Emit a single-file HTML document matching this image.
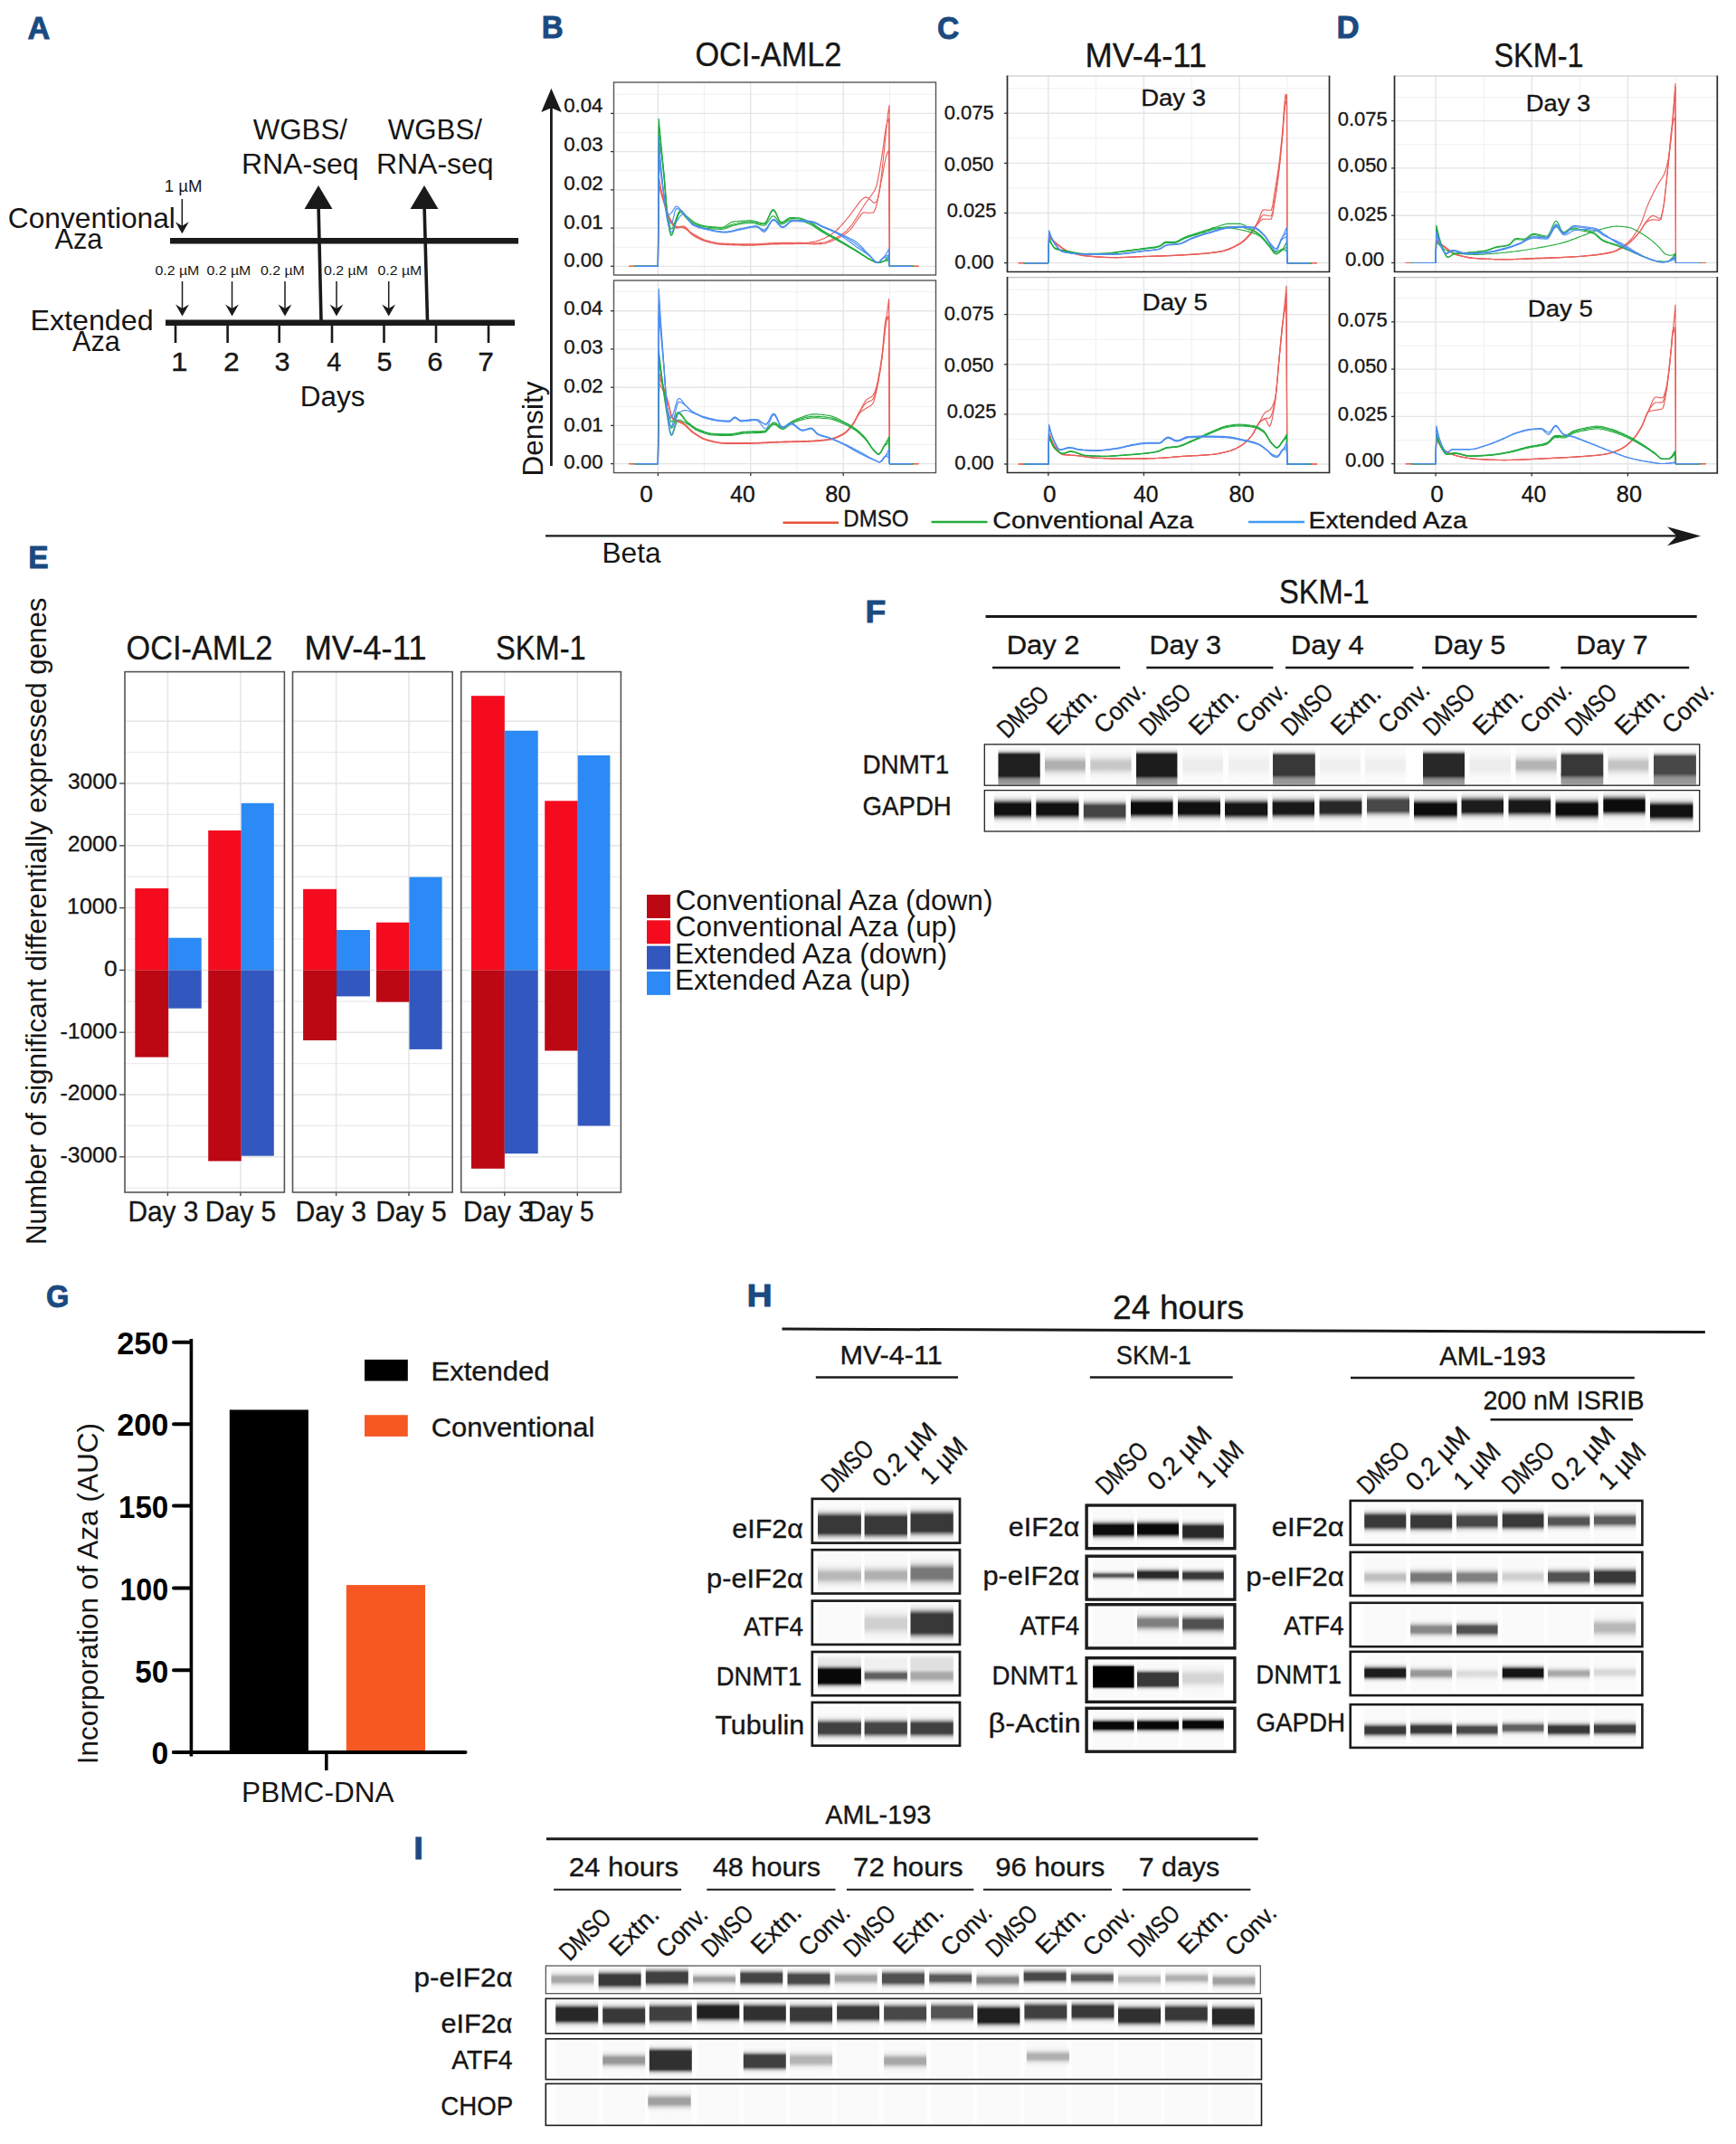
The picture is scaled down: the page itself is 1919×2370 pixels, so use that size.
<!DOCTYPE html>
<html lang="en">
<head>
<meta charset="utf-8">
<title>Figure</title>
<style>html,body{margin:0;padding:0;background:#fff}svg{display:block}.t{stroke:#161616;stroke-width:.35px}</style>
</head>
<body>
<svg width="1919" height="2370" viewBox="0 0 1919 2370" font-family='"Liberation Sans", sans-serif' fill="#161616">
<defs>
<linearGradient id="b1" x1="0" y1="0" x2="0" y2="1"><stop offset="0.000" stop-color="#989898" stop-opacity="0.00"/><stop offset="0.059" stop-color="#989898" stop-opacity="0.03"/><stop offset="0.113" stop-color="#989898" stop-opacity="0.11"/><stop offset="0.157" stop-color="#989898" stop-opacity="0.27"/><stop offset="0.194" stop-color="#989898" stop-opacity="0.50"/><stop offset="0.227" stop-color="#989898" stop-opacity="0.74"/><stop offset="0.251" stop-color="#989898" stop-opacity="0.91"/><stop offset="0.270" stop-color="#989898" stop-opacity="1.00"/><stop offset="0.730" stop-color="#989898" stop-opacity="1.00"/><stop offset="0.749" stop-color="#989898" stop-opacity="0.91"/><stop offset="0.773" stop-color="#989898" stop-opacity="0.74"/><stop offset="0.806" stop-color="#989898" stop-opacity="0.50"/><stop offset="0.843" stop-color="#989898" stop-opacity="0.27"/><stop offset="0.887" stop-color="#989898" stop-opacity="0.11"/><stop offset="0.941" stop-color="#989898" stop-opacity="0.03"/><stop offset="1.000" stop-color="#989898" stop-opacity="0.00"/></linearGradient>
<linearGradient id="b2" x1="0" y1="0" x2="0" y2="1"><stop offset="0.000" stop-color="#202020" stop-opacity="0.00"/><stop offset="0.044" stop-color="#202020" stop-opacity="0.03"/><stop offset="0.084" stop-color="#202020" stop-opacity="0.11"/><stop offset="0.116" stop-color="#202020" stop-opacity="0.27"/><stop offset="0.144" stop-color="#202020" stop-opacity="0.50"/><stop offset="0.168" stop-color="#202020" stop-opacity="0.74"/><stop offset="0.186" stop-color="#202020" stop-opacity="0.91"/><stop offset="0.200" stop-color="#202020" stop-opacity="1.00"/><stop offset="0.800" stop-color="#202020" stop-opacity="1.00"/><stop offset="0.814" stop-color="#202020" stop-opacity="0.91"/><stop offset="0.832" stop-color="#202020" stop-opacity="0.74"/><stop offset="0.856" stop-color="#202020" stop-opacity="0.50"/><stop offset="0.884" stop-color="#202020" stop-opacity="0.27"/><stop offset="0.916" stop-color="#202020" stop-opacity="0.11"/><stop offset="0.956" stop-color="#202020" stop-opacity="0.03"/><stop offset="1.000" stop-color="#202020" stop-opacity="0.00"/></linearGradient>
<linearGradient id="b3" x1="0" y1="0" x2="0" y2="1"><stop offset="0.000" stop-color="#b0b0b0" stop-opacity="0.00"/><stop offset="0.092" stop-color="#b0b0b0" stop-opacity="0.03"/><stop offset="0.176" stop-color="#b0b0b0" stop-opacity="0.11"/><stop offset="0.244" stop-color="#b0b0b0" stop-opacity="0.27"/><stop offset="0.302" stop-color="#b0b0b0" stop-opacity="0.50"/><stop offset="0.353" stop-color="#b0b0b0" stop-opacity="0.74"/><stop offset="0.391" stop-color="#b0b0b0" stop-opacity="0.91"/><stop offset="0.420" stop-color="#b0b0b0" stop-opacity="1.00"/><stop offset="0.580" stop-color="#b0b0b0" stop-opacity="1.00"/><stop offset="0.609" stop-color="#b0b0b0" stop-opacity="0.91"/><stop offset="0.647" stop-color="#b0b0b0" stop-opacity="0.74"/><stop offset="0.698" stop-color="#b0b0b0" stop-opacity="0.50"/><stop offset="0.756" stop-color="#b0b0b0" stop-opacity="0.27"/><stop offset="0.824" stop-color="#b0b0b0" stop-opacity="0.11"/><stop offset="0.908" stop-color="#b0b0b0" stop-opacity="0.03"/><stop offset="1.000" stop-color="#b0b0b0" stop-opacity="0.00"/></linearGradient>
<linearGradient id="b4" x1="0" y1="0" x2="0" y2="1"><stop offset="0.000" stop-color="#c8c8c8" stop-opacity="0.00"/><stop offset="0.092" stop-color="#c8c8c8" stop-opacity="0.03"/><stop offset="0.176" stop-color="#c8c8c8" stop-opacity="0.11"/><stop offset="0.244" stop-color="#c8c8c8" stop-opacity="0.27"/><stop offset="0.302" stop-color="#c8c8c8" stop-opacity="0.50"/><stop offset="0.353" stop-color="#c8c8c8" stop-opacity="0.74"/><stop offset="0.391" stop-color="#c8c8c8" stop-opacity="0.91"/><stop offset="0.420" stop-color="#c8c8c8" stop-opacity="1.00"/><stop offset="0.580" stop-color="#c8c8c8" stop-opacity="1.00"/><stop offset="0.609" stop-color="#c8c8c8" stop-opacity="0.91"/><stop offset="0.647" stop-color="#c8c8c8" stop-opacity="0.74"/><stop offset="0.698" stop-color="#c8c8c8" stop-opacity="0.50"/><stop offset="0.756" stop-color="#c8c8c8" stop-opacity="0.27"/><stop offset="0.824" stop-color="#c8c8c8" stop-opacity="0.11"/><stop offset="0.908" stop-color="#c8c8c8" stop-opacity="0.03"/><stop offset="1.000" stop-color="#c8c8c8" stop-opacity="0.00"/></linearGradient>
<linearGradient id="b5" x1="0" y1="0" x2="0" y2="1"><stop offset="0.000" stop-color="#1c1c1c" stop-opacity="0.00"/><stop offset="0.044" stop-color="#1c1c1c" stop-opacity="0.03"/><stop offset="0.084" stop-color="#1c1c1c" stop-opacity="0.11"/><stop offset="0.116" stop-color="#1c1c1c" stop-opacity="0.27"/><stop offset="0.144" stop-color="#1c1c1c" stop-opacity="0.50"/><stop offset="0.168" stop-color="#1c1c1c" stop-opacity="0.74"/><stop offset="0.186" stop-color="#1c1c1c" stop-opacity="0.91"/><stop offset="0.200" stop-color="#1c1c1c" stop-opacity="1.00"/><stop offset="0.800" stop-color="#1c1c1c" stop-opacity="1.00"/><stop offset="0.814" stop-color="#1c1c1c" stop-opacity="0.91"/><stop offset="0.832" stop-color="#1c1c1c" stop-opacity="0.74"/><stop offset="0.856" stop-color="#1c1c1c" stop-opacity="0.50"/><stop offset="0.884" stop-color="#1c1c1c" stop-opacity="0.27"/><stop offset="0.916" stop-color="#1c1c1c" stop-opacity="0.11"/><stop offset="0.956" stop-color="#1c1c1c" stop-opacity="0.03"/><stop offset="1.000" stop-color="#1c1c1c" stop-opacity="0.00"/></linearGradient>
<linearGradient id="b6" x1="0" y1="0" x2="0" y2="1"><stop offset="0.000" stop-color="#ececec" stop-opacity="0.00"/><stop offset="0.086" stop-color="#ececec" stop-opacity="0.03"/><stop offset="0.164" stop-color="#ececec" stop-opacity="0.11"/><stop offset="0.226" stop-color="#ececec" stop-opacity="0.27"/><stop offset="0.281" stop-color="#ececec" stop-opacity="0.50"/><stop offset="0.328" stop-color="#ececec" stop-opacity="0.74"/><stop offset="0.363" stop-color="#ececec" stop-opacity="0.91"/><stop offset="0.390" stop-color="#ececec" stop-opacity="1.00"/><stop offset="0.610" stop-color="#ececec" stop-opacity="1.00"/><stop offset="0.637" stop-color="#ececec" stop-opacity="0.91"/><stop offset="0.672" stop-color="#ececec" stop-opacity="0.74"/><stop offset="0.719" stop-color="#ececec" stop-opacity="0.50"/><stop offset="0.774" stop-color="#ececec" stop-opacity="0.27"/><stop offset="0.836" stop-color="#ececec" stop-opacity="0.11"/><stop offset="0.914" stop-color="#ececec" stop-opacity="0.03"/><stop offset="1.000" stop-color="#ececec" stop-opacity="0.00"/></linearGradient>
<linearGradient id="b7" x1="0" y1="0" x2="0" y2="1"><stop offset="0.000" stop-color="#f0f0f0" stop-opacity="0.00"/><stop offset="0.086" stop-color="#f0f0f0" stop-opacity="0.03"/><stop offset="0.164" stop-color="#f0f0f0" stop-opacity="0.11"/><stop offset="0.226" stop-color="#f0f0f0" stop-opacity="0.27"/><stop offset="0.281" stop-color="#f0f0f0" stop-opacity="0.50"/><stop offset="0.328" stop-color="#f0f0f0" stop-opacity="0.74"/><stop offset="0.363" stop-color="#f0f0f0" stop-opacity="0.91"/><stop offset="0.390" stop-color="#f0f0f0" stop-opacity="1.00"/><stop offset="0.610" stop-color="#f0f0f0" stop-opacity="1.00"/><stop offset="0.637" stop-color="#f0f0f0" stop-opacity="0.91"/><stop offset="0.672" stop-color="#f0f0f0" stop-opacity="0.74"/><stop offset="0.719" stop-color="#f0f0f0" stop-opacity="0.50"/><stop offset="0.774" stop-color="#f0f0f0" stop-opacity="0.27"/><stop offset="0.836" stop-color="#f0f0f0" stop-opacity="0.11"/><stop offset="0.914" stop-color="#f0f0f0" stop-opacity="0.03"/><stop offset="1.000" stop-color="#f0f0f0" stop-opacity="0.00"/></linearGradient>
<linearGradient id="b8" x1="0" y1="0" x2="0" y2="1"><stop offset="0.000" stop-color="#383838" stop-opacity="0.00"/><stop offset="0.046" stop-color="#383838" stop-opacity="0.03"/><stop offset="0.088" stop-color="#383838" stop-opacity="0.11"/><stop offset="0.122" stop-color="#383838" stop-opacity="0.27"/><stop offset="0.151" stop-color="#383838" stop-opacity="0.50"/><stop offset="0.176" stop-color="#383838" stop-opacity="0.74"/><stop offset="0.195" stop-color="#383838" stop-opacity="0.91"/><stop offset="0.210" stop-color="#383838" stop-opacity="1.00"/><stop offset="0.790" stop-color="#383838" stop-opacity="1.00"/><stop offset="0.805" stop-color="#383838" stop-opacity="0.91"/><stop offset="0.824" stop-color="#383838" stop-opacity="0.74"/><stop offset="0.849" stop-color="#383838" stop-opacity="0.50"/><stop offset="0.878" stop-color="#383838" stop-opacity="0.27"/><stop offset="0.912" stop-color="#383838" stop-opacity="0.11"/><stop offset="0.954" stop-color="#383838" stop-opacity="0.03"/><stop offset="1.000" stop-color="#383838" stop-opacity="0.00"/></linearGradient>
<linearGradient id="b9" x1="0" y1="0" x2="0" y2="1"><stop offset="0.000" stop-color="#282828" stop-opacity="0.00"/><stop offset="0.044" stop-color="#282828" stop-opacity="0.03"/><stop offset="0.084" stop-color="#282828" stop-opacity="0.11"/><stop offset="0.116" stop-color="#282828" stop-opacity="0.27"/><stop offset="0.144" stop-color="#282828" stop-opacity="0.50"/><stop offset="0.168" stop-color="#282828" stop-opacity="0.74"/><stop offset="0.186" stop-color="#282828" stop-opacity="0.91"/><stop offset="0.200" stop-color="#282828" stop-opacity="1.00"/><stop offset="0.800" stop-color="#282828" stop-opacity="1.00"/><stop offset="0.814" stop-color="#282828" stop-opacity="0.91"/><stop offset="0.832" stop-color="#282828" stop-opacity="0.74"/><stop offset="0.856" stop-color="#282828" stop-opacity="0.50"/><stop offset="0.884" stop-color="#282828" stop-opacity="0.27"/><stop offset="0.916" stop-color="#282828" stop-opacity="0.11"/><stop offset="0.956" stop-color="#282828" stop-opacity="0.03"/><stop offset="1.000" stop-color="#282828" stop-opacity="0.00"/></linearGradient>
<linearGradient id="b10" x1="0" y1="0" x2="0" y2="1"><stop offset="0.000" stop-color="#b4b4b4" stop-opacity="0.00"/><stop offset="0.092" stop-color="#b4b4b4" stop-opacity="0.03"/><stop offset="0.176" stop-color="#b4b4b4" stop-opacity="0.11"/><stop offset="0.244" stop-color="#b4b4b4" stop-opacity="0.27"/><stop offset="0.302" stop-color="#b4b4b4" stop-opacity="0.50"/><stop offset="0.353" stop-color="#b4b4b4" stop-opacity="0.74"/><stop offset="0.391" stop-color="#b4b4b4" stop-opacity="0.91"/><stop offset="0.420" stop-color="#b4b4b4" stop-opacity="1.00"/><stop offset="0.580" stop-color="#b4b4b4" stop-opacity="1.00"/><stop offset="0.609" stop-color="#b4b4b4" stop-opacity="0.91"/><stop offset="0.647" stop-color="#b4b4b4" stop-opacity="0.74"/><stop offset="0.698" stop-color="#b4b4b4" stop-opacity="0.50"/><stop offset="0.756" stop-color="#b4b4b4" stop-opacity="0.27"/><stop offset="0.824" stop-color="#b4b4b4" stop-opacity="0.11"/><stop offset="0.908" stop-color="#b4b4b4" stop-opacity="0.03"/><stop offset="1.000" stop-color="#b4b4b4" stop-opacity="0.00"/></linearGradient>
<linearGradient id="b11" x1="0" y1="0" x2="0" y2="1"><stop offset="0.000" stop-color="#c4c4c4" stop-opacity="0.00"/><stop offset="0.092" stop-color="#c4c4c4" stop-opacity="0.03"/><stop offset="0.176" stop-color="#c4c4c4" stop-opacity="0.11"/><stop offset="0.244" stop-color="#c4c4c4" stop-opacity="0.27"/><stop offset="0.302" stop-color="#c4c4c4" stop-opacity="0.50"/><stop offset="0.353" stop-color="#c4c4c4" stop-opacity="0.74"/><stop offset="0.391" stop-color="#c4c4c4" stop-opacity="0.91"/><stop offset="0.420" stop-color="#c4c4c4" stop-opacity="1.00"/><stop offset="0.580" stop-color="#c4c4c4" stop-opacity="1.00"/><stop offset="0.609" stop-color="#c4c4c4" stop-opacity="0.91"/><stop offset="0.647" stop-color="#c4c4c4" stop-opacity="0.74"/><stop offset="0.698" stop-color="#c4c4c4" stop-opacity="0.50"/><stop offset="0.756" stop-color="#c4c4c4" stop-opacity="0.27"/><stop offset="0.824" stop-color="#c4c4c4" stop-opacity="0.11"/><stop offset="0.908" stop-color="#c4c4c4" stop-opacity="0.03"/><stop offset="1.000" stop-color="#c4c4c4" stop-opacity="0.00"/></linearGradient>
<linearGradient id="b12" x1="0" y1="0" x2="0" y2="1"><stop offset="0.000" stop-color="#484848" stop-opacity="0.00"/><stop offset="0.051" stop-color="#484848" stop-opacity="0.03"/><stop offset="0.097" stop-color="#484848" stop-opacity="0.11"/><stop offset="0.133" stop-color="#484848" stop-opacity="0.27"/><stop offset="0.166" stop-color="#484848" stop-opacity="0.50"/><stop offset="0.193" stop-color="#484848" stop-opacity="0.74"/><stop offset="0.214" stop-color="#484848" stop-opacity="0.91"/><stop offset="0.230" stop-color="#484848" stop-opacity="1.00"/><stop offset="0.770" stop-color="#484848" stop-opacity="1.00"/><stop offset="0.786" stop-color="#484848" stop-opacity="0.91"/><stop offset="0.807" stop-color="#484848" stop-opacity="0.74"/><stop offset="0.834" stop-color="#484848" stop-opacity="0.50"/><stop offset="0.867" stop-color="#484848" stop-opacity="0.27"/><stop offset="0.903" stop-color="#484848" stop-opacity="0.11"/><stop offset="0.949" stop-color="#484848" stop-opacity="0.03"/><stop offset="1.000" stop-color="#484848" stop-opacity="0.00"/></linearGradient>
<linearGradient id="b13" x1="0" y1="0" x2="0" y2="1"><stop offset="0.000" stop-color="#101010" stop-opacity="0.00"/><stop offset="0.075" stop-color="#101010" stop-opacity="0.03"/><stop offset="0.143" stop-color="#101010" stop-opacity="0.11"/><stop offset="0.197" stop-color="#101010" stop-opacity="0.27"/><stop offset="0.245" stop-color="#101010" stop-opacity="0.50"/><stop offset="0.286" stop-color="#101010" stop-opacity="0.74"/><stop offset="0.316" stop-color="#101010" stop-opacity="0.91"/><stop offset="0.340" stop-color="#101010" stop-opacity="1.00"/><stop offset="0.660" stop-color="#101010" stop-opacity="1.00"/><stop offset="0.684" stop-color="#101010" stop-opacity="0.91"/><stop offset="0.714" stop-color="#101010" stop-opacity="0.74"/><stop offset="0.755" stop-color="#101010" stop-opacity="0.50"/><stop offset="0.803" stop-color="#101010" stop-opacity="0.27"/><stop offset="0.857" stop-color="#101010" stop-opacity="0.11"/><stop offset="0.925" stop-color="#101010" stop-opacity="0.03"/><stop offset="1.000" stop-color="#101010" stop-opacity="0.00"/></linearGradient>
<linearGradient id="b14" x1="0" y1="0" x2="0" y2="1"><stop offset="0.000" stop-color="#444444" stop-opacity="0.00"/><stop offset="0.075" stop-color="#444444" stop-opacity="0.03"/><stop offset="0.143" stop-color="#444444" stop-opacity="0.11"/><stop offset="0.197" stop-color="#444444" stop-opacity="0.27"/><stop offset="0.245" stop-color="#444444" stop-opacity="0.50"/><stop offset="0.286" stop-color="#444444" stop-opacity="0.74"/><stop offset="0.316" stop-color="#444444" stop-opacity="0.91"/><stop offset="0.340" stop-color="#444444" stop-opacity="1.00"/><stop offset="0.660" stop-color="#444444" stop-opacity="1.00"/><stop offset="0.684" stop-color="#444444" stop-opacity="0.91"/><stop offset="0.714" stop-color="#444444" stop-opacity="0.74"/><stop offset="0.755" stop-color="#444444" stop-opacity="0.50"/><stop offset="0.803" stop-color="#444444" stop-opacity="0.27"/><stop offset="0.857" stop-color="#444444" stop-opacity="0.11"/><stop offset="0.925" stop-color="#444444" stop-opacity="0.03"/><stop offset="1.000" stop-color="#444444" stop-opacity="0.00"/></linearGradient>
<linearGradient id="b15" x1="0" y1="0" x2="0" y2="1"><stop offset="0.000" stop-color="#0c0c0c" stop-opacity="0.00"/><stop offset="0.075" stop-color="#0c0c0c" stop-opacity="0.03"/><stop offset="0.143" stop-color="#0c0c0c" stop-opacity="0.11"/><stop offset="0.197" stop-color="#0c0c0c" stop-opacity="0.27"/><stop offset="0.245" stop-color="#0c0c0c" stop-opacity="0.50"/><stop offset="0.286" stop-color="#0c0c0c" stop-opacity="0.74"/><stop offset="0.316" stop-color="#0c0c0c" stop-opacity="0.91"/><stop offset="0.340" stop-color="#0c0c0c" stop-opacity="1.00"/><stop offset="0.660" stop-color="#0c0c0c" stop-opacity="1.00"/><stop offset="0.684" stop-color="#0c0c0c" stop-opacity="0.91"/><stop offset="0.714" stop-color="#0c0c0c" stop-opacity="0.74"/><stop offset="0.755" stop-color="#0c0c0c" stop-opacity="0.50"/><stop offset="0.803" stop-color="#0c0c0c" stop-opacity="0.27"/><stop offset="0.857" stop-color="#0c0c0c" stop-opacity="0.11"/><stop offset="0.925" stop-color="#0c0c0c" stop-opacity="0.03"/><stop offset="1.000" stop-color="#0c0c0c" stop-opacity="0.00"/></linearGradient>
<linearGradient id="b16" x1="0" y1="0" x2="0" y2="1"><stop offset="0.000" stop-color="#141414" stop-opacity="0.00"/><stop offset="0.075" stop-color="#141414" stop-opacity="0.03"/><stop offset="0.143" stop-color="#141414" stop-opacity="0.11"/><stop offset="0.197" stop-color="#141414" stop-opacity="0.27"/><stop offset="0.245" stop-color="#141414" stop-opacity="0.50"/><stop offset="0.286" stop-color="#141414" stop-opacity="0.74"/><stop offset="0.316" stop-color="#141414" stop-opacity="0.91"/><stop offset="0.340" stop-color="#141414" stop-opacity="1.00"/><stop offset="0.660" stop-color="#141414" stop-opacity="1.00"/><stop offset="0.684" stop-color="#141414" stop-opacity="0.91"/><stop offset="0.714" stop-color="#141414" stop-opacity="0.74"/><stop offset="0.755" stop-color="#141414" stop-opacity="0.50"/><stop offset="0.803" stop-color="#141414" stop-opacity="0.27"/><stop offset="0.857" stop-color="#141414" stop-opacity="0.11"/><stop offset="0.925" stop-color="#141414" stop-opacity="0.03"/><stop offset="1.000" stop-color="#141414" stop-opacity="0.00"/></linearGradient>
<linearGradient id="b17" x1="0" y1="0" x2="0" y2="1"><stop offset="0.000" stop-color="#181818" stop-opacity="0.00"/><stop offset="0.075" stop-color="#181818" stop-opacity="0.03"/><stop offset="0.143" stop-color="#181818" stop-opacity="0.11"/><stop offset="0.197" stop-color="#181818" stop-opacity="0.27"/><stop offset="0.245" stop-color="#181818" stop-opacity="0.50"/><stop offset="0.286" stop-color="#181818" stop-opacity="0.74"/><stop offset="0.316" stop-color="#181818" stop-opacity="0.91"/><stop offset="0.340" stop-color="#181818" stop-opacity="1.00"/><stop offset="0.660" stop-color="#181818" stop-opacity="1.00"/><stop offset="0.684" stop-color="#181818" stop-opacity="0.91"/><stop offset="0.714" stop-color="#181818" stop-opacity="0.74"/><stop offset="0.755" stop-color="#181818" stop-opacity="0.50"/><stop offset="0.803" stop-color="#181818" stop-opacity="0.27"/><stop offset="0.857" stop-color="#181818" stop-opacity="0.11"/><stop offset="0.925" stop-color="#181818" stop-opacity="0.03"/><stop offset="1.000" stop-color="#181818" stop-opacity="0.00"/></linearGradient>
<linearGradient id="b18" x1="0" y1="0" x2="0" y2="1"><stop offset="0.000" stop-color="#282828" stop-opacity="0.00"/><stop offset="0.075" stop-color="#282828" stop-opacity="0.03"/><stop offset="0.143" stop-color="#282828" stop-opacity="0.11"/><stop offset="0.197" stop-color="#282828" stop-opacity="0.27"/><stop offset="0.245" stop-color="#282828" stop-opacity="0.50"/><stop offset="0.286" stop-color="#282828" stop-opacity="0.74"/><stop offset="0.316" stop-color="#282828" stop-opacity="0.91"/><stop offset="0.340" stop-color="#282828" stop-opacity="1.00"/><stop offset="0.660" stop-color="#282828" stop-opacity="1.00"/><stop offset="0.684" stop-color="#282828" stop-opacity="0.91"/><stop offset="0.714" stop-color="#282828" stop-opacity="0.74"/><stop offset="0.755" stop-color="#282828" stop-opacity="0.50"/><stop offset="0.803" stop-color="#282828" stop-opacity="0.27"/><stop offset="0.857" stop-color="#282828" stop-opacity="0.11"/><stop offset="0.925" stop-color="#282828" stop-opacity="0.03"/><stop offset="1.000" stop-color="#282828" stop-opacity="0.00"/></linearGradient>
<linearGradient id="b19" x1="0" y1="0" x2="0" y2="1"><stop offset="0.000" stop-color="#484848" stop-opacity="0.00"/><stop offset="0.075" stop-color="#484848" stop-opacity="0.03"/><stop offset="0.143" stop-color="#484848" stop-opacity="0.11"/><stop offset="0.197" stop-color="#484848" stop-opacity="0.27"/><stop offset="0.245" stop-color="#484848" stop-opacity="0.50"/><stop offset="0.286" stop-color="#484848" stop-opacity="0.74"/><stop offset="0.316" stop-color="#484848" stop-opacity="0.91"/><stop offset="0.340" stop-color="#484848" stop-opacity="1.00"/><stop offset="0.660" stop-color="#484848" stop-opacity="1.00"/><stop offset="0.684" stop-color="#484848" stop-opacity="0.91"/><stop offset="0.714" stop-color="#484848" stop-opacity="0.74"/><stop offset="0.755" stop-color="#484848" stop-opacity="0.50"/><stop offset="0.803" stop-color="#484848" stop-opacity="0.27"/><stop offset="0.857" stop-color="#484848" stop-opacity="0.11"/><stop offset="0.925" stop-color="#484848" stop-opacity="0.03"/><stop offset="1.000" stop-color="#484848" stop-opacity="0.00"/></linearGradient>
<linearGradient id="b20" x1="0" y1="0" x2="0" y2="1"><stop offset="0.000" stop-color="#1c1c1c" stop-opacity="0.00"/><stop offset="0.075" stop-color="#1c1c1c" stop-opacity="0.03"/><stop offset="0.143" stop-color="#1c1c1c" stop-opacity="0.11"/><stop offset="0.197" stop-color="#1c1c1c" stop-opacity="0.27"/><stop offset="0.245" stop-color="#1c1c1c" stop-opacity="0.50"/><stop offset="0.286" stop-color="#1c1c1c" stop-opacity="0.74"/><stop offset="0.316" stop-color="#1c1c1c" stop-opacity="0.91"/><stop offset="0.340" stop-color="#1c1c1c" stop-opacity="1.00"/><stop offset="0.660" stop-color="#1c1c1c" stop-opacity="1.00"/><stop offset="0.684" stop-color="#1c1c1c" stop-opacity="0.91"/><stop offset="0.714" stop-color="#1c1c1c" stop-opacity="0.74"/><stop offset="0.755" stop-color="#1c1c1c" stop-opacity="0.50"/><stop offset="0.803" stop-color="#1c1c1c" stop-opacity="0.27"/><stop offset="0.857" stop-color="#1c1c1c" stop-opacity="0.11"/><stop offset="0.925" stop-color="#1c1c1c" stop-opacity="0.03"/><stop offset="1.000" stop-color="#1c1c1c" stop-opacity="0.00"/></linearGradient>
<linearGradient id="b21" x1="0" y1="0" x2="0" y2="1"><stop offset="0.000" stop-color="#383838" stop-opacity="0.00"/><stop offset="0.064" stop-color="#383838" stop-opacity="0.03"/><stop offset="0.122" stop-color="#383838" stop-opacity="0.11"/><stop offset="0.168" stop-color="#383838" stop-opacity="0.27"/><stop offset="0.209" stop-color="#383838" stop-opacity="0.50"/><stop offset="0.244" stop-color="#383838" stop-opacity="0.74"/><stop offset="0.270" stop-color="#383838" stop-opacity="0.91"/><stop offset="0.290" stop-color="#383838" stop-opacity="1.00"/><stop offset="0.710" stop-color="#383838" stop-opacity="1.00"/><stop offset="0.730" stop-color="#383838" stop-opacity="0.91"/><stop offset="0.756" stop-color="#383838" stop-opacity="0.74"/><stop offset="0.791" stop-color="#383838" stop-opacity="0.50"/><stop offset="0.832" stop-color="#383838" stop-opacity="0.27"/><stop offset="0.878" stop-color="#383838" stop-opacity="0.11"/><stop offset="0.936" stop-color="#383838" stop-opacity="0.03"/><stop offset="1.000" stop-color="#383838" stop-opacity="0.00"/></linearGradient>
<linearGradient id="b22" x1="0" y1="0" x2="0" y2="1"><stop offset="0.000" stop-color="#b8b8b8" stop-opacity="0.00"/><stop offset="0.095" stop-color="#b8b8b8" stop-opacity="0.03"/><stop offset="0.181" stop-color="#b8b8b8" stop-opacity="0.11"/><stop offset="0.249" stop-color="#b8b8b8" stop-opacity="0.27"/><stop offset="0.310" stop-color="#b8b8b8" stop-opacity="0.50"/><stop offset="0.361" stop-color="#b8b8b8" stop-opacity="0.74"/><stop offset="0.400" stop-color="#b8b8b8" stop-opacity="0.91"/><stop offset="0.430" stop-color="#b8b8b8" stop-opacity="1.00"/><stop offset="0.570" stop-color="#b8b8b8" stop-opacity="1.00"/><stop offset="0.600" stop-color="#b8b8b8" stop-opacity="0.91"/><stop offset="0.639" stop-color="#b8b8b8" stop-opacity="0.74"/><stop offset="0.690" stop-color="#b8b8b8" stop-opacity="0.50"/><stop offset="0.751" stop-color="#b8b8b8" stop-opacity="0.27"/><stop offset="0.819" stop-color="#b8b8b8" stop-opacity="0.11"/><stop offset="0.905" stop-color="#b8b8b8" stop-opacity="0.03"/><stop offset="1.000" stop-color="#b8b8b8" stop-opacity="0.00"/></linearGradient>
<linearGradient id="b23" x1="0" y1="0" x2="0" y2="1"><stop offset="0.000" stop-color="#b0b0b0" stop-opacity="0.00"/><stop offset="0.095" stop-color="#b0b0b0" stop-opacity="0.03"/><stop offset="0.181" stop-color="#b0b0b0" stop-opacity="0.11"/><stop offset="0.249" stop-color="#b0b0b0" stop-opacity="0.27"/><stop offset="0.310" stop-color="#b0b0b0" stop-opacity="0.50"/><stop offset="0.361" stop-color="#b0b0b0" stop-opacity="0.74"/><stop offset="0.400" stop-color="#b0b0b0" stop-opacity="0.91"/><stop offset="0.430" stop-color="#b0b0b0" stop-opacity="1.00"/><stop offset="0.570" stop-color="#b0b0b0" stop-opacity="1.00"/><stop offset="0.600" stop-color="#b0b0b0" stop-opacity="0.91"/><stop offset="0.639" stop-color="#b0b0b0" stop-opacity="0.74"/><stop offset="0.690" stop-color="#b0b0b0" stop-opacity="0.50"/><stop offset="0.751" stop-color="#b0b0b0" stop-opacity="0.27"/><stop offset="0.819" stop-color="#b0b0b0" stop-opacity="0.11"/><stop offset="0.905" stop-color="#b0b0b0" stop-opacity="0.03"/><stop offset="1.000" stop-color="#b0b0b0" stop-opacity="0.00"/></linearGradient>
<linearGradient id="b24" x1="0" y1="0" x2="0" y2="1"><stop offset="0.000" stop-color="#787878" stop-opacity="0.00"/><stop offset="0.084" stop-color="#787878" stop-opacity="0.03"/><stop offset="0.160" stop-color="#787878" stop-opacity="0.11"/><stop offset="0.220" stop-color="#787878" stop-opacity="0.27"/><stop offset="0.274" stop-color="#787878" stop-opacity="0.50"/><stop offset="0.319" stop-color="#787878" stop-opacity="0.74"/><stop offset="0.353" stop-color="#787878" stop-opacity="0.91"/><stop offset="0.380" stop-color="#787878" stop-opacity="1.00"/><stop offset="0.620" stop-color="#787878" stop-opacity="1.00"/><stop offset="0.647" stop-color="#787878" stop-opacity="0.91"/><stop offset="0.681" stop-color="#787878" stop-opacity="0.74"/><stop offset="0.726" stop-color="#787878" stop-opacity="0.50"/><stop offset="0.780" stop-color="#787878" stop-opacity="0.27"/><stop offset="0.840" stop-color="#787878" stop-opacity="0.11"/><stop offset="0.916" stop-color="#787878" stop-opacity="0.03"/><stop offset="1.000" stop-color="#787878" stop-opacity="0.00"/></linearGradient>
<linearGradient id="b25" x1="0" y1="0" x2="0" y2="1"><stop offset="0.000" stop-color="#d0d0d0" stop-opacity="0.00"/><stop offset="0.090" stop-color="#d0d0d0" stop-opacity="0.03"/><stop offset="0.172" stop-color="#d0d0d0" stop-opacity="0.11"/><stop offset="0.238" stop-color="#d0d0d0" stop-opacity="0.27"/><stop offset="0.295" stop-color="#d0d0d0" stop-opacity="0.50"/><stop offset="0.344" stop-color="#d0d0d0" stop-opacity="0.74"/><stop offset="0.381" stop-color="#d0d0d0" stop-opacity="0.91"/><stop offset="0.410" stop-color="#d0d0d0" stop-opacity="1.00"/><stop offset="0.590" stop-color="#d0d0d0" stop-opacity="1.00"/><stop offset="0.619" stop-color="#d0d0d0" stop-opacity="0.91"/><stop offset="0.656" stop-color="#d0d0d0" stop-opacity="0.74"/><stop offset="0.705" stop-color="#d0d0d0" stop-opacity="0.50"/><stop offset="0.762" stop-color="#d0d0d0" stop-opacity="0.27"/><stop offset="0.828" stop-color="#d0d0d0" stop-opacity="0.11"/><stop offset="0.910" stop-color="#d0d0d0" stop-opacity="0.03"/><stop offset="1.000" stop-color="#d0d0d0" stop-opacity="0.00"/></linearGradient>
<linearGradient id="b26" x1="0" y1="0" x2="0" y2="1"><stop offset="0.000" stop-color="#e8e8e8" stop-opacity="0.00"/><stop offset="0.090" stop-color="#e8e8e8" stop-opacity="0.03"/><stop offset="0.172" stop-color="#e8e8e8" stop-opacity="0.11"/><stop offset="0.238" stop-color="#e8e8e8" stop-opacity="0.27"/><stop offset="0.295" stop-color="#e8e8e8" stop-opacity="0.50"/><stop offset="0.344" stop-color="#e8e8e8" stop-opacity="0.74"/><stop offset="0.381" stop-color="#e8e8e8" stop-opacity="0.91"/><stop offset="0.410" stop-color="#e8e8e8" stop-opacity="1.00"/><stop offset="0.590" stop-color="#e8e8e8" stop-opacity="1.00"/><stop offset="0.619" stop-color="#e8e8e8" stop-opacity="0.91"/><stop offset="0.656" stop-color="#e8e8e8" stop-opacity="0.74"/><stop offset="0.705" stop-color="#e8e8e8" stop-opacity="0.50"/><stop offset="0.762" stop-color="#e8e8e8" stop-opacity="0.27"/><stop offset="0.828" stop-color="#e8e8e8" stop-opacity="0.11"/><stop offset="0.910" stop-color="#e8e8e8" stop-opacity="0.03"/><stop offset="1.000" stop-color="#e8e8e8" stop-opacity="0.00"/></linearGradient>
<linearGradient id="b27" x1="0" y1="0" x2="0" y2="1"><stop offset="0.000" stop-color="#080808" stop-opacity="0.00"/><stop offset="0.062" stop-color="#080808" stop-opacity="0.03"/><stop offset="0.118" stop-color="#080808" stop-opacity="0.11"/><stop offset="0.162" stop-color="#080808" stop-opacity="0.27"/><stop offset="0.202" stop-color="#080808" stop-opacity="0.50"/><stop offset="0.235" stop-color="#080808" stop-opacity="0.74"/><stop offset="0.260" stop-color="#080808" stop-opacity="0.91"/><stop offset="0.280" stop-color="#080808" stop-opacity="1.00"/><stop offset="0.720" stop-color="#080808" stop-opacity="1.00"/><stop offset="0.740" stop-color="#080808" stop-opacity="0.91"/><stop offset="0.765" stop-color="#080808" stop-opacity="0.74"/><stop offset="0.798" stop-color="#080808" stop-opacity="0.50"/><stop offset="0.838" stop-color="#080808" stop-opacity="0.27"/><stop offset="0.882" stop-color="#080808" stop-opacity="0.11"/><stop offset="0.938" stop-color="#080808" stop-opacity="0.03"/><stop offset="1.000" stop-color="#080808" stop-opacity="0.00"/></linearGradient>
<linearGradient id="b28" x1="0" y1="0" x2="0" y2="1"><stop offset="0.000" stop-color="#f0f0f0" stop-opacity="0.00"/><stop offset="0.084" stop-color="#f0f0f0" stop-opacity="0.03"/><stop offset="0.160" stop-color="#f0f0f0" stop-opacity="0.11"/><stop offset="0.220" stop-color="#f0f0f0" stop-opacity="0.27"/><stop offset="0.274" stop-color="#f0f0f0" stop-opacity="0.50"/><stop offset="0.319" stop-color="#f0f0f0" stop-opacity="0.74"/><stop offset="0.353" stop-color="#f0f0f0" stop-opacity="0.91"/><stop offset="0.380" stop-color="#f0f0f0" stop-opacity="1.00"/><stop offset="0.620" stop-color="#f0f0f0" stop-opacity="1.00"/><stop offset="0.647" stop-color="#f0f0f0" stop-opacity="0.91"/><stop offset="0.681" stop-color="#f0f0f0" stop-opacity="0.74"/><stop offset="0.726" stop-color="#f0f0f0" stop-opacity="0.50"/><stop offset="0.780" stop-color="#f0f0f0" stop-opacity="0.27"/><stop offset="0.840" stop-color="#f0f0f0" stop-opacity="0.11"/><stop offset="0.916" stop-color="#f0f0f0" stop-opacity="0.03"/><stop offset="1.000" stop-color="#f0f0f0" stop-opacity="0.00"/></linearGradient>
<linearGradient id="b29" x1="0" y1="0" x2="0" y2="1"><stop offset="0.000" stop-color="#606060" stop-opacity="0.00"/><stop offset="0.090" stop-color="#606060" stop-opacity="0.03"/><stop offset="0.172" stop-color="#606060" stop-opacity="0.11"/><stop offset="0.238" stop-color="#606060" stop-opacity="0.27"/><stop offset="0.295" stop-color="#606060" stop-opacity="0.50"/><stop offset="0.344" stop-color="#606060" stop-opacity="0.74"/><stop offset="0.381" stop-color="#606060" stop-opacity="0.91"/><stop offset="0.410" stop-color="#606060" stop-opacity="1.00"/><stop offset="0.590" stop-color="#606060" stop-opacity="1.00"/><stop offset="0.619" stop-color="#606060" stop-opacity="0.91"/><stop offset="0.656" stop-color="#606060" stop-opacity="0.74"/><stop offset="0.705" stop-color="#606060" stop-opacity="0.50"/><stop offset="0.762" stop-color="#606060" stop-opacity="0.27"/><stop offset="0.828" stop-color="#606060" stop-opacity="0.11"/><stop offset="0.910" stop-color="#606060" stop-opacity="0.03"/><stop offset="1.000" stop-color="#606060" stop-opacity="0.00"/></linearGradient>
<linearGradient id="b30" x1="0" y1="0" x2="0" y2="1"><stop offset="0.000" stop-color="#e0e0e0" stop-opacity="0.00"/><stop offset="0.077" stop-color="#e0e0e0" stop-opacity="0.03"/><stop offset="0.147" stop-color="#e0e0e0" stop-opacity="0.11"/><stop offset="0.203" stop-color="#e0e0e0" stop-opacity="0.27"/><stop offset="0.252" stop-color="#e0e0e0" stop-opacity="0.50"/><stop offset="0.294" stop-color="#e0e0e0" stop-opacity="0.74"/><stop offset="0.326" stop-color="#e0e0e0" stop-opacity="0.91"/><stop offset="0.350" stop-color="#e0e0e0" stop-opacity="1.00"/><stop offset="0.650" stop-color="#e0e0e0" stop-opacity="1.00"/><stop offset="0.674" stop-color="#e0e0e0" stop-opacity="0.91"/><stop offset="0.706" stop-color="#e0e0e0" stop-opacity="0.74"/><stop offset="0.748" stop-color="#e0e0e0" stop-opacity="0.50"/><stop offset="0.797" stop-color="#e0e0e0" stop-opacity="0.27"/><stop offset="0.853" stop-color="#e0e0e0" stop-opacity="0.11"/><stop offset="0.923" stop-color="#e0e0e0" stop-opacity="0.03"/><stop offset="1.000" stop-color="#e0e0e0" stop-opacity="0.00"/></linearGradient>
<linearGradient id="b31" x1="0" y1="0" x2="0" y2="1"><stop offset="0.000" stop-color="#a8a8a8" stop-opacity="0.00"/><stop offset="0.090" stop-color="#a8a8a8" stop-opacity="0.03"/><stop offset="0.172" stop-color="#a8a8a8" stop-opacity="0.11"/><stop offset="0.238" stop-color="#a8a8a8" stop-opacity="0.27"/><stop offset="0.295" stop-color="#a8a8a8" stop-opacity="0.50"/><stop offset="0.344" stop-color="#a8a8a8" stop-opacity="0.74"/><stop offset="0.381" stop-color="#a8a8a8" stop-opacity="0.91"/><stop offset="0.410" stop-color="#a8a8a8" stop-opacity="1.00"/><stop offset="0.590" stop-color="#a8a8a8" stop-opacity="1.00"/><stop offset="0.619" stop-color="#a8a8a8" stop-opacity="0.91"/><stop offset="0.656" stop-color="#a8a8a8" stop-opacity="0.74"/><stop offset="0.705" stop-color="#a8a8a8" stop-opacity="0.50"/><stop offset="0.762" stop-color="#a8a8a8" stop-opacity="0.27"/><stop offset="0.828" stop-color="#a8a8a8" stop-opacity="0.11"/><stop offset="0.910" stop-color="#a8a8a8" stop-opacity="0.03"/><stop offset="1.000" stop-color="#a8a8a8" stop-opacity="0.00"/></linearGradient>
<linearGradient id="b32" x1="0" y1="0" x2="0" y2="1"><stop offset="0.000" stop-color="#404040" stop-opacity="0.00"/><stop offset="0.075" stop-color="#404040" stop-opacity="0.03"/><stop offset="0.143" stop-color="#404040" stop-opacity="0.11"/><stop offset="0.197" stop-color="#404040" stop-opacity="0.27"/><stop offset="0.245" stop-color="#404040" stop-opacity="0.50"/><stop offset="0.286" stop-color="#404040" stop-opacity="0.74"/><stop offset="0.316" stop-color="#404040" stop-opacity="0.91"/><stop offset="0.340" stop-color="#404040" stop-opacity="1.00"/><stop offset="0.660" stop-color="#404040" stop-opacity="1.00"/><stop offset="0.684" stop-color="#404040" stop-opacity="0.91"/><stop offset="0.714" stop-color="#404040" stop-opacity="0.74"/><stop offset="0.755" stop-color="#404040" stop-opacity="0.50"/><stop offset="0.803" stop-color="#404040" stop-opacity="0.27"/><stop offset="0.857" stop-color="#404040" stop-opacity="0.11"/><stop offset="0.925" stop-color="#404040" stop-opacity="0.03"/><stop offset="1.000" stop-color="#404040" stop-opacity="0.00"/></linearGradient>
<linearGradient id="b33" x1="0" y1="0" x2="0" y2="1"><stop offset="0.000" stop-color="#080808" stop-opacity="0.00"/><stop offset="0.075" stop-color="#080808" stop-opacity="0.03"/><stop offset="0.143" stop-color="#080808" stop-opacity="0.11"/><stop offset="0.197" stop-color="#080808" stop-opacity="0.27"/><stop offset="0.245" stop-color="#080808" stop-opacity="0.50"/><stop offset="0.286" stop-color="#080808" stop-opacity="0.74"/><stop offset="0.316" stop-color="#080808" stop-opacity="0.91"/><stop offset="0.340" stop-color="#080808" stop-opacity="1.00"/><stop offset="0.660" stop-color="#080808" stop-opacity="1.00"/><stop offset="0.684" stop-color="#080808" stop-opacity="0.91"/><stop offset="0.714" stop-color="#080808" stop-opacity="0.74"/><stop offset="0.755" stop-color="#080808" stop-opacity="0.50"/><stop offset="0.803" stop-color="#080808" stop-opacity="0.27"/><stop offset="0.857" stop-color="#080808" stop-opacity="0.11"/><stop offset="0.925" stop-color="#080808" stop-opacity="0.03"/><stop offset="1.000" stop-color="#080808" stop-opacity="0.00"/></linearGradient>
<linearGradient id="b34" x1="0" y1="0" x2="0" y2="1"><stop offset="0.000" stop-color="#282828" stop-opacity="0.00"/><stop offset="0.070" stop-color="#282828" stop-opacity="0.03"/><stop offset="0.134" stop-color="#282828" stop-opacity="0.11"/><stop offset="0.186" stop-color="#282828" stop-opacity="0.27"/><stop offset="0.230" stop-color="#282828" stop-opacity="0.50"/><stop offset="0.269" stop-color="#282828" stop-opacity="0.74"/><stop offset="0.298" stop-color="#282828" stop-opacity="0.91"/><stop offset="0.320" stop-color="#282828" stop-opacity="1.00"/><stop offset="0.680" stop-color="#282828" stop-opacity="1.00"/><stop offset="0.702" stop-color="#282828" stop-opacity="0.91"/><stop offset="0.731" stop-color="#282828" stop-opacity="0.74"/><stop offset="0.770" stop-color="#282828" stop-opacity="0.50"/><stop offset="0.814" stop-color="#282828" stop-opacity="0.27"/><stop offset="0.866" stop-color="#282828" stop-opacity="0.11"/><stop offset="0.930" stop-color="#282828" stop-opacity="0.03"/><stop offset="1.000" stop-color="#282828" stop-opacity="0.00"/></linearGradient>
<linearGradient id="b35" x1="0" y1="0" x2="0" y2="1"><stop offset="0.000" stop-color="#545454" stop-opacity="0.00"/><stop offset="0.099" stop-color="#545454" stop-opacity="0.03"/><stop offset="0.189" stop-color="#545454" stop-opacity="0.11"/><stop offset="0.261" stop-color="#545454" stop-opacity="0.27"/><stop offset="0.324" stop-color="#545454" stop-opacity="0.50"/><stop offset="0.378" stop-color="#545454" stop-opacity="0.74"/><stop offset="0.419" stop-color="#545454" stop-opacity="0.91"/><stop offset="0.450" stop-color="#545454" stop-opacity="1.00"/><stop offset="0.550" stop-color="#545454" stop-opacity="1.00"/><stop offset="0.581" stop-color="#545454" stop-opacity="0.91"/><stop offset="0.622" stop-color="#545454" stop-opacity="0.74"/><stop offset="0.676" stop-color="#545454" stop-opacity="0.50"/><stop offset="0.739" stop-color="#545454" stop-opacity="0.27"/><stop offset="0.811" stop-color="#545454" stop-opacity="0.11"/><stop offset="0.901" stop-color="#545454" stop-opacity="0.03"/><stop offset="1.000" stop-color="#545454" stop-opacity="0.00"/></linearGradient>
<linearGradient id="b36" x1="0" y1="0" x2="0" y2="1"><stop offset="0.000" stop-color="#282828" stop-opacity="0.00"/><stop offset="0.086" stop-color="#282828" stop-opacity="0.03"/><stop offset="0.164" stop-color="#282828" stop-opacity="0.11"/><stop offset="0.226" stop-color="#282828" stop-opacity="0.27"/><stop offset="0.281" stop-color="#282828" stop-opacity="0.50"/><stop offset="0.328" stop-color="#282828" stop-opacity="0.74"/><stop offset="0.363" stop-color="#282828" stop-opacity="0.91"/><stop offset="0.390" stop-color="#282828" stop-opacity="1.00"/><stop offset="0.610" stop-color="#282828" stop-opacity="1.00"/><stop offset="0.637" stop-color="#282828" stop-opacity="0.91"/><stop offset="0.672" stop-color="#282828" stop-opacity="0.74"/><stop offset="0.719" stop-color="#282828" stop-opacity="0.50"/><stop offset="0.774" stop-color="#282828" stop-opacity="0.27"/><stop offset="0.836" stop-color="#282828" stop-opacity="0.11"/><stop offset="0.914" stop-color="#282828" stop-opacity="0.03"/><stop offset="1.000" stop-color="#282828" stop-opacity="0.00"/></linearGradient>
<linearGradient id="b37" x1="0" y1="0" x2="0" y2="1"><stop offset="0.000" stop-color="#383838" stop-opacity="0.00"/><stop offset="0.086" stop-color="#383838" stop-opacity="0.03"/><stop offset="0.164" stop-color="#383838" stop-opacity="0.11"/><stop offset="0.226" stop-color="#383838" stop-opacity="0.27"/><stop offset="0.281" stop-color="#383838" stop-opacity="0.50"/><stop offset="0.328" stop-color="#383838" stop-opacity="0.74"/><stop offset="0.363" stop-color="#383838" stop-opacity="0.91"/><stop offset="0.390" stop-color="#383838" stop-opacity="1.00"/><stop offset="0.610" stop-color="#383838" stop-opacity="1.00"/><stop offset="0.637" stop-color="#383838" stop-opacity="0.91"/><stop offset="0.672" stop-color="#383838" stop-opacity="0.74"/><stop offset="0.719" stop-color="#383838" stop-opacity="0.50"/><stop offset="0.774" stop-color="#383838" stop-opacity="0.27"/><stop offset="0.836" stop-color="#383838" stop-opacity="0.11"/><stop offset="0.914" stop-color="#383838" stop-opacity="0.03"/><stop offset="1.000" stop-color="#383838" stop-opacity="0.00"/></linearGradient>
<linearGradient id="b38" x1="0" y1="0" x2="0" y2="1"><stop offset="0.000" stop-color="#808080" stop-opacity="0.00"/><stop offset="0.088" stop-color="#808080" stop-opacity="0.03"/><stop offset="0.168" stop-color="#808080" stop-opacity="0.11"/><stop offset="0.232" stop-color="#808080" stop-opacity="0.27"/><stop offset="0.288" stop-color="#808080" stop-opacity="0.50"/><stop offset="0.336" stop-color="#808080" stop-opacity="0.74"/><stop offset="0.372" stop-color="#808080" stop-opacity="0.91"/><stop offset="0.400" stop-color="#808080" stop-opacity="1.00"/><stop offset="0.600" stop-color="#808080" stop-opacity="1.00"/><stop offset="0.628" stop-color="#808080" stop-opacity="0.91"/><stop offset="0.664" stop-color="#808080" stop-opacity="0.74"/><stop offset="0.712" stop-color="#808080" stop-opacity="0.50"/><stop offset="0.768" stop-color="#808080" stop-opacity="0.27"/><stop offset="0.832" stop-color="#808080" stop-opacity="0.11"/><stop offset="0.912" stop-color="#808080" stop-opacity="0.03"/><stop offset="1.000" stop-color="#808080" stop-opacity="0.00"/></linearGradient>
<linearGradient id="b39" x1="0" y1="0" x2="0" y2="1"><stop offset="0.000" stop-color="#505050" stop-opacity="0.00"/><stop offset="0.084" stop-color="#505050" stop-opacity="0.03"/><stop offset="0.160" stop-color="#505050" stop-opacity="0.11"/><stop offset="0.220" stop-color="#505050" stop-opacity="0.27"/><stop offset="0.274" stop-color="#505050" stop-opacity="0.50"/><stop offset="0.319" stop-color="#505050" stop-opacity="0.74"/><stop offset="0.353" stop-color="#505050" stop-opacity="0.91"/><stop offset="0.380" stop-color="#505050" stop-opacity="1.00"/><stop offset="0.620" stop-color="#505050" stop-opacity="1.00"/><stop offset="0.647" stop-color="#505050" stop-opacity="0.91"/><stop offset="0.681" stop-color="#505050" stop-opacity="0.74"/><stop offset="0.726" stop-color="#505050" stop-opacity="0.50"/><stop offset="0.780" stop-color="#505050" stop-opacity="0.27"/><stop offset="0.840" stop-color="#505050" stop-opacity="0.11"/><stop offset="0.916" stop-color="#505050" stop-opacity="0.03"/><stop offset="1.000" stop-color="#505050" stop-opacity="0.00"/></linearGradient>
<linearGradient id="b40" x1="0" y1="0" x2="0" y2="1"><stop offset="0.000" stop-color="#000000" stop-opacity="0.00"/><stop offset="0.033" stop-color="#000000" stop-opacity="0.03"/><stop offset="0.063" stop-color="#000000" stop-opacity="0.11"/><stop offset="0.087" stop-color="#000000" stop-opacity="0.27"/><stop offset="0.108" stop-color="#000000" stop-opacity="0.50"/><stop offset="0.126" stop-color="#000000" stop-opacity="0.74"/><stop offset="0.140" stop-color="#000000" stop-opacity="0.91"/><stop offset="0.150" stop-color="#000000" stop-opacity="1.00"/><stop offset="0.850" stop-color="#000000" stop-opacity="1.00"/><stop offset="0.861" stop-color="#000000" stop-opacity="0.91"/><stop offset="0.874" stop-color="#000000" stop-opacity="0.74"/><stop offset="0.892" stop-color="#000000" stop-opacity="0.50"/><stop offset="0.913" stop-color="#000000" stop-opacity="0.27"/><stop offset="0.937" stop-color="#000000" stop-opacity="0.11"/><stop offset="0.967" stop-color="#000000" stop-opacity="0.03"/><stop offset="1.000" stop-color="#000000" stop-opacity="0.00"/></linearGradient>
<linearGradient id="b41" x1="0" y1="0" x2="0" y2="1"><stop offset="0.000" stop-color="#383838" stop-opacity="0.00"/><stop offset="0.057" stop-color="#383838" stop-opacity="0.03"/><stop offset="0.109" stop-color="#383838" stop-opacity="0.11"/><stop offset="0.151" stop-color="#383838" stop-opacity="0.27"/><stop offset="0.187" stop-color="#383838" stop-opacity="0.50"/><stop offset="0.218" stop-color="#383838" stop-opacity="0.74"/><stop offset="0.242" stop-color="#383838" stop-opacity="0.91"/><stop offset="0.260" stop-color="#383838" stop-opacity="1.00"/><stop offset="0.740" stop-color="#383838" stop-opacity="1.00"/><stop offset="0.758" stop-color="#383838" stop-opacity="0.91"/><stop offset="0.782" stop-color="#383838" stop-opacity="0.74"/><stop offset="0.813" stop-color="#383838" stop-opacity="0.50"/><stop offset="0.849" stop-color="#383838" stop-opacity="0.27"/><stop offset="0.891" stop-color="#383838" stop-opacity="0.11"/><stop offset="0.943" stop-color="#383838" stop-opacity="0.03"/><stop offset="1.000" stop-color="#383838" stop-opacity="0.00"/></linearGradient>
<linearGradient id="b42" x1="0" y1="0" x2="0" y2="1"><stop offset="0.000" stop-color="#d4d4d4" stop-opacity="0.00"/><stop offset="0.092" stop-color="#d4d4d4" stop-opacity="0.03"/><stop offset="0.176" stop-color="#d4d4d4" stop-opacity="0.11"/><stop offset="0.244" stop-color="#d4d4d4" stop-opacity="0.27"/><stop offset="0.302" stop-color="#d4d4d4" stop-opacity="0.50"/><stop offset="0.353" stop-color="#d4d4d4" stop-opacity="0.74"/><stop offset="0.391" stop-color="#d4d4d4" stop-opacity="0.91"/><stop offset="0.420" stop-color="#d4d4d4" stop-opacity="1.00"/><stop offset="0.580" stop-color="#d4d4d4" stop-opacity="1.00"/><stop offset="0.609" stop-color="#d4d4d4" stop-opacity="0.91"/><stop offset="0.647" stop-color="#d4d4d4" stop-opacity="0.74"/><stop offset="0.698" stop-color="#d4d4d4" stop-opacity="0.50"/><stop offset="0.756" stop-color="#d4d4d4" stop-opacity="0.27"/><stop offset="0.824" stop-color="#d4d4d4" stop-opacity="0.11"/><stop offset="0.908" stop-color="#d4d4d4" stop-opacity="0.03"/><stop offset="1.000" stop-color="#d4d4d4" stop-opacity="0.00"/></linearGradient>
<linearGradient id="b43" x1="0" y1="0" x2="0" y2="1"><stop offset="0.000" stop-color="#080808" stop-opacity="0.00"/><stop offset="0.079" stop-color="#080808" stop-opacity="0.03"/><stop offset="0.151" stop-color="#080808" stop-opacity="0.11"/><stop offset="0.209" stop-color="#080808" stop-opacity="0.27"/><stop offset="0.259" stop-color="#080808" stop-opacity="0.50"/><stop offset="0.302" stop-color="#080808" stop-opacity="0.74"/><stop offset="0.335" stop-color="#080808" stop-opacity="0.91"/><stop offset="0.360" stop-color="#080808" stop-opacity="1.00"/><stop offset="0.640" stop-color="#080808" stop-opacity="1.00"/><stop offset="0.665" stop-color="#080808" stop-opacity="0.91"/><stop offset="0.698" stop-color="#080808" stop-opacity="0.74"/><stop offset="0.741" stop-color="#080808" stop-opacity="0.50"/><stop offset="0.791" stop-color="#080808" stop-opacity="0.27"/><stop offset="0.849" stop-color="#080808" stop-opacity="0.11"/><stop offset="0.921" stop-color="#080808" stop-opacity="0.03"/><stop offset="1.000" stop-color="#080808" stop-opacity="0.00"/></linearGradient>
<linearGradient id="b44" x1="0" y1="0" x2="0" y2="1"><stop offset="0.000" stop-color="#383838" stop-opacity="0.00"/><stop offset="0.070" stop-color="#383838" stop-opacity="0.03"/><stop offset="0.134" stop-color="#383838" stop-opacity="0.11"/><stop offset="0.186" stop-color="#383838" stop-opacity="0.27"/><stop offset="0.230" stop-color="#383838" stop-opacity="0.50"/><stop offset="0.269" stop-color="#383838" stop-opacity="0.74"/><stop offset="0.298" stop-color="#383838" stop-opacity="0.91"/><stop offset="0.320" stop-color="#383838" stop-opacity="1.00"/><stop offset="0.680" stop-color="#383838" stop-opacity="1.00"/><stop offset="0.702" stop-color="#383838" stop-opacity="0.91"/><stop offset="0.731" stop-color="#383838" stop-opacity="0.74"/><stop offset="0.770" stop-color="#383838" stop-opacity="0.50"/><stop offset="0.814" stop-color="#383838" stop-opacity="0.27"/><stop offset="0.866" stop-color="#383838" stop-opacity="0.11"/><stop offset="0.930" stop-color="#383838" stop-opacity="0.03"/><stop offset="1.000" stop-color="#383838" stop-opacity="0.00"/></linearGradient>
<linearGradient id="b45" x1="0" y1="0" x2="0" y2="1"><stop offset="0.000" stop-color="#484848" stop-opacity="0.00"/><stop offset="0.077" stop-color="#484848" stop-opacity="0.03"/><stop offset="0.147" stop-color="#484848" stop-opacity="0.11"/><stop offset="0.203" stop-color="#484848" stop-opacity="0.27"/><stop offset="0.252" stop-color="#484848" stop-opacity="0.50"/><stop offset="0.294" stop-color="#484848" stop-opacity="0.74"/><stop offset="0.326" stop-color="#484848" stop-opacity="0.91"/><stop offset="0.350" stop-color="#484848" stop-opacity="1.00"/><stop offset="0.650" stop-color="#484848" stop-opacity="1.00"/><stop offset="0.674" stop-color="#484848" stop-opacity="0.91"/><stop offset="0.706" stop-color="#484848" stop-opacity="0.74"/><stop offset="0.748" stop-color="#484848" stop-opacity="0.50"/><stop offset="0.797" stop-color="#484848" stop-opacity="0.27"/><stop offset="0.853" stop-color="#484848" stop-opacity="0.11"/><stop offset="0.923" stop-color="#484848" stop-opacity="0.03"/><stop offset="1.000" stop-color="#484848" stop-opacity="0.00"/></linearGradient>
<linearGradient id="b46" x1="0" y1="0" x2="0" y2="1"><stop offset="0.000" stop-color="#545454" stop-opacity="0.00"/><stop offset="0.086" stop-color="#545454" stop-opacity="0.03"/><stop offset="0.164" stop-color="#545454" stop-opacity="0.11"/><stop offset="0.226" stop-color="#545454" stop-opacity="0.27"/><stop offset="0.281" stop-color="#545454" stop-opacity="0.50"/><stop offset="0.328" stop-color="#545454" stop-opacity="0.74"/><stop offset="0.363" stop-color="#545454" stop-opacity="0.91"/><stop offset="0.390" stop-color="#545454" stop-opacity="1.00"/><stop offset="0.610" stop-color="#545454" stop-opacity="1.00"/><stop offset="0.637" stop-color="#545454" stop-opacity="0.91"/><stop offset="0.672" stop-color="#545454" stop-opacity="0.74"/><stop offset="0.719" stop-color="#545454" stop-opacity="0.50"/><stop offset="0.774" stop-color="#545454" stop-opacity="0.27"/><stop offset="0.836" stop-color="#545454" stop-opacity="0.11"/><stop offset="0.914" stop-color="#545454" stop-opacity="0.03"/><stop offset="1.000" stop-color="#545454" stop-opacity="0.00"/></linearGradient>
<linearGradient id="b47" x1="0" y1="0" x2="0" y2="1"><stop offset="0.000" stop-color="#5c5c5c" stop-opacity="0.00"/><stop offset="0.086" stop-color="#5c5c5c" stop-opacity="0.03"/><stop offset="0.164" stop-color="#5c5c5c" stop-opacity="0.11"/><stop offset="0.226" stop-color="#5c5c5c" stop-opacity="0.27"/><stop offset="0.281" stop-color="#5c5c5c" stop-opacity="0.50"/><stop offset="0.328" stop-color="#5c5c5c" stop-opacity="0.74"/><stop offset="0.363" stop-color="#5c5c5c" stop-opacity="0.91"/><stop offset="0.390" stop-color="#5c5c5c" stop-opacity="1.00"/><stop offset="0.610" stop-color="#5c5c5c" stop-opacity="1.00"/><stop offset="0.637" stop-color="#5c5c5c" stop-opacity="0.91"/><stop offset="0.672" stop-color="#5c5c5c" stop-opacity="0.74"/><stop offset="0.719" stop-color="#5c5c5c" stop-opacity="0.50"/><stop offset="0.774" stop-color="#5c5c5c" stop-opacity="0.27"/><stop offset="0.836" stop-color="#5c5c5c" stop-opacity="0.11"/><stop offset="0.914" stop-color="#5c5c5c" stop-opacity="0.03"/><stop offset="1.000" stop-color="#5c5c5c" stop-opacity="0.00"/></linearGradient>
<linearGradient id="b48" x1="0" y1="0" x2="0" y2="1"><stop offset="0.000" stop-color="#c0c0c0" stop-opacity="0.00"/><stop offset="0.092" stop-color="#c0c0c0" stop-opacity="0.03"/><stop offset="0.176" stop-color="#c0c0c0" stop-opacity="0.11"/><stop offset="0.244" stop-color="#c0c0c0" stop-opacity="0.27"/><stop offset="0.302" stop-color="#c0c0c0" stop-opacity="0.50"/><stop offset="0.353" stop-color="#c0c0c0" stop-opacity="0.74"/><stop offset="0.391" stop-color="#c0c0c0" stop-opacity="0.91"/><stop offset="0.420" stop-color="#c0c0c0" stop-opacity="1.00"/><stop offset="0.580" stop-color="#c0c0c0" stop-opacity="1.00"/><stop offset="0.609" stop-color="#c0c0c0" stop-opacity="0.91"/><stop offset="0.647" stop-color="#c0c0c0" stop-opacity="0.74"/><stop offset="0.698" stop-color="#c0c0c0" stop-opacity="0.50"/><stop offset="0.756" stop-color="#c0c0c0" stop-opacity="0.27"/><stop offset="0.824" stop-color="#c0c0c0" stop-opacity="0.11"/><stop offset="0.908" stop-color="#c0c0c0" stop-opacity="0.03"/><stop offset="1.000" stop-color="#c0c0c0" stop-opacity="0.00"/></linearGradient>
<linearGradient id="b49" x1="0" y1="0" x2="0" y2="1"><stop offset="0.000" stop-color="#787878" stop-opacity="0.00"/><stop offset="0.086" stop-color="#787878" stop-opacity="0.03"/><stop offset="0.164" stop-color="#787878" stop-opacity="0.11"/><stop offset="0.226" stop-color="#787878" stop-opacity="0.27"/><stop offset="0.281" stop-color="#787878" stop-opacity="0.50"/><stop offset="0.328" stop-color="#787878" stop-opacity="0.74"/><stop offset="0.363" stop-color="#787878" stop-opacity="0.91"/><stop offset="0.390" stop-color="#787878" stop-opacity="1.00"/><stop offset="0.610" stop-color="#787878" stop-opacity="1.00"/><stop offset="0.637" stop-color="#787878" stop-opacity="0.91"/><stop offset="0.672" stop-color="#787878" stop-opacity="0.74"/><stop offset="0.719" stop-color="#787878" stop-opacity="0.50"/><stop offset="0.774" stop-color="#787878" stop-opacity="0.27"/><stop offset="0.836" stop-color="#787878" stop-opacity="0.11"/><stop offset="0.914" stop-color="#787878" stop-opacity="0.03"/><stop offset="1.000" stop-color="#787878" stop-opacity="0.00"/></linearGradient>
<linearGradient id="b50" x1="0" y1="0" x2="0" y2="1"><stop offset="0.000" stop-color="#808080" stop-opacity="0.00"/><stop offset="0.086" stop-color="#808080" stop-opacity="0.03"/><stop offset="0.164" stop-color="#808080" stop-opacity="0.11"/><stop offset="0.226" stop-color="#808080" stop-opacity="0.27"/><stop offset="0.281" stop-color="#808080" stop-opacity="0.50"/><stop offset="0.328" stop-color="#808080" stop-opacity="0.74"/><stop offset="0.363" stop-color="#808080" stop-opacity="0.91"/><stop offset="0.390" stop-color="#808080" stop-opacity="1.00"/><stop offset="0.610" stop-color="#808080" stop-opacity="1.00"/><stop offset="0.637" stop-color="#808080" stop-opacity="0.91"/><stop offset="0.672" stop-color="#808080" stop-opacity="0.74"/><stop offset="0.719" stop-color="#808080" stop-opacity="0.50"/><stop offset="0.774" stop-color="#808080" stop-opacity="0.27"/><stop offset="0.836" stop-color="#808080" stop-opacity="0.11"/><stop offset="0.914" stop-color="#808080" stop-opacity="0.03"/><stop offset="1.000" stop-color="#808080" stop-opacity="0.00"/></linearGradient>
<linearGradient id="b51" x1="0" y1="0" x2="0" y2="1"><stop offset="0.000" stop-color="#d0d0d0" stop-opacity="0.00"/><stop offset="0.092" stop-color="#d0d0d0" stop-opacity="0.03"/><stop offset="0.176" stop-color="#d0d0d0" stop-opacity="0.11"/><stop offset="0.244" stop-color="#d0d0d0" stop-opacity="0.27"/><stop offset="0.302" stop-color="#d0d0d0" stop-opacity="0.50"/><stop offset="0.353" stop-color="#d0d0d0" stop-opacity="0.74"/><stop offset="0.391" stop-color="#d0d0d0" stop-opacity="0.91"/><stop offset="0.420" stop-color="#d0d0d0" stop-opacity="1.00"/><stop offset="0.580" stop-color="#d0d0d0" stop-opacity="1.00"/><stop offset="0.609" stop-color="#d0d0d0" stop-opacity="0.91"/><stop offset="0.647" stop-color="#d0d0d0" stop-opacity="0.74"/><stop offset="0.698" stop-color="#d0d0d0" stop-opacity="0.50"/><stop offset="0.756" stop-color="#d0d0d0" stop-opacity="0.27"/><stop offset="0.824" stop-color="#d0d0d0" stop-opacity="0.11"/><stop offset="0.908" stop-color="#d0d0d0" stop-opacity="0.03"/><stop offset="1.000" stop-color="#d0d0d0" stop-opacity="0.00"/></linearGradient>
<linearGradient id="b52" x1="0" y1="0" x2="0" y2="1"><stop offset="0.000" stop-color="#505050" stop-opacity="0.00"/><stop offset="0.081" stop-color="#505050" stop-opacity="0.03"/><stop offset="0.155" stop-color="#505050" stop-opacity="0.11"/><stop offset="0.215" stop-color="#505050" stop-opacity="0.27"/><stop offset="0.266" stop-color="#505050" stop-opacity="0.50"/><stop offset="0.311" stop-color="#505050" stop-opacity="0.74"/><stop offset="0.344" stop-color="#505050" stop-opacity="0.91"/><stop offset="0.370" stop-color="#505050" stop-opacity="1.00"/><stop offset="0.630" stop-color="#505050" stop-opacity="1.00"/><stop offset="0.656" stop-color="#505050" stop-opacity="0.91"/><stop offset="0.689" stop-color="#505050" stop-opacity="0.74"/><stop offset="0.734" stop-color="#505050" stop-opacity="0.50"/><stop offset="0.785" stop-color="#505050" stop-opacity="0.27"/><stop offset="0.845" stop-color="#505050" stop-opacity="0.11"/><stop offset="0.919" stop-color="#505050" stop-opacity="0.03"/><stop offset="1.000" stop-color="#505050" stop-opacity="0.00"/></linearGradient>
<linearGradient id="b53" x1="0" y1="0" x2="0" y2="1"><stop offset="0.000" stop-color="#383838" stop-opacity="0.00"/><stop offset="0.075" stop-color="#383838" stop-opacity="0.03"/><stop offset="0.143" stop-color="#383838" stop-opacity="0.11"/><stop offset="0.197" stop-color="#383838" stop-opacity="0.27"/><stop offset="0.245" stop-color="#383838" stop-opacity="0.50"/><stop offset="0.286" stop-color="#383838" stop-opacity="0.74"/><stop offset="0.316" stop-color="#383838" stop-opacity="0.91"/><stop offset="0.340" stop-color="#383838" stop-opacity="1.00"/><stop offset="0.660" stop-color="#383838" stop-opacity="1.00"/><stop offset="0.684" stop-color="#383838" stop-opacity="0.91"/><stop offset="0.714" stop-color="#383838" stop-opacity="0.74"/><stop offset="0.755" stop-color="#383838" stop-opacity="0.50"/><stop offset="0.803" stop-color="#383838" stop-opacity="0.27"/><stop offset="0.857" stop-color="#383838" stop-opacity="0.11"/><stop offset="0.925" stop-color="#383838" stop-opacity="0.03"/><stop offset="1.000" stop-color="#383838" stop-opacity="0.00"/></linearGradient>
<linearGradient id="b54" x1="0" y1="0" x2="0" y2="1"><stop offset="0.000" stop-color="#888888" stop-opacity="0.00"/><stop offset="0.088" stop-color="#888888" stop-opacity="0.03"/><stop offset="0.168" stop-color="#888888" stop-opacity="0.11"/><stop offset="0.232" stop-color="#888888" stop-opacity="0.27"/><stop offset="0.288" stop-color="#888888" stop-opacity="0.50"/><stop offset="0.336" stop-color="#888888" stop-opacity="0.74"/><stop offset="0.372" stop-color="#888888" stop-opacity="0.91"/><stop offset="0.400" stop-color="#888888" stop-opacity="1.00"/><stop offset="0.600" stop-color="#888888" stop-opacity="1.00"/><stop offset="0.628" stop-color="#888888" stop-opacity="0.91"/><stop offset="0.664" stop-color="#888888" stop-opacity="0.74"/><stop offset="0.712" stop-color="#888888" stop-opacity="0.50"/><stop offset="0.768" stop-color="#888888" stop-opacity="0.27"/><stop offset="0.832" stop-color="#888888" stop-opacity="0.11"/><stop offset="0.912" stop-color="#888888" stop-opacity="0.03"/><stop offset="1.000" stop-color="#888888" stop-opacity="0.00"/></linearGradient>
<linearGradient id="b55" x1="0" y1="0" x2="0" y2="1"><stop offset="0.000" stop-color="#b8b8b8" stop-opacity="0.00"/><stop offset="0.090" stop-color="#b8b8b8" stop-opacity="0.03"/><stop offset="0.172" stop-color="#b8b8b8" stop-opacity="0.11"/><stop offset="0.238" stop-color="#b8b8b8" stop-opacity="0.27"/><stop offset="0.295" stop-color="#b8b8b8" stop-opacity="0.50"/><stop offset="0.344" stop-color="#b8b8b8" stop-opacity="0.74"/><stop offset="0.381" stop-color="#b8b8b8" stop-opacity="0.91"/><stop offset="0.410" stop-color="#b8b8b8" stop-opacity="1.00"/><stop offset="0.590" stop-color="#b8b8b8" stop-opacity="1.00"/><stop offset="0.619" stop-color="#b8b8b8" stop-opacity="0.91"/><stop offset="0.656" stop-color="#b8b8b8" stop-opacity="0.74"/><stop offset="0.705" stop-color="#b8b8b8" stop-opacity="0.50"/><stop offset="0.762" stop-color="#b8b8b8" stop-opacity="0.27"/><stop offset="0.828" stop-color="#b8b8b8" stop-opacity="0.11"/><stop offset="0.910" stop-color="#b8b8b8" stop-opacity="0.03"/><stop offset="1.000" stop-color="#b8b8b8" stop-opacity="0.00"/></linearGradient>
<linearGradient id="b56" x1="0" y1="0" x2="0" y2="1"><stop offset="0.000" stop-color="#1c1c1c" stop-opacity="0.00"/><stop offset="0.077" stop-color="#1c1c1c" stop-opacity="0.03"/><stop offset="0.147" stop-color="#1c1c1c" stop-opacity="0.11"/><stop offset="0.203" stop-color="#1c1c1c" stop-opacity="0.27"/><stop offset="0.252" stop-color="#1c1c1c" stop-opacity="0.50"/><stop offset="0.294" stop-color="#1c1c1c" stop-opacity="0.74"/><stop offset="0.326" stop-color="#1c1c1c" stop-opacity="0.91"/><stop offset="0.350" stop-color="#1c1c1c" stop-opacity="1.00"/><stop offset="0.650" stop-color="#1c1c1c" stop-opacity="1.00"/><stop offset="0.674" stop-color="#1c1c1c" stop-opacity="0.91"/><stop offset="0.706" stop-color="#1c1c1c" stop-opacity="0.74"/><stop offset="0.748" stop-color="#1c1c1c" stop-opacity="0.50"/><stop offset="0.797" stop-color="#1c1c1c" stop-opacity="0.27"/><stop offset="0.853" stop-color="#1c1c1c" stop-opacity="0.11"/><stop offset="0.923" stop-color="#1c1c1c" stop-opacity="0.03"/><stop offset="1.000" stop-color="#1c1c1c" stop-opacity="0.00"/></linearGradient>
<linearGradient id="b57" x1="0" y1="0" x2="0" y2="1"><stop offset="0.000" stop-color="#989898" stop-opacity="0.00"/><stop offset="0.090" stop-color="#989898" stop-opacity="0.03"/><stop offset="0.172" stop-color="#989898" stop-opacity="0.11"/><stop offset="0.238" stop-color="#989898" stop-opacity="0.27"/><stop offset="0.295" stop-color="#989898" stop-opacity="0.50"/><stop offset="0.344" stop-color="#989898" stop-opacity="0.74"/><stop offset="0.381" stop-color="#989898" stop-opacity="0.91"/><stop offset="0.410" stop-color="#989898" stop-opacity="1.00"/><stop offset="0.590" stop-color="#989898" stop-opacity="1.00"/><stop offset="0.619" stop-color="#989898" stop-opacity="0.91"/><stop offset="0.656" stop-color="#989898" stop-opacity="0.74"/><stop offset="0.705" stop-color="#989898" stop-opacity="0.50"/><stop offset="0.762" stop-color="#989898" stop-opacity="0.27"/><stop offset="0.828" stop-color="#989898" stop-opacity="0.11"/><stop offset="0.910" stop-color="#989898" stop-opacity="0.03"/><stop offset="1.000" stop-color="#989898" stop-opacity="0.00"/></linearGradient>
<linearGradient id="b58" x1="0" y1="0" x2="0" y2="1"><stop offset="0.000" stop-color="#dcdcdc" stop-opacity="0.00"/><stop offset="0.095" stop-color="#dcdcdc" stop-opacity="0.03"/><stop offset="0.181" stop-color="#dcdcdc" stop-opacity="0.11"/><stop offset="0.249" stop-color="#dcdcdc" stop-opacity="0.27"/><stop offset="0.310" stop-color="#dcdcdc" stop-opacity="0.50"/><stop offset="0.361" stop-color="#dcdcdc" stop-opacity="0.74"/><stop offset="0.400" stop-color="#dcdcdc" stop-opacity="0.91"/><stop offset="0.430" stop-color="#dcdcdc" stop-opacity="1.00"/><stop offset="0.570" stop-color="#dcdcdc" stop-opacity="1.00"/><stop offset="0.600" stop-color="#dcdcdc" stop-opacity="0.91"/><stop offset="0.639" stop-color="#dcdcdc" stop-opacity="0.74"/><stop offset="0.690" stop-color="#dcdcdc" stop-opacity="0.50"/><stop offset="0.751" stop-color="#dcdcdc" stop-opacity="0.27"/><stop offset="0.819" stop-color="#dcdcdc" stop-opacity="0.11"/><stop offset="0.905" stop-color="#dcdcdc" stop-opacity="0.03"/><stop offset="1.000" stop-color="#dcdcdc" stop-opacity="0.00"/></linearGradient>
<linearGradient id="b59" x1="0" y1="0" x2="0" y2="1"><stop offset="0.000" stop-color="#141414" stop-opacity="0.00"/><stop offset="0.077" stop-color="#141414" stop-opacity="0.03"/><stop offset="0.147" stop-color="#141414" stop-opacity="0.11"/><stop offset="0.203" stop-color="#141414" stop-opacity="0.27"/><stop offset="0.252" stop-color="#141414" stop-opacity="0.50"/><stop offset="0.294" stop-color="#141414" stop-opacity="0.74"/><stop offset="0.326" stop-color="#141414" stop-opacity="0.91"/><stop offset="0.350" stop-color="#141414" stop-opacity="1.00"/><stop offset="0.650" stop-color="#141414" stop-opacity="1.00"/><stop offset="0.674" stop-color="#141414" stop-opacity="0.91"/><stop offset="0.706" stop-color="#141414" stop-opacity="0.74"/><stop offset="0.748" stop-color="#141414" stop-opacity="0.50"/><stop offset="0.797" stop-color="#141414" stop-opacity="0.27"/><stop offset="0.853" stop-color="#141414" stop-opacity="0.11"/><stop offset="0.923" stop-color="#141414" stop-opacity="0.03"/><stop offset="1.000" stop-color="#141414" stop-opacity="0.00"/></linearGradient>
<linearGradient id="b60" x1="0" y1="0" x2="0" y2="1"><stop offset="0.000" stop-color="#a8a8a8" stop-opacity="0.00"/><stop offset="0.095" stop-color="#a8a8a8" stop-opacity="0.03"/><stop offset="0.181" stop-color="#a8a8a8" stop-opacity="0.11"/><stop offset="0.249" stop-color="#a8a8a8" stop-opacity="0.27"/><stop offset="0.310" stop-color="#a8a8a8" stop-opacity="0.50"/><stop offset="0.361" stop-color="#a8a8a8" stop-opacity="0.74"/><stop offset="0.400" stop-color="#a8a8a8" stop-opacity="0.91"/><stop offset="0.430" stop-color="#a8a8a8" stop-opacity="1.00"/><stop offset="0.570" stop-color="#a8a8a8" stop-opacity="1.00"/><stop offset="0.600" stop-color="#a8a8a8" stop-opacity="0.91"/><stop offset="0.639" stop-color="#a8a8a8" stop-opacity="0.74"/><stop offset="0.690" stop-color="#a8a8a8" stop-opacity="0.50"/><stop offset="0.751" stop-color="#a8a8a8" stop-opacity="0.27"/><stop offset="0.819" stop-color="#a8a8a8" stop-opacity="0.11"/><stop offset="0.905" stop-color="#a8a8a8" stop-opacity="0.03"/><stop offset="1.000" stop-color="#a8a8a8" stop-opacity="0.00"/></linearGradient>
<linearGradient id="b61" x1="0" y1="0" x2="0" y2="1"><stop offset="0.000" stop-color="#d8d8d8" stop-opacity="0.00"/><stop offset="0.095" stop-color="#d8d8d8" stop-opacity="0.03"/><stop offset="0.181" stop-color="#d8d8d8" stop-opacity="0.11"/><stop offset="0.249" stop-color="#d8d8d8" stop-opacity="0.27"/><stop offset="0.310" stop-color="#d8d8d8" stop-opacity="0.50"/><stop offset="0.361" stop-color="#d8d8d8" stop-opacity="0.74"/><stop offset="0.400" stop-color="#d8d8d8" stop-opacity="0.91"/><stop offset="0.430" stop-color="#d8d8d8" stop-opacity="1.00"/><stop offset="0.570" stop-color="#d8d8d8" stop-opacity="1.00"/><stop offset="0.600" stop-color="#d8d8d8" stop-opacity="0.91"/><stop offset="0.639" stop-color="#d8d8d8" stop-opacity="0.74"/><stop offset="0.690" stop-color="#d8d8d8" stop-opacity="0.50"/><stop offset="0.751" stop-color="#d8d8d8" stop-opacity="0.27"/><stop offset="0.819" stop-color="#d8d8d8" stop-opacity="0.11"/><stop offset="0.905" stop-color="#d8d8d8" stop-opacity="0.03"/><stop offset="1.000" stop-color="#d8d8d8" stop-opacity="0.00"/></linearGradient>
<linearGradient id="b62" x1="0" y1="0" x2="0" y2="1"><stop offset="0.000" stop-color="#383838" stop-opacity="0.00"/><stop offset="0.084" stop-color="#383838" stop-opacity="0.03"/><stop offset="0.160" stop-color="#383838" stop-opacity="0.11"/><stop offset="0.220" stop-color="#383838" stop-opacity="0.27"/><stop offset="0.274" stop-color="#383838" stop-opacity="0.50"/><stop offset="0.319" stop-color="#383838" stop-opacity="0.74"/><stop offset="0.353" stop-color="#383838" stop-opacity="0.91"/><stop offset="0.380" stop-color="#383838" stop-opacity="1.00"/><stop offset="0.620" stop-color="#383838" stop-opacity="1.00"/><stop offset="0.647" stop-color="#383838" stop-opacity="0.91"/><stop offset="0.681" stop-color="#383838" stop-opacity="0.74"/><stop offset="0.726" stop-color="#383838" stop-opacity="0.50"/><stop offset="0.780" stop-color="#383838" stop-opacity="0.27"/><stop offset="0.840" stop-color="#383838" stop-opacity="0.11"/><stop offset="0.916" stop-color="#383838" stop-opacity="0.03"/><stop offset="1.000" stop-color="#383838" stop-opacity="0.00"/></linearGradient>
<linearGradient id="b63" x1="0" y1="0" x2="0" y2="1"><stop offset="0.000" stop-color="#484848" stop-opacity="0.00"/><stop offset="0.086" stop-color="#484848" stop-opacity="0.03"/><stop offset="0.164" stop-color="#484848" stop-opacity="0.11"/><stop offset="0.226" stop-color="#484848" stop-opacity="0.27"/><stop offset="0.281" stop-color="#484848" stop-opacity="0.50"/><stop offset="0.328" stop-color="#484848" stop-opacity="0.74"/><stop offset="0.363" stop-color="#484848" stop-opacity="0.91"/><stop offset="0.390" stop-color="#484848" stop-opacity="1.00"/><stop offset="0.610" stop-color="#484848" stop-opacity="1.00"/><stop offset="0.637" stop-color="#484848" stop-opacity="0.91"/><stop offset="0.672" stop-color="#484848" stop-opacity="0.74"/><stop offset="0.719" stop-color="#484848" stop-opacity="0.50"/><stop offset="0.774" stop-color="#484848" stop-opacity="0.27"/><stop offset="0.836" stop-color="#484848" stop-opacity="0.11"/><stop offset="0.914" stop-color="#484848" stop-opacity="0.03"/><stop offset="1.000" stop-color="#484848" stop-opacity="0.00"/></linearGradient>
<linearGradient id="b64" x1="0" y1="0" x2="0" y2="1"><stop offset="0.000" stop-color="#404040" stop-opacity="0.00"/><stop offset="0.084" stop-color="#404040" stop-opacity="0.03"/><stop offset="0.160" stop-color="#404040" stop-opacity="0.11"/><stop offset="0.220" stop-color="#404040" stop-opacity="0.27"/><stop offset="0.274" stop-color="#404040" stop-opacity="0.50"/><stop offset="0.319" stop-color="#404040" stop-opacity="0.74"/><stop offset="0.353" stop-color="#404040" stop-opacity="0.91"/><stop offset="0.380" stop-color="#404040" stop-opacity="1.00"/><stop offset="0.620" stop-color="#404040" stop-opacity="1.00"/><stop offset="0.647" stop-color="#404040" stop-opacity="0.91"/><stop offset="0.681" stop-color="#404040" stop-opacity="0.74"/><stop offset="0.726" stop-color="#404040" stop-opacity="0.50"/><stop offset="0.780" stop-color="#404040" stop-opacity="0.27"/><stop offset="0.840" stop-color="#404040" stop-opacity="0.11"/><stop offset="0.916" stop-color="#404040" stop-opacity="0.03"/><stop offset="1.000" stop-color="#404040" stop-opacity="0.00"/></linearGradient>
<linearGradient id="b65" x1="0" y1="0" x2="0" y2="1"><stop offset="0.000" stop-color="#a8a8a8" stop-opacity="0.00"/><stop offset="0.092" stop-color="#a8a8a8" stop-opacity="0.03"/><stop offset="0.176" stop-color="#a8a8a8" stop-opacity="0.11"/><stop offset="0.244" stop-color="#a8a8a8" stop-opacity="0.27"/><stop offset="0.302" stop-color="#a8a8a8" stop-opacity="0.50"/><stop offset="0.353" stop-color="#a8a8a8" stop-opacity="0.74"/><stop offset="0.391" stop-color="#a8a8a8" stop-opacity="0.91"/><stop offset="0.420" stop-color="#a8a8a8" stop-opacity="1.00"/><stop offset="0.580" stop-color="#a8a8a8" stop-opacity="1.00"/><stop offset="0.609" stop-color="#a8a8a8" stop-opacity="0.91"/><stop offset="0.647" stop-color="#a8a8a8" stop-opacity="0.74"/><stop offset="0.698" stop-color="#a8a8a8" stop-opacity="0.50"/><stop offset="0.756" stop-color="#a8a8a8" stop-opacity="0.27"/><stop offset="0.824" stop-color="#a8a8a8" stop-opacity="0.11"/><stop offset="0.908" stop-color="#a8a8a8" stop-opacity="0.03"/><stop offset="1.000" stop-color="#a8a8a8" stop-opacity="0.00"/></linearGradient>
<linearGradient id="b66" x1="0" y1="0" x2="0" y2="1"><stop offset="0.000" stop-color="#989898" stop-opacity="0.00"/><stop offset="0.097" stop-color="#989898" stop-opacity="0.03"/><stop offset="0.185" stop-color="#989898" stop-opacity="0.11"/><stop offset="0.255" stop-color="#989898" stop-opacity="0.27"/><stop offset="0.317" stop-color="#989898" stop-opacity="0.50"/><stop offset="0.370" stop-color="#989898" stop-opacity="0.74"/><stop offset="0.409" stop-color="#989898" stop-opacity="0.91"/><stop offset="0.440" stop-color="#989898" stop-opacity="1.00"/><stop offset="0.560" stop-color="#989898" stop-opacity="1.00"/><stop offset="0.591" stop-color="#989898" stop-opacity="0.91"/><stop offset="0.630" stop-color="#989898" stop-opacity="0.74"/><stop offset="0.683" stop-color="#989898" stop-opacity="0.50"/><stop offset="0.745" stop-color="#989898" stop-opacity="0.27"/><stop offset="0.815" stop-color="#989898" stop-opacity="0.11"/><stop offset="0.903" stop-color="#989898" stop-opacity="0.03"/><stop offset="1.000" stop-color="#989898" stop-opacity="0.00"/></linearGradient>
<linearGradient id="b67" x1="0" y1="0" x2="0" y2="1"><stop offset="0.000" stop-color="#444444" stop-opacity="0.00"/><stop offset="0.077" stop-color="#444444" stop-opacity="0.03"/><stop offset="0.147" stop-color="#444444" stop-opacity="0.11"/><stop offset="0.203" stop-color="#444444" stop-opacity="0.27"/><stop offset="0.252" stop-color="#444444" stop-opacity="0.50"/><stop offset="0.294" stop-color="#444444" stop-opacity="0.74"/><stop offset="0.326" stop-color="#444444" stop-opacity="0.91"/><stop offset="0.350" stop-color="#444444" stop-opacity="1.00"/><stop offset="0.650" stop-color="#444444" stop-opacity="1.00"/><stop offset="0.674" stop-color="#444444" stop-opacity="0.91"/><stop offset="0.706" stop-color="#444444" stop-opacity="0.74"/><stop offset="0.748" stop-color="#444444" stop-opacity="0.50"/><stop offset="0.797" stop-color="#444444" stop-opacity="0.27"/><stop offset="0.853" stop-color="#444444" stop-opacity="0.11"/><stop offset="0.923" stop-color="#444444" stop-opacity="0.03"/><stop offset="1.000" stop-color="#444444" stop-opacity="0.00"/></linearGradient>
<linearGradient id="b68" x1="0" y1="0" x2="0" y2="1"><stop offset="0.000" stop-color="#a0a0a0" stop-opacity="0.00"/><stop offset="0.092" stop-color="#a0a0a0" stop-opacity="0.03"/><stop offset="0.176" stop-color="#a0a0a0" stop-opacity="0.11"/><stop offset="0.244" stop-color="#a0a0a0" stop-opacity="0.27"/><stop offset="0.302" stop-color="#a0a0a0" stop-opacity="0.50"/><stop offset="0.353" stop-color="#a0a0a0" stop-opacity="0.74"/><stop offset="0.391" stop-color="#a0a0a0" stop-opacity="0.91"/><stop offset="0.420" stop-color="#a0a0a0" stop-opacity="1.00"/><stop offset="0.580" stop-color="#a0a0a0" stop-opacity="1.00"/><stop offset="0.609" stop-color="#a0a0a0" stop-opacity="0.91"/><stop offset="0.647" stop-color="#a0a0a0" stop-opacity="0.74"/><stop offset="0.698" stop-color="#a0a0a0" stop-opacity="0.50"/><stop offset="0.756" stop-color="#a0a0a0" stop-opacity="0.27"/><stop offset="0.824" stop-color="#a0a0a0" stop-opacity="0.11"/><stop offset="0.908" stop-color="#a0a0a0" stop-opacity="0.03"/><stop offset="1.000" stop-color="#a0a0a0" stop-opacity="0.00"/></linearGradient>
<linearGradient id="b69" x1="0" y1="0" x2="0" y2="1"><stop offset="0.000" stop-color="#505050" stop-opacity="0.00"/><stop offset="0.079" stop-color="#505050" stop-opacity="0.03"/><stop offset="0.151" stop-color="#505050" stop-opacity="0.11"/><stop offset="0.209" stop-color="#505050" stop-opacity="0.27"/><stop offset="0.259" stop-color="#505050" stop-opacity="0.50"/><stop offset="0.302" stop-color="#505050" stop-opacity="0.74"/><stop offset="0.335" stop-color="#505050" stop-opacity="0.91"/><stop offset="0.360" stop-color="#505050" stop-opacity="1.00"/><stop offset="0.640" stop-color="#505050" stop-opacity="1.00"/><stop offset="0.665" stop-color="#505050" stop-opacity="0.91"/><stop offset="0.698" stop-color="#505050" stop-opacity="0.74"/><stop offset="0.741" stop-color="#505050" stop-opacity="0.50"/><stop offset="0.791" stop-color="#505050" stop-opacity="0.27"/><stop offset="0.849" stop-color="#505050" stop-opacity="0.11"/><stop offset="0.921" stop-color="#505050" stop-opacity="0.03"/><stop offset="1.000" stop-color="#505050" stop-opacity="0.00"/></linearGradient>
<linearGradient id="b70" x1="0" y1="0" x2="0" y2="1"><stop offset="0.000" stop-color="#585858" stop-opacity="0.00"/><stop offset="0.088" stop-color="#585858" stop-opacity="0.03"/><stop offset="0.168" stop-color="#585858" stop-opacity="0.11"/><stop offset="0.232" stop-color="#585858" stop-opacity="0.27"/><stop offset="0.288" stop-color="#585858" stop-opacity="0.50"/><stop offset="0.336" stop-color="#585858" stop-opacity="0.74"/><stop offset="0.372" stop-color="#585858" stop-opacity="0.91"/><stop offset="0.400" stop-color="#585858" stop-opacity="1.00"/><stop offset="0.600" stop-color="#585858" stop-opacity="1.00"/><stop offset="0.628" stop-color="#585858" stop-opacity="0.91"/><stop offset="0.664" stop-color="#585858" stop-opacity="0.74"/><stop offset="0.712" stop-color="#585858" stop-opacity="0.50"/><stop offset="0.768" stop-color="#585858" stop-opacity="0.27"/><stop offset="0.832" stop-color="#585858" stop-opacity="0.11"/><stop offset="0.912" stop-color="#585858" stop-opacity="0.03"/><stop offset="1.000" stop-color="#585858" stop-opacity="0.00"/></linearGradient>
<linearGradient id="b71" x1="0" y1="0" x2="0" y2="1"><stop offset="0.000" stop-color="#808080" stop-opacity="0.00"/><stop offset="0.092" stop-color="#808080" stop-opacity="0.03"/><stop offset="0.176" stop-color="#808080" stop-opacity="0.11"/><stop offset="0.244" stop-color="#808080" stop-opacity="0.27"/><stop offset="0.302" stop-color="#808080" stop-opacity="0.50"/><stop offset="0.353" stop-color="#808080" stop-opacity="0.74"/><stop offset="0.391" stop-color="#808080" stop-opacity="0.91"/><stop offset="0.420" stop-color="#808080" stop-opacity="1.00"/><stop offset="0.580" stop-color="#808080" stop-opacity="1.00"/><stop offset="0.609" stop-color="#808080" stop-opacity="0.91"/><stop offset="0.647" stop-color="#808080" stop-opacity="0.74"/><stop offset="0.698" stop-color="#808080" stop-opacity="0.50"/><stop offset="0.756" stop-color="#808080" stop-opacity="0.27"/><stop offset="0.824" stop-color="#808080" stop-opacity="0.11"/><stop offset="0.908" stop-color="#808080" stop-opacity="0.03"/><stop offset="1.000" stop-color="#808080" stop-opacity="0.00"/></linearGradient>
<linearGradient id="b72" x1="0" y1="0" x2="0" y2="1"><stop offset="0.000" stop-color="#484848" stop-opacity="0.00"/><stop offset="0.084" stop-color="#484848" stop-opacity="0.03"/><stop offset="0.160" stop-color="#484848" stop-opacity="0.11"/><stop offset="0.220" stop-color="#484848" stop-opacity="0.27"/><stop offset="0.274" stop-color="#484848" stop-opacity="0.50"/><stop offset="0.319" stop-color="#484848" stop-opacity="0.74"/><stop offset="0.353" stop-color="#484848" stop-opacity="0.91"/><stop offset="0.380" stop-color="#484848" stop-opacity="1.00"/><stop offset="0.620" stop-color="#484848" stop-opacity="1.00"/><stop offset="0.647" stop-color="#484848" stop-opacity="0.91"/><stop offset="0.681" stop-color="#484848" stop-opacity="0.74"/><stop offset="0.726" stop-color="#484848" stop-opacity="0.50"/><stop offset="0.780" stop-color="#484848" stop-opacity="0.27"/><stop offset="0.840" stop-color="#484848" stop-opacity="0.11"/><stop offset="0.916" stop-color="#484848" stop-opacity="0.03"/><stop offset="1.000" stop-color="#484848" stop-opacity="0.00"/></linearGradient>
<linearGradient id="b73" x1="0" y1="0" x2="0" y2="1"><stop offset="0.000" stop-color="#585858" stop-opacity="0.00"/><stop offset="0.090" stop-color="#585858" stop-opacity="0.03"/><stop offset="0.172" stop-color="#585858" stop-opacity="0.11"/><stop offset="0.238" stop-color="#585858" stop-opacity="0.27"/><stop offset="0.295" stop-color="#585858" stop-opacity="0.50"/><stop offset="0.344" stop-color="#585858" stop-opacity="0.74"/><stop offset="0.381" stop-color="#585858" stop-opacity="0.91"/><stop offset="0.410" stop-color="#585858" stop-opacity="1.00"/><stop offset="0.590" stop-color="#585858" stop-opacity="1.00"/><stop offset="0.619" stop-color="#585858" stop-opacity="0.91"/><stop offset="0.656" stop-color="#585858" stop-opacity="0.74"/><stop offset="0.705" stop-color="#585858" stop-opacity="0.50"/><stop offset="0.762" stop-color="#585858" stop-opacity="0.27"/><stop offset="0.828" stop-color="#585858" stop-opacity="0.11"/><stop offset="0.910" stop-color="#585858" stop-opacity="0.03"/><stop offset="1.000" stop-color="#585858" stop-opacity="0.00"/></linearGradient>
<linearGradient id="b74" x1="0" y1="0" x2="0" y2="1"><stop offset="0.000" stop-color="#b8b8b8" stop-opacity="0.00"/><stop offset="0.097" stop-color="#b8b8b8" stop-opacity="0.03"/><stop offset="0.185" stop-color="#b8b8b8" stop-opacity="0.11"/><stop offset="0.255" stop-color="#b8b8b8" stop-opacity="0.27"/><stop offset="0.317" stop-color="#b8b8b8" stop-opacity="0.50"/><stop offset="0.370" stop-color="#b8b8b8" stop-opacity="0.74"/><stop offset="0.409" stop-color="#b8b8b8" stop-opacity="0.91"/><stop offset="0.440" stop-color="#b8b8b8" stop-opacity="1.00"/><stop offset="0.560" stop-color="#b8b8b8" stop-opacity="1.00"/><stop offset="0.591" stop-color="#b8b8b8" stop-opacity="0.91"/><stop offset="0.630" stop-color="#b8b8b8" stop-opacity="0.74"/><stop offset="0.683" stop-color="#b8b8b8" stop-opacity="0.50"/><stop offset="0.745" stop-color="#b8b8b8" stop-opacity="0.27"/><stop offset="0.815" stop-color="#b8b8b8" stop-opacity="0.11"/><stop offset="0.903" stop-color="#b8b8b8" stop-opacity="0.03"/><stop offset="1.000" stop-color="#b8b8b8" stop-opacity="0.00"/></linearGradient>
<linearGradient id="b75" x1="0" y1="0" x2="0" y2="1"><stop offset="0.000" stop-color="#b0b0b0" stop-opacity="0.00"/><stop offset="0.097" stop-color="#b0b0b0" stop-opacity="0.03"/><stop offset="0.185" stop-color="#b0b0b0" stop-opacity="0.11"/><stop offset="0.255" stop-color="#b0b0b0" stop-opacity="0.27"/><stop offset="0.317" stop-color="#b0b0b0" stop-opacity="0.50"/><stop offset="0.370" stop-color="#b0b0b0" stop-opacity="0.74"/><stop offset="0.409" stop-color="#b0b0b0" stop-opacity="0.91"/><stop offset="0.440" stop-color="#b0b0b0" stop-opacity="1.00"/><stop offset="0.560" stop-color="#b0b0b0" stop-opacity="1.00"/><stop offset="0.591" stop-color="#b0b0b0" stop-opacity="0.91"/><stop offset="0.630" stop-color="#b0b0b0" stop-opacity="0.74"/><stop offset="0.683" stop-color="#b0b0b0" stop-opacity="0.50"/><stop offset="0.745" stop-color="#b0b0b0" stop-opacity="0.27"/><stop offset="0.815" stop-color="#b0b0b0" stop-opacity="0.11"/><stop offset="0.903" stop-color="#b0b0b0" stop-opacity="0.03"/><stop offset="1.000" stop-color="#b0b0b0" stop-opacity="0.00"/></linearGradient>
<linearGradient id="b76" x1="0" y1="0" x2="0" y2="1"><stop offset="0.000" stop-color="#282828" stop-opacity="0.00"/><stop offset="0.068" stop-color="#282828" stop-opacity="0.03"/><stop offset="0.130" stop-color="#282828" stop-opacity="0.11"/><stop offset="0.180" stop-color="#282828" stop-opacity="0.27"/><stop offset="0.223" stop-color="#282828" stop-opacity="0.50"/><stop offset="0.260" stop-color="#282828" stop-opacity="0.74"/><stop offset="0.288" stop-color="#282828" stop-opacity="0.91"/><stop offset="0.310" stop-color="#282828" stop-opacity="1.00"/><stop offset="0.690" stop-color="#282828" stop-opacity="1.00"/><stop offset="0.712" stop-color="#282828" stop-opacity="0.91"/><stop offset="0.740" stop-color="#282828" stop-opacity="0.74"/><stop offset="0.777" stop-color="#282828" stop-opacity="0.50"/><stop offset="0.820" stop-color="#282828" stop-opacity="0.27"/><stop offset="0.870" stop-color="#282828" stop-opacity="0.11"/><stop offset="0.932" stop-color="#282828" stop-opacity="0.03"/><stop offset="1.000" stop-color="#282828" stop-opacity="0.00"/></linearGradient>
<linearGradient id="b77" x1="0" y1="0" x2="0" y2="1"><stop offset="0.000" stop-color="#383838" stop-opacity="0.00"/><stop offset="0.068" stop-color="#383838" stop-opacity="0.03"/><stop offset="0.130" stop-color="#383838" stop-opacity="0.11"/><stop offset="0.180" stop-color="#383838" stop-opacity="0.27"/><stop offset="0.223" stop-color="#383838" stop-opacity="0.50"/><stop offset="0.260" stop-color="#383838" stop-opacity="0.74"/><stop offset="0.288" stop-color="#383838" stop-opacity="0.91"/><stop offset="0.310" stop-color="#383838" stop-opacity="1.00"/><stop offset="0.690" stop-color="#383838" stop-opacity="1.00"/><stop offset="0.712" stop-color="#383838" stop-opacity="0.91"/><stop offset="0.740" stop-color="#383838" stop-opacity="0.74"/><stop offset="0.777" stop-color="#383838" stop-opacity="0.50"/><stop offset="0.820" stop-color="#383838" stop-opacity="0.27"/><stop offset="0.870" stop-color="#383838" stop-opacity="0.11"/><stop offset="0.932" stop-color="#383838" stop-opacity="0.03"/><stop offset="1.000" stop-color="#383838" stop-opacity="0.00"/></linearGradient>
<linearGradient id="b78" x1="0" y1="0" x2="0" y2="1"><stop offset="0.000" stop-color="#404040" stop-opacity="0.00"/><stop offset="0.068" stop-color="#404040" stop-opacity="0.03"/><stop offset="0.130" stop-color="#404040" stop-opacity="0.11"/><stop offset="0.180" stop-color="#404040" stop-opacity="0.27"/><stop offset="0.223" stop-color="#404040" stop-opacity="0.50"/><stop offset="0.260" stop-color="#404040" stop-opacity="0.74"/><stop offset="0.288" stop-color="#404040" stop-opacity="0.91"/><stop offset="0.310" stop-color="#404040" stop-opacity="1.00"/><stop offset="0.690" stop-color="#404040" stop-opacity="1.00"/><stop offset="0.712" stop-color="#404040" stop-opacity="0.91"/><stop offset="0.740" stop-color="#404040" stop-opacity="0.74"/><stop offset="0.777" stop-color="#404040" stop-opacity="0.50"/><stop offset="0.820" stop-color="#404040" stop-opacity="0.27"/><stop offset="0.870" stop-color="#404040" stop-opacity="0.11"/><stop offset="0.932" stop-color="#404040" stop-opacity="0.03"/><stop offset="1.000" stop-color="#404040" stop-opacity="0.00"/></linearGradient>
<linearGradient id="b79" x1="0" y1="0" x2="0" y2="1"><stop offset="0.000" stop-color="#202020" stop-opacity="0.00"/><stop offset="0.070" stop-color="#202020" stop-opacity="0.03"/><stop offset="0.134" stop-color="#202020" stop-opacity="0.11"/><stop offset="0.186" stop-color="#202020" stop-opacity="0.27"/><stop offset="0.230" stop-color="#202020" stop-opacity="0.50"/><stop offset="0.269" stop-color="#202020" stop-opacity="0.74"/><stop offset="0.298" stop-color="#202020" stop-opacity="0.91"/><stop offset="0.320" stop-color="#202020" stop-opacity="1.00"/><stop offset="0.680" stop-color="#202020" stop-opacity="1.00"/><stop offset="0.702" stop-color="#202020" stop-opacity="0.91"/><stop offset="0.731" stop-color="#202020" stop-opacity="0.74"/><stop offset="0.770" stop-color="#202020" stop-opacity="0.50"/><stop offset="0.814" stop-color="#202020" stop-opacity="0.27"/><stop offset="0.866" stop-color="#202020" stop-opacity="0.11"/><stop offset="0.930" stop-color="#202020" stop-opacity="0.03"/><stop offset="1.000" stop-color="#202020" stop-opacity="0.00"/></linearGradient>
<linearGradient id="b80" x1="0" y1="0" x2="0" y2="1"><stop offset="0.000" stop-color="#303030" stop-opacity="0.00"/><stop offset="0.068" stop-color="#303030" stop-opacity="0.03"/><stop offset="0.130" stop-color="#303030" stop-opacity="0.11"/><stop offset="0.180" stop-color="#303030" stop-opacity="0.27"/><stop offset="0.223" stop-color="#303030" stop-opacity="0.50"/><stop offset="0.260" stop-color="#303030" stop-opacity="0.74"/><stop offset="0.288" stop-color="#303030" stop-opacity="0.91"/><stop offset="0.310" stop-color="#303030" stop-opacity="1.00"/><stop offset="0.690" stop-color="#303030" stop-opacity="1.00"/><stop offset="0.712" stop-color="#303030" stop-opacity="0.91"/><stop offset="0.740" stop-color="#303030" stop-opacity="0.74"/><stop offset="0.777" stop-color="#303030" stop-opacity="0.50"/><stop offset="0.820" stop-color="#303030" stop-opacity="0.27"/><stop offset="0.870" stop-color="#303030" stop-opacity="0.11"/><stop offset="0.932" stop-color="#303030" stop-opacity="0.03"/><stop offset="1.000" stop-color="#303030" stop-opacity="0.00"/></linearGradient>
<linearGradient id="b81" x1="0" y1="0" x2="0" y2="1"><stop offset="0.000" stop-color="#484848" stop-opacity="0.00"/><stop offset="0.070" stop-color="#484848" stop-opacity="0.03"/><stop offset="0.134" stop-color="#484848" stop-opacity="0.11"/><stop offset="0.186" stop-color="#484848" stop-opacity="0.27"/><stop offset="0.230" stop-color="#484848" stop-opacity="0.50"/><stop offset="0.269" stop-color="#484848" stop-opacity="0.74"/><stop offset="0.298" stop-color="#484848" stop-opacity="0.91"/><stop offset="0.320" stop-color="#484848" stop-opacity="1.00"/><stop offset="0.680" stop-color="#484848" stop-opacity="1.00"/><stop offset="0.702" stop-color="#484848" stop-opacity="0.91"/><stop offset="0.731" stop-color="#484848" stop-opacity="0.74"/><stop offset="0.770" stop-color="#484848" stop-opacity="0.50"/><stop offset="0.814" stop-color="#484848" stop-opacity="0.27"/><stop offset="0.866" stop-color="#484848" stop-opacity="0.11"/><stop offset="0.930" stop-color="#484848" stop-opacity="0.03"/><stop offset="1.000" stop-color="#484848" stop-opacity="0.00"/></linearGradient>
<linearGradient id="b82" x1="0" y1="0" x2="0" y2="1"><stop offset="0.000" stop-color="#545454" stop-opacity="0.00"/><stop offset="0.073" stop-color="#545454" stop-opacity="0.03"/><stop offset="0.139" stop-color="#545454" stop-opacity="0.11"/><stop offset="0.191" stop-color="#545454" stop-opacity="0.27"/><stop offset="0.238" stop-color="#545454" stop-opacity="0.50"/><stop offset="0.277" stop-color="#545454" stop-opacity="0.74"/><stop offset="0.307" stop-color="#545454" stop-opacity="0.91"/><stop offset="0.330" stop-color="#545454" stop-opacity="1.00"/><stop offset="0.670" stop-color="#545454" stop-opacity="1.00"/><stop offset="0.693" stop-color="#545454" stop-opacity="0.91"/><stop offset="0.723" stop-color="#545454" stop-opacity="0.74"/><stop offset="0.762" stop-color="#545454" stop-opacity="0.50"/><stop offset="0.809" stop-color="#545454" stop-opacity="0.27"/><stop offset="0.861" stop-color="#545454" stop-opacity="0.11"/><stop offset="0.927" stop-color="#545454" stop-opacity="0.03"/><stop offset="1.000" stop-color="#545454" stop-opacity="0.00"/></linearGradient>
<linearGradient id="b83" x1="0" y1="0" x2="0" y2="1"><stop offset="0.000" stop-color="#202020" stop-opacity="0.00"/><stop offset="0.066" stop-color="#202020" stop-opacity="0.03"/><stop offset="0.126" stop-color="#202020" stop-opacity="0.11"/><stop offset="0.174" stop-color="#202020" stop-opacity="0.27"/><stop offset="0.216" stop-color="#202020" stop-opacity="0.50"/><stop offset="0.252" stop-color="#202020" stop-opacity="0.74"/><stop offset="0.279" stop-color="#202020" stop-opacity="0.91"/><stop offset="0.300" stop-color="#202020" stop-opacity="1.00"/><stop offset="0.700" stop-color="#202020" stop-opacity="1.00"/><stop offset="0.721" stop-color="#202020" stop-opacity="0.91"/><stop offset="0.748" stop-color="#202020" stop-opacity="0.74"/><stop offset="0.784" stop-color="#202020" stop-opacity="0.50"/><stop offset="0.826" stop-color="#202020" stop-opacity="0.27"/><stop offset="0.874" stop-color="#202020" stop-opacity="0.11"/><stop offset="0.934" stop-color="#202020" stop-opacity="0.03"/><stop offset="1.000" stop-color="#202020" stop-opacity="0.00"/></linearGradient>
<linearGradient id="b84" x1="0" y1="0" x2="0" y2="1"><stop offset="0.000" stop-color="#404040" stop-opacity="0.00"/><stop offset="0.070" stop-color="#404040" stop-opacity="0.03"/><stop offset="0.134" stop-color="#404040" stop-opacity="0.11"/><stop offset="0.186" stop-color="#404040" stop-opacity="0.27"/><stop offset="0.230" stop-color="#404040" stop-opacity="0.50"/><stop offset="0.269" stop-color="#404040" stop-opacity="0.74"/><stop offset="0.298" stop-color="#404040" stop-opacity="0.91"/><stop offset="0.320" stop-color="#404040" stop-opacity="1.00"/><stop offset="0.680" stop-color="#404040" stop-opacity="1.00"/><stop offset="0.702" stop-color="#404040" stop-opacity="0.91"/><stop offset="0.731" stop-color="#404040" stop-opacity="0.74"/><stop offset="0.770" stop-color="#404040" stop-opacity="0.50"/><stop offset="0.814" stop-color="#404040" stop-opacity="0.27"/><stop offset="0.866" stop-color="#404040" stop-opacity="0.11"/><stop offset="0.930" stop-color="#404040" stop-opacity="0.03"/><stop offset="1.000" stop-color="#404040" stop-opacity="0.00"/></linearGradient>
<linearGradient id="b85" x1="0" y1="0" x2="0" y2="1"><stop offset="0.000" stop-color="#383838" stop-opacity="0.00"/><stop offset="0.073" stop-color="#383838" stop-opacity="0.03"/><stop offset="0.139" stop-color="#383838" stop-opacity="0.11"/><stop offset="0.191" stop-color="#383838" stop-opacity="0.27"/><stop offset="0.238" stop-color="#383838" stop-opacity="0.50"/><stop offset="0.277" stop-color="#383838" stop-opacity="0.74"/><stop offset="0.307" stop-color="#383838" stop-opacity="0.91"/><stop offset="0.330" stop-color="#383838" stop-opacity="1.00"/><stop offset="0.670" stop-color="#383838" stop-opacity="1.00"/><stop offset="0.693" stop-color="#383838" stop-opacity="0.91"/><stop offset="0.723" stop-color="#383838" stop-opacity="0.74"/><stop offset="0.762" stop-color="#383838" stop-opacity="0.50"/><stop offset="0.809" stop-color="#383838" stop-opacity="0.27"/><stop offset="0.861" stop-color="#383838" stop-opacity="0.11"/><stop offset="0.927" stop-color="#383838" stop-opacity="0.03"/><stop offset="1.000" stop-color="#383838" stop-opacity="0.00"/></linearGradient>
<linearGradient id="b86" x1="0" y1="0" x2="0" y2="1"><stop offset="0.000" stop-color="#282828" stop-opacity="0.00"/><stop offset="0.064" stop-color="#282828" stop-opacity="0.03"/><stop offset="0.122" stop-color="#282828" stop-opacity="0.11"/><stop offset="0.168" stop-color="#282828" stop-opacity="0.27"/><stop offset="0.209" stop-color="#282828" stop-opacity="0.50"/><stop offset="0.244" stop-color="#282828" stop-opacity="0.74"/><stop offset="0.270" stop-color="#282828" stop-opacity="0.91"/><stop offset="0.290" stop-color="#282828" stop-opacity="1.00"/><stop offset="0.710" stop-color="#282828" stop-opacity="1.00"/><stop offset="0.730" stop-color="#282828" stop-opacity="0.91"/><stop offset="0.756" stop-color="#282828" stop-opacity="0.74"/><stop offset="0.791" stop-color="#282828" stop-opacity="0.50"/><stop offset="0.832" stop-color="#282828" stop-opacity="0.27"/><stop offset="0.878" stop-color="#282828" stop-opacity="0.11"/><stop offset="0.936" stop-color="#282828" stop-opacity="0.03"/><stop offset="1.000" stop-color="#282828" stop-opacity="0.00"/></linearGradient>
<linearGradient id="b87" x1="0" y1="0" x2="0" y2="1"><stop offset="0.000" stop-color="#303030" stop-opacity="0.00"/><stop offset="0.053" stop-color="#303030" stop-opacity="0.03"/><stop offset="0.101" stop-color="#303030" stop-opacity="0.11"/><stop offset="0.139" stop-color="#303030" stop-opacity="0.27"/><stop offset="0.173" stop-color="#303030" stop-opacity="0.50"/><stop offset="0.202" stop-color="#303030" stop-opacity="0.74"/><stop offset="0.223" stop-color="#303030" stop-opacity="0.91"/><stop offset="0.240" stop-color="#303030" stop-opacity="1.00"/><stop offset="0.760" stop-color="#303030" stop-opacity="1.00"/><stop offset="0.777" stop-color="#303030" stop-opacity="0.91"/><stop offset="0.798" stop-color="#303030" stop-opacity="0.74"/><stop offset="0.827" stop-color="#303030" stop-opacity="0.50"/><stop offset="0.861" stop-color="#303030" stop-opacity="0.27"/><stop offset="0.899" stop-color="#303030" stop-opacity="0.11"/><stop offset="0.947" stop-color="#303030" stop-opacity="0.03"/><stop offset="1.000" stop-color="#303030" stop-opacity="0.00"/></linearGradient>
<linearGradient id="b88" x1="0" y1="0" x2="0" y2="1"><stop offset="0.000" stop-color="#404040" stop-opacity="0.00"/><stop offset="0.066" stop-color="#404040" stop-opacity="0.03"/><stop offset="0.126" stop-color="#404040" stop-opacity="0.11"/><stop offset="0.174" stop-color="#404040" stop-opacity="0.27"/><stop offset="0.216" stop-color="#404040" stop-opacity="0.50"/><stop offset="0.252" stop-color="#404040" stop-opacity="0.74"/><stop offset="0.279" stop-color="#404040" stop-opacity="0.91"/><stop offset="0.300" stop-color="#404040" stop-opacity="1.00"/><stop offset="0.700" stop-color="#404040" stop-opacity="1.00"/><stop offset="0.721" stop-color="#404040" stop-opacity="0.91"/><stop offset="0.748" stop-color="#404040" stop-opacity="0.74"/><stop offset="0.784" stop-color="#404040" stop-opacity="0.50"/><stop offset="0.826" stop-color="#404040" stop-opacity="0.27"/><stop offset="0.874" stop-color="#404040" stop-opacity="0.11"/><stop offset="0.934" stop-color="#404040" stop-opacity="0.03"/><stop offset="1.000" stop-color="#404040" stop-opacity="0.00"/></linearGradient>
<linearGradient id="b89" x1="0" y1="0" x2="0" y2="1"><stop offset="0.000" stop-color="#b4b4b4" stop-opacity="0.00"/><stop offset="0.090" stop-color="#b4b4b4" stop-opacity="0.03"/><stop offset="0.172" stop-color="#b4b4b4" stop-opacity="0.11"/><stop offset="0.238" stop-color="#b4b4b4" stop-opacity="0.27"/><stop offset="0.295" stop-color="#b4b4b4" stop-opacity="0.50"/><stop offset="0.344" stop-color="#b4b4b4" stop-opacity="0.74"/><stop offset="0.381" stop-color="#b4b4b4" stop-opacity="0.91"/><stop offset="0.410" stop-color="#b4b4b4" stop-opacity="1.00"/><stop offset="0.590" stop-color="#b4b4b4" stop-opacity="1.00"/><stop offset="0.619" stop-color="#b4b4b4" stop-opacity="0.91"/><stop offset="0.656" stop-color="#b4b4b4" stop-opacity="0.74"/><stop offset="0.705" stop-color="#b4b4b4" stop-opacity="0.50"/><stop offset="0.762" stop-color="#b4b4b4" stop-opacity="0.27"/><stop offset="0.828" stop-color="#b4b4b4" stop-opacity="0.11"/><stop offset="0.910" stop-color="#b4b4b4" stop-opacity="0.03"/><stop offset="1.000" stop-color="#b4b4b4" stop-opacity="0.00"/></linearGradient>
<linearGradient id="b90" x1="0" y1="0" x2="0" y2="1"><stop offset="0.000" stop-color="#a0a0a0" stop-opacity="0.00"/><stop offset="0.090" stop-color="#a0a0a0" stop-opacity="0.03"/><stop offset="0.172" stop-color="#a0a0a0" stop-opacity="0.11"/><stop offset="0.238" stop-color="#a0a0a0" stop-opacity="0.27"/><stop offset="0.295" stop-color="#a0a0a0" stop-opacity="0.50"/><stop offset="0.344" stop-color="#a0a0a0" stop-opacity="0.74"/><stop offset="0.381" stop-color="#a0a0a0" stop-opacity="0.91"/><stop offset="0.410" stop-color="#a0a0a0" stop-opacity="1.00"/><stop offset="0.590" stop-color="#a0a0a0" stop-opacity="1.00"/><stop offset="0.619" stop-color="#a0a0a0" stop-opacity="0.91"/><stop offset="0.656" stop-color="#a0a0a0" stop-opacity="0.74"/><stop offset="0.705" stop-color="#a0a0a0" stop-opacity="0.50"/><stop offset="0.762" stop-color="#a0a0a0" stop-opacity="0.27"/><stop offset="0.828" stop-color="#a0a0a0" stop-opacity="0.11"/><stop offset="0.910" stop-color="#a0a0a0" stop-opacity="0.03"/><stop offset="1.000" stop-color="#a0a0a0" stop-opacity="0.00"/></linearGradient>
</defs>
<text x="30.6" y="43.0" font-size="34.5" font-weight="bold" textLength="24.8" lengthAdjust="spacingAndGlyphs" fill="#1a4a80" stroke="#1a4a80" stroke-width="0.9">A</text>
<text x="598.7" y="42.3" font-size="34.5" font-weight="bold" textLength="23.9" lengthAdjust="spacingAndGlyphs" fill="#1a4a80" stroke="#1a4a80" stroke-width="0.9">B</text>
<text x="1036.1" y="42.5" font-size="34.5" font-weight="bold" textLength="24.3" lengthAdjust="spacingAndGlyphs" fill="#1a4a80" stroke="#1a4a80" stroke-width="0.9">C</text>
<text x="1477.5" y="42.3" font-size="34.5" font-weight="bold" textLength="25.1" lengthAdjust="spacingAndGlyphs" fill="#1a4a80" stroke="#1a4a80" stroke-width="0.9">D</text>
<text x="31.3" y="628.0" font-size="34.5" font-weight="bold" textLength="22.4" lengthAdjust="spacingAndGlyphs" fill="#1a4a80" stroke="#1a4a80" stroke-width="0.9">E</text>
<text x="956.5" y="688.4" font-size="34.5" font-weight="bold" textLength="22.8" lengthAdjust="spacingAndGlyphs" fill="#1a4a80" stroke="#1a4a80" stroke-width="0.9">F</text>
<text x="50.9" y="1444.6" font-size="34.5" font-weight="bold" textLength="25.4" lengthAdjust="spacingAndGlyphs" fill="#1a4a80" stroke="#1a4a80" stroke-width="0.9">G</text>
<text x="825.6" y="1443.8" font-size="34.5" font-weight="bold" textLength="28.2" lengthAdjust="spacingAndGlyphs" fill="#1a4a80" stroke="#1a4a80" stroke-width="0.9">H</text>
<text x="457.3" y="2055.2" font-size="34.5" font-weight="bold" textLength="10.7" lengthAdjust="spacingAndGlyphs" fill="#1a4a80" stroke="#1a4a80" stroke-width="0.9">I</text>
<text x="331.9" y="154.0" font-size="31.8" text-anchor="middle" textLength="104.1" lengthAdjust="spacingAndGlyphs">WGBS/</text>
<text x="331.8" y="192.0" font-size="31.8" text-anchor="middle" textLength="129.7" lengthAdjust="spacingAndGlyphs">RNA-seq</text>
<text x="480.9" y="154.0" font-size="31.8" text-anchor="middle" textLength="104.1" lengthAdjust="spacingAndGlyphs">WGBS/</text>
<text x="480.8" y="192.0" font-size="31.8" text-anchor="middle" textLength="129.7" lengthAdjust="spacingAndGlyphs">RNA-seq</text>
<line x1="352.0" y1="225.0" x2="355.0" y2="355.0" stroke="#1a1a1a" stroke-width="3.6" />
<polygon points="352.0,205.0 336.5,231.0 367.5,231.0" fill="#1a1a1a"/>
<line x1="469.0" y1="225.0" x2="472.5" y2="355.0" stroke="#1a1a1a" stroke-width="3.6" />
<polygon points="469.0,205.0 453.5,231.0 484.5,231.0" fill="#1a1a1a"/>
<rect x="188.0" y="263.0" width="385.0" height="6.5" fill="#1a1a1a"/>
<rect x="183.0" y="353.5" width="386.0" height="6.5" fill="#1a1a1a"/>
<text x="8.8" y="252.0" font-size="31.8" textLength="185.1" lengthAdjust="spacingAndGlyphs">Conventional</text>
<text x="60.5" y="275.4" font-size="31.8" textLength="52.8" lengthAdjust="spacingAndGlyphs">Aza</text>
<text x="33.4" y="364.5" font-size="31.8" textLength="136.2" lengthAdjust="spacingAndGlyphs">Extended</text>
<text x="80.0" y="387.5" font-size="31.8" textLength="52.8" lengthAdjust="spacingAndGlyphs">Aza</text>
<text x="181.8" y="211.5" font-size="18.7" textLength="41.7" lengthAdjust="spacingAndGlyphs">1 µM</text>
<text x="171.4" y="304.2" font-size="14.6" textLength="48.9" lengthAdjust="spacingAndGlyphs">0.2 µM</text>
<text x="228.4" y="304.2" font-size="14.6" textLength="48.9" lengthAdjust="spacingAndGlyphs">0.2 µM</text>
<text x="287.9" y="304.2" font-size="14.6" textLength="48.9" lengthAdjust="spacingAndGlyphs">0.2 µM</text>
<text x="357.9" y="304.2" font-size="14.6" textLength="48.9" lengthAdjust="spacingAndGlyphs">0.2 µM</text>
<text x="417.4" y="304.2" font-size="14.6" textLength="48.9" lengthAdjust="spacingAndGlyphs">0.2 µM</text>
<line x1="201.3" y1="220.0" x2="201.3" y2="252.3" stroke="#1a1a1a" stroke-width="1.5" />
<polygon points="201.3,258.3 193.9,245.3 201.3,249.8 208.7,245.3" fill="#1a1a1a"/>
<line x1="201.5" y1="311.0" x2="201.5" y2="343.5" stroke="#1a1a1a" stroke-width="1.5" />
<polygon points="201.5,349.5 194.1,336.5 201.5,341.0 208.9,336.5" fill="#1a1a1a"/>
<line x1="256.5" y1="311.0" x2="256.5" y2="343.5" stroke="#1a1a1a" stroke-width="1.5" />
<polygon points="256.5,349.5 249.1,336.5 256.5,341.0 263.9,336.5" fill="#1a1a1a"/>
<line x1="315.0" y1="311.0" x2="315.0" y2="343.5" stroke="#1a1a1a" stroke-width="1.5" />
<polygon points="315.0,349.5 307.6,336.5 315.0,341.0 322.4,336.5" fill="#1a1a1a"/>
<line x1="372.0" y1="311.0" x2="372.0" y2="343.5" stroke="#1a1a1a" stroke-width="1.5" />
<polygon points="372.0,349.5 364.6,336.5 372.0,341.0 379.4,336.5" fill="#1a1a1a"/>
<line x1="429.7" y1="311.0" x2="429.7" y2="343.5" stroke="#1a1a1a" stroke-width="1.5" />
<polygon points="429.7,349.5 422.3,336.5 429.7,341.0 437.1,336.5" fill="#1a1a1a"/>
<line x1="194.0" y1="360.0" x2="194.0" y2="379.0" stroke="#1a1a1a" stroke-width="2.6" />
<line x1="251.6" y1="360.0" x2="251.6" y2="379.0" stroke="#1a1a1a" stroke-width="2.6" />
<line x1="308.7" y1="360.0" x2="308.7" y2="379.0" stroke="#1a1a1a" stroke-width="2.6" />
<line x1="367.0" y1="360.0" x2="367.0" y2="379.0" stroke="#1a1a1a" stroke-width="2.6" />
<line x1="424.5" y1="360.0" x2="424.5" y2="379.0" stroke="#1a1a1a" stroke-width="2.6" />
<line x1="482.0" y1="360.0" x2="482.0" y2="379.0" stroke="#1a1a1a" stroke-width="2.6" />
<line x1="540.0" y1="360.0" x2="540.0" y2="379.0" stroke="#1a1a1a" stroke-width="2.6" />
<text x="198.3" y="409.6" font-size="30.2" text-anchor="middle" textLength="18.5" lengthAdjust="spacingAndGlyphs" class="t">1</text>
<text x="255.8" y="409.6" font-size="30.2" text-anchor="middle" textLength="17.7" lengthAdjust="spacingAndGlyphs" class="t">2</text>
<text x="312.0" y="409.6" font-size="30.2" text-anchor="middle" textLength="17.0" lengthAdjust="spacingAndGlyphs" class="t">3</text>
<text x="369.2" y="409.6" font-size="30.2" text-anchor="middle" textLength="16.0" lengthAdjust="spacingAndGlyphs" class="t">4</text>
<text x="425.0" y="409.6" font-size="30.2" text-anchor="middle" textLength="17.0" lengthAdjust="spacingAndGlyphs" class="t">5</text>
<text x="480.9" y="409.6" font-size="30.2" text-anchor="middle" textLength="17.3" lengthAdjust="spacingAndGlyphs" class="t">6</text>
<text x="537.0" y="409.6" font-size="30.2" text-anchor="middle" textLength="17.7" lengthAdjust="spacingAndGlyphs" class="t">7</text>
<text x="331.7" y="448.7" font-size="30.8" textLength="71.8" lengthAdjust="spacingAndGlyphs">Days</text>
<rect x="678.5" y="91.0" width="356.0" height="213.0" fill="#fff"/>
<line x1="678.5" y1="273.2" x2="1034.5" y2="273.2" stroke="#f0f0f0" stroke-width="1" />
<line x1="678.5" y1="231.0" x2="1034.5" y2="231.0" stroke="#f0f0f0" stroke-width="1" />
<line x1="678.5" y1="188.8" x2="1034.5" y2="188.8" stroke="#f0f0f0" stroke-width="1" />
<line x1="678.5" y1="146.5" x2="1034.5" y2="146.5" stroke="#f0f0f0" stroke-width="1" />
<line x1="678.5" y1="104.3" x2="1034.5" y2="104.3" stroke="#f0f0f0" stroke-width="1" />
<line x1="778.6" y1="91.0" x2="778.6" y2="304.0" stroke="#f0f0f0" stroke-width="1" />
<line x1="881.0" y1="91.0" x2="881.0" y2="304.0" stroke="#f0f0f0" stroke-width="1" />
<line x1="983.4" y1="91.0" x2="983.4" y2="304.0" stroke="#f0f0f0" stroke-width="1" />
<line x1="678.5" y1="294.3" x2="1034.5" y2="294.3" stroke="#e5e5e5" stroke-width="1.35" />
<line x1="675.0" y1="294.3" x2="678.5" y2="294.3" stroke="#333" stroke-width="1.3" />
<line x1="678.5" y1="252.1" x2="1034.5" y2="252.1" stroke="#e5e5e5" stroke-width="1.35" />
<line x1="675.0" y1="252.1" x2="678.5" y2="252.1" stroke="#333" stroke-width="1.3" />
<line x1="678.5" y1="209.9" x2="1034.5" y2="209.9" stroke="#e5e5e5" stroke-width="1.35" />
<line x1="675.0" y1="209.9" x2="678.5" y2="209.9" stroke="#333" stroke-width="1.3" />
<line x1="678.5" y1="167.6" x2="1034.5" y2="167.6" stroke="#e5e5e5" stroke-width="1.35" />
<line x1="675.0" y1="167.6" x2="678.5" y2="167.6" stroke="#333" stroke-width="1.3" />
<line x1="678.5" y1="125.4" x2="1034.5" y2="125.4" stroke="#e5e5e5" stroke-width="1.35" />
<line x1="675.0" y1="125.4" x2="678.5" y2="125.4" stroke="#333" stroke-width="1.3" />
<line x1="727.4" y1="91.0" x2="727.4" y2="304.0" stroke="#e5e5e5" stroke-width="1.35" />
<line x1="829.8" y1="91.0" x2="829.8" y2="304.0" stroke="#e5e5e5" stroke-width="1.35" />
<line x1="932.2" y1="91.0" x2="932.2" y2="304.0" stroke="#e5e5e5" stroke-width="1.35" />
<path d="M695.4 294.3 L727.4 294.3 L728.4 195.9 L729.9 204.4 L731.4 212.2 L732.9 219.1 L734.5 225.0 L736.0 230.6 L737.5 235.6 L739.0 239.8 L740.5 242.9 L742.0 245.4 L743.5 247.7 L745.0 249.6 L746.5 250.8 L748.0 251.2 L749.5 251.1 L751.0 250.7 L752.5 250.3 L754.0 250.0 L755.6 250.0 L757.1 250.6 L758.6 251.8 L760.1 253.4 L761.6 255.1 L763.1 256.8 L764.6 258.3 L766.1 259.4 L767.6 260.4 L769.1 261.3 L770.6 262.1 L772.1 262.9 L773.6 263.7 L775.1 264.4 L776.7 265.0 L778.2 265.6 L779.7 266.1 L781.2 266.6 L782.7 267.0 L784.2 267.4 L785.7 267.8 L787.2 268.2 L788.7 268.5 L790.2 268.8 L791.7 269.1 L793.2 269.4 L794.7 269.6 L796.2 269.7 L797.8 269.8 L799.3 269.9 L800.8 270.0 L802.3 270.0 L803.8 270.1 L805.3 270.2 L806.8 270.2 L808.3 270.3 L809.8 270.3 L811.3 270.4 L812.8 270.4 L814.3 270.5 L815.8 270.5 L817.3 270.5 L818.9 270.6 L820.4 270.6 L821.9 270.6 L823.4 270.6 L824.9 270.6 L826.4 270.6 L827.9 270.7 L829.4 270.7 L830.9 270.7 L832.4 270.6 L833.9 270.6 L835.4 270.5 L836.9 270.4 L838.5 270.4 L840.0 270.3 L841.5 270.2 L843.0 270.1 L844.5 270.0 L846.0 269.9 L847.5 269.8 L849.0 269.7 L850.5 269.6 L852.0 269.5 L853.5 269.4 L855.0 269.4 L856.5 269.4 L858.0 269.3 L859.6 269.3 L861.1 269.3 L862.6 269.3 L864.1 269.2 L865.6 269.2 L867.1 269.2 L868.6 269.2 L870.1 269.2 L871.6 269.2 L873.1 269.2 L874.6 269.1 L876.1 269.1 L877.6 269.1 L879.1 269.1 L880.7 269.0 L882.2 269.0 L883.7 268.9 L885.2 268.9 L886.7 268.8 L888.2 268.7 L889.7 268.5 L891.2 268.4 L892.7 268.2 L894.2 268.0 L895.7 267.8 L897.2 267.6 L898.7 267.4 L900.2 267.1 L901.8 266.8 L903.3 266.4 L904.8 265.9 L906.3 265.4 L907.8 264.8 L909.3 264.2 L910.8 263.6 L912.3 262.9 L913.8 262.1 L915.3 261.3 L916.8 260.4 L918.3 259.4 L919.8 258.4 L921.3 257.3 L922.9 256.2 L924.4 255.0 L925.9 253.5 L927.4 252.0 L928.9 250.4 L930.4 248.7 L931.9 247.0 L933.4 245.3 L934.9 243.5 L936.4 241.7 L937.9 239.9 L939.4 238.0 L940.9 236.1 L942.4 234.0 L944.0 231.9 L945.5 229.7 L947.0 227.6 L948.5 225.6 L950.0 223.7 L951.5 221.9 L953.0 220.4 L954.5 219.2 L956.0 218.2 L957.5 217.9 L959.0 218.6 L960.5 219.6 L962.0 220.7 L963.6 222.2 L965.1 223.6 L966.6 224.2 L968.1 223.6 L969.6 222.1 L971.1 216.9 L972.6 208.1 L974.1 196.7 L975.6 183.0 L977.1 169.2 L978.6 154.9 L980.1 139.6 L981.6 125.4 L983.1 116.6 L983.4 294.3 L1015.4 294.3" fill="none" stroke="#ea5f5a" stroke-width="1.15" stroke-linejoin="round"/>
<path d="M695.4 294.3 L727.4 294.3 L728.4 206.5 L729.9 211.5 L731.4 216.4 L732.9 221.2 L734.4 226.0 L735.9 231.2 L737.4 236.3 L739.0 240.7 L740.5 243.8 L742.0 246.3 L743.5 248.6 L745.0 250.4 L746.5 251.7 L748.0 252.1 L749.5 251.9 L751.0 251.6 L752.5 251.2 L754.0 250.9 L755.5 250.9 L757.0 251.5 L758.5 252.6 L760.0 254.1 L761.5 255.8 L763.0 257.5 L764.5 259.0 L766.0 260.1 L767.5 261.0 L769.0 261.9 L770.5 262.7 L772.0 263.5 L773.5 264.3 L775.1 265.0 L776.6 265.6 L778.1 266.2 L779.6 266.7 L781.1 267.1 L782.6 267.5 L784.1 267.9 L785.6 268.3 L787.1 268.7 L788.6 269.0 L790.1 269.3 L791.6 269.6 L793.1 269.8 L794.6 270.0 L796.1 270.2 L797.6 270.3 L799.1 270.4 L800.6 270.4 L802.1 270.5 L803.6 270.6 L805.1 270.6 L806.6 270.7 L808.1 270.7 L809.7 270.8 L811.2 270.8 L812.7 270.9 L814.2 270.9 L815.7 271.0 L817.2 271.0 L818.7 271.0 L820.2 271.1 L821.7 271.1 L823.2 271.1 L824.7 271.1 L826.2 271.1 L827.7 271.1 L829.2 271.1 L830.7 271.1 L832.2 271.1 L833.7 271.1 L835.2 271.0 L836.7 270.9 L838.2 270.9 L839.7 270.8 L841.2 270.7 L842.7 270.6 L844.2 270.5 L845.8 270.4 L847.3 270.3 L848.8 270.2 L850.3 270.1 L851.8 270.0 L853.3 270.0 L854.8 269.9 L856.3 269.9 L857.8 269.8 L859.3 269.8 L860.8 269.8 L862.3 269.8 L863.8 269.7 L865.3 269.7 L866.8 269.7 L868.3 269.7 L869.8 269.7 L871.3 269.6 L872.8 269.6 L874.3 269.6 L875.8 269.6 L877.3 269.6 L878.8 269.5 L880.3 269.5 L881.9 269.5 L883.4 269.5 L884.9 269.4 L886.4 269.4 L887.9 269.4 L889.4 269.3 L890.9 269.3 L892.4 269.2 L893.9 269.2 L895.4 269.1 L896.9 269.1 L898.4 269.0 L899.9 268.9 L901.4 268.9 L902.9 268.8 L904.4 268.7 L905.9 268.5 L907.4 268.4 L908.9 268.2 L910.4 268.0 L911.9 267.7 L913.4 267.3 L914.9 266.7 L916.4 266.1 L918.0 265.5 L919.5 264.8 L921.0 264.1 L922.5 263.4 L924.0 262.7 L925.5 262.0 L927.0 261.2 L928.5 260.4 L930.0 259.5 L931.5 258.5 L933.0 257.4 L934.5 256.2 L936.0 254.8 L937.5 253.2 L939.0 251.6 L940.5 249.9 L942.0 248.0 L943.5 245.8 L945.0 243.5 L946.5 241.1 L948.0 238.7 L949.5 236.3 L951.0 233.8 L952.5 231.3 L954.1 228.8 L955.6 226.3 L957.1 224.0 L958.6 222.0 L960.1 220.1 L961.6 218.1 L963.1 216.0 L964.6 213.9 L966.1 211.7 L967.6 209.0 L969.1 205.0 L970.6 197.9 L972.1 189.7 L973.6 180.6 L975.1 170.8 L976.6 160.4 L978.1 148.9 L979.6 139.7 L981.1 134.3 L982.6 130.9 L983.4 294.3 L1015.4 294.3" fill="none" stroke="#ea5f5a" stroke-width="1.15" stroke-linejoin="round"/>
<path d="M695.4 294.3 L727.4 294.3 L728.4 203.5 L729.9 208.2 L731.4 212.9 L732.9 217.6 L734.4 222.5 L735.9 227.8 L737.4 233.2 L738.9 237.9 L740.4 241.3 L741.9 243.9 L743.5 246.2 L745.0 248.1 L746.5 249.6 L748.0 250.4 L749.5 250.8 L751.0 251.1 L752.5 251.3 L754.0 251.6 L755.5 252.0 L757.0 252.6 L758.5 253.4 L760.0 254.4 L761.5 255.4 L763.0 256.5 L764.5 257.5 L766.0 258.3 L767.5 259.2 L769.0 260.0 L770.5 260.9 L772.0 261.7 L773.5 262.5 L775.0 263.3 L776.5 264.0 L778.0 264.7 L779.5 265.2 L781.0 265.7 L782.5 266.1 L784.0 266.6 L785.5 267.0 L787.0 267.3 L788.5 267.7 L790.0 268.0 L791.5 268.3 L793.0 268.6 L794.5 268.8 L796.0 268.9 L797.5 269.1 L799.0 269.1 L800.6 269.2 L802.1 269.3 L803.6 269.4 L805.1 269.4 L806.6 269.5 L808.1 269.5 L809.6 269.6 L811.1 269.6 L812.6 269.7 L814.1 269.7 L815.6 269.8 L817.1 269.8 L818.6 269.8 L820.1 269.9 L821.6 269.9 L823.1 269.9 L824.6 269.9 L826.1 269.9 L827.6 269.9 L829.1 269.9 L830.6 269.9 L832.1 269.9 L833.6 269.9 L835.1 269.8 L836.6 269.8 L838.1 269.7 L839.6 269.6 L841.1 269.5 L842.6 269.4 L844.1 269.3 L845.6 269.2 L847.1 269.1 L848.6 269.0 L850.1 268.9 L851.6 268.8 L853.1 268.7 L854.6 268.7 L856.2 268.6 L857.7 268.6 L859.2 268.6 L860.7 268.5 L862.2 268.5 L863.7 268.4 L865.2 268.4 L866.7 268.4 L868.2 268.4 L869.7 268.3 L871.2 268.3 L872.7 268.3 L874.2 268.3 L875.7 268.2 L877.2 268.2 L878.7 268.2 L880.2 268.2 L881.7 268.2 L883.2 268.2 L884.7 268.3 L886.2 268.4 L887.7 268.5 L889.2 268.7 L890.7 269.0 L892.2 269.2 L893.7 269.4 L895.2 269.6 L896.7 269.7 L898.2 269.8 L899.7 269.8 L901.2 269.8 L902.7 269.8 L904.2 269.7 L905.7 269.6 L907.2 269.6 L908.7 269.5 L910.2 269.3 L911.8 269.1 L913.3 268.7 L914.8 268.3 L916.3 267.7 L917.8 267.1 L919.3 266.5 L920.8 265.8 L922.3 265.2 L923.8 264.5 L925.3 263.9 L926.8 263.1 L928.3 262.4 L929.8 261.6 L931.3 260.7 L932.8 259.7 L934.3 258.6 L935.8 257.5 L937.3 256.2 L938.8 254.8 L940.3 253.3 L941.8 251.6 L943.3 249.5 L944.8 247.3 L946.3 245.0 L947.8 242.8 L949.3 240.9 L950.8 238.8 L952.3 236.7 L953.8 235.3 L955.3 234.9 L956.8 235.0 L958.3 235.2 L959.8 235.4 L961.3 235.3 L962.8 235.2 L964.3 235.1 L965.8 234.7 L967.3 231.7 L968.9 227.2 L970.4 219.8 L971.9 211.6 L973.4 204.1 L974.9 196.6 L976.4 188.9 L977.9 180.5 L979.4 173.3 L980.9 169.0 L982.4 166.4 L983.4 294.3 L1015.4 294.3" fill="none" stroke="#ea5f5a" stroke-width="1.15" stroke-linejoin="round"/>
<path d="M701.0 294.3 L727.4 294.3 L728.2 131.3 L729.7 146.9 L731.2 162.9 L732.7 179.2 L734.2 196.1 L735.7 215.6 L737.2 233.9 L738.7 246.0 L740.2 255.3 L741.7 260.4 L743.2 259.0 L744.7 253.9 L746.2 247.2 L747.7 240.9 L749.2 236.8 L750.7 233.5 L752.2 232.3 L753.7 233.1 L755.2 234.8 L756.7 236.9 L758.2 239.0 L759.7 240.5 L761.2 241.9 L762.7 243.1 L764.2 244.4 L765.7 245.5 L767.2 246.5 L768.7 247.3 L770.2 248.0 L771.7 248.6 L773.2 249.1 L774.8 249.6 L776.3 250.0 L777.8 250.4 L779.3 250.7 L780.8 251.0 L782.3 251.2 L783.8 251.3 L785.3 251.5 L786.8 251.6 L788.3 251.7 L789.8 251.8 L791.3 251.9 L792.8 252.0 L794.3 252.0 L795.8 252.1 L797.3 252.1 L798.8 252.0 L800.3 251.7 L801.8 251.3 L803.3 250.7 L804.8 250.0 L806.3 249.4 L807.8 248.7 L809.3 248.2 L810.8 247.8 L812.3 247.5 L813.8 247.2 L815.3 246.8 L816.8 246.5 L818.3 246.2 L819.8 245.9 L821.3 245.7 L822.8 245.4 L824.3 245.2 L825.8 245.1 L827.3 245.0 L828.8 244.9 L830.3 244.9 L831.9 245.1 L833.4 245.3 L834.9 245.7 L836.4 246.1 L837.9 246.6 L839.4 247.0 L840.9 247.4 L842.4 247.7 L843.9 247.8 L845.4 247.6 L846.9 246.0 L848.4 243.3 L849.9 240.0 L851.4 236.8 L852.9 234.2 L854.4 232.8 L855.9 233.2 L857.4 235.5 L858.9 238.8 L860.4 242.4 L861.9 245.2 L863.4 246.6 L864.9 246.4 L866.4 245.7 L867.9 244.8 L869.4 243.7 L870.9 242.7 L872.4 242.0 L873.9 241.5 L875.4 241.5 L876.9 241.6 L878.4 241.6 L879.9 241.7 L881.4 241.8 L882.9 242.0 L884.4 242.2 L885.9 242.5 L887.5 243.0 L889.0 243.6 L890.5 244.2 L892.0 244.9 L893.5 245.6 L895.0 246.3 L896.5 247.0 L898.0 247.9 L899.5 248.8 L901.0 249.9 L902.5 250.9 L904.0 252.0 L905.5 253.1 L907.0 254.1 L908.5 255.1 L910.0 256.0 L911.5 256.9 L913.0 257.7 L914.5 258.6 L916.0 259.4 L917.5 260.3 L919.0 261.1 L920.5 261.9 L922.0 262.7 L923.5 263.6 L925.0 264.4 L926.5 265.3 L928.0 266.2 L929.5 267.1 L931.0 268.0 L932.5 268.8 L934.0 269.7 L935.5 270.6 L937.0 271.5 L938.5 272.4 L940.0 273.3 L941.5 274.2 L943.1 275.1 L944.6 276.1 L946.1 277.0 L947.6 277.9 L949.1 278.8 L950.6 279.8 L952.1 280.8 L953.6 281.8 L955.1 282.8 L956.6 283.8 L958.1 284.7 L959.6 285.6 L961.1 286.5 L962.6 287.3 L964.1 288.0 L965.6 288.8 L967.1 289.6 L968.6 290.2 L970.1 290.5 L971.6 290.4 L973.1 290.1 L974.6 289.7 L976.1 289.1 L977.6 288.3 L979.1 286.8 L980.6 284.8 L982.1 282.5 L983.4 294.3 L1009.8 294.3" fill="none" stroke="#22ab3c" stroke-width="1.15" stroke-linejoin="round"/>
<path d="M701.0 294.3 L727.4 294.3 L728.2 140.2 L729.7 154.3 L731.2 168.7 L732.7 183.4 L734.2 198.5 L735.7 216.0 L737.2 232.2 L738.7 242.2 L740.2 249.4 L741.7 253.2 L743.2 252.4 L744.7 249.4 L746.2 245.2 L747.7 241.1 L749.2 238.1 L750.7 235.2 L752.2 234.1 L753.7 234.9 L755.2 236.6 L756.7 238.6 L758.2 240.6 L759.7 242.2 L761.2 243.4 L762.7 244.7 L764.2 245.9 L765.7 247.0 L767.2 247.9 L768.7 248.8 L770.2 249.4 L771.7 249.9 L773.2 250.4 L774.8 250.9 L776.3 251.3 L777.8 251.7 L779.3 252.0 L780.8 252.3 L782.3 252.5 L783.8 252.6 L785.3 252.8 L786.8 252.9 L788.3 253.0 L789.8 253.1 L791.3 253.2 L792.8 253.2 L794.3 253.3 L795.8 253.3 L797.3 253.3 L798.8 253.3 L800.3 253.0 L801.8 252.6 L803.3 252.0 L804.8 251.4 L806.3 250.7 L807.8 250.1 L809.3 249.6 L810.8 249.2 L812.3 248.9 L813.8 248.6 L815.3 248.3 L816.8 247.9 L818.3 247.7 L819.8 247.4 L821.3 247.1 L822.8 246.9 L824.3 246.7 L825.8 246.6 L827.3 246.5 L828.8 246.4 L830.3 246.4 L831.9 246.5 L833.4 246.8 L834.9 247.2 L836.4 247.6 L837.9 248.0 L839.4 248.4 L840.9 248.8 L842.4 249.1 L843.9 249.2 L845.4 249.1 L846.9 248.0 L848.4 246.1 L849.9 243.8 L851.4 241.6 L852.9 239.7 L854.4 238.8 L855.9 239.0 L857.4 240.6 L858.9 242.8 L860.4 245.2 L861.9 247.1 L863.4 248.0 L864.9 247.8 L866.4 247.2 L867.9 246.3 L869.4 245.3 L870.9 244.3 L872.4 243.5 L873.9 243.1 L875.4 243.1 L876.9 243.2 L878.4 243.2 L879.9 243.3 L881.4 243.4 L882.9 243.5 L884.4 243.7 L885.9 244.1 L887.5 244.5 L889.0 245.1 L890.5 245.7 L892.0 246.4 L893.5 247.0 L895.0 247.7 L896.5 248.4 L898.0 249.3 L899.5 250.2 L901.0 251.2 L902.5 252.2 L904.0 253.3 L905.5 254.3 L907.0 255.3 L908.5 256.3 L910.0 257.1 L911.5 258.0 L913.0 258.8 L914.5 259.7 L916.0 260.5 L917.5 261.3 L919.0 262.1 L920.5 262.9 L922.0 263.7 L923.5 264.5 L925.0 265.3 L926.5 266.2 L928.0 267.0 L929.5 267.9 L931.0 268.7 L932.5 269.6 L934.0 270.5 L935.5 271.3 L937.0 272.2 L938.5 273.1 L940.0 274.0 L941.5 274.8 L943.1 275.7 L944.6 276.6 L946.1 277.5 L947.6 278.4 L949.1 279.3 L950.6 280.2 L952.1 281.2 L953.6 282.2 L955.1 283.1 L956.6 284.1 L958.1 285.0 L959.6 285.9 L961.1 286.7 L962.6 287.5 L964.1 288.2 L965.6 289.0 L967.1 289.7 L968.6 290.3 L970.1 290.6 L971.6 290.5 L973.1 290.2 L974.6 289.7 L976.1 289.2 L977.6 288.6 L979.1 287.9 L980.6 286.9 L982.1 285.9 L983.4 294.3 L1009.8 294.3" fill="none" stroke="#22ab3c" stroke-width="1.15" stroke-linejoin="round"/>
<path d="M701.0 294.3 L727.4 294.3 L728.2 155.0 L729.7 161.0 L731.2 169.8 L732.7 180.7 L734.2 193.1 L735.7 212.1 L737.2 232.2 L738.7 245.1 L740.2 254.7 L741.7 260.0 L743.2 258.9 L744.7 254.8 L746.2 249.2 L747.7 243.7 L749.2 239.6 L750.7 235.8 L752.2 234.3 L753.7 234.7 L755.2 235.7 L756.7 237.0 L758.2 238.3 L759.7 239.5 L761.2 240.6 L762.7 241.9 L764.2 243.1 L765.7 244.4 L767.2 245.5 L768.7 246.4 L770.2 247.1 L771.7 247.6 L773.2 248.2 L774.8 248.7 L776.3 249.1 L777.8 249.5 L779.3 249.9 L780.8 250.1 L782.3 250.3 L783.8 250.5 L785.3 250.6 L786.8 250.7 L788.3 250.8 L789.8 250.9 L791.3 251.0 L792.8 251.1 L794.3 251.2 L795.8 251.2 L797.3 251.2 L798.8 251.1 L800.3 250.7 L801.8 249.9 L803.3 249.0 L804.8 247.9 L806.3 246.9 L807.8 246.0 L809.3 245.4 L810.8 245.1 L812.3 244.9 L813.8 244.7 L815.3 244.6 L816.8 244.4 L818.3 244.3 L819.8 244.2 L821.3 244.1 L822.8 244.0 L824.3 244.0 L825.8 243.9 L827.3 243.9 L828.8 243.9 L830.3 243.9 L831.9 244.0 L833.4 244.3 L834.9 244.7 L836.4 245.1 L837.9 245.6 L839.4 246.0 L840.9 246.4 L842.4 246.7 L843.9 246.9 L845.4 246.7 L846.9 245.0 L848.4 242.2 L849.9 238.9 L851.4 235.6 L852.9 233.0 L854.4 231.5 L855.9 232.0 L857.4 234.3 L858.9 237.7 L860.4 241.3 L861.9 244.2 L863.4 245.6 L864.9 245.4 L866.4 244.8 L867.9 243.8 L869.4 242.7 L870.9 241.7 L872.4 240.9 L873.9 240.5 L875.4 240.5 L876.9 240.5 L878.4 240.6 L879.9 240.7 L881.4 240.8 L882.9 240.9 L884.4 241.1 L885.9 241.5 L887.5 242.0 L889.0 242.5 L890.5 243.2 L892.0 243.9 L893.5 244.6 L895.0 245.3 L896.5 246.1 L898.0 246.9 L899.5 247.9 L901.0 249.0 L902.5 250.1 L904.0 251.2 L905.5 252.3 L907.0 253.3 L908.5 254.3 L910.0 255.2 L911.5 256.1 L913.0 257.0 L914.5 257.9 L916.0 258.7 L917.5 259.6 L919.0 260.4 L920.5 261.3 L922.0 262.1 L923.5 263.0 L925.0 263.8 L926.5 264.7 L928.0 265.6 L929.5 266.5 L931.0 267.4 L932.5 268.3 L934.0 269.2 L935.5 270.2 L937.0 271.1 L938.5 272.0 L940.0 272.9 L941.5 273.8 L943.1 274.8 L944.6 275.7 L946.1 276.6 L947.6 277.6 L949.1 278.5 L950.6 279.5 L952.1 280.5 L953.6 281.6 L955.1 282.6 L956.6 283.6 L958.1 284.5 L959.6 285.5 L961.1 286.3 L962.6 287.2 L964.1 287.9 L965.6 288.7 L967.1 289.5 L968.6 290.1 L970.1 290.4 L971.6 290.3 L973.1 289.9 L974.6 289.3 L976.1 288.8 L977.6 288.5 L979.1 288.3 L980.6 288.1 L982.1 288.0 L983.4 294.3 L1009.8 294.3" fill="none" stroke="#22ab3c" stroke-width="1.15" stroke-linejoin="round"/>
<path d="M703.1 294.3 L727.4 294.3 L728.2 150.3 L729.7 171.2 L731.2 189.5 L732.7 204.9 L734.2 217.0 L735.7 228.2 L737.2 236.4 L738.7 238.1 L740.2 237.1 L741.7 235.7 L743.2 234.0 L744.7 231.3 L746.2 229.0 L747.7 228.0 L749.2 228.6 L750.8 230.0 L752.3 231.8 L753.8 233.7 L755.3 235.4 L756.8 237.2 L758.3 239.2 L759.8 241.3 L761.3 243.4 L762.8 245.2 L764.3 246.8 L765.8 247.9 L767.3 248.6 L768.8 249.3 L770.3 250.0 L771.8 250.5 L773.3 251.0 L774.8 251.5 L776.4 251.9 L777.9 252.3 L779.4 252.6 L780.9 253.0 L782.4 253.3 L783.9 253.7 L785.4 254.0 L786.9 254.3 L788.4 254.7 L789.9 255.0 L791.4 255.2 L792.9 255.5 L794.4 255.7 L795.9 255.9 L797.4 256.1 L798.9 256.2 L800.4 256.3 L801.9 256.3 L803.5 256.2 L805.0 256.1 L806.5 255.8 L808.0 255.6 L809.5 255.2 L811.0 254.9 L812.5 254.5 L814.0 254.1 L815.5 253.7 L817.0 253.3 L818.5 253.0 L820.0 252.7 L821.5 252.4 L823.0 252.1 L824.5 251.7 L826.0 251.4 L827.5 251.0 L829.1 250.7 L830.6 250.5 L832.1 250.2 L833.6 250.1 L835.1 250.0 L836.6 250.0 L838.1 250.6 L839.6 251.6 L841.1 252.7 L842.6 253.6 L844.1 254.1 L845.6 253.9 L847.1 252.5 L848.6 250.4 L850.1 247.9 L851.6 245.4 L853.1 243.5 L854.6 242.4 L856.2 242.6 L857.7 243.8 L859.2 245.5 L860.7 247.4 L862.2 249.2 L863.7 250.5 L865.2 250.8 L866.7 250.3 L868.2 249.4 L869.7 248.1 L871.2 246.7 L872.7 245.4 L874.2 244.3 L875.7 243.7 L877.2 243.6 L878.7 243.7 L880.2 243.7 L881.7 243.7 L883.3 243.8 L884.8 243.8 L886.3 243.9 L887.8 243.9 L889.3 244.0 L890.8 244.1 L892.3 244.2 L893.8 244.3 L895.3 244.5 L896.8 244.6 L898.3 245.0 L899.8 245.5 L901.3 246.1 L902.8 246.8 L904.3 247.6 L905.8 248.4 L907.3 249.2 L908.9 250.0 L910.4 250.7 L911.9 251.3 L913.4 251.9 L914.9 252.6 L916.4 253.2 L917.9 253.8 L919.4 254.5 L920.9 255.1 L922.4 255.7 L923.9 256.4 L925.4 257.1 L926.9 257.8 L928.4 258.4 L929.9 259.1 L931.4 259.7 L932.9 260.4 L934.4 261.1 L936.0 261.7 L937.5 262.4 L939.0 263.2 L940.5 263.9 L942.0 264.7 L943.5 265.6 L945.0 266.5 L946.5 267.5 L948.0 268.6 L949.5 269.9 L951.0 271.3 L952.5 272.9 L954.0 274.5 L955.5 276.2 L957.0 277.8 L958.5 279.3 L960.0 280.8 L961.6 282.5 L963.1 284.2 L964.6 286.0 L966.1 287.7 L967.6 289.0 L969.1 289.8 L970.6 290.1 L972.1 289.5 L973.6 288.2 L975.1 286.5 L976.6 284.7 L978.1 282.9 L979.6 280.6 L981.1 278.1 L982.6 275.3 L983.4 294.3 L1007.7 294.3" fill="none" stroke="#4b8df0" stroke-width="1.15" stroke-linejoin="round"/>
<path d="M703.1 294.3 L727.4 294.3 L728.2 176.1 L729.7 186.9 L731.2 197.6 L732.7 208.2 L734.2 218.9 L735.7 230.7 L737.2 241.4 L738.7 248.3 L740.2 253.5 L741.7 256.7 L743.2 256.2 L744.7 252.8 L746.2 248.5 L747.7 245.3 L749.2 242.8 L750.8 240.5 L752.3 238.5 L753.8 237.1 L755.3 236.7 L756.8 237.4 L758.3 239.0 L759.8 241.1 L761.3 243.4 L762.8 245.7 L764.3 247.6 L765.8 248.8 L767.3 249.5 L768.8 250.2 L770.3 250.8 L771.8 251.4 L773.3 251.9 L774.8 252.3 L776.4 252.7 L777.9 253.1 L779.4 253.5 L780.9 253.8 L782.4 254.1 L783.9 254.5 L785.4 254.8 L786.9 255.1 L788.4 255.4 L789.9 255.7 L791.4 256.0 L792.9 256.3 L794.4 256.5 L795.9 256.7 L797.4 256.9 L798.9 257.0 L800.4 257.0 L801.9 257.1 L803.5 257.0 L805.0 256.8 L806.5 256.6 L808.0 256.3 L809.5 256.0 L811.0 255.6 L812.5 255.3 L814.0 254.9 L815.5 254.5 L817.0 254.2 L818.5 253.9 L820.0 253.6 L821.5 253.3 L823.0 252.9 L824.5 252.6 L826.0 252.2 L827.5 251.9 L829.1 251.6 L830.6 251.3 L832.1 251.1 L833.6 251.0 L835.1 250.9 L836.6 250.9 L838.1 251.5 L839.6 252.4 L841.1 253.5 L842.6 254.4 L844.1 254.9 L845.6 254.7 L847.1 253.4 L848.6 251.3 L850.1 248.8 L851.6 246.4 L853.1 244.5 L854.6 243.5 L856.2 243.7 L857.7 244.8 L859.2 246.5 L860.7 248.4 L862.2 250.1 L863.7 251.3 L865.2 251.7 L866.7 251.2 L868.2 250.3 L869.7 249.0 L871.2 247.6 L872.7 246.3 L874.2 245.3 L875.7 244.7 L877.2 244.7 L878.7 244.7 L880.2 244.7 L881.7 244.7 L883.3 244.8 L884.8 244.8 L886.3 244.9 L887.8 245.0 L889.3 245.0 L890.8 245.1 L892.3 245.2 L893.8 245.3 L895.3 245.5 L896.8 245.6 L898.3 246.0 L899.8 246.5 L901.3 247.1 L902.8 247.8 L904.3 248.5 L905.8 249.3 L907.3 250.1 L908.9 250.8 L910.4 251.5 L911.9 252.2 L913.4 252.8 L914.9 253.4 L916.4 254.0 L917.9 254.7 L919.4 255.3 L920.9 256.0 L922.4 256.7 L923.9 257.4 L925.4 258.2 L926.9 259.0 L928.4 259.9 L929.9 260.8 L931.4 261.8 L932.9 262.8 L934.4 263.9 L936.0 265.0 L937.5 266.1 L939.0 267.2 L940.5 268.3 L942.0 269.5 L943.5 270.6 L945.0 271.6 L946.5 272.7 L948.0 273.7 L949.5 274.7 L951.0 275.8 L952.5 276.8 L954.0 277.8 L955.5 278.8 L957.0 279.8 L958.5 280.9 L960.0 282.0 L961.6 283.4 L963.1 284.9 L964.6 286.5 L966.1 288.0 L967.6 289.2 L969.1 290.0 L970.6 290.2 L972.1 289.2 L973.6 287.4 L975.1 285.7 L976.6 284.8 L978.1 284.8 L979.6 285.1 L981.1 285.7 L982.6 286.7 L983.4 294.3 L1007.7 294.3" fill="none" stroke="#4b8df0" stroke-width="1.15" stroke-linejoin="round"/>
<path d="M703.1 294.3 L727.4 294.3 L728.2 167.6 L729.7 181.3 L731.2 194.1 L732.7 206.0 L734.2 217.2 L735.7 229.1 L737.2 238.9 L738.7 243.3 L740.2 245.7 L741.7 246.9 L743.2 245.6 L744.7 239.6 L746.2 233.1 L747.7 230.4 L749.2 230.7 L750.8 231.6 L752.3 232.8 L753.8 234.1 L755.3 235.4 L756.8 236.9 L758.3 238.9 L759.8 241.0 L761.3 243.1 L762.8 245.1 L764.3 246.7 L765.8 247.9 L767.3 248.6 L768.8 249.3 L770.3 250.0 L771.8 250.5 L773.3 251.0 L774.8 251.5 L776.4 251.9 L777.9 252.3 L779.4 252.6 L780.9 253.0 L782.4 253.3 L783.9 253.7 L785.4 254.0 L786.9 254.3 L788.4 254.7 L789.9 255.0 L791.4 255.2 L792.9 255.5 L794.4 255.7 L795.9 255.9 L797.4 256.1 L798.9 256.2 L800.4 256.3 L801.9 256.3 L803.5 256.2 L805.0 256.1 L806.5 255.8 L808.0 255.6 L809.5 255.2 L811.0 254.9 L812.5 254.5 L814.0 254.1 L815.5 253.7 L817.0 253.3 L818.5 253.0 L820.0 252.7 L821.5 252.4 L823.0 252.1 L824.5 251.7 L826.0 251.4 L827.5 251.1 L829.1 250.7 L830.6 250.5 L832.1 250.3 L833.6 250.1 L835.1 250.0 L836.6 250.1 L838.1 251.0 L839.6 252.4 L841.1 254.1 L842.6 255.5 L844.1 256.4 L845.6 256.1 L847.1 254.5 L848.6 252.1 L850.1 249.2 L851.6 246.4 L853.1 244.2 L854.6 243.0 L856.2 243.1 L857.7 244.2 L859.2 245.8 L860.7 247.7 L862.2 249.3 L863.7 250.5 L865.2 250.8 L866.7 250.3 L868.2 249.4 L869.7 248.1 L871.2 246.7 L872.7 245.4 L874.2 244.3 L875.7 243.7 L877.2 243.6 L878.7 243.7 L880.2 243.7 L881.7 243.7 L883.3 243.8 L884.8 243.8 L886.3 243.9 L887.8 243.9 L889.3 244.0 L890.8 244.1 L892.3 244.2 L893.8 244.3 L895.3 244.5 L896.8 244.6 L898.3 245.0 L899.8 245.5 L901.3 246.1 L902.8 246.8 L904.3 247.6 L905.8 248.4 L907.3 249.2 L908.9 250.0 L910.4 250.7 L911.9 251.3 L913.4 251.9 L914.9 252.5 L916.4 253.2 L917.9 253.8 L919.4 254.4 L920.9 255.1 L922.4 255.7 L923.9 256.4 L925.4 257.2 L926.9 257.9 L928.4 258.7 L929.9 259.5 L931.4 260.4 L932.9 261.2 L934.4 262.1 L936.0 263.0 L937.5 263.9 L939.0 264.9 L940.5 265.8 L942.0 266.8 L943.5 267.9 L945.0 268.9 L946.5 270.0 L948.0 271.1 L949.5 272.3 L951.0 273.6 L952.5 274.9 L954.0 276.2 L955.5 277.6 L957.0 278.9 L958.5 280.3 L960.0 281.6 L961.6 283.1 L963.1 284.7 L964.6 286.4 L966.1 287.9 L967.6 289.1 L969.1 289.9 L970.6 290.1 L972.1 289.3 L973.6 287.8 L975.1 286.1 L976.6 284.7 L978.1 283.8 L979.6 282.9 L981.1 282.2 L982.6 281.6 L983.4 294.3 L1007.7 294.3" fill="none" stroke="#4b8df0" stroke-width="1.15" stroke-linejoin="round"/>
<rect x="678.5" y="91.0" width="356.0" height="213.0" fill="none" stroke="#555" stroke-width="1.4"/>
<rect x="678.5" y="310.0" width="356.0" height="212.6" fill="#fff"/>
<line x1="678.5" y1="491.5" x2="1034.5" y2="491.5" stroke="#f0f0f0" stroke-width="1" />
<line x1="678.5" y1="449.3" x2="1034.5" y2="449.3" stroke="#f0f0f0" stroke-width="1" />
<line x1="678.5" y1="407.1" x2="1034.5" y2="407.1" stroke="#f0f0f0" stroke-width="1" />
<line x1="678.5" y1="364.8" x2="1034.5" y2="364.8" stroke="#f0f0f0" stroke-width="1" />
<line x1="678.5" y1="322.6" x2="1034.5" y2="322.6" stroke="#f0f0f0" stroke-width="1" />
<line x1="778.6" y1="310.0" x2="778.6" y2="522.6" stroke="#f0f0f0" stroke-width="1" />
<line x1="881.0" y1="310.0" x2="881.0" y2="522.6" stroke="#f0f0f0" stroke-width="1" />
<line x1="983.4" y1="310.0" x2="983.4" y2="522.6" stroke="#f0f0f0" stroke-width="1" />
<line x1="678.5" y1="512.6" x2="1034.5" y2="512.6" stroke="#e5e5e5" stroke-width="1.35" />
<line x1="675.0" y1="512.6" x2="678.5" y2="512.6" stroke="#333" stroke-width="1.3" />
<line x1="678.5" y1="470.4" x2="1034.5" y2="470.4" stroke="#e5e5e5" stroke-width="1.35" />
<line x1="675.0" y1="470.4" x2="678.5" y2="470.4" stroke="#333" stroke-width="1.3" />
<line x1="678.5" y1="428.2" x2="1034.5" y2="428.2" stroke="#e5e5e5" stroke-width="1.35" />
<line x1="675.0" y1="428.2" x2="678.5" y2="428.2" stroke="#333" stroke-width="1.3" />
<line x1="678.5" y1="385.9" x2="1034.5" y2="385.9" stroke="#e5e5e5" stroke-width="1.35" />
<line x1="675.0" y1="385.9" x2="678.5" y2="385.9" stroke="#333" stroke-width="1.3" />
<line x1="678.5" y1="343.7" x2="1034.5" y2="343.7" stroke="#e5e5e5" stroke-width="1.35" />
<line x1="675.0" y1="343.7" x2="678.5" y2="343.7" stroke="#333" stroke-width="1.3" />
<line x1="727.4" y1="310.0" x2="727.4" y2="522.6" stroke="#e5e5e5" stroke-width="1.35" />
<line x1="727.4" y1="522.6" x2="727.4" y2="526.1" stroke="#333" stroke-width="1.3" />
<line x1="829.8" y1="310.0" x2="829.8" y2="522.6" stroke="#e5e5e5" stroke-width="1.35" />
<line x1="829.8" y1="522.6" x2="829.8" y2="526.1" stroke="#333" stroke-width="1.3" />
<line x1="932.2" y1="310.0" x2="932.2" y2="522.6" stroke="#e5e5e5" stroke-width="1.35" />
<line x1="932.2" y1="522.6" x2="932.2" y2="526.1" stroke="#333" stroke-width="1.3" />
<path d="M695.4 512.6 L727.4 512.6 L728.7 412.5 L730.2 417.1 L731.7 421.8 L733.2 426.7 L734.7 431.6 L736.2 436.7 L737.7 441.8 L739.2 447.5 L740.7 454.2 L742.2 459.8 L743.7 462.3 L745.2 463.5 L746.7 464.4 L748.2 465.0 L749.7 465.6 L751.2 466.1 L752.7 466.6 L754.2 467.4 L755.7 468.3 L757.2 469.5 L758.7 470.9 L760.2 472.4 L761.7 474.0 L763.2 475.4 L764.7 476.7 L766.2 477.9 L767.7 478.9 L769.3 480.0 L770.8 481.0 L772.3 482.0 L773.8 482.9 L775.3 483.7 L776.8 484.5 L778.3 485.2 L779.8 485.7 L781.3 486.2 L782.8 486.6 L784.3 487.0 L785.8 487.4 L787.3 487.8 L788.8 488.1 L790.3 488.5 L791.8 488.8 L793.3 489.0 L794.8 489.3 L796.3 489.5 L797.8 489.6 L799.3 489.7 L800.8 489.8 L802.3 489.8 L803.8 489.8 L805.3 489.8 L806.8 489.8 L808.3 489.8 L809.8 489.8 L811.3 489.8 L812.8 489.8 L814.3 489.8 L815.8 489.8 L817.3 489.8 L818.8 489.8 L820.3 489.8 L821.8 489.8 L823.3 489.8 L824.9 489.8 L826.4 489.8 L827.9 489.8 L829.4 489.8 L830.9 489.8 L832.4 489.8 L833.9 489.8 L835.4 489.7 L836.9 489.7 L838.4 489.6 L839.9 489.6 L841.4 489.5 L842.9 489.4 L844.4 489.4 L845.9 489.3 L847.4 489.2 L848.9 489.1 L850.4 489.0 L851.9 489.0 L853.4 488.9 L854.9 488.8 L856.4 488.7 L857.9 488.7 L859.4 488.6 L860.9 488.6 L862.4 488.5 L863.9 488.5 L865.4 488.4 L866.9 488.4 L868.4 488.3 L869.9 488.3 L871.4 488.3 L872.9 488.2 L874.4 488.2 L875.9 488.2 L877.4 488.2 L878.9 488.1 L880.5 488.1 L882.0 488.1 L883.5 488.0 L885.0 488.0 L886.5 487.9 L888.0 487.9 L889.5 487.8 L891.0 487.8 L892.5 487.7 L894.0 487.7 L895.5 487.6 L897.0 487.5 L898.5 487.5 L900.0 487.4 L901.5 487.3 L903.0 487.2 L904.5 487.1 L906.0 486.9 L907.5 486.8 L909.0 486.7 L910.5 486.5 L912.0 486.3 L913.5 486.2 L915.0 486.0 L916.5 485.7 L918.0 485.4 L919.5 485.0 L921.0 484.6 L922.5 484.1 L924.0 483.6 L925.5 483.0 L927.0 482.3 L928.5 481.6 L930.0 480.8 L931.5 480.0 L933.0 479.1 L934.5 478.0 L936.0 476.7 L937.6 475.1 L939.1 473.4 L940.6 471.5 L942.1 469.6 L943.6 467.5 L945.1 465.0 L946.6 462.1 L948.1 459.3 L949.6 456.5 L951.1 454.0 L952.6 451.7 L954.1 449.5 L955.6 447.5 L957.1 445.9 L958.6 444.8 L960.1 444.0 L961.6 443.4 L963.1 442.7 L964.6 441.6 L966.1 439.1 L967.6 434.3 L969.1 428.7 L970.6 421.6 L972.1 413.3 L973.6 404.0 L975.1 393.7 L976.6 381.0 L978.1 367.0 L979.6 353.7 L981.1 341.9 L982.6 330.6 L983.4 512.6 L1015.4 512.6" fill="none" stroke="#ea5f5a" stroke-width="1.15" stroke-linejoin="round"/>
<path d="M695.4 512.6 L727.4 512.6 L728.7 423.9 L730.2 426.2 L731.7 428.9 L733.2 432.1 L734.7 435.6 L736.2 439.4 L737.7 443.5 L739.2 448.4 L740.7 455.0 L742.2 460.8 L743.7 463.3 L745.2 464.5 L746.7 465.3 L748.2 466.0 L749.7 466.5 L751.2 467.0 L752.7 467.6 L754.2 468.3 L755.7 469.2 L757.2 470.4 L758.7 471.8 L760.2 473.2 L761.7 474.7 L763.2 476.2 L764.7 477.5 L766.2 478.6 L767.7 479.6 L769.3 480.6 L770.8 481.6 L772.3 482.6 L773.8 483.5 L775.3 484.3 L776.8 485.1 L778.3 485.7 L779.8 486.3 L781.3 486.7 L782.8 487.1 L784.3 487.5 L785.8 487.9 L787.3 488.3 L788.8 488.6 L790.3 489.0 L791.8 489.2 L793.3 489.5 L794.8 489.7 L796.3 489.9 L797.8 490.1 L799.3 490.2 L800.8 490.2 L802.3 490.3 L803.8 490.3 L805.3 490.3 L806.8 490.3 L808.3 490.3 L809.8 490.3 L811.3 490.3 L812.8 490.3 L814.3 490.3 L815.8 490.3 L817.3 490.3 L818.8 490.3 L820.3 490.3 L821.8 490.3 L823.3 490.3 L824.9 490.3 L826.4 490.3 L827.9 490.3 L829.4 490.3 L830.9 490.3 L832.4 490.2 L833.9 490.2 L835.4 490.2 L836.9 490.1 L838.4 490.1 L839.9 490.0 L841.4 490.0 L842.9 489.9 L844.4 489.8 L845.9 489.7 L847.4 489.7 L848.9 489.6 L850.4 489.5 L851.9 489.4 L853.4 489.4 L854.9 489.3 L856.4 489.2 L857.9 489.1 L859.4 489.1 L860.9 489.0 L862.4 489.0 L863.9 488.9 L865.4 488.9 L866.9 488.9 L868.4 488.8 L869.9 488.8 L871.4 488.8 L872.9 488.7 L874.4 488.7 L875.9 488.7 L877.4 488.6 L878.9 488.6 L880.5 488.6 L882.0 488.5 L883.5 488.5 L885.0 488.5 L886.5 488.4 L888.0 488.4 L889.5 488.3 L891.0 488.3 L892.5 488.2 L894.0 488.2 L895.5 488.1 L897.0 488.0 L898.5 488.0 L900.0 487.9 L901.5 487.8 L903.0 487.7 L904.5 487.6 L906.0 487.5 L907.5 487.3 L909.0 487.2 L910.5 487.0 L912.0 486.9 L913.5 486.7 L915.0 486.5 L916.5 486.3 L918.0 486.0 L919.5 485.6 L921.0 485.2 L922.5 484.7 L924.0 484.1 L925.5 483.6 L927.0 482.9 L928.5 482.2 L930.0 481.5 L931.5 480.7 L933.0 479.8 L934.5 478.7 L936.0 477.4 L937.6 475.8 L939.1 474.1 L940.6 472.3 L942.1 470.5 L943.6 468.4 L945.1 465.8 L946.6 462.9 L948.1 460.1 L949.6 457.6 L951.1 455.7 L952.6 454.4 L954.1 453.4 L955.6 452.4 L957.1 451.5 L958.6 450.5 L960.1 449.7 L961.6 448.9 L963.1 447.9 L964.6 446.4 L966.1 443.4 L967.6 437.6 L969.1 431.3 L970.6 424.0 L972.1 415.6 L973.6 406.4 L975.1 395.8 L976.6 381.2 L978.1 366.4 L979.6 356.1 L981.1 351.2 L982.6 348.8 L983.4 512.6 L1015.4 512.6" fill="none" stroke="#ea5f5a" stroke-width="1.15" stroke-linejoin="round"/>
<path d="M695.4 512.6 L727.4 512.6 L728.7 417.6 L730.2 420.8 L731.7 424.3 L733.2 428.2 L734.7 432.3 L736.2 436.7 L737.7 441.2 L739.2 446.6 L740.7 453.4 L742.2 459.2 L743.7 461.8 L745.2 463.0 L746.7 463.9 L748.2 464.6 L749.7 465.1 L751.2 465.6 L752.7 466.2 L754.2 466.9 L755.7 467.9 L757.2 469.1 L758.7 470.5 L760.2 472.0 L761.7 473.6 L763.2 475.0 L764.7 476.4 L766.2 477.5 L767.7 478.6 L769.3 479.7 L770.8 480.7 L772.3 481.7 L773.8 482.6 L775.3 483.4 L776.8 484.2 L778.3 484.9 L779.8 485.5 L781.3 485.9 L782.8 486.3 L784.3 486.7 L785.8 487.1 L787.3 487.5 L788.8 487.9 L790.3 488.2 L791.8 488.5 L793.3 488.8 L794.8 489.0 L796.3 489.2 L797.8 489.4 L799.3 489.5 L800.8 489.6 L802.3 489.6 L803.8 489.6 L805.3 489.6 L806.8 489.6 L808.3 489.6 L809.8 489.6 L811.3 489.6 L812.8 489.6 L814.3 489.6 L815.8 489.6 L817.3 489.6 L818.8 489.6 L820.3 489.6 L821.8 489.6 L823.3 489.6 L824.9 489.6 L826.4 489.6 L827.9 489.6 L829.4 489.6 L830.9 489.6 L832.4 489.6 L833.9 489.5 L835.4 489.5 L836.9 489.5 L838.4 489.4 L839.9 489.3 L841.4 489.3 L842.9 489.2 L844.4 489.1 L845.9 489.0 L847.4 489.0 L848.9 488.9 L850.4 488.8 L851.9 488.7 L853.4 488.6 L854.9 488.6 L856.4 488.5 L857.9 488.4 L859.4 488.4 L860.9 488.3 L862.4 488.3 L863.9 488.2 L865.4 488.2 L866.9 488.1 L868.4 488.1 L869.9 488.1 L871.4 488.0 L872.9 488.0 L874.4 488.0 L875.9 487.9 L877.4 487.9 L878.9 487.9 L880.5 487.8 L882.0 487.8 L883.5 487.8 L885.0 487.7 L886.5 487.7 L888.0 487.6 L889.5 487.6 L891.0 487.5 L892.5 487.5 L894.0 487.4 L895.5 487.4 L897.0 487.3 L898.5 487.2 L900.0 487.1 L901.5 487.0 L903.0 486.9 L904.5 486.8 L906.0 486.7 L907.5 486.6 L909.0 486.4 L910.5 486.3 L912.0 486.1 L913.5 485.9 L915.0 485.7 L916.5 485.5 L918.0 485.1 L919.5 484.8 L921.0 484.3 L922.5 483.8 L924.0 483.3 L925.5 482.7 L927.0 482.0 L928.5 481.3 L930.0 480.5 L931.5 479.7 L933.0 478.8 L934.5 477.7 L936.0 476.3 L937.6 474.7 L939.1 473.0 L940.6 471.1 L942.1 469.2 L943.6 467.1 L945.1 464.5 L946.6 461.8 L948.1 458.9 L949.6 456.0 L951.1 453.2 L952.6 450.4 L954.1 447.5 L955.6 444.7 L957.1 442.6 L958.6 441.2 L960.1 440.4 L961.6 439.6 L963.1 438.8 L964.6 437.6 L966.1 435.4 L967.6 431.5 L969.1 426.5 L970.6 419.8 L972.1 411.7 L973.6 402.6 L975.1 391.9 L976.6 375.5 L978.1 359.2 L979.6 350.7 L981.1 350.9 L982.6 354.3 L983.4 512.6 L1015.4 512.6" fill="none" stroke="#ea5f5a" stroke-width="1.15" stroke-linejoin="round"/>
<path d="M701.0 512.6 L727.4 512.6 L728.4 388.1 L729.9 402.1 L731.4 415.1 L732.9 426.8 L734.4 437.0 L735.9 446.3 L737.4 454.7 L739.0 461.8 L740.5 468.6 L742.0 473.2 L743.5 472.2 L745.0 468.3 L746.5 463.4 L748.0 459.0 L749.5 456.9 L751.0 457.2 L752.5 458.5 L754.0 460.2 L755.5 462.3 L757.0 464.3 L758.5 466.2 L760.0 467.5 L761.5 468.7 L763.0 469.9 L764.5 471.0 L766.0 472.1 L767.5 473.0 L769.0 473.9 L770.5 474.7 L772.0 475.4 L773.5 476.0 L775.1 476.6 L776.6 477.1 L778.1 477.7 L779.6 478.2 L781.1 478.6 L782.6 479.0 L784.1 479.4 L785.6 479.7 L787.1 479.9 L788.6 480.1 L790.1 480.1 L791.6 480.2 L793.1 480.3 L794.6 480.3 L796.1 480.4 L797.6 480.4 L799.1 480.4 L800.6 480.5 L802.1 480.5 L803.6 480.5 L805.1 480.5 L806.6 480.5 L808.1 480.4 L809.7 480.3 L811.2 480.1 L812.7 479.8 L814.2 479.5 L815.7 479.2 L817.2 478.9 L818.7 478.6 L820.2 478.3 L821.7 478.1 L823.2 478.0 L824.7 477.9 L826.2 477.8 L827.7 477.8 L829.2 477.7 L830.7 477.7 L832.2 477.6 L833.7 477.6 L835.2 477.6 L836.7 477.5 L838.2 477.5 L839.7 477.4 L841.2 477.4 L842.7 477.3 L844.2 477.2 L845.8 476.8 L847.3 475.7 L848.8 474.1 L850.3 472.2 L851.8 470.4 L853.3 468.9 L854.8 468.0 L856.3 467.9 L857.8 468.6 L859.3 469.7 L860.8 471.1 L862.3 472.3 L863.8 473.1 L865.3 473.3 L866.8 472.9 L868.3 472.0 L869.8 470.8 L871.3 469.6 L872.8 468.4 L874.3 467.4 L875.8 466.6 L877.3 465.9 L878.8 465.1 L880.3 464.5 L881.9 463.9 L883.4 463.5 L884.9 463.0 L886.4 462.6 L887.9 462.2 L889.4 461.8 L890.9 461.4 L892.4 461.1 L893.9 460.8 L895.4 460.6 L896.9 460.4 L898.4 460.3 L899.9 460.2 L901.4 460.3 L902.9 460.3 L904.4 460.4 L905.9 460.4 L907.4 460.5 L908.9 460.7 L910.4 460.8 L911.9 460.9 L913.4 461.1 L914.9 461.3 L916.4 461.5 L918.0 461.7 L919.5 462.0 L921.0 462.4 L922.5 462.9 L924.0 463.4 L925.5 464.0 L927.0 464.7 L928.5 465.3 L930.0 466.0 L931.5 466.7 L933.0 467.4 L934.5 468.1 L936.0 468.8 L937.5 469.6 L939.0 470.4 L940.5 471.3 L942.0 472.2 L943.5 473.2 L945.0 474.2 L946.5 475.3 L948.0 476.4 L949.5 477.7 L951.0 479.1 L952.5 480.5 L954.1 482.1 L955.6 483.7 L957.1 485.4 L958.6 487.3 L960.1 489.5 L961.6 491.8 L963.1 494.1 L964.6 496.2 L966.1 497.9 L967.6 499.5 L969.1 501.0 L970.6 501.9 L972.1 501.8 L973.6 500.2 L975.1 497.5 L976.6 494.5 L978.1 491.7 L979.6 489.0 L981.1 486.1 L982.6 483.0 L983.4 512.6 L1009.8 512.6" fill="none" stroke="#22ab3c" stroke-width="1.15" stroke-linejoin="round"/>
<path d="M701.0 512.6 L727.4 512.6 L728.4 398.6 L729.9 409.2 L731.4 419.5 L732.9 429.6 L734.4 439.5 L735.9 449.6 L737.4 459.3 L739.0 467.8 L740.5 475.7 L742.0 481.3 L743.5 480.2 L745.0 476.2 L746.5 471.0 L748.0 466.4 L749.5 464.2 L751.0 464.3 L752.5 464.7 L754.0 465.4 L755.5 466.2 L757.0 467.0 L758.5 467.9 L760.0 468.7 L761.5 469.6 L763.0 470.6 L764.5 471.7 L766.0 472.8 L767.5 473.9 L769.0 474.9 L770.5 475.8 L772.0 476.5 L773.5 477.1 L775.1 477.6 L776.6 478.2 L778.1 478.7 L779.6 479.2 L781.1 479.7 L782.6 480.1 L784.1 480.4 L785.6 480.7 L787.1 480.9 L788.6 481.0 L790.1 481.1 L791.6 481.2 L793.1 481.2 L794.6 481.3 L796.1 481.3 L797.6 481.4 L799.1 481.4 L800.6 481.4 L802.1 481.4 L803.6 481.5 L805.1 481.5 L806.6 481.5 L808.1 481.4 L809.7 481.3 L811.2 481.0 L812.7 480.8 L814.2 480.5 L815.7 480.2 L817.2 479.9 L818.7 479.6 L820.2 479.3 L821.7 479.1 L823.2 479.0 L824.7 478.9 L826.2 478.9 L827.7 478.8 L829.2 478.8 L830.7 478.7 L832.2 478.7 L833.7 478.7 L835.2 478.6 L836.7 478.6 L838.2 478.5 L839.7 478.5 L841.2 478.4 L842.7 478.3 L844.2 478.2 L845.8 477.9 L847.3 476.8 L848.8 475.2 L850.3 473.4 L851.8 471.7 L853.3 470.2 L854.8 469.3 L856.3 469.3 L857.8 469.9 L859.3 471.0 L860.8 472.3 L862.3 473.5 L863.8 474.3 L865.3 474.5 L866.8 474.1 L868.3 473.2 L869.8 472.1 L871.3 470.9 L872.8 469.7 L874.3 468.8 L875.8 468.0 L877.3 467.3 L878.8 466.6 L880.3 465.9 L881.9 465.4 L883.4 464.9 L884.9 464.5 L886.4 464.1 L887.9 463.7 L889.4 463.3 L890.9 463.0 L892.4 462.6 L893.9 462.4 L895.4 462.1 L896.9 462.0 L898.4 461.9 L899.9 461.8 L901.4 461.8 L902.9 461.9 L904.4 461.9 L905.9 462.0 L907.4 462.1 L908.9 462.2 L910.4 462.4 L911.9 462.5 L913.4 462.7 L914.9 462.8 L916.4 463.0 L918.0 463.2 L919.5 463.5 L921.0 463.9 L922.5 464.4 L924.0 464.9 L925.5 465.5 L927.0 466.1 L928.5 466.8 L930.0 467.4 L931.5 468.1 L933.0 468.7 L934.5 469.4 L936.0 470.1 L937.5 470.9 L939.0 471.7 L940.5 472.5 L942.0 473.4 L943.5 474.3 L945.0 475.3 L946.5 476.4 L948.0 477.5 L949.5 478.7 L951.0 480.1 L952.5 481.5 L954.1 483.0 L955.6 484.6 L957.1 486.3 L958.6 488.0 L960.1 490.2 L961.6 492.4 L963.1 494.7 L964.6 496.7 L966.1 498.4 L967.6 499.9 L969.1 501.3 L970.6 502.2 L972.1 502.1 L973.6 500.2 L975.1 497.3 L976.6 494.5 L978.1 492.6 L979.6 491.3 L981.1 490.2 L982.6 489.4 L983.4 512.6 L1009.8 512.6" fill="none" stroke="#22ab3c" stroke-width="1.15" stroke-linejoin="round"/>
<path d="M701.0 512.6 L727.4 512.6 L728.4 392.3 L729.9 404.4 L731.4 415.7 L732.9 425.8 L734.4 434.8 L735.9 443.2 L737.4 450.7 L739.0 457.0 L740.5 462.6 L742.0 466.4 L743.5 465.8 L745.0 463.2 L746.5 459.9 L748.0 457.0 L749.5 455.6 L751.0 455.9 L752.5 457.2 L754.0 459.1 L755.5 461.2 L757.0 463.3 L758.5 465.2 L760.0 466.6 L761.5 467.8 L763.0 469.0 L764.5 470.2 L766.0 471.3 L767.5 472.3 L769.0 473.2 L770.5 474.0 L772.0 474.6 L773.5 475.2 L775.1 475.8 L776.6 476.4 L778.1 477.0 L779.6 477.5 L781.1 478.0 L782.6 478.4 L784.1 478.7 L785.6 479.0 L787.1 479.3 L788.6 479.4 L790.1 479.5 L791.6 479.5 L793.1 479.6 L794.6 479.7 L796.1 479.7 L797.6 479.8 L799.1 479.8 L800.6 479.8 L802.1 479.8 L803.6 479.9 L805.1 479.9 L806.6 479.9 L808.1 479.8 L809.7 479.6 L811.2 479.4 L812.7 479.1 L814.2 478.8 L815.7 478.5 L817.2 478.2 L818.7 477.9 L820.2 477.6 L821.7 477.4 L823.2 477.3 L824.7 477.2 L826.2 477.1 L827.7 477.1 L829.2 477.0 L830.7 477.0 L832.2 476.9 L833.7 476.9 L835.2 476.9 L836.7 476.8 L838.2 476.8 L839.7 476.7 L841.2 476.7 L842.7 476.6 L844.2 476.5 L845.8 476.1 L847.3 475.0 L848.8 473.3 L850.3 471.4 L851.8 469.6 L853.3 468.1 L854.8 467.1 L856.3 467.0 L857.8 467.7 L859.3 468.9 L860.8 470.2 L862.3 471.5 L863.8 472.3 L865.3 472.5 L866.8 472.1 L868.3 471.2 L869.8 470.0 L871.3 468.7 L872.8 467.5 L874.3 466.5 L875.8 465.7 L877.3 464.9 L878.8 464.2 L880.3 463.5 L881.9 462.9 L883.4 462.3 L884.9 461.8 L886.4 461.2 L887.9 460.6 L889.4 460.1 L890.9 459.6 L892.4 459.1 L893.9 458.7 L895.4 458.4 L896.9 458.1 L898.4 457.9 L899.9 457.9 L901.4 457.9 L902.9 457.9 L904.4 458.0 L905.9 458.1 L907.4 458.3 L908.9 458.4 L910.4 458.6 L911.9 458.8 L913.4 459.0 L914.9 459.2 L916.4 459.4 L918.0 459.7 L919.5 460.1 L921.0 460.6 L922.5 461.2 L924.0 461.8 L925.5 462.6 L927.0 463.3 L928.5 464.1 L930.0 464.9 L931.5 465.6 L933.0 466.4 L934.5 467.2 L936.0 467.9 L937.5 468.8 L939.0 469.6 L940.5 470.5 L942.0 471.4 L943.5 472.4 L945.0 473.4 L946.5 474.5 L948.0 475.7 L949.5 477.0 L951.0 478.4 L952.5 479.9 L954.1 481.5 L955.6 483.2 L957.1 484.9 L958.6 486.8 L960.1 489.0 L961.6 491.4 L963.1 493.7 L964.6 495.9 L966.1 497.6 L967.6 499.2 L969.1 500.7 L970.6 501.7 L972.1 501.6 L973.6 499.7 L975.1 496.8 L976.6 493.8 L978.1 491.5 L979.6 489.6 L981.1 487.9 L982.6 486.4 L983.4 512.6 L1009.8 512.6" fill="none" stroke="#22ab3c" stroke-width="1.15" stroke-linejoin="round"/>
<path d="M703.1 512.6 L727.4 512.6 L728.2 319.2 L729.7 343.5 L731.2 366.4 L732.7 387.9 L734.2 408.1 L735.7 429.6 L737.2 447.7 L738.7 455.9 L740.2 460.2 L741.7 461.9 L743.2 460.3 L744.7 456.0 L746.2 450.6 L747.7 445.3 L749.2 441.5 L750.8 440.4 L752.3 441.2 L753.8 442.8 L755.3 444.9 L756.8 446.9 L758.3 448.6 L759.8 450.0 L761.3 451.5 L762.8 452.9 L764.3 454.2 L765.8 455.2 L767.3 456.1 L768.8 456.9 L770.3 457.6 L771.8 458.3 L773.3 459.0 L774.8 459.6 L776.4 460.2 L777.9 460.7 L779.4 461.1 L780.9 461.6 L782.4 462.0 L783.9 462.4 L785.4 462.7 L786.9 463.1 L788.4 463.4 L789.9 463.8 L791.4 464.1 L792.9 464.3 L794.4 464.5 L795.9 464.7 L797.4 464.9 L798.9 465.0 L800.4 465.1 L801.9 465.2 L803.5 465.3 L805.0 465.3 L806.5 465.3 L808.0 464.4 L809.5 462.9 L811.0 461.5 L812.5 461.1 L814.0 461.8 L815.5 462.9 L817.0 464.1 L818.5 464.8 L820.0 464.9 L821.5 464.8 L823.0 464.7 L824.5 464.6 L826.0 464.4 L827.5 464.3 L829.1 464.1 L830.6 463.9 L832.1 463.8 L833.6 463.7 L835.1 463.6 L836.6 463.7 L838.1 464.2 L839.6 465.1 L841.1 466.2 L842.6 467.3 L844.1 468.3 L845.6 469.0 L847.1 469.0 L848.6 467.5 L850.1 464.8 L851.6 461.7 L853.1 459.0 L854.6 457.4 L856.2 457.7 L857.7 459.7 L859.2 462.8 L860.7 466.2 L862.2 469.3 L863.7 471.5 L865.2 472.1 L866.7 471.7 L868.2 470.9 L869.7 469.9 L871.2 468.9 L872.7 468.2 L874.2 467.8 L875.7 468.1 L877.2 468.8 L878.7 469.9 L880.2 471.2 L881.7 472.5 L883.3 473.8 L884.8 474.8 L886.3 475.3 L887.8 475.4 L889.3 475.2 L890.8 474.8 L892.3 474.3 L893.8 473.8 L895.3 473.4 L896.8 473.3 L898.3 474.0 L899.8 475.5 L901.3 477.2 L902.8 478.8 L904.3 479.8 L905.8 480.5 L907.3 481.0 L908.9 481.5 L910.4 482.0 L911.9 482.4 L913.4 482.8 L914.9 483.2 L916.4 483.7 L917.9 484.3 L919.4 484.8 L920.9 485.4 L922.4 486.0 L923.9 486.6 L925.4 487.3 L926.9 487.9 L928.4 488.5 L929.9 489.2 L931.4 489.9 L932.9 490.6 L934.4 491.3 L936.0 492.0 L937.5 492.7 L939.0 493.5 L940.5 494.3 L942.0 495.1 L943.5 495.9 L945.0 496.7 L946.5 497.5 L948.0 498.3 L949.5 499.1 L951.0 499.9 L952.5 500.7 L954.0 501.5 L955.5 502.4 L957.0 503.3 L958.5 504.2 L960.0 505.0 L961.6 505.9 L963.1 506.7 L964.6 507.5 L966.1 508.3 L967.6 509.0 L969.1 509.7 L970.6 510.5 L972.1 510.9 L973.6 510.5 L975.1 509.2 L976.6 507.3 L978.1 505.1 L979.6 502.9 L981.1 499.9 L982.6 496.6 L983.4 512.6 L1007.7 512.6" fill="none" stroke="#4b8df0" stroke-width="1.15" stroke-linejoin="round"/>
<path d="M703.1 512.6 L727.4 512.6 L728.2 347.9 L729.7 361.5 L731.2 376.5 L732.7 392.8 L734.2 410.4 L735.7 432.9 L737.2 454.5 L738.7 467.7 L740.2 477.0 L741.7 481.2 L743.2 479.4 L744.7 474.7 L746.2 468.7 L747.7 462.7 L749.2 458.0 L750.8 456.0 L752.3 455.1 L753.8 454.4 L755.3 453.9 L756.8 453.6 L758.3 453.5 L759.8 453.7 L761.3 454.3 L762.8 455.0 L764.3 455.7 L765.8 456.4 L767.3 457.0 L768.8 457.7 L770.3 458.3 L771.8 459.0 L773.3 459.7 L774.8 460.4 L776.4 461.1 L777.9 461.6 L779.4 462.2 L780.9 462.6 L782.4 463.0 L783.9 463.4 L785.4 463.7 L786.9 464.1 L788.4 464.4 L789.9 464.7 L791.4 465.0 L792.9 465.3 L794.4 465.5 L795.9 465.7 L797.4 465.8 L798.9 465.9 L800.4 466.0 L801.9 466.1 L803.5 466.2 L805.0 466.2 L806.5 466.2 L808.0 465.4 L809.5 463.9 L811.0 462.5 L812.5 462.1 L814.0 462.8 L815.5 463.9 L817.0 465.1 L818.5 465.8 L820.0 465.8 L821.5 465.8 L823.0 465.7 L824.5 465.5 L826.0 465.4 L827.5 465.2 L829.1 465.1 L830.6 464.9 L832.1 464.8 L833.6 464.7 L835.1 464.6 L836.6 464.7 L838.1 465.6 L839.6 467.1 L841.1 469.0 L842.6 470.9 L844.1 472.6 L845.6 473.7 L847.1 473.8 L848.6 471.9 L850.1 468.4 L851.6 464.3 L853.1 460.7 L854.6 458.7 L856.2 459.0 L857.7 460.9 L859.2 463.9 L860.7 467.2 L862.2 470.2 L863.7 472.3 L865.2 472.9 L866.7 472.5 L868.2 471.7 L869.7 470.7 L871.2 469.8 L872.7 469.1 L874.2 468.7 L875.7 469.0 L877.2 469.7 L878.7 470.8 L880.2 472.0 L881.7 473.3 L883.3 474.5 L884.8 475.5 L886.3 476.1 L887.8 476.2 L889.3 475.9 L890.8 475.5 L892.3 475.0 L893.8 474.6 L895.3 474.2 L896.8 474.1 L898.3 474.8 L899.8 476.2 L901.3 477.9 L902.8 479.5 L904.3 480.5 L905.8 481.1 L907.3 481.7 L908.9 482.1 L910.4 482.6 L911.9 483.0 L913.4 483.4 L914.9 483.8 L916.4 484.3 L917.9 484.8 L919.4 485.4 L920.9 486.0 L922.4 486.6 L923.9 487.2 L925.4 487.8 L926.9 488.4 L928.4 489.0 L929.9 489.7 L931.4 490.3 L932.9 491.0 L934.4 491.7 L936.0 492.4 L937.5 493.1 L939.0 493.9 L940.5 494.6 L942.0 495.4 L943.5 496.2 L945.0 497.0 L946.5 497.8 L948.0 498.5 L949.5 499.3 L951.0 500.1 L952.5 500.9 L954.0 501.7 L955.5 502.6 L957.0 503.5 L958.5 504.3 L960.0 505.2 L961.6 506.0 L963.1 506.9 L964.6 507.6 L966.1 508.4 L967.6 509.1 L969.1 509.8 L970.6 510.5 L972.1 510.9 L973.6 510.3 L975.1 508.4 L976.6 506.1 L978.1 504.5 L979.6 504.4 L981.1 505.0 L982.6 506.3 L983.4 512.6 L1007.7 512.6" fill="none" stroke="#4b8df0" stroke-width="1.15" stroke-linejoin="round"/>
<path d="M703.1 512.6 L727.4 512.6 L728.2 335.3 L729.7 353.0 L731.2 371.0 L732.7 389.4 L734.2 408.2 L735.7 430.5 L737.2 450.8 L738.7 461.9 L740.2 469.0 L741.7 472.1 L743.2 469.9 L744.7 464.4 L746.2 457.4 L747.7 450.5 L749.2 445.5 L750.8 444.1 L752.3 444.5 L753.8 445.3 L755.3 446.3 L756.8 447.5 L758.3 448.6 L759.8 449.8 L761.3 451.3 L762.8 452.7 L764.3 454.1 L765.8 455.2 L767.3 456.1 L768.8 456.9 L770.3 457.6 L771.8 458.3 L773.3 459.0 L774.8 459.6 L776.4 460.2 L777.9 460.7 L779.4 461.1 L780.9 461.6 L782.4 462.0 L783.9 462.4 L785.4 462.7 L786.9 463.1 L788.4 463.4 L789.9 463.8 L791.4 464.1 L792.9 464.3 L794.4 464.5 L795.9 464.7 L797.4 464.9 L798.9 465.0 L800.4 465.1 L801.9 465.2 L803.5 465.3 L805.0 465.3 L806.5 465.3 L808.0 464.4 L809.5 462.9 L811.0 461.5 L812.5 461.1 L814.0 461.8 L815.5 462.9 L817.0 464.1 L818.5 464.8 L820.0 464.9 L821.5 464.8 L823.0 464.7 L824.5 464.6 L826.0 464.4 L827.5 464.3 L829.1 464.1 L830.6 463.9 L832.1 463.8 L833.6 463.7 L835.1 463.6 L836.6 463.7 L838.1 464.2 L839.6 465.1 L841.1 466.2 L842.6 467.3 L844.1 468.3 L845.6 469.0 L847.1 469.0 L848.6 467.5 L850.1 464.8 L851.6 461.7 L853.1 459.0 L854.6 457.4 L856.2 457.7 L857.7 459.7 L859.2 462.8 L860.7 466.2 L862.2 469.3 L863.7 471.5 L865.2 472.1 L866.7 471.7 L868.2 470.9 L869.7 469.9 L871.2 468.9 L872.7 468.2 L874.2 467.8 L875.7 468.1 L877.2 468.8 L878.7 469.9 L880.2 471.2 L881.7 472.5 L883.3 473.8 L884.8 474.8 L886.3 475.3 L887.8 475.4 L889.3 475.2 L890.8 474.8 L892.3 474.3 L893.8 473.8 L895.3 473.4 L896.8 473.3 L898.3 474.0 L899.8 475.5 L901.3 477.2 L902.8 478.8 L904.3 479.8 L905.8 480.5 L907.3 481.0 L908.9 481.5 L910.4 481.9 L911.9 482.4 L913.4 482.8 L914.9 483.2 L916.4 483.7 L917.9 484.3 L919.4 484.9 L920.9 485.6 L922.4 486.2 L923.9 486.9 L925.4 487.7 L926.9 488.4 L928.4 489.1 L929.9 489.9 L931.4 490.6 L932.9 491.4 L934.4 492.2 L936.0 493.0 L937.5 493.9 L939.0 494.8 L940.5 495.7 L942.0 496.6 L943.5 497.4 L945.0 498.3 L946.5 499.2 L948.0 500.0 L949.5 500.9 L951.0 501.6 L952.5 502.4 L954.0 503.1 L955.5 503.8 L957.0 504.5 L958.5 505.2 L960.0 505.9 L961.6 506.5 L963.1 507.2 L964.6 507.8 L966.1 508.5 L967.6 509.1 L969.1 509.7 L970.6 510.5 L972.1 510.9 L973.6 510.4 L975.1 508.8 L976.6 506.6 L978.1 504.8 L979.6 503.6 L981.1 502.7 L982.6 502.0 L983.4 512.6 L1007.7 512.6" fill="none" stroke="#4b8df0" stroke-width="1.15" stroke-linejoin="round"/>
<rect x="678.5" y="310.0" width="356.0" height="212.6" fill="none" stroke="#555" stroke-width="1.4"/>
<rect x="1113.5" y="84.0" width="356.0" height="216.5" fill="#fff"/>
<line x1="1113.5" y1="263.0" x2="1469.5" y2="263.0" stroke="#f0f0f0" stroke-width="1" />
<line x1="1113.5" y1="207.9" x2="1469.5" y2="207.9" stroke="#f0f0f0" stroke-width="1" />
<line x1="1113.5" y1="152.8" x2="1469.5" y2="152.8" stroke="#f0f0f0" stroke-width="1" />
<line x1="1113.5" y1="97.7" x2="1469.5" y2="97.7" stroke="#f0f0f0" stroke-width="1" />
<line x1="1211.6" y1="84.0" x2="1211.6" y2="300.5" stroke="#f0f0f0" stroke-width="1" />
<line x1="1317.2" y1="84.0" x2="1317.2" y2="300.5" stroke="#f0f0f0" stroke-width="1" />
<line x1="1422.8" y1="84.0" x2="1422.8" y2="300.5" stroke="#f0f0f0" stroke-width="1" />
<line x1="1113.5" y1="290.6" x2="1469.5" y2="290.6" stroke="#e5e5e5" stroke-width="1.35" />
<line x1="1110.0" y1="290.6" x2="1113.5" y2="290.6" stroke="#333" stroke-width="1.3" />
<line x1="1113.5" y1="235.5" x2="1469.5" y2="235.5" stroke="#e5e5e5" stroke-width="1.35" />
<line x1="1110.0" y1="235.5" x2="1113.5" y2="235.5" stroke="#333" stroke-width="1.3" />
<line x1="1113.5" y1="180.4" x2="1469.5" y2="180.4" stroke="#e5e5e5" stroke-width="1.35" />
<line x1="1110.0" y1="180.4" x2="1113.5" y2="180.4" stroke="#333" stroke-width="1.3" />
<line x1="1113.5" y1="125.2" x2="1469.5" y2="125.2" stroke="#e5e5e5" stroke-width="1.35" />
<line x1="1110.0" y1="125.2" x2="1113.5" y2="125.2" stroke="#333" stroke-width="1.3" />
<line x1="1158.8" y1="84.0" x2="1158.8" y2="300.5" stroke="#e5e5e5" stroke-width="1.35" />
<line x1="1264.4" y1="84.0" x2="1264.4" y2="300.5" stroke="#e5e5e5" stroke-width="1.35" />
<line x1="1370.0" y1="84.0" x2="1370.0" y2="300.5" stroke="#e5e5e5" stroke-width="1.35" />
<path d="M1125.8 290.6 L1158.8 290.6 L1159.6 261.3 L1161.1 262.9 L1162.7 264.5 L1164.3 266.1 L1165.8 267.5 L1167.4 268.9 L1168.9 270.2 L1170.5 271.4 L1172.0 272.7 L1173.6 273.9 L1175.2 275.0 L1176.7 275.9 L1178.3 276.8 L1179.8 277.4 L1181.4 278.0 L1182.9 278.6 L1184.5 279.2 L1186.0 279.7 L1187.6 280.2 L1189.2 280.7 L1190.7 281.1 L1192.3 281.5 L1193.8 281.8 L1195.4 282.1 L1196.9 282.4 L1198.5 282.6 L1200.0 282.8 L1201.6 283.0 L1203.2 283.1 L1204.7 283.3 L1206.3 283.4 L1207.8 283.5 L1209.4 283.7 L1210.9 283.8 L1212.5 283.9 L1214.0 284.0 L1215.6 284.1 L1217.2 284.2 L1218.7 284.3 L1220.3 284.3 L1221.8 284.4 L1223.4 284.5 L1224.9 284.5 L1226.5 284.6 L1228.1 284.6 L1229.6 284.6 L1231.2 284.6 L1232.7 284.6 L1234.3 284.6 L1235.8 284.6 L1237.4 284.6 L1238.9 284.6 L1240.5 284.5 L1242.1 284.5 L1243.6 284.4 L1245.2 284.4 L1246.7 284.3 L1248.3 284.2 L1249.8 284.2 L1251.4 284.1 L1252.9 284.0 L1254.5 284.0 L1256.1 283.9 L1257.6 283.8 L1259.2 283.7 L1260.7 283.7 L1262.3 283.6 L1263.8 283.6 L1265.4 283.5 L1266.9 283.5 L1268.5 283.4 L1270.1 283.4 L1271.6 283.3 L1273.2 283.3 L1274.7 283.2 L1276.3 283.2 L1277.8 283.1 L1279.4 283.1 L1281.0 283.0 L1282.5 283.0 L1284.1 282.9 L1285.6 282.9 L1287.2 282.8 L1288.7 282.7 L1290.3 282.7 L1291.8 282.6 L1293.4 282.6 L1295.0 282.5 L1296.5 282.4 L1298.1 282.4 L1299.6 282.3 L1301.2 282.2 L1302.7 282.1 L1304.3 282.1 L1305.8 282.0 L1307.4 281.9 L1309.0 281.8 L1310.5 281.7 L1312.1 281.6 L1313.6 281.5 L1315.2 281.4 L1316.7 281.3 L1318.3 281.2 L1319.8 281.1 L1321.4 281.0 L1323.0 280.9 L1324.5 280.8 L1326.1 280.7 L1327.6 280.5 L1329.2 280.4 L1330.7 280.3 L1332.3 280.1 L1333.9 280.0 L1335.4 279.8 L1337.0 279.7 L1338.5 279.5 L1340.1 279.3 L1341.6 279.1 L1343.2 278.9 L1344.7 278.7 L1346.3 278.4 L1347.9 278.2 L1349.4 277.9 L1351.0 277.6 L1352.5 277.2 L1354.1 276.8 L1355.6 276.3 L1357.2 275.8 L1358.7 275.2 L1360.3 274.6 L1361.9 273.9 L1363.4 273.2 L1365.0 272.4 L1366.5 271.6 L1368.1 270.7 L1369.6 269.9 L1371.2 268.9 L1372.7 267.8 L1374.3 266.6 L1375.9 265.3 L1377.4 263.8 L1379.0 262.2 L1380.5 260.6 L1382.1 258.8 L1383.6 256.8 L1385.2 254.5 L1386.8 252.1 L1388.3 249.6 L1389.9 247.2 L1391.4 244.7 L1393.0 241.9 L1394.5 239.3 L1396.1 237.8 L1397.6 237.7 L1399.2 237.9 L1400.8 238.2 L1402.3 238.5 L1403.9 238.7 L1405.4 238.8 L1407.0 233.7 L1408.5 224.5 L1410.1 215.2 L1411.6 204.3 L1413.2 192.1 L1414.8 178.6 L1416.3 162.8 L1417.9 145.9 L1419.4 125.8 L1421.0 108.7 L1422.5 104.5 L1422.8 290.6 L1455.8 290.6" fill="none" stroke="#ea5f5a" stroke-width="1.15" stroke-linejoin="round"/>
<path d="M1125.8 290.6 L1158.8 290.6 L1159.6 261.9 L1161.1 263.5 L1162.7 265.1 L1164.3 266.6 L1165.8 268.0 L1167.4 269.3 L1168.9 270.6 L1170.5 271.8 L1172.0 273.0 L1173.6 274.2 L1175.2 275.3 L1176.7 276.2 L1178.3 277.0 L1179.8 277.7 L1181.4 278.3 L1182.9 278.9 L1184.5 279.4 L1186.0 279.9 L1187.6 280.4 L1189.2 280.9 L1190.7 281.3 L1192.3 281.7 L1193.8 282.0 L1195.4 282.3 L1196.9 282.6 L1198.5 282.8 L1200.0 283.0 L1201.6 283.1 L1203.2 283.3 L1204.7 283.4 L1206.3 283.5 L1207.8 283.7 L1209.4 283.8 L1210.9 283.9 L1212.5 284.0 L1214.0 284.1 L1215.6 284.2 L1217.2 284.3 L1218.7 284.4 L1220.3 284.5 L1221.8 284.5 L1223.4 284.6 L1224.9 284.7 L1226.5 284.7 L1228.1 284.7 L1229.6 284.7 L1231.2 284.8 L1232.7 284.8 L1234.3 284.8 L1235.8 284.7 L1237.4 284.7 L1238.9 284.7 L1240.5 284.6 L1242.1 284.6 L1243.6 284.5 L1245.2 284.5 L1246.7 284.4 L1248.3 284.4 L1249.8 284.3 L1251.4 284.2 L1252.9 284.2 L1254.5 284.1 L1256.1 284.0 L1257.6 284.0 L1259.2 283.9 L1260.7 283.8 L1262.3 283.8 L1263.8 283.7 L1265.4 283.7 L1266.9 283.6 L1268.5 283.5 L1270.1 283.5 L1271.6 283.5 L1273.2 283.4 L1274.7 283.4 L1276.3 283.3 L1277.8 283.3 L1279.4 283.2 L1281.0 283.2 L1282.5 283.1 L1284.1 283.1 L1285.6 283.0 L1287.2 283.0 L1288.7 282.9 L1290.3 282.8 L1291.8 282.8 L1293.4 282.7 L1295.0 282.7 L1296.5 282.6 L1298.1 282.5 L1299.6 282.4 L1301.2 282.4 L1302.7 282.3 L1304.3 282.2 L1305.8 282.1 L1307.4 282.1 L1309.0 282.0 L1310.5 281.9 L1312.1 281.8 L1313.6 281.7 L1315.2 281.6 L1316.7 281.5 L1318.3 281.4 L1319.8 281.3 L1321.4 281.2 L1323.0 281.1 L1324.5 281.0 L1326.1 280.9 L1327.6 280.7 L1329.2 280.6 L1330.7 280.5 L1332.3 280.3 L1333.9 280.2 L1335.4 280.1 L1337.0 279.9 L1338.5 279.7 L1340.1 279.5 L1341.6 279.4 L1343.2 279.2 L1344.7 278.9 L1346.3 278.7 L1347.9 278.4 L1349.4 278.2 L1351.0 277.9 L1352.5 277.5 L1354.1 277.1 L1355.6 276.6 L1357.2 276.1 L1358.7 275.5 L1360.3 274.9 L1361.9 274.2 L1363.4 273.5 L1365.0 272.7 L1366.5 272.0 L1368.1 271.1 L1369.6 270.3 L1371.2 269.4 L1372.7 268.3 L1374.3 267.1 L1375.9 265.8 L1377.4 264.3 L1379.0 262.8 L1380.5 261.2 L1382.1 259.5 L1383.6 257.4 L1385.2 255.1 L1386.8 252.6 L1388.3 250.2 L1389.9 248.1 L1391.4 246.4 L1393.0 244.6 L1394.5 243.1 L1396.1 242.3 L1397.6 242.2 L1399.2 242.2 L1400.8 242.2 L1402.3 242.2 L1403.9 242.2 L1405.4 242.2 L1407.0 236.6 L1408.5 226.7 L1410.1 217.1 L1411.6 206.3 L1413.2 194.2 L1414.8 180.8 L1416.3 165.3 L1417.9 148.8 L1419.4 127.9 L1421.0 111.6 L1422.5 116.4 L1422.8 290.6 L1455.8 290.6" fill="none" stroke="#ea5f5a" stroke-width="1.15" stroke-linejoin="round"/>
<path d="M1125.8 290.6 L1158.8 290.6 L1159.6 260.7 L1161.1 262.4 L1162.7 264.0 L1164.3 265.6 L1165.8 267.1 L1167.4 268.4 L1168.9 269.8 L1170.5 271.0 L1172.0 272.3 L1173.6 273.5 L1175.2 274.6 L1176.7 275.6 L1178.3 276.5 L1179.8 277.2 L1181.4 277.8 L1182.9 278.4 L1184.5 278.9 L1186.0 279.5 L1187.6 280.0 L1189.2 280.5 L1190.7 280.9 L1192.3 281.3 L1193.8 281.7 L1195.4 282.0 L1196.9 282.3 L1198.5 282.5 L1200.0 282.7 L1201.6 282.8 L1203.2 283.0 L1204.7 283.1 L1206.3 283.3 L1207.8 283.4 L1209.4 283.5 L1210.9 283.6 L1212.5 283.8 L1214.0 283.9 L1215.6 284.0 L1217.2 284.1 L1218.7 284.1 L1220.3 284.2 L1221.8 284.3 L1223.4 284.4 L1224.9 284.4 L1226.5 284.5 L1228.1 284.5 L1229.6 284.5 L1231.2 284.5 L1232.7 284.5 L1234.3 284.5 L1235.8 284.5 L1237.4 284.5 L1238.9 284.4 L1240.5 284.4 L1242.1 284.4 L1243.6 284.3 L1245.2 284.2 L1246.7 284.2 L1248.3 284.1 L1249.8 284.0 L1251.4 284.0 L1252.9 283.9 L1254.5 283.8 L1256.1 283.8 L1257.6 283.7 L1259.2 283.6 L1260.7 283.5 L1262.3 283.5 L1263.8 283.4 L1265.4 283.4 L1266.9 283.3 L1268.5 283.3 L1270.1 283.2 L1271.6 283.2 L1273.2 283.1 L1274.7 283.1 L1276.3 283.0 L1277.8 283.0 L1279.4 282.9 L1281.0 282.9 L1282.5 282.8 L1284.1 282.8 L1285.6 282.7 L1287.2 282.6 L1288.7 282.6 L1290.3 282.5 L1291.8 282.5 L1293.4 282.4 L1295.0 282.3 L1296.5 282.3 L1298.1 282.2 L1299.6 282.1 L1301.2 282.0 L1302.7 282.0 L1304.3 281.9 L1305.8 281.8 L1307.4 281.7 L1309.0 281.6 L1310.5 281.5 L1312.1 281.4 L1313.6 281.3 L1315.2 281.3 L1316.7 281.1 L1318.3 281.0 L1319.8 280.9 L1321.4 280.8 L1323.0 280.7 L1324.5 280.6 L1326.1 280.5 L1327.6 280.3 L1329.2 280.2 L1330.7 280.1 L1332.3 279.9 L1333.9 279.8 L1335.4 279.6 L1337.0 279.5 L1338.5 279.3 L1340.1 279.1 L1341.6 278.9 L1343.2 278.7 L1344.7 278.5 L1346.3 278.2 L1347.9 277.9 L1349.4 277.7 L1351.0 277.3 L1352.5 277.0 L1354.1 276.5 L1355.6 276.0 L1357.2 275.5 L1358.7 274.9 L1360.3 274.2 L1361.9 273.5 L1363.4 272.8 L1365.0 272.0 L1366.5 271.2 L1368.1 270.3 L1369.6 269.4 L1371.2 268.5 L1372.7 267.4 L1374.3 266.1 L1375.9 264.8 L1377.4 263.3 L1379.0 261.7 L1380.5 260.0 L1382.1 258.2 L1383.6 256.2 L1385.2 253.9 L1386.8 251.4 L1388.3 248.7 L1389.9 245.9 L1391.4 242.7 L1393.0 238.5 L1394.5 234.5 L1396.1 232.1 L1397.6 231.9 L1399.2 232.0 L1400.8 232.1 L1402.3 232.2 L1403.9 232.3 L1405.4 232.4 L1407.0 225.9 L1408.5 215.0 L1410.1 205.9 L1411.6 196.5 L1413.2 186.0 L1414.8 173.6 L1416.3 158.9 L1417.9 142.8 L1419.4 121.4 L1421.0 104.3 L1422.5 110.9 L1422.8 290.6 L1455.8 290.6" fill="none" stroke="#ea5f5a" stroke-width="1.15" stroke-linejoin="round"/>
<path d="M1131.6 290.6 L1158.8 290.6 L1159.6 265.5 L1161.1 268.0 L1162.7 270.5 L1164.3 272.5 L1165.8 273.9 L1167.4 274.6 L1168.9 275.1 L1170.5 275.6 L1172.0 276.0 L1173.6 276.4 L1175.1 276.7 L1176.7 276.9 L1178.2 277.2 L1179.8 277.5 L1181.4 277.8 L1182.9 278.1 L1184.5 278.4 L1186.0 278.7 L1187.6 279.0 L1189.1 279.3 L1190.7 279.6 L1192.2 279.8 L1193.8 280.0 L1195.3 280.2 L1196.9 280.3 L1198.4 280.4 L1200.0 280.5 L1201.6 280.5 L1203.1 280.4 L1204.7 280.4 L1206.2 280.4 L1207.8 280.4 L1209.3 280.4 L1210.9 280.3 L1212.4 280.3 L1214.0 280.3 L1215.5 280.2 L1217.1 280.2 L1218.7 280.1 L1220.2 280.1 L1221.8 280.0 L1223.3 279.9 L1224.9 279.8 L1226.4 279.7 L1228.0 279.5 L1229.5 279.3 L1231.1 279.1 L1232.6 278.9 L1234.2 278.7 L1235.8 278.4 L1237.3 278.2 L1238.9 278.0 L1240.4 277.7 L1242.0 277.5 L1243.5 277.3 L1245.1 277.1 L1246.6 276.9 L1248.2 276.7 L1249.7 276.5 L1251.3 276.3 L1252.9 276.1 L1254.4 275.9 L1256.0 275.7 L1257.5 275.5 L1259.1 275.3 L1260.6 275.0 L1262.2 274.8 L1263.7 274.6 L1265.3 274.4 L1266.8 274.2 L1268.4 274.0 L1269.9 273.8 L1271.5 273.6 L1273.1 273.4 L1274.6 273.2 L1276.2 273.0 L1277.7 272.7 L1279.3 272.4 L1280.8 272.0 L1282.4 271.5 L1283.9 270.4 L1285.5 269.1 L1287.0 267.9 L1288.6 267.3 L1290.2 267.2 L1291.7 267.2 L1293.3 267.2 L1294.8 267.2 L1296.4 267.2 L1297.9 267.2 L1299.5 267.2 L1301.0 266.8 L1302.6 266.1 L1304.1 265.2 L1305.7 264.3 L1307.3 263.4 L1308.8 262.6 L1310.4 262.0 L1311.9 261.4 L1313.5 260.8 L1315.0 260.3 L1316.6 259.8 L1318.1 259.3 L1319.7 258.8 L1321.2 258.3 L1322.8 257.8 L1324.3 257.3 L1325.9 256.8 L1327.5 256.3 L1329.0 255.8 L1330.6 255.3 L1332.1 254.8 L1333.7 254.2 L1335.2 253.7 L1336.8 253.2 L1338.3 252.7 L1339.9 252.1 L1341.4 251.6 L1343.0 251.2 L1344.6 250.7 L1346.1 250.3 L1347.7 249.8 L1349.2 249.3 L1350.8 248.8 L1352.3 248.4 L1353.9 248.0 L1355.4 247.6 L1357.0 247.4 L1358.5 247.4 L1360.1 247.4 L1361.7 247.4 L1363.2 247.4 L1364.8 247.4 L1366.3 247.4 L1367.9 247.4 L1369.4 247.4 L1371.0 247.4 L1372.5 247.8 L1374.1 248.4 L1375.6 249.1 L1377.2 250.0 L1378.8 250.9 L1380.3 251.8 L1381.9 252.7 L1383.4 253.5 L1385.0 254.3 L1386.5 255.1 L1388.1 256.0 L1389.6 257.0 L1391.2 258.1 L1392.7 259.3 L1394.3 260.8 L1395.8 262.5 L1397.4 264.4 L1399.0 266.4 L1400.5 268.4 L1402.1 270.4 L1403.6 272.3 L1405.2 274.5 L1406.7 276.9 L1408.3 279.0 L1409.8 280.3 L1411.4 280.4 L1412.9 279.7 L1414.5 278.5 L1416.1 277.0 L1417.6 275.4 L1419.2 273.3 L1420.7 270.6 L1422.3 267.7 L1422.8 290.6 L1450.0 290.6" fill="none" stroke="#22ab3c" stroke-width="1.15" stroke-linejoin="round"/>
<path d="M1131.6 290.6 L1158.8 290.6 L1159.6 261.9 L1161.1 265.9 L1162.7 269.7 L1164.3 272.8 L1165.8 274.7 L1167.4 275.4 L1168.9 276.0 L1170.5 276.4 L1172.0 276.8 L1173.6 277.1 L1175.1 277.4 L1176.7 277.6 L1178.2 277.9 L1179.8 278.2 L1181.4 278.4 L1182.9 278.7 L1184.5 279.0 L1186.0 279.3 L1187.6 279.6 L1189.1 279.9 L1190.7 280.1 L1192.2 280.3 L1193.8 280.5 L1195.3 280.7 L1196.9 280.8 L1198.4 280.9 L1200.0 281.0 L1201.6 281.0 L1203.1 281.0 L1204.7 280.9 L1206.2 280.9 L1207.8 280.9 L1209.3 280.9 L1210.9 280.8 L1212.4 280.8 L1214.0 280.8 L1215.5 280.7 L1217.1 280.7 L1218.7 280.6 L1220.2 280.6 L1221.8 280.5 L1223.3 280.5 L1224.9 280.4 L1226.4 280.2 L1228.0 280.1 L1229.5 279.9 L1231.1 279.7 L1232.6 279.5 L1234.2 279.3 L1235.8 279.0 L1237.3 278.8 L1238.9 278.6 L1240.4 278.4 L1242.0 278.2 L1243.5 278.0 L1245.1 277.8 L1246.6 277.6 L1248.2 277.4 L1249.7 277.2 L1251.3 277.0 L1252.9 276.8 L1254.4 276.6 L1256.0 276.4 L1257.5 276.2 L1259.1 276.0 L1260.6 275.8 L1262.2 275.6 L1263.7 275.4 L1265.3 275.2 L1266.8 275.0 L1268.4 274.8 L1269.9 274.7 L1271.5 274.5 L1273.1 274.3 L1274.6 274.1 L1276.2 273.9 L1277.7 273.6 L1279.3 273.3 L1280.8 273.0 L1282.4 272.5 L1283.9 271.4 L1285.5 270.2 L1287.0 269.0 L1288.6 268.4 L1290.2 268.4 L1291.7 268.4 L1293.3 268.4 L1294.8 268.4 L1296.4 268.4 L1297.9 268.4 L1299.5 268.3 L1301.0 268.0 L1302.6 267.3 L1304.1 266.5 L1305.7 265.6 L1307.3 264.7 L1308.8 264.0 L1310.4 263.4 L1311.9 262.8 L1313.5 262.3 L1315.0 261.8 L1316.6 261.3 L1318.1 260.8 L1319.7 260.3 L1321.2 259.9 L1322.8 259.4 L1324.3 259.0 L1325.9 258.5 L1327.5 258.0 L1329.0 257.6 L1330.6 257.1 L1332.1 256.5 L1333.7 256.0 L1335.2 255.5 L1336.8 254.9 L1338.3 254.4 L1339.9 254.0 L1341.4 253.5 L1343.0 253.2 L1344.6 252.9 L1346.1 252.7 L1347.7 252.6 L1349.2 252.4 L1350.8 252.3 L1352.3 252.2 L1353.9 252.1 L1355.4 252.0 L1357.0 252.0 L1358.5 251.9 L1360.1 252.0 L1361.7 252.1 L1363.2 252.4 L1364.8 252.6 L1366.3 252.9 L1367.9 253.2 L1369.4 253.5 L1371.0 253.8 L1372.5 254.2 L1374.1 254.5 L1375.6 254.9 L1377.2 255.3 L1378.8 255.7 L1380.3 256.1 L1381.9 256.6 L1383.4 257.1 L1385.0 257.6 L1386.5 258.2 L1388.1 258.8 L1389.6 259.5 L1391.2 260.3 L1392.7 261.2 L1394.3 262.4 L1395.8 264.0 L1397.4 265.7 L1399.0 267.6 L1400.5 269.6 L1402.1 271.4 L1403.6 273.2 L1405.2 275.3 L1406.7 277.6 L1408.3 279.6 L1409.8 280.8 L1411.4 280.9 L1412.9 280.1 L1414.5 278.8 L1416.1 277.5 L1417.6 276.3 L1419.2 275.2 L1420.7 274.1 L1422.3 273.0 L1422.8 290.6 L1450.0 290.6" fill="none" stroke="#22ab3c" stroke-width="1.15" stroke-linejoin="round"/>
<path d="M1131.6 290.6 L1158.8 290.6 L1159.6 264.1 L1161.1 267.3 L1162.7 270.2 L1164.3 272.6 L1165.8 274.2 L1167.4 274.9 L1168.9 275.5 L1170.5 275.9 L1172.0 276.3 L1173.6 276.7 L1175.1 276.9 L1176.7 277.2 L1178.2 277.5 L1179.8 277.8 L1181.4 278.1 L1182.9 278.4 L1184.5 278.7 L1186.0 279.0 L1187.6 279.2 L1189.1 279.5 L1190.7 279.8 L1192.2 280.0 L1193.8 280.2 L1195.3 280.4 L1196.9 280.5 L1198.4 280.6 L1200.0 280.7 L1201.6 280.7 L1203.1 280.7 L1204.7 280.6 L1206.2 280.6 L1207.8 280.6 L1209.3 280.6 L1210.9 280.5 L1212.4 280.5 L1214.0 280.5 L1215.5 280.4 L1217.1 280.4 L1218.7 280.3 L1220.2 280.3 L1221.8 280.2 L1223.3 280.1 L1224.9 280.0 L1226.4 279.9 L1228.0 279.7 L1229.5 279.5 L1231.1 279.3 L1232.6 279.1 L1234.2 278.9 L1235.8 278.7 L1237.3 278.4 L1238.9 278.2 L1240.4 278.0 L1242.0 277.8 L1243.5 277.6 L1245.1 277.4 L1246.6 277.2 L1248.2 277.0 L1249.7 276.8 L1251.3 276.6 L1252.9 276.4 L1254.4 276.2 L1256.0 276.0 L1257.5 275.8 L1259.1 275.6 L1260.6 275.3 L1262.2 275.1 L1263.7 274.9 L1265.3 274.7 L1266.8 274.5 L1268.4 274.3 L1269.9 274.1 L1271.5 274.0 L1273.1 273.8 L1274.6 273.6 L1276.2 273.3 L1277.7 273.1 L1279.3 272.8 L1280.8 272.4 L1282.4 271.9 L1283.9 270.8 L1285.5 269.5 L1287.0 268.3 L1288.6 267.7 L1290.2 267.7 L1291.7 267.7 L1293.3 267.7 L1294.8 267.7 L1296.4 267.7 L1297.9 267.7 L1299.5 267.6 L1301.0 267.3 L1302.6 266.6 L1304.1 265.7 L1305.7 264.8 L1307.3 263.9 L1308.8 263.1 L1310.4 262.5 L1311.9 262.0 L1313.5 261.4 L1315.0 260.9 L1316.6 260.4 L1318.1 259.9 L1319.7 259.4 L1321.2 258.9 L1322.8 258.4 L1324.3 258.0 L1325.9 257.5 L1327.5 257.0 L1329.0 256.5 L1330.6 256.1 L1332.1 255.5 L1333.7 255.0 L1335.2 254.5 L1336.8 254.0 L1338.3 253.5 L1339.9 253.1 L1341.4 252.7 L1343.0 252.3 L1344.6 252.0 L1346.1 251.8 L1347.7 251.6 L1349.2 251.4 L1350.8 251.2 L1352.3 251.1 L1353.9 251.0 L1355.4 250.9 L1357.0 250.8 L1358.5 250.8 L1360.1 250.8 L1361.7 250.8 L1363.2 250.8 L1364.8 250.8 L1366.3 250.8 L1367.9 250.9 L1369.4 250.9 L1371.0 251.0 L1372.5 251.2 L1374.1 251.5 L1375.6 252.0 L1377.2 252.5 L1378.8 253.1 L1380.3 253.6 L1381.9 254.2 L1383.4 254.8 L1385.0 255.5 L1386.5 256.2 L1388.1 257.1 L1389.6 258.0 L1391.2 258.9 L1392.7 260.0 L1394.3 261.4 L1395.8 263.0 L1397.4 264.8 L1399.0 266.7 L1400.5 268.6 L1402.1 270.4 L1403.6 272.1 L1405.2 273.9 L1406.7 275.9 L1408.3 277.5 L1409.8 278.5 L1411.4 278.6 L1412.9 277.8 L1414.5 276.7 L1416.1 275.8 L1417.6 275.7 L1419.2 275.9 L1420.7 276.5 L1422.3 277.4 L1422.8 290.6 L1450.0 290.6" fill="none" stroke="#22ab3c" stroke-width="1.15" stroke-linejoin="round"/>
<path d="M1133.7 290.6 L1158.8 290.6 L1159.6 254.9 L1161.1 259.1 L1162.7 263.0 L1164.3 266.3 L1165.8 269.1 L1167.4 271.3 L1168.9 273.3 L1170.5 275.2 L1172.0 276.7 L1173.6 277.7 L1175.1 278.3 L1176.7 278.6 L1178.2 278.9 L1179.8 279.2 L1181.4 279.4 L1182.9 279.7 L1184.5 279.9 L1186.0 280.1 L1187.6 280.3 L1189.1 280.4 L1190.7 280.5 L1192.2 280.6 L1193.8 280.7 L1195.3 280.8 L1196.9 280.8 L1198.4 280.9 L1200.0 280.9 L1201.6 280.9 L1203.1 280.9 L1204.7 280.9 L1206.2 280.9 L1207.8 280.9 L1209.3 280.9 L1210.9 280.9 L1212.4 280.9 L1214.0 280.9 L1215.5 280.9 L1217.1 280.9 L1218.7 280.9 L1220.2 280.9 L1221.8 280.9 L1223.3 280.9 L1224.9 280.9 L1226.4 280.9 L1228.0 280.9 L1229.5 280.9 L1231.1 280.9 L1232.6 280.9 L1234.2 280.9 L1235.8 280.8 L1237.3 280.8 L1238.9 280.7 L1240.4 280.5 L1242.0 280.4 L1243.5 280.2 L1245.1 280.0 L1246.6 279.8 L1248.2 279.6 L1249.7 279.4 L1251.3 279.2 L1252.9 279.0 L1254.4 278.8 L1256.0 278.5 L1257.5 278.3 L1259.1 278.1 L1260.6 277.9 L1262.2 277.6 L1263.7 277.5 L1265.3 277.3 L1266.8 277.1 L1268.4 276.9 L1269.9 276.8 L1271.5 276.6 L1273.1 276.5 L1274.6 276.3 L1276.2 276.1 L1277.7 275.9 L1279.3 275.6 L1280.8 275.3 L1282.4 274.9 L1283.9 274.1 L1285.5 273.1 L1287.0 272.0 L1288.6 271.2 L1290.2 270.7 L1291.7 270.5 L1293.3 270.4 L1294.8 270.3 L1296.4 270.2 L1297.9 270.1 L1299.5 270.0 L1301.0 269.9 L1302.6 269.7 L1304.1 269.4 L1305.7 269.0 L1307.3 268.4 L1308.8 267.7 L1310.4 266.9 L1311.9 266.1 L1313.5 265.2 L1315.0 264.5 L1316.6 263.7 L1318.1 263.1 L1319.7 262.5 L1321.2 261.9 L1322.8 261.4 L1324.3 260.8 L1325.9 260.2 L1327.5 259.7 L1329.0 259.2 L1330.6 258.6 L1332.1 258.1 L1333.7 257.6 L1335.2 257.2 L1336.8 256.7 L1338.3 256.2 L1339.9 255.8 L1341.4 255.3 L1343.0 254.8 L1344.6 254.3 L1346.1 253.9 L1347.7 253.4 L1349.2 253.0 L1350.8 252.6 L1352.3 252.2 L1353.9 251.9 L1355.4 251.7 L1357.0 251.5 L1358.5 251.3 L1360.1 251.1 L1361.7 251.0 L1363.2 250.8 L1364.8 250.7 L1366.3 250.6 L1367.9 250.5 L1369.4 250.5 L1371.0 250.5 L1372.5 250.5 L1374.1 250.5 L1375.6 250.6 L1377.2 250.7 L1378.8 250.8 L1380.3 250.9 L1381.9 251.1 L1383.4 251.2 L1385.0 251.4 L1386.5 251.6 L1388.1 252.2 L1389.6 253.0 L1391.2 254.1 L1392.7 255.4 L1394.3 256.8 L1395.8 258.3 L1397.4 259.8 L1399.0 261.8 L1400.5 264.1 L1402.1 266.4 L1403.6 268.7 L1405.2 270.5 L1406.7 272.2 L1408.3 273.9 L1409.8 275.0 L1411.4 274.9 L1412.9 272.7 L1414.5 269.2 L1416.1 265.3 L1417.6 262.0 L1419.2 258.7 L1420.7 255.2 L1422.3 251.6 L1422.8 290.6 L1447.9 290.6" fill="none" stroke="#4b8df0" stroke-width="1.15" stroke-linejoin="round"/>
<path d="M1133.7 290.6 L1158.8 290.6 L1159.6 257.5 L1161.1 261.0 L1162.7 264.2 L1164.3 267.1 L1165.8 269.6 L1167.4 271.6 L1168.9 273.6 L1170.5 275.4 L1172.0 276.9 L1173.6 278.0 L1175.1 278.5 L1176.7 278.9 L1178.2 279.2 L1179.8 279.4 L1181.4 279.7 L1182.9 279.9 L1184.5 280.1 L1186.0 280.3 L1187.6 280.5 L1189.1 280.6 L1190.7 280.7 L1192.2 280.8 L1193.8 280.9 L1195.3 281.0 L1196.9 281.0 L1198.4 281.1 L1200.0 281.1 L1201.6 281.1 L1203.1 281.1 L1204.7 281.1 L1206.2 281.1 L1207.8 281.1 L1209.3 281.1 L1210.9 281.1 L1212.4 281.1 L1214.0 281.1 L1215.5 281.1 L1217.1 281.1 L1218.7 281.1 L1220.2 281.1 L1221.8 281.1 L1223.3 281.1 L1224.9 281.1 L1226.4 281.1 L1228.0 281.1 L1229.5 281.1 L1231.1 281.1 L1232.6 281.1 L1234.2 281.1 L1235.8 281.0 L1237.3 281.0 L1238.9 280.9 L1240.4 280.7 L1242.0 280.6 L1243.5 280.4 L1245.1 280.3 L1246.6 280.1 L1248.2 279.9 L1249.7 279.7 L1251.3 279.4 L1252.9 279.2 L1254.4 279.0 L1256.0 278.8 L1257.5 278.5 L1259.1 278.3 L1260.6 278.1 L1262.2 277.9 L1263.7 277.7 L1265.3 277.5 L1266.8 277.4 L1268.4 277.2 L1269.9 277.1 L1271.5 276.9 L1273.1 276.8 L1274.6 276.6 L1276.2 276.4 L1277.7 276.2 L1279.3 275.9 L1280.8 275.6 L1282.4 275.2 L1283.9 274.4 L1285.5 273.4 L1287.0 272.4 L1288.6 271.6 L1290.2 271.1 L1291.7 270.9 L1293.3 270.8 L1294.8 270.7 L1296.4 270.6 L1297.9 270.5 L1299.5 270.4 L1301.0 270.3 L1302.6 270.1 L1304.1 269.8 L1305.7 269.4 L1307.3 268.8 L1308.8 268.1 L1310.4 267.4 L1311.9 266.6 L1313.5 265.8 L1315.0 265.0 L1316.6 264.3 L1318.1 263.7 L1319.7 263.1 L1321.2 262.5 L1322.8 261.9 L1324.3 261.4 L1325.9 260.9 L1327.5 260.3 L1329.0 259.8 L1330.6 259.3 L1332.1 258.8 L1333.7 258.3 L1335.2 257.8 L1336.8 257.4 L1338.3 256.9 L1339.9 256.4 L1341.4 256.0 L1343.0 255.5 L1344.6 255.1 L1346.1 254.6 L1347.7 254.2 L1349.2 253.7 L1350.8 253.4 L1352.3 253.0 L1353.9 252.7 L1355.4 252.5 L1357.0 252.3 L1358.5 252.1 L1360.1 251.9 L1361.7 251.8 L1363.2 251.6 L1364.8 251.5 L1366.3 251.4 L1367.9 251.3 L1369.4 251.3 L1371.0 251.3 L1372.5 251.3 L1374.1 251.3 L1375.6 251.4 L1377.2 251.5 L1378.8 251.6 L1380.3 251.7 L1381.9 251.9 L1383.4 252.0 L1385.0 252.2 L1386.5 252.4 L1388.1 252.9 L1389.6 253.7 L1391.2 254.8 L1392.7 256.1 L1394.3 257.5 L1395.8 258.9 L1397.4 260.5 L1399.0 262.5 L1400.5 264.9 L1402.1 267.4 L1403.6 269.8 L1405.2 272.0 L1406.7 274.0 L1408.3 276.1 L1409.8 277.5 L1411.4 277.3 L1412.9 274.3 L1414.5 270.0 L1416.1 266.1 L1417.6 264.2 L1419.2 263.1 L1420.7 262.3 L1422.3 261.9 L1422.8 290.6 L1447.9 290.6" fill="none" stroke="#4b8df0" stroke-width="1.15" stroke-linejoin="round"/>
<path d="M1133.7 290.6 L1158.8 290.6 L1159.6 255.8 L1161.1 259.6 L1162.7 263.2 L1164.3 266.3 L1165.8 268.9 L1167.4 271.0 L1168.9 273.1 L1170.5 275.0 L1172.0 276.5 L1173.6 277.6 L1175.1 278.2 L1176.7 278.5 L1178.2 278.8 L1179.8 279.1 L1181.4 279.3 L1182.9 279.6 L1184.5 279.8 L1186.0 280.0 L1187.6 280.1 L1189.1 280.3 L1190.7 280.4 L1192.2 280.5 L1193.8 280.6 L1195.3 280.7 L1196.9 280.8 L1198.4 280.8 L1200.0 280.8 L1201.6 280.8 L1203.1 280.8 L1204.7 280.8 L1206.2 280.8 L1207.8 280.8 L1209.3 280.8 L1210.9 280.8 L1212.4 280.8 L1214.0 280.8 L1215.5 280.8 L1217.1 280.8 L1218.7 280.8 L1220.2 280.8 L1221.8 280.8 L1223.3 280.8 L1224.9 280.8 L1226.4 280.8 L1228.0 280.8 L1229.5 280.8 L1231.1 280.8 L1232.6 280.8 L1234.2 280.8 L1235.8 280.7 L1237.3 280.7 L1238.9 280.6 L1240.4 280.4 L1242.0 280.3 L1243.5 280.1 L1245.1 279.9 L1246.6 279.7 L1248.2 279.5 L1249.7 279.3 L1251.3 279.1 L1252.9 278.9 L1254.4 278.6 L1256.0 278.4 L1257.5 278.2 L1259.1 277.9 L1260.6 277.7 L1262.2 277.5 L1263.7 277.3 L1265.3 277.1 L1266.8 277.0 L1268.4 276.8 L1269.9 276.7 L1271.5 276.5 L1273.1 276.3 L1274.6 276.2 L1276.2 276.0 L1277.7 275.7 L1279.3 275.5 L1280.8 275.2 L1282.4 274.8 L1283.9 274.0 L1285.5 272.9 L1287.0 271.9 L1288.6 271.0 L1290.2 270.5 L1291.7 270.3 L1293.3 270.2 L1294.8 270.1 L1296.4 270.0 L1297.9 269.9 L1299.5 269.8 L1301.0 269.7 L1302.6 269.5 L1304.1 269.2 L1305.7 268.8 L1307.3 268.1 L1308.8 267.4 L1310.4 266.6 L1311.9 265.8 L1313.5 265.0 L1315.0 264.2 L1316.6 263.5 L1318.1 262.9 L1319.7 262.4 L1321.2 261.9 L1322.8 261.4 L1324.3 261.0 L1325.9 260.5 L1327.5 260.1 L1329.0 259.7 L1330.6 259.2 L1332.1 258.8 L1333.7 258.4 L1335.2 258.0 L1336.8 257.6 L1338.3 257.1 L1339.9 256.7 L1341.4 256.2 L1343.0 255.7 L1344.6 255.2 L1346.1 254.7 L1347.7 254.3 L1349.2 253.8 L1350.8 253.3 L1352.3 252.9 L1353.9 252.5 L1355.4 252.2 L1357.0 251.9 L1358.5 251.6 L1360.1 251.3 L1361.7 251.0 L1363.2 250.8 L1364.8 250.5 L1366.3 250.4 L1367.9 250.2 L1369.4 250.2 L1371.0 250.2 L1372.5 250.2 L1374.1 250.2 L1375.6 250.3 L1377.2 250.4 L1378.8 250.5 L1380.3 250.6 L1381.9 250.7 L1383.4 250.9 L1385.0 251.0 L1386.5 251.2 L1388.1 251.8 L1389.6 252.6 L1391.2 253.7 L1392.7 255.0 L1394.3 256.5 L1395.8 258.0 L1397.4 259.5 L1399.0 261.5 L1400.5 263.8 L1402.1 266.2 L1403.6 268.4 L1405.2 270.3 L1406.7 272.0 L1408.3 273.7 L1409.8 274.8 L1411.4 274.7 L1412.9 272.1 L1414.5 268.3 L1416.1 264.6 L1417.6 262.2 L1419.2 260.3 L1420.7 258.7 L1422.3 257.5 L1422.8 290.6 L1447.9 290.6" fill="none" stroke="#4b8df0" stroke-width="1.15" stroke-linejoin="round"/>
<line x1="1113.5" y1="84.0" x2="1469.5" y2="84.0" stroke="#c2c2c2" stroke-width="1.2" />
<path d="M1113.5 83.4 V300.5 H1469.5 V83.4" fill="none" stroke="#2a2a2a" stroke-width="1.7"/>
<rect x="1113.5" y="306.6" width="356.0" height="215.9" fill="#fff"/>
<line x1="1113.5" y1="485.4" x2="1469.5" y2="485.4" stroke="#f0f0f0" stroke-width="1" />
<line x1="1113.5" y1="430.3" x2="1469.5" y2="430.3" stroke="#f0f0f0" stroke-width="1" />
<line x1="1113.5" y1="375.2" x2="1469.5" y2="375.2" stroke="#f0f0f0" stroke-width="1" />
<line x1="1113.5" y1="320.1" x2="1469.5" y2="320.1" stroke="#f0f0f0" stroke-width="1" />
<line x1="1211.6" y1="306.6" x2="1211.6" y2="522.5" stroke="#f0f0f0" stroke-width="1" />
<line x1="1317.2" y1="306.6" x2="1317.2" y2="522.5" stroke="#f0f0f0" stroke-width="1" />
<line x1="1422.8" y1="306.6" x2="1422.8" y2="522.5" stroke="#f0f0f0" stroke-width="1" />
<line x1="1113.5" y1="513.0" x2="1469.5" y2="513.0" stroke="#e5e5e5" stroke-width="1.35" />
<line x1="1110.0" y1="513.0" x2="1113.5" y2="513.0" stroke="#333" stroke-width="1.3" />
<line x1="1113.5" y1="457.9" x2="1469.5" y2="457.9" stroke="#e5e5e5" stroke-width="1.35" />
<line x1="1110.0" y1="457.9" x2="1113.5" y2="457.9" stroke="#333" stroke-width="1.3" />
<line x1="1113.5" y1="402.8" x2="1469.5" y2="402.8" stroke="#e5e5e5" stroke-width="1.35" />
<line x1="1110.0" y1="402.8" x2="1113.5" y2="402.8" stroke="#333" stroke-width="1.3" />
<line x1="1113.5" y1="347.6" x2="1469.5" y2="347.6" stroke="#e5e5e5" stroke-width="1.35" />
<line x1="1110.0" y1="347.6" x2="1113.5" y2="347.6" stroke="#333" stroke-width="1.3" />
<line x1="1158.8" y1="306.6" x2="1158.8" y2="522.5" stroke="#e5e5e5" stroke-width="1.35" />
<line x1="1158.8" y1="522.5" x2="1158.8" y2="526.0" stroke="#333" stroke-width="1.3" />
<line x1="1264.4" y1="306.6" x2="1264.4" y2="522.5" stroke="#e5e5e5" stroke-width="1.35" />
<line x1="1264.4" y1="522.5" x2="1264.4" y2="526.0" stroke="#333" stroke-width="1.3" />
<line x1="1370.0" y1="306.6" x2="1370.0" y2="522.5" stroke="#e5e5e5" stroke-width="1.35" />
<line x1="1370.0" y1="522.5" x2="1370.0" y2="526.0" stroke="#333" stroke-width="1.3" />
<path d="M1125.8 513.0 L1158.8 513.0 L1159.6 479.0 L1161.1 483.2 L1162.7 487.1 L1164.3 490.5 L1165.8 493.2 L1167.4 495.4 L1168.9 497.5 L1170.5 499.4 L1172.0 500.9 L1173.6 502.0 L1175.1 502.4 L1176.7 502.6 L1178.2 502.8 L1179.8 502.9 L1181.3 503.0 L1182.9 503.1 L1184.4 503.2 L1186.0 503.3 L1187.5 503.4 L1189.1 503.5 L1190.6 503.6 L1192.2 503.8 L1193.8 504.0 L1195.3 504.2 L1196.9 504.4 L1198.4 504.7 L1200.0 504.9 L1201.5 505.1 L1203.1 505.4 L1204.6 505.6 L1206.2 505.8 L1207.7 505.9 L1209.3 506.1 L1210.8 506.2 L1212.4 506.2 L1213.9 506.3 L1215.5 506.4 L1217.0 506.4 L1218.6 506.5 L1220.1 506.6 L1221.7 506.6 L1223.3 506.7 L1224.8 506.7 L1226.4 506.8 L1227.9 506.8 L1229.5 506.9 L1231.0 506.9 L1232.6 506.9 L1234.1 507.0 L1235.7 507.0 L1237.2 507.0 L1238.8 507.0 L1240.3 507.0 L1241.9 507.0 L1243.4 507.0 L1245.0 507.0 L1246.5 507.0 L1248.1 507.0 L1249.7 507.0 L1251.2 507.0 L1252.8 507.0 L1254.3 507.0 L1255.9 507.0 L1257.4 506.9 L1259.0 506.9 L1260.5 506.9 L1262.1 506.9 L1263.6 506.8 L1265.2 506.8 L1266.7 506.8 L1268.3 506.8 L1269.8 506.7 L1271.4 506.7 L1272.9 506.7 L1274.5 506.6 L1276.0 506.6 L1277.6 506.5 L1279.2 506.5 L1280.7 506.4 L1282.3 506.3 L1283.8 506.2 L1285.4 506.1 L1286.9 506.0 L1288.5 505.9 L1290.0 505.8 L1291.6 505.6 L1293.1 505.5 L1294.7 505.4 L1296.2 505.2 L1297.8 505.1 L1299.3 505.0 L1300.9 504.9 L1302.4 504.7 L1304.0 504.6 L1305.6 504.5 L1307.1 504.4 L1308.7 504.3 L1310.2 504.2 L1311.8 504.1 L1313.3 504.0 L1314.9 504.0 L1316.4 503.9 L1318.0 503.8 L1319.5 503.7 L1321.1 503.6 L1322.6 503.6 L1324.2 503.5 L1325.7 503.4 L1327.3 503.3 L1328.8 503.2 L1330.4 503.1 L1331.9 503.0 L1333.5 502.9 L1335.1 502.8 L1336.6 502.6 L1338.2 502.5 L1339.7 502.4 L1341.3 502.2 L1342.8 502.0 L1344.4 501.7 L1345.9 501.5 L1347.5 501.2 L1349.0 500.9 L1350.6 500.6 L1352.1 500.2 L1353.7 499.9 L1355.2 499.5 L1356.8 499.1 L1358.3 498.6 L1359.9 498.2 L1361.5 497.7 L1363.0 497.1 L1364.6 496.5 L1366.1 495.8 L1367.7 495.0 L1369.2 494.1 L1370.8 493.2 L1372.3 492.2 L1373.9 491.1 L1375.4 489.9 L1377.0 488.6 L1378.5 487.2 L1380.1 485.6 L1381.6 483.9 L1383.2 482.0 L1384.7 480.0 L1386.3 477.6 L1387.8 474.8 L1389.4 471.9 L1391.0 468.9 L1392.5 466.1 L1394.1 463.2 L1395.6 460.2 L1397.2 457.5 L1398.7 455.7 L1400.3 454.9 L1401.8 454.3 L1403.4 453.4 L1404.9 451.7 L1406.5 449.2 L1408.0 445.5 L1409.6 440.7 L1411.1 429.3 L1412.7 411.2 L1414.2 394.1 L1415.8 378.3 L1417.3 362.6 L1418.9 347.0 L1420.5 331.5 L1422.0 316.1 L1422.8 513.0 L1455.8 513.0" fill="none" stroke="#ea5f5a" stroke-width="1.15" stroke-linejoin="round"/>
<path d="M1125.8 513.0 L1158.8 513.0 L1159.6 479.4 L1161.1 483.5 L1162.7 487.4 L1164.3 490.7 L1165.8 493.4 L1167.4 495.6 L1168.9 497.7 L1170.5 499.5 L1172.0 501.0 L1173.6 502.1 L1175.1 502.6 L1176.7 502.8 L1178.2 502.9 L1179.8 503.0 L1181.3 503.1 L1182.9 503.2 L1184.4 503.3 L1186.0 503.4 L1187.5 503.4 L1189.1 503.6 L1190.6 503.7 L1192.2 503.9 L1193.8 504.1 L1195.3 504.3 L1196.9 504.5 L1198.4 504.7 L1200.0 505.0 L1201.5 505.2 L1203.1 505.4 L1204.6 505.6 L1206.2 505.8 L1207.7 506.0 L1209.3 506.1 L1210.8 506.2 L1212.4 506.3 L1213.9 506.4 L1215.5 506.4 L1217.0 506.5 L1218.6 506.6 L1220.1 506.6 L1221.7 506.7 L1223.3 506.7 L1224.8 506.8 L1226.4 506.8 L1227.9 506.9 L1229.5 506.9 L1231.0 507.0 L1232.6 507.0 L1234.1 507.0 L1235.7 507.0 L1237.2 507.1 L1238.8 507.1 L1240.3 507.1 L1241.9 507.1 L1243.4 507.1 L1245.0 507.1 L1246.5 507.1 L1248.1 507.1 L1249.7 507.1 L1251.2 507.1 L1252.8 507.1 L1254.3 507.0 L1255.9 507.0 L1257.4 507.0 L1259.0 507.0 L1260.5 507.0 L1262.1 506.9 L1263.6 506.9 L1265.2 506.9 L1266.7 506.8 L1268.3 506.8 L1269.8 506.8 L1271.4 506.7 L1272.9 506.7 L1274.5 506.7 L1276.0 506.6 L1277.6 506.6 L1279.2 506.5 L1280.7 506.5 L1282.3 506.4 L1283.8 506.3 L1285.4 506.2 L1286.9 506.1 L1288.5 505.9 L1290.0 505.8 L1291.6 505.7 L1293.1 505.6 L1294.7 505.5 L1296.2 505.3 L1297.8 505.2 L1299.3 505.1 L1300.9 504.9 L1302.4 504.8 L1304.0 504.7 L1305.6 504.6 L1307.1 504.5 L1308.7 504.4 L1310.2 504.3 L1311.8 504.2 L1313.3 504.1 L1314.9 504.1 L1316.4 504.0 L1318.0 503.9 L1319.5 503.8 L1321.1 503.7 L1322.6 503.7 L1324.2 503.6 L1325.7 503.5 L1327.3 503.4 L1328.8 503.3 L1330.4 503.2 L1331.9 503.1 L1333.5 503.0 L1335.1 502.9 L1336.6 502.8 L1338.2 502.6 L1339.7 502.5 L1341.3 502.3 L1342.8 502.1 L1344.4 501.9 L1345.9 501.6 L1347.5 501.3 L1349.0 501.0 L1350.6 500.7 L1352.1 500.4 L1353.7 500.0 L1355.2 499.6 L1356.8 499.2 L1358.3 498.8 L1359.9 498.3 L1361.5 497.9 L1363.0 497.3 L1364.6 496.6 L1366.1 495.9 L1367.7 495.1 L1369.2 494.3 L1370.8 493.4 L1372.3 492.4 L1373.9 491.3 L1375.4 490.2 L1377.0 488.9 L1378.5 487.4 L1380.1 485.8 L1381.6 484.1 L1383.2 482.3 L1384.7 480.3 L1386.3 477.7 L1387.8 474.7 L1389.4 471.6 L1391.0 468.9 L1392.5 467.0 L1394.1 465.5 L1395.6 464.1 L1397.2 463.1 L1398.7 462.5 L1400.3 462.4 L1401.8 462.3 L1403.4 462.1 L1404.9 460.2 L1406.5 455.9 L1408.0 449.9 L1409.6 442.6 L1411.1 430.1 L1412.7 412.2 L1414.2 395.3 L1415.8 379.1 L1417.3 363.6 L1418.9 349.7 L1420.5 337.0 L1422.0 325.6 L1422.8 513.0 L1455.8 513.0" fill="none" stroke="#ea5f5a" stroke-width="1.15" stroke-linejoin="round"/>
<path d="M1125.8 513.0 L1158.8 513.0 L1159.6 479.0 L1161.1 483.2 L1162.7 487.1 L1164.3 490.5 L1165.8 493.2 L1167.4 495.4 L1168.9 497.5 L1170.5 499.4 L1172.0 500.9 L1173.6 502.0 L1175.1 502.4 L1176.7 502.6 L1178.2 502.8 L1179.8 502.9 L1181.3 503.0 L1182.9 503.1 L1184.4 503.2 L1186.0 503.3 L1187.5 503.4 L1189.1 503.5 L1190.6 503.6 L1192.2 503.8 L1193.8 504.0 L1195.3 504.2 L1196.9 504.4 L1198.4 504.7 L1200.0 504.9 L1201.5 505.1 L1203.1 505.4 L1204.6 505.6 L1206.2 505.8 L1207.7 505.9 L1209.3 506.1 L1210.8 506.2 L1212.4 506.2 L1213.9 506.3 L1215.5 506.4 L1217.0 506.4 L1218.6 506.5 L1220.1 506.6 L1221.7 506.6 L1223.3 506.7 L1224.8 506.7 L1226.4 506.8 L1227.9 506.8 L1229.5 506.9 L1231.0 506.9 L1232.6 506.9 L1234.1 507.0 L1235.7 507.0 L1237.2 507.0 L1238.8 507.0 L1240.3 507.0 L1241.9 507.0 L1243.4 507.0 L1245.0 507.0 L1246.5 507.0 L1248.1 507.0 L1249.7 507.0 L1251.2 507.0 L1252.8 507.0 L1254.3 507.0 L1255.9 507.0 L1257.4 506.9 L1259.0 506.9 L1260.5 506.9 L1262.1 506.9 L1263.6 506.8 L1265.2 506.8 L1266.7 506.8 L1268.3 506.8 L1269.8 506.7 L1271.4 506.7 L1272.9 506.7 L1274.5 506.6 L1276.0 506.6 L1277.6 506.5 L1279.2 506.5 L1280.7 506.4 L1282.3 506.3 L1283.8 506.2 L1285.4 506.1 L1286.9 506.0 L1288.5 505.9 L1290.0 505.8 L1291.6 505.6 L1293.1 505.5 L1294.7 505.4 L1296.2 505.2 L1297.8 505.1 L1299.3 505.0 L1300.9 504.9 L1302.4 504.7 L1304.0 504.6 L1305.6 504.5 L1307.1 504.4 L1308.7 504.3 L1310.2 504.2 L1311.8 504.1 L1313.3 504.0 L1314.9 504.0 L1316.4 503.9 L1318.0 503.8 L1319.5 503.7 L1321.1 503.6 L1322.6 503.6 L1324.2 503.5 L1325.7 503.4 L1327.3 503.3 L1328.8 503.2 L1330.4 503.1 L1331.9 503.0 L1333.5 502.9 L1335.1 502.8 L1336.6 502.6 L1338.2 502.5 L1339.7 502.4 L1341.3 502.2 L1342.8 502.0 L1344.4 501.7 L1345.9 501.5 L1347.5 501.2 L1349.0 500.9 L1350.6 500.6 L1352.1 500.2 L1353.7 499.9 L1355.2 499.5 L1356.8 499.1 L1358.3 498.6 L1359.9 498.2 L1361.5 497.7 L1363.0 497.1 L1364.6 496.5 L1366.1 495.8 L1367.7 495.0 L1369.2 494.1 L1370.8 493.2 L1372.3 492.2 L1373.9 491.1 L1375.4 489.9 L1377.0 488.6 L1378.5 487.2 L1380.1 485.6 L1381.6 483.9 L1383.2 482.0 L1384.7 480.0 L1386.3 477.1 L1387.8 473.9 L1389.4 470.7 L1391.0 468.0 L1392.5 466.3 L1394.1 465.3 L1395.6 464.4 L1397.2 463.7 L1398.7 463.5 L1400.3 465.5 L1401.8 469.4 L1403.4 471.3 L1404.9 468.6 L1406.5 462.3 L1408.0 453.7 L1409.6 443.9 L1411.1 429.9 L1412.7 411.5 L1414.2 394.0 L1415.8 376.5 L1417.3 360.8 L1418.9 350.2 L1420.5 341.9 L1422.0 336.6 L1422.8 513.0 L1455.8 513.0" fill="none" stroke="#ea5f5a" stroke-width="1.15" stroke-linejoin="round"/>
<path d="M1131.6 513.0 L1158.8 513.0 L1159.6 481.0 L1161.1 485.6 L1162.7 489.7 L1164.3 493.2 L1165.8 495.6 L1167.4 497.1 L1168.9 498.5 L1170.5 499.7 L1172.0 500.6 L1173.6 501.2 L1175.1 501.3 L1176.7 501.1 L1178.2 500.6 L1179.8 500.0 L1181.4 499.4 L1182.9 499.1 L1184.5 499.2 L1186.0 499.4 L1187.6 499.7 L1189.1 500.2 L1190.7 500.7 L1192.2 501.3 L1193.8 501.8 L1195.3 502.4 L1196.9 502.8 L1198.4 503.2 L1200.0 503.5 L1201.6 503.6 L1203.1 503.7 L1204.7 503.8 L1206.2 503.9 L1207.8 504.0 L1209.3 504.1 L1210.9 504.1 L1212.4 504.2 L1214.0 504.3 L1215.5 504.3 L1217.1 504.4 L1218.7 504.4 L1220.2 504.4 L1221.8 504.4 L1223.3 504.4 L1224.9 504.3 L1226.4 504.3 L1228.0 504.2 L1229.5 504.1 L1231.1 504.0 L1232.6 503.9 L1234.2 503.8 L1235.8 503.7 L1237.3 503.5 L1238.9 503.4 L1240.4 503.3 L1242.0 503.2 L1243.5 503.0 L1245.1 502.9 L1246.6 502.8 L1248.2 502.7 L1249.7 502.6 L1251.3 502.5 L1252.9 502.4 L1254.4 502.2 L1256.0 502.1 L1257.5 502.0 L1259.1 501.8 L1260.6 501.7 L1262.2 501.5 L1263.7 501.4 L1265.3 501.2 L1266.8 501.0 L1268.4 500.9 L1269.9 500.7 L1271.5 500.5 L1273.1 500.3 L1274.6 500.0 L1276.2 499.8 L1277.7 499.5 L1279.3 499.1 L1280.8 498.7 L1282.4 498.1 L1283.9 497.3 L1285.5 496.6 L1287.0 495.8 L1288.6 495.3 L1290.2 494.9 L1291.7 494.7 L1293.3 494.5 L1294.8 494.4 L1296.4 494.3 L1297.9 494.2 L1299.5 494.0 L1301.0 493.8 L1302.6 493.5 L1304.1 493.1 L1305.7 492.6 L1307.3 492.0 L1308.8 491.4 L1310.4 490.7 L1311.9 490.0 L1313.5 489.3 L1315.0 488.6 L1316.6 487.9 L1318.1 487.3 L1319.7 486.6 L1321.2 485.9 L1322.8 485.2 L1324.3 484.5 L1325.9 483.8 L1327.5 483.1 L1329.0 482.4 L1330.6 481.7 L1332.1 481.0 L1333.7 480.3 L1335.2 479.6 L1336.8 478.9 L1338.3 478.3 L1339.9 477.6 L1341.4 477.0 L1343.0 476.3 L1344.6 475.6 L1346.1 474.9 L1347.7 474.3 L1349.2 473.6 L1350.8 473.0 L1352.3 472.5 L1353.9 472.1 L1355.4 471.7 L1357.0 471.4 L1358.5 471.2 L1360.1 470.9 L1361.7 470.7 L1363.2 470.5 L1364.8 470.3 L1366.3 470.2 L1367.9 470.1 L1369.4 470.0 L1371.0 470.0 L1372.5 470.0 L1374.1 470.1 L1375.6 470.2 L1377.2 470.4 L1378.8 470.5 L1380.3 470.7 L1381.9 470.9 L1383.4 471.1 L1385.0 471.4 L1386.5 471.6 L1388.1 472.0 L1389.6 472.6 L1391.2 473.3 L1392.7 474.2 L1394.3 475.1 L1395.8 476.2 L1397.4 477.5 L1399.0 479.5 L1400.5 482.0 L1402.1 484.7 L1403.6 487.3 L1405.2 489.4 L1406.7 491.1 L1408.3 492.8 L1409.8 494.2 L1411.4 494.9 L1412.9 494.5 L1414.5 492.8 L1416.1 490.5 L1417.6 488.1 L1419.2 485.7 L1420.7 483.0 L1422.3 479.9 L1422.8 513.0 L1450.0 513.0" fill="none" stroke="#22ab3c" stroke-width="1.15" stroke-linejoin="round"/>
<path d="M1131.6 513.0 L1158.8 513.0 L1159.6 483.2 L1161.1 487.2 L1162.7 490.8 L1164.3 493.8 L1165.8 496.0 L1167.4 497.4 L1168.9 498.8 L1170.5 499.9 L1172.0 500.8 L1173.6 501.4 L1175.1 501.5 L1176.7 501.3 L1178.2 500.8 L1179.8 500.2 L1181.4 499.7 L1182.9 499.4 L1184.5 499.4 L1186.0 499.6 L1187.6 500.0 L1189.1 500.4 L1190.7 500.9 L1192.2 501.5 L1193.8 502.1 L1195.3 502.6 L1196.9 503.1 L1198.4 503.4 L1200.0 503.7 L1201.6 503.8 L1203.1 503.9 L1204.7 504.0 L1206.2 504.1 L1207.8 504.2 L1209.3 504.3 L1210.9 504.3 L1212.4 504.4 L1214.0 504.4 L1215.5 504.5 L1217.1 504.5 L1218.7 504.6 L1220.2 504.6 L1221.8 504.6 L1223.3 504.6 L1224.9 504.5 L1226.4 504.5 L1228.0 504.4 L1229.5 504.3 L1231.1 504.2 L1232.6 504.1 L1234.2 504.0 L1235.8 503.8 L1237.3 503.7 L1238.9 503.6 L1240.4 503.5 L1242.0 503.4 L1243.5 503.2 L1245.1 503.1 L1246.6 503.0 L1248.2 502.9 L1249.7 502.8 L1251.3 502.7 L1252.9 502.6 L1254.4 502.5 L1256.0 502.3 L1257.5 502.2 L1259.1 502.1 L1260.6 501.9 L1262.2 501.8 L1263.7 501.6 L1265.3 501.5 L1266.8 501.3 L1268.4 501.1 L1269.9 500.9 L1271.5 500.7 L1273.1 500.5 L1274.6 500.3 L1276.2 500.0 L1277.7 499.7 L1279.3 499.4 L1280.8 499.0 L1282.4 498.4 L1283.9 497.6 L1285.5 496.9 L1287.0 496.2 L1288.6 495.6 L1290.2 495.3 L1291.7 495.1 L1293.3 494.9 L1294.8 494.8 L1296.4 494.7 L1297.9 494.5 L1299.5 494.4 L1301.0 494.2 L1302.6 493.9 L1304.1 493.5 L1305.7 493.0 L1307.3 492.4 L1308.8 491.8 L1310.4 491.1 L1311.9 490.4 L1313.5 489.8 L1315.0 489.1 L1316.6 488.4 L1318.1 487.8 L1319.7 487.1 L1321.2 486.5 L1322.8 485.8 L1324.3 485.1 L1325.9 484.4 L1327.5 483.7 L1329.0 483.0 L1330.6 482.3 L1332.1 481.6 L1333.7 480.9 L1335.2 480.2 L1336.8 479.6 L1338.3 479.0 L1339.9 478.3 L1341.4 477.7 L1343.0 477.0 L1344.6 476.3 L1346.1 475.7 L1347.7 475.0 L1349.2 474.4 L1350.8 473.8 L1352.3 473.3 L1353.9 472.9 L1355.4 472.5 L1357.0 472.3 L1358.5 472.0 L1360.1 471.8 L1361.7 471.5 L1363.2 471.3 L1364.8 471.1 L1366.3 471.0 L1367.9 470.9 L1369.4 470.9 L1371.0 470.9 L1372.5 470.9 L1374.1 471.0 L1375.6 471.1 L1377.2 471.2 L1378.8 471.4 L1380.3 471.5 L1381.9 471.7 L1383.4 472.0 L1385.0 472.2 L1386.5 472.5 L1388.1 472.8 L1389.6 473.4 L1391.2 474.1 L1392.7 474.9 L1394.3 475.9 L1395.8 477.0 L1397.4 478.2 L1399.0 480.2 L1400.5 482.7 L1402.1 485.3 L1403.6 487.8 L1405.2 489.9 L1406.7 491.6 L1408.3 493.2 L1409.8 494.6 L1411.4 495.3 L1412.9 494.8 L1414.5 493.0 L1416.1 490.7 L1417.6 488.5 L1419.2 486.7 L1420.7 484.9 L1422.3 483.2 L1422.8 513.0 L1450.0 513.0" fill="none" stroke="#22ab3c" stroke-width="1.15" stroke-linejoin="round"/>
<path d="M1131.6 513.0 L1158.8 513.0 L1159.6 482.1 L1161.1 486.2 L1162.7 489.9 L1164.3 493.0 L1165.8 495.3 L1167.4 496.8 L1168.9 498.2 L1170.5 499.4 L1172.0 500.3 L1173.6 500.9 L1175.1 501.1 L1176.7 500.8 L1178.2 500.3 L1179.8 499.7 L1181.4 499.1 L1182.9 498.8 L1184.5 498.9 L1186.0 499.1 L1187.6 499.5 L1189.1 499.9 L1190.7 500.5 L1192.2 501.0 L1193.8 501.6 L1195.3 502.2 L1196.9 502.6 L1198.4 503.0 L1200.0 503.3 L1201.6 503.4 L1203.1 503.5 L1204.7 503.6 L1206.2 503.7 L1207.8 503.8 L1209.3 503.9 L1210.9 504.0 L1212.4 504.0 L1214.0 504.1 L1215.5 504.1 L1217.1 504.2 L1218.7 504.2 L1220.2 504.2 L1221.8 504.2 L1223.3 504.2 L1224.9 504.2 L1226.4 504.1 L1228.0 504.0 L1229.5 503.9 L1231.1 503.8 L1232.6 503.7 L1234.2 503.6 L1235.8 503.5 L1237.3 503.3 L1238.9 503.2 L1240.4 503.1 L1242.0 503.0 L1243.5 502.8 L1245.1 502.7 L1246.6 502.6 L1248.2 502.5 L1249.7 502.4 L1251.3 502.3 L1252.9 502.1 L1254.4 502.0 L1256.0 501.9 L1257.5 501.8 L1259.1 501.6 L1260.6 501.5 L1262.2 501.3 L1263.7 501.2 L1265.3 501.0 L1266.8 500.8 L1268.4 500.6 L1269.9 500.4 L1271.5 500.2 L1273.1 500.0 L1274.6 499.8 L1276.2 499.5 L1277.7 499.2 L1279.3 498.9 L1280.8 498.4 L1282.4 497.8 L1283.9 497.0 L1285.5 496.2 L1287.0 495.5 L1288.6 494.9 L1290.2 494.5 L1291.7 494.3 L1293.3 494.2 L1294.8 494.0 L1296.4 493.9 L1297.9 493.8 L1299.5 493.6 L1301.0 493.4 L1302.6 493.1 L1304.1 492.7 L1305.7 492.1 L1307.3 491.6 L1308.8 490.9 L1310.4 490.2 L1311.9 489.5 L1313.5 488.8 L1315.0 488.1 L1316.6 487.4 L1318.1 486.7 L1319.7 486.1 L1321.2 485.4 L1322.8 484.7 L1324.3 484.0 L1325.9 483.2 L1327.5 482.5 L1329.0 481.8 L1330.6 481.1 L1332.1 480.3 L1333.7 479.6 L1335.2 478.9 L1336.8 478.2 L1338.3 477.6 L1339.9 476.9 L1341.4 476.2 L1343.0 475.5 L1344.6 474.8 L1346.1 474.2 L1347.7 473.5 L1349.2 472.8 L1350.8 472.2 L1352.3 471.7 L1353.9 471.2 L1355.4 470.9 L1357.0 470.6 L1358.5 470.3 L1360.1 470.1 L1361.7 469.8 L1363.2 469.6 L1364.8 469.4 L1366.3 469.3 L1367.9 469.2 L1369.4 469.1 L1371.0 469.1 L1372.5 469.2 L1374.1 469.3 L1375.6 469.4 L1377.2 469.5 L1378.8 469.7 L1380.3 469.8 L1381.9 470.1 L1383.4 470.3 L1385.0 470.5 L1386.5 470.8 L1388.1 471.2 L1389.6 471.8 L1391.2 472.5 L1392.7 473.4 L1394.3 474.4 L1395.8 475.5 L1397.4 476.8 L1399.0 478.8 L1400.5 481.4 L1402.1 484.2 L1403.6 486.8 L1405.2 488.9 L1406.7 490.7 L1408.3 492.4 L1409.8 493.8 L1411.4 494.5 L1412.9 494.0 L1414.5 492.3 L1416.1 489.8 L1417.6 487.5 L1419.2 485.5 L1420.7 483.6 L1422.3 481.7 L1422.8 513.0 L1450.0 513.0" fill="none" stroke="#22ab3c" stroke-width="1.15" stroke-linejoin="round"/>
<path d="M1133.7 513.0 L1158.8 513.0 L1159.6 469.3 L1161.1 475.4 L1162.7 480.9 L1164.3 485.4 L1165.8 488.9 L1167.4 492.1 L1168.9 495.0 L1170.5 496.8 L1172.0 497.1 L1173.6 496.9 L1175.1 496.5 L1176.7 496.1 L1178.2 495.6 L1179.8 495.2 L1181.4 495.0 L1182.9 494.9 L1184.5 495.1 L1186.0 495.4 L1187.6 495.8 L1189.1 496.2 L1190.7 496.6 L1192.2 496.9 L1193.8 497.1 L1195.3 497.2 L1196.9 497.4 L1198.4 497.5 L1200.0 497.6 L1201.6 497.7 L1203.1 497.8 L1204.7 497.9 L1206.2 497.9 L1207.8 498.0 L1209.3 498.0 L1210.9 498.0 L1212.4 498.0 L1214.0 497.9 L1215.5 497.9 L1217.1 497.8 L1218.7 497.7 L1220.2 497.5 L1221.8 497.4 L1223.3 497.2 L1224.9 497.0 L1226.4 496.8 L1228.0 496.6 L1229.5 496.4 L1231.1 496.2 L1232.6 496.0 L1234.2 495.8 L1235.8 495.5 L1237.3 495.2 L1238.9 494.9 L1240.4 494.5 L1242.0 494.2 L1243.5 493.8 L1245.1 493.4 L1246.6 493.0 L1248.2 492.7 L1249.7 492.4 L1251.3 492.0 L1252.9 491.8 L1254.4 491.5 L1256.0 491.3 L1257.5 491.0 L1259.1 490.8 L1260.6 490.5 L1262.2 490.3 L1263.7 490.1 L1265.3 489.9 L1266.8 489.8 L1268.4 489.7 L1269.9 489.6 L1271.5 489.6 L1273.1 489.6 L1274.6 489.6 L1276.2 489.6 L1277.7 489.6 L1279.3 489.6 L1280.8 489.6 L1282.4 489.5 L1283.9 488.7 L1285.5 487.4 L1287.0 486.0 L1288.6 484.7 L1290.2 483.8 L1291.7 483.7 L1293.3 484.2 L1294.8 484.9 L1296.4 485.8 L1297.9 486.6 L1299.5 487.2 L1301.0 487.4 L1302.6 487.2 L1304.1 486.8 L1305.7 486.1 L1307.3 485.4 L1308.8 484.6 L1310.4 484.0 L1311.9 483.5 L1313.5 483.2 L1315.0 483.1 L1316.6 483.1 L1318.1 483.0 L1319.7 482.9 L1321.2 482.8 L1322.8 482.8 L1324.3 482.7 L1325.9 482.7 L1327.5 482.7 L1329.0 482.6 L1330.6 482.6 L1332.1 482.6 L1333.7 482.6 L1335.2 482.6 L1336.8 482.6 L1338.3 482.6 L1339.9 482.6 L1341.4 482.6 L1343.0 482.7 L1344.6 482.7 L1346.1 482.8 L1347.7 482.8 L1349.2 482.9 L1350.8 483.0 L1352.3 483.0 L1353.9 483.1 L1355.4 483.2 L1357.0 483.3 L1358.5 483.4 L1360.1 483.6 L1361.7 483.9 L1363.2 484.1 L1364.8 484.4 L1366.3 484.8 L1367.9 485.1 L1369.4 485.5 L1371.0 485.8 L1372.5 486.2 L1374.1 486.5 L1375.6 486.8 L1377.2 487.2 L1378.8 487.5 L1380.3 487.8 L1381.9 488.2 L1383.4 488.6 L1385.0 489.0 L1386.5 489.4 L1388.1 489.9 L1389.6 490.5 L1391.2 491.1 L1392.7 491.9 L1394.3 492.9 L1395.8 494.0 L1397.4 495.2 L1399.0 496.4 L1400.5 497.7 L1402.1 499.1 L1403.6 500.9 L1405.2 502.6 L1406.7 504.0 L1408.3 504.7 L1409.8 505.2 L1411.4 505.5 L1412.9 505.0 L1414.5 503.1 L1416.1 500.5 L1417.6 497.8 L1419.2 495.3 L1420.7 492.6 L1422.3 489.6 L1422.8 513.0 L1447.9 513.0" fill="none" stroke="#4b8df0" stroke-width="1.15" stroke-linejoin="round"/>
<path d="M1133.7 513.0 L1158.8 513.0 L1159.6 472.2 L1161.1 477.4 L1162.7 482.1 L1164.3 486.0 L1165.8 489.3 L1167.4 492.5 L1168.9 495.3 L1170.5 497.1 L1172.0 497.4 L1173.6 497.2 L1175.1 496.9 L1176.7 496.4 L1178.2 496.0 L1179.8 495.6 L1181.4 495.3 L1182.9 495.3 L1184.5 495.5 L1186.0 495.7 L1187.6 496.1 L1189.1 496.5 L1190.7 496.9 L1192.2 497.2 L1193.8 497.4 L1195.3 497.6 L1196.9 497.7 L1198.4 497.8 L1200.0 497.9 L1201.6 498.0 L1203.1 498.1 L1204.7 498.2 L1206.2 498.2 L1207.8 498.3 L1209.3 498.3 L1210.9 498.3 L1212.4 498.3 L1214.0 498.3 L1215.5 498.2 L1217.1 498.1 L1218.7 498.0 L1220.2 497.8 L1221.8 497.7 L1223.3 497.5 L1224.9 497.3 L1226.4 497.1 L1228.0 496.9 L1229.5 496.7 L1231.1 496.5 L1232.6 496.3 L1234.2 496.1 L1235.8 495.9 L1237.3 495.6 L1238.9 495.2 L1240.4 494.9 L1242.0 494.5 L1243.5 494.2 L1245.1 493.8 L1246.6 493.4 L1248.2 493.1 L1249.7 492.8 L1251.3 492.5 L1252.9 492.2 L1254.4 492.0 L1256.0 491.7 L1257.5 491.5 L1259.1 491.2 L1260.6 491.0 L1262.2 490.8 L1263.7 490.6 L1265.3 490.4 L1266.8 490.3 L1268.4 490.2 L1269.9 490.1 L1271.5 490.1 L1273.1 490.1 L1274.6 490.1 L1276.2 490.1 L1277.7 490.1 L1279.3 490.1 L1280.8 490.1 L1282.4 490.0 L1283.9 489.2 L1285.5 487.9 L1287.0 486.5 L1288.6 485.2 L1290.2 484.4 L1291.7 484.3 L1293.3 484.7 L1294.8 485.5 L1296.4 486.3 L1297.9 487.2 L1299.5 487.7 L1301.0 487.9 L1302.6 487.7 L1304.1 487.3 L1305.7 486.7 L1307.3 485.9 L1308.8 485.2 L1310.4 484.6 L1311.9 484.1 L1313.5 483.8 L1315.0 483.7 L1316.6 483.7 L1318.1 483.6 L1319.7 483.5 L1321.2 483.4 L1322.8 483.4 L1324.3 483.3 L1325.9 483.3 L1327.5 483.3 L1329.0 483.2 L1330.6 483.2 L1332.1 483.2 L1333.7 483.2 L1335.2 483.2 L1336.8 483.2 L1338.3 483.2 L1339.9 483.2 L1341.4 483.3 L1343.0 483.3 L1344.6 483.3 L1346.1 483.4 L1347.7 483.4 L1349.2 483.5 L1350.8 483.6 L1352.3 483.6 L1353.9 483.7 L1355.4 483.8 L1357.0 483.9 L1358.5 484.0 L1360.1 484.2 L1361.7 484.4 L1363.2 484.7 L1364.8 485.0 L1366.3 485.3 L1367.9 485.7 L1369.4 486.0 L1371.0 486.4 L1372.5 486.7 L1374.1 487.0 L1375.6 487.4 L1377.2 487.7 L1378.8 488.0 L1380.3 488.3 L1381.9 488.7 L1383.4 489.1 L1385.0 489.5 L1386.5 489.9 L1388.1 490.4 L1389.6 490.9 L1391.2 491.5 L1392.7 492.3 L1394.3 493.3 L1395.8 494.4 L1397.4 495.5 L1399.0 496.7 L1400.5 497.8 L1402.1 498.9 L1403.6 500.2 L1405.2 501.4 L1406.7 502.4 L1408.3 503.1 L1409.8 503.7 L1411.4 504.1 L1412.9 503.6 L1414.5 501.8 L1416.1 499.5 L1417.6 497.6 L1419.2 496.3 L1420.7 495.2 L1422.3 494.3 L1422.8 513.0 L1447.9 513.0" fill="none" stroke="#4b8df0" stroke-width="1.15" stroke-linejoin="round"/>
<path d="M1133.7 513.0 L1158.8 513.0 L1159.6 471.1 L1161.1 476.3 L1162.7 481.0 L1164.3 485.0 L1165.8 488.3 L1167.4 491.6 L1168.9 494.5 L1170.5 496.4 L1172.0 496.8 L1173.6 496.6 L1175.1 496.2 L1176.7 495.7 L1178.2 495.3 L1179.8 494.9 L1181.4 494.6 L1182.9 494.6 L1184.5 494.7 L1186.0 495.0 L1187.6 495.4 L1189.1 495.8 L1190.7 496.2 L1192.2 496.6 L1193.8 496.8 L1195.3 496.9 L1196.9 497.1 L1198.4 497.2 L1200.0 497.3 L1201.6 497.4 L1203.1 497.5 L1204.7 497.6 L1206.2 497.6 L1207.8 497.7 L1209.3 497.7 L1210.9 497.7 L1212.4 497.7 L1214.0 497.6 L1215.5 497.6 L1217.1 497.5 L1218.7 497.3 L1220.2 497.2 L1221.8 497.0 L1223.3 496.9 L1224.9 496.7 L1226.4 496.5 L1228.0 496.3 L1229.5 496.1 L1231.1 495.9 L1232.6 495.7 L1234.2 495.4 L1235.8 495.2 L1237.3 494.8 L1238.9 494.5 L1240.4 494.1 L1242.0 493.8 L1243.5 493.4 L1245.1 493.0 L1246.6 492.6 L1248.2 492.3 L1249.7 491.9 L1251.3 491.6 L1252.9 491.3 L1254.4 491.1 L1256.0 490.9 L1257.5 490.6 L1259.1 490.3 L1260.6 490.1 L1262.2 489.9 L1263.7 489.7 L1265.3 489.5 L1266.8 489.3 L1268.4 489.2 L1269.9 489.2 L1271.5 489.2 L1273.1 489.2 L1274.6 489.2 L1276.2 489.2 L1277.7 489.2 L1279.3 489.2 L1280.8 489.2 L1282.4 489.0 L1283.9 488.2 L1285.5 486.9 L1287.0 485.4 L1288.6 484.1 L1290.2 483.2 L1291.7 483.1 L1293.3 483.6 L1294.8 484.3 L1296.4 485.2 L1297.9 486.1 L1299.5 486.7 L1301.0 486.9 L1302.6 486.7 L1304.1 486.2 L1305.7 485.6 L1307.3 484.8 L1308.8 484.1 L1310.4 483.4 L1311.9 482.9 L1313.5 482.6 L1315.0 482.5 L1316.6 482.5 L1318.1 482.4 L1319.7 482.3 L1321.2 482.2 L1322.8 482.2 L1324.3 482.1 L1325.9 482.1 L1327.5 482.0 L1329.0 482.0 L1330.6 482.0 L1332.1 482.0 L1333.7 482.0 L1335.2 482.0 L1336.8 482.0 L1338.3 482.0 L1339.9 482.0 L1341.4 482.0 L1343.0 482.1 L1344.6 482.1 L1346.1 482.2 L1347.7 482.2 L1349.2 482.3 L1350.8 482.4 L1352.3 482.4 L1353.9 482.5 L1355.4 482.6 L1357.0 482.7 L1358.5 482.8 L1360.1 483.0 L1361.7 483.3 L1363.2 483.6 L1364.8 483.9 L1366.3 484.2 L1367.9 484.6 L1369.4 484.9 L1371.0 485.3 L1372.5 485.6 L1374.1 486.0 L1375.6 486.3 L1377.2 486.6 L1378.8 487.0 L1380.3 487.3 L1381.9 487.7 L1383.4 488.1 L1385.0 488.5 L1386.5 488.9 L1388.1 489.5 L1389.6 490.0 L1391.2 490.7 L1392.7 491.5 L1394.3 492.5 L1395.8 493.6 L1397.4 494.8 L1399.0 496.1 L1400.5 497.4 L1402.1 498.8 L1403.6 500.6 L1405.2 502.4 L1406.7 503.8 L1408.3 504.5 L1409.8 505.1 L1411.4 505.3 L1412.9 504.5 L1414.5 501.8 L1416.1 498.8 L1417.6 496.9 L1419.2 496.8 L1420.7 497.0 L1422.3 497.6 L1422.8 513.0 L1447.9 513.0" fill="none" stroke="#4b8df0" stroke-width="1.15" stroke-linejoin="round"/>
<line x1="1113.5" y1="306.6" x2="1469.5" y2="306.6" stroke="#c2c2c2" stroke-width="1.2" />
<path d="M1113.5 306.0 V522.5 H1469.5 V306.0" fill="none" stroke="#2a2a2a" stroke-width="1.7"/>
<rect x="1541.5" y="84.0" width="356.8" height="216.5" fill="#fff"/>
<line x1="1541.5" y1="264.4" x2="1898.3" y2="264.4" stroke="#f0f0f0" stroke-width="1" />
<line x1="1541.5" y1="212.1" x2="1898.3" y2="212.1" stroke="#f0f0f0" stroke-width="1" />
<line x1="1541.5" y1="159.8" x2="1898.3" y2="159.8" stroke="#f0f0f0" stroke-width="1" />
<line x1="1541.5" y1="107.5" x2="1898.3" y2="107.5" stroke="#f0f0f0" stroke-width="1" />
<line x1="1640.1" y1="84.0" x2="1640.1" y2="300.5" stroke="#f0f0f0" stroke-width="1" />
<line x1="1746.3" y1="84.0" x2="1746.3" y2="300.5" stroke="#f0f0f0" stroke-width="1" />
<line x1="1852.5" y1="84.0" x2="1852.5" y2="300.5" stroke="#f0f0f0" stroke-width="1" />
<line x1="1541.5" y1="290.5" x2="1898.3" y2="290.5" stroke="#e5e5e5" stroke-width="1.35" />
<line x1="1538.0" y1="290.5" x2="1541.5" y2="290.5" stroke="#333" stroke-width="1.3" />
<line x1="1541.5" y1="238.2" x2="1898.3" y2="238.2" stroke="#e5e5e5" stroke-width="1.35" />
<line x1="1538.0" y1="238.2" x2="1541.5" y2="238.2" stroke="#333" stroke-width="1.3" />
<line x1="1541.5" y1="185.9" x2="1898.3" y2="185.9" stroke="#e5e5e5" stroke-width="1.35" />
<line x1="1538.0" y1="185.9" x2="1541.5" y2="185.9" stroke="#333" stroke-width="1.3" />
<line x1="1541.5" y1="133.6" x2="1898.3" y2="133.6" stroke="#e5e5e5" stroke-width="1.35" />
<line x1="1538.0" y1="133.6" x2="1541.5" y2="133.6" stroke="#333" stroke-width="1.3" />
<line x1="1587.0" y1="84.0" x2="1587.0" y2="300.5" stroke="#e5e5e5" stroke-width="1.35" />
<line x1="1693.2" y1="84.0" x2="1693.2" y2="300.5" stroke="#e5e5e5" stroke-width="1.35" />
<line x1="1799.4" y1="84.0" x2="1799.4" y2="300.5" stroke="#e5e5e5" stroke-width="1.35" />
<path d="M1553.8 290.5 L1587.0 290.5 L1587.8 265.2 L1589.4 266.5 L1590.9 267.9 L1592.5 269.2 L1594.0 270.4 L1595.6 271.6 L1597.2 272.8 L1598.7 274.0 L1600.3 275.2 L1601.9 276.4 L1603.4 277.6 L1605.0 278.7 L1606.6 279.7 L1608.1 280.5 L1609.7 281.2 L1611.2 281.7 L1612.8 282.1 L1614.4 282.6 L1615.9 283.0 L1617.5 283.3 L1619.1 283.7 L1620.6 284.0 L1622.2 284.3 L1623.7 284.6 L1625.3 284.8 L1626.9 285.0 L1628.4 285.2 L1630.0 285.4 L1631.6 285.5 L1633.1 285.6 L1634.7 285.7 L1636.3 285.8 L1637.8 285.9 L1639.4 286.0 L1640.9 286.1 L1642.5 286.2 L1644.1 286.2 L1645.6 286.3 L1647.2 286.4 L1648.8 286.4 L1650.3 286.5 L1651.9 286.6 L1653.4 286.6 L1655.0 286.6 L1656.6 286.7 L1658.1 286.7 L1659.7 286.7 L1661.3 286.7 L1662.8 286.7 L1664.4 286.7 L1666.0 286.7 L1667.5 286.7 L1669.1 286.7 L1670.6 286.6 L1672.2 286.6 L1673.8 286.5 L1675.3 286.4 L1676.9 286.4 L1678.5 286.3 L1680.0 286.2 L1681.6 286.1 L1683.1 286.0 L1684.7 286.0 L1686.3 285.9 L1687.8 285.8 L1689.4 285.7 L1691.0 285.6 L1692.5 285.6 L1694.1 285.5 L1695.7 285.5 L1697.2 285.4 L1698.8 285.4 L1700.3 285.3 L1701.9 285.3 L1703.5 285.2 L1705.0 285.2 L1706.6 285.1 L1708.2 285.1 L1709.7 285.0 L1711.3 285.0 L1712.8 284.9 L1714.4 284.9 L1716.0 284.8 L1717.5 284.8 L1719.1 284.7 L1720.7 284.7 L1722.2 284.6 L1723.8 284.6 L1725.4 284.5 L1726.9 284.4 L1728.5 284.4 L1730.0 284.3 L1731.6 284.2 L1733.2 284.1 L1734.7 284.1 L1736.3 284.0 L1737.9 283.9 L1739.4 283.8 L1741.0 283.7 L1742.5 283.6 L1744.1 283.5 L1745.7 283.4 L1747.2 283.3 L1748.8 283.2 L1750.4 283.1 L1751.9 282.9 L1753.5 282.8 L1755.1 282.7 L1756.6 282.5 L1758.2 282.4 L1759.7 282.3 L1761.3 282.1 L1762.9 281.9 L1764.4 281.8 L1766.0 281.6 L1767.6 281.4 L1769.1 281.2 L1770.7 281.0 L1772.2 280.7 L1773.8 280.5 L1775.4 280.2 L1776.9 279.9 L1778.5 279.6 L1780.1 279.3 L1781.6 278.9 L1783.2 278.4 L1784.8 277.8 L1786.3 277.2 L1787.9 276.5 L1789.4 275.7 L1791.0 274.9 L1792.6 274.0 L1794.1 273.0 L1795.7 272.1 L1797.3 271.0 L1798.8 270.0 L1800.4 268.9 L1801.9 267.6 L1803.5 266.2 L1805.1 264.7 L1806.6 263.0 L1808.2 261.3 L1809.8 259.5 L1811.3 257.6 L1812.9 255.6 L1814.5 253.3 L1816.0 250.7 L1817.6 248.1 L1819.1 245.7 L1820.7 243.8 L1822.3 242.0 L1823.8 240.3 L1825.4 239.0 L1827.0 238.4 L1828.5 238.7 L1830.1 239.3 L1831.6 240.2 L1833.2 241.0 L1834.8 241.5 L1836.3 240.3 L1837.9 233.2 L1839.5 224.0 L1841.0 211.0 L1842.6 195.7 L1844.2 180.3 L1845.7 165.3 L1847.3 149.4 L1848.8 132.1 L1850.4 113.1 L1852.0 92.6 L1852.5 290.5 L1885.7 290.5" fill="none" stroke="#ea5f5a" stroke-width="1.15" stroke-linejoin="round"/>
<path d="M1553.8 290.5 L1587.0 290.5 L1587.8 265.4 L1589.4 266.8 L1590.9 268.1 L1592.5 269.4 L1594.0 270.6 L1595.6 271.8 L1597.2 273.0 L1598.7 274.1 L1600.3 275.3 L1601.9 276.5 L1603.4 277.7 L1605.0 278.8 L1606.6 279.8 L1608.1 280.6 L1609.7 281.2 L1611.2 281.7 L1612.8 282.2 L1614.4 282.6 L1615.9 283.0 L1617.5 283.4 L1619.1 283.8 L1620.6 284.1 L1622.2 284.4 L1623.7 284.7 L1625.3 284.9 L1626.9 285.1 L1628.4 285.3 L1630.0 285.4 L1631.6 285.5 L1633.1 285.6 L1634.7 285.8 L1636.3 285.8 L1637.8 285.9 L1639.4 286.0 L1640.9 286.1 L1642.5 286.2 L1644.1 286.3 L1645.6 286.4 L1647.2 286.4 L1648.8 286.5 L1650.3 286.5 L1651.9 286.6 L1653.4 286.6 L1655.0 286.7 L1656.6 286.7 L1658.1 286.7 L1659.7 286.8 L1661.3 286.8 L1662.8 286.8 L1664.4 286.8 L1666.0 286.8 L1667.5 286.7 L1669.1 286.7 L1670.6 286.6 L1672.2 286.6 L1673.8 286.5 L1675.3 286.5 L1676.9 286.4 L1678.5 286.3 L1680.0 286.2 L1681.6 286.2 L1683.1 286.1 L1684.7 286.0 L1686.3 285.9 L1687.8 285.8 L1689.4 285.8 L1691.0 285.7 L1692.5 285.6 L1694.1 285.6 L1695.7 285.5 L1697.2 285.5 L1698.8 285.4 L1700.3 285.4 L1701.9 285.3 L1703.5 285.3 L1705.0 285.2 L1706.6 285.2 L1708.2 285.1 L1709.7 285.1 L1711.3 285.0 L1712.8 285.0 L1714.4 284.9 L1716.0 284.9 L1717.5 284.8 L1719.1 284.8 L1720.7 284.7 L1722.2 284.7 L1723.8 284.6 L1725.4 284.6 L1726.9 284.5 L1728.5 284.4 L1730.0 284.4 L1731.6 284.3 L1733.2 284.2 L1734.7 284.1 L1736.3 284.0 L1737.9 284.0 L1739.4 283.9 L1741.0 283.8 L1742.5 283.7 L1744.1 283.6 L1745.7 283.5 L1747.2 283.4 L1748.8 283.2 L1750.4 283.1 L1751.9 283.0 L1753.5 282.9 L1755.1 282.8 L1756.6 282.6 L1758.2 282.5 L1759.7 282.3 L1761.3 282.2 L1762.9 282.0 L1764.4 281.9 L1766.0 281.7 L1767.6 281.5 L1769.1 281.3 L1770.7 281.1 L1772.2 280.8 L1773.8 280.6 L1775.4 280.3 L1776.9 280.0 L1778.5 279.7 L1780.1 279.4 L1781.6 279.0 L1783.2 278.5 L1784.8 277.9 L1786.3 277.3 L1787.9 276.6 L1789.4 275.8 L1791.0 275.0 L1792.6 274.1 L1794.1 273.2 L1795.7 272.2 L1797.3 271.2 L1798.8 270.2 L1800.4 269.1 L1801.9 267.8 L1803.5 266.4 L1805.1 264.9 L1806.6 263.2 L1808.2 261.5 L1809.8 259.7 L1811.3 257.9 L1812.9 256.0 L1814.5 253.6 L1816.0 251.0 L1817.6 248.6 L1819.1 246.5 L1820.7 245.2 L1822.3 244.3 L1823.8 243.6 L1825.4 243.0 L1827.0 242.8 L1828.5 242.9 L1830.1 243.0 L1831.6 243.1 L1833.2 243.3 L1834.8 243.3 L1836.3 242.0 L1837.9 234.5 L1839.5 225.0 L1841.0 212.0 L1842.6 196.7 L1844.2 181.4 L1845.7 163.8 L1847.3 147.0 L1848.8 137.7 L1850.4 131.9 L1852.0 129.4 L1852.5 290.5 L1885.7 290.5" fill="none" stroke="#ea5f5a" stroke-width="1.15" stroke-linejoin="round"/>
<path d="M1553.8 290.5 L1587.0 290.5 L1587.8 266.4 L1589.4 267.8 L1590.9 269.1 L1592.5 270.3 L1594.0 271.5 L1595.6 272.7 L1597.2 273.8 L1598.7 274.9 L1600.3 276.1 L1601.9 277.2 L1603.4 278.3 L1605.0 279.3 L1606.6 280.2 L1608.1 281.0 L1609.7 281.6 L1611.2 282.1 L1612.8 282.5 L1614.4 282.9 L1615.9 283.3 L1617.5 283.7 L1619.1 284.0 L1620.6 284.3 L1622.2 284.6 L1623.7 284.9 L1625.3 285.1 L1626.9 285.3 L1628.4 285.5 L1630.0 285.6 L1631.6 285.7 L1633.1 285.8 L1634.7 285.9 L1636.3 286.0 L1637.8 286.0 L1639.4 286.1 L1640.9 286.2 L1642.5 286.3 L1644.1 286.3 L1645.6 286.4 L1647.2 286.4 L1648.8 286.5 L1650.3 286.5 L1651.9 286.6 L1653.4 286.6 L1655.0 286.7 L1656.6 286.7 L1658.1 286.7 L1659.7 286.7 L1661.3 286.7 L1662.8 286.7 L1664.4 286.7 L1666.0 286.7 L1667.5 286.7 L1669.1 286.7 L1670.6 286.7 L1672.2 286.7 L1673.8 286.7 L1675.3 286.6 L1676.9 286.6 L1678.5 286.6 L1680.0 286.5 L1681.6 286.5 L1683.1 286.5 L1684.7 286.4 L1686.3 286.4 L1687.8 286.3 L1689.4 286.3 L1691.0 286.2 L1692.5 286.2 L1694.1 286.1 L1695.7 286.1 L1697.2 286.0 L1698.8 286.0 L1700.3 285.9 L1701.9 285.8 L1703.5 285.8 L1705.0 285.7 L1706.6 285.6 L1708.2 285.6 L1709.7 285.5 L1711.3 285.4 L1712.8 285.3 L1714.4 285.3 L1716.0 285.2 L1717.5 285.1 L1719.1 285.0 L1720.7 285.0 L1722.2 284.9 L1723.8 284.8 L1725.4 284.7 L1726.9 284.6 L1728.5 284.6 L1730.0 284.5 L1731.6 284.4 L1733.2 284.3 L1734.7 284.2 L1736.3 284.1 L1737.9 284.0 L1739.4 283.9 L1741.0 283.8 L1742.5 283.7 L1744.1 283.6 L1745.7 283.5 L1747.2 283.3 L1748.8 283.2 L1750.4 283.1 L1751.9 282.9 L1753.5 282.8 L1755.1 282.6 L1756.6 282.4 L1758.2 282.3 L1759.7 282.1 L1761.3 281.9 L1762.9 281.7 L1764.4 281.5 L1766.0 281.3 L1767.6 281.0 L1769.1 280.8 L1770.7 280.5 L1772.2 280.3 L1773.8 280.0 L1775.4 279.7 L1776.9 279.4 L1778.5 279.1 L1780.1 278.8 L1781.6 278.5 L1783.2 278.0 L1784.8 277.4 L1786.3 276.7 L1787.9 275.9 L1789.4 275.1 L1791.0 274.1 L1792.6 273.1 L1794.1 272.0 L1795.7 270.8 L1797.3 269.6 L1798.8 268.4 L1800.4 267.1 L1801.9 265.5 L1803.5 263.8 L1805.1 261.8 L1806.6 259.6 L1808.2 257.3 L1809.8 254.8 L1811.3 252.2 L1812.9 249.3 L1814.5 245.8 L1816.0 241.8 L1817.6 237.4 L1819.1 232.9 L1820.7 228.6 L1822.3 224.7 L1823.8 221.2 L1825.4 217.9 L1827.0 214.7 L1828.5 211.6 L1830.1 208.7 L1831.6 205.8 L1833.2 202.9 L1834.8 200.4 L1836.3 198.2 L1837.9 195.8 L1839.5 192.8 L1841.0 188.7 L1842.6 182.9 L1844.2 175.7 L1845.7 165.9 L1847.3 153.1 L1848.8 138.0 L1850.4 118.7 L1852.0 95.9 L1852.5 290.5 L1885.7 290.5" fill="none" stroke="#ea5f5a" stroke-width="1.15" stroke-linejoin="round"/>
<path d="M1559.7 290.5 L1587.0 290.5 L1587.8 249.1 L1589.4 255.9 L1590.9 262.1 L1592.5 267.6 L1594.0 272.0 L1595.6 276.2 L1597.2 280.2 L1598.7 283.1 L1600.3 284.2 L1601.8 283.8 L1603.4 282.9 L1605.0 281.8 L1606.5 280.8 L1608.1 280.2 L1609.6 280.0 L1611.2 279.9 L1612.8 279.7 L1614.3 279.6 L1615.9 279.5 L1617.4 279.4 L1619.0 279.3 L1620.6 279.2 L1622.1 279.1 L1623.7 278.9 L1625.2 278.8 L1626.8 278.7 L1628.4 278.5 L1629.9 278.4 L1631.5 278.2 L1633.0 278.1 L1634.6 277.9 L1636.2 277.7 L1637.7 277.5 L1639.3 277.3 L1640.8 277.1 L1642.4 276.8 L1644.0 276.4 L1645.5 275.9 L1647.1 275.4 L1648.6 274.8 L1650.2 274.2 L1651.8 273.6 L1653.3 273.1 L1654.9 272.7 L1656.4 272.4 L1658.0 272.2 L1659.6 272.0 L1661.1 271.8 L1662.7 271.6 L1664.2 271.3 L1665.8 271.0 L1667.4 270.7 L1668.9 269.8 L1670.5 268.2 L1672.0 266.4 L1673.6 264.7 L1675.2 263.7 L1676.7 263.5 L1678.3 263.6 L1679.8 263.8 L1681.4 264.0 L1683.0 264.1 L1684.5 264.1 L1686.1 263.8 L1687.6 262.9 L1689.2 261.7 L1690.8 260.4 L1692.3 259.3 L1693.9 258.5 L1695.4 258.3 L1697.0 258.4 L1698.6 258.7 L1700.1 259.0 L1701.7 259.4 L1703.2 259.8 L1704.8 260.3 L1706.4 260.6 L1707.9 260.9 L1709.5 261.0 L1711.0 260.5 L1712.6 258.2 L1714.2 254.9 L1715.7 251.2 L1717.3 247.7 L1718.8 245.2 L1720.4 244.3 L1722.0 245.8 L1723.5 249.0 L1725.1 252.7 L1726.6 255.6 L1728.2 256.6 L1729.8 256.2 L1731.3 255.3 L1732.9 254.2 L1734.4 253.1 L1736.0 252.3 L1737.6 252.0 L1739.1 252.1 L1740.7 252.2 L1742.2 252.4 L1743.8 252.7 L1745.4 253.0 L1746.9 253.2 L1748.5 253.5 L1750.0 253.8 L1751.6 254.1 L1753.2 254.4 L1754.7 254.8 L1756.3 255.1 L1757.8 255.6 L1759.4 256.1 L1761.0 256.6 L1762.5 257.5 L1764.1 258.6 L1765.6 260.0 L1767.2 261.5 L1768.8 263.0 L1770.3 264.3 L1771.9 265.2 L1773.4 266.0 L1775.0 266.6 L1776.6 267.2 L1778.1 267.8 L1779.7 268.3 L1781.2 268.8 L1782.8 269.3 L1784.4 269.8 L1785.9 270.3 L1787.5 270.9 L1789.0 271.6 L1790.6 272.2 L1792.2 272.8 L1793.7 273.5 L1795.3 274.1 L1796.8 274.8 L1798.4 275.4 L1800.0 276.1 L1801.5 276.8 L1803.1 277.5 L1804.6 278.2 L1806.2 278.9 L1807.8 279.7 L1809.3 280.4 L1810.9 281.1 L1812.4 281.8 L1814.0 282.4 L1815.6 283.1 L1817.1 283.7 L1818.7 284.3 L1820.2 284.9 L1821.8 285.5 L1823.4 286.1 L1824.9 286.7 L1826.5 287.3 L1828.0 287.8 L1829.6 288.2 L1831.2 288.5 L1832.7 288.8 L1834.3 288.9 L1835.8 289.0 L1837.4 289.1 L1839.0 289.2 L1840.5 289.2 L1842.1 289.2 L1843.6 288.9 L1845.2 288.0 L1846.8 286.7 L1848.3 285.1 L1849.9 283.3 L1851.4 281.3 L1852.5 290.5 L1879.8 290.5" fill="none" stroke="#22ab3c" stroke-width="1.15" stroke-linejoin="round"/>
<path d="M1559.7 290.5 L1587.0 290.5 L1587.8 252.8 L1589.4 258.6 L1590.9 264.0 L1592.5 268.7 L1594.0 272.7 L1595.6 276.7 L1597.2 280.5 L1598.7 283.4 L1600.3 284.5 L1601.8 284.1 L1603.4 283.2 L1605.0 282.1 L1606.5 281.2 L1608.1 280.6 L1609.6 280.4 L1611.2 280.3 L1612.8 280.2 L1614.3 280.1 L1615.9 280.0 L1617.4 279.9 L1619.0 279.8 L1620.6 279.7 L1622.1 279.5 L1623.7 279.4 L1625.2 279.3 L1626.8 279.1 L1628.4 279.0 L1629.9 278.9 L1631.5 278.7 L1633.0 278.6 L1634.6 278.4 L1636.2 278.2 L1637.7 278.1 L1639.3 277.9 L1640.8 277.6 L1642.4 277.4 L1644.0 277.0 L1645.5 276.5 L1647.1 276.0 L1648.6 275.4 L1650.2 274.8 L1651.8 274.3 L1653.3 273.8 L1654.9 273.4 L1656.4 273.1 L1658.0 272.9 L1659.6 272.7 L1661.1 272.5 L1662.7 272.3 L1664.2 272.1 L1665.8 271.8 L1667.4 271.4 L1668.9 270.6 L1670.5 269.1 L1672.0 267.3 L1673.6 265.7 L1675.2 264.7 L1676.7 264.6 L1678.3 264.7 L1679.8 264.9 L1681.4 265.0 L1683.0 265.1 L1684.5 265.2 L1686.1 264.8 L1687.6 264.0 L1689.2 262.8 L1690.8 261.6 L1692.3 260.5 L1693.9 259.8 L1695.4 259.6 L1697.0 259.7 L1698.6 259.9 L1700.1 260.3 L1701.7 260.7 L1703.2 261.1 L1704.8 261.5 L1706.4 261.8 L1707.9 262.1 L1709.5 262.2 L1711.0 261.8 L1712.6 260.3 L1714.2 257.9 L1715.7 255.3 L1717.3 252.9 L1718.8 251.2 L1720.4 250.6 L1722.0 251.5 L1723.5 253.4 L1725.1 255.7 L1726.6 257.4 L1728.2 258.0 L1729.8 257.6 L1731.3 256.8 L1732.9 255.7 L1734.4 254.7 L1736.0 253.9 L1737.6 253.5 L1739.1 253.6 L1740.7 253.7 L1742.2 253.9 L1743.8 254.2 L1745.4 254.5 L1746.9 254.7 L1748.5 255.0 L1750.0 255.3 L1751.6 255.6 L1753.2 255.9 L1754.7 256.2 L1756.3 256.6 L1757.8 257.0 L1759.4 257.4 L1761.0 258.0 L1762.5 258.8 L1764.1 259.9 L1765.6 261.3 L1767.2 262.7 L1768.8 264.1 L1770.3 265.3 L1771.9 266.2 L1773.4 267.0 L1775.0 267.6 L1776.6 268.2 L1778.1 268.7 L1779.7 269.2 L1781.2 269.6 L1782.8 270.1 L1784.4 270.6 L1785.9 271.2 L1787.5 271.7 L1789.0 272.3 L1790.6 272.9 L1792.2 273.5 L1793.7 274.1 L1795.3 274.8 L1796.8 275.4 L1798.4 276.0 L1800.0 276.7 L1801.5 277.3 L1803.1 278.0 L1804.6 278.7 L1806.2 279.4 L1807.8 280.1 L1809.3 280.8 L1810.9 281.5 L1812.4 282.1 L1814.0 282.8 L1815.6 283.4 L1817.1 283.9 L1818.7 284.5 L1820.2 285.1 L1821.8 285.7 L1823.4 286.3 L1824.9 286.9 L1826.5 287.4 L1828.0 287.9 L1829.6 288.3 L1831.2 288.6 L1832.7 288.8 L1834.3 289.0 L1835.8 289.1 L1837.4 289.2 L1839.0 289.2 L1840.5 289.3 L1842.1 289.3 L1843.6 289.1 L1845.2 288.5 L1846.8 287.7 L1848.3 286.7 L1849.9 285.5 L1851.4 284.2 L1852.5 290.5 L1879.8 290.5" fill="none" stroke="#22ab3c" stroke-width="1.15" stroke-linejoin="round"/>
<path d="M1559.7 290.5 L1587.0 290.5 L1587.8 267.5 L1589.4 269.2 L1590.9 270.9 L1592.5 272.4 L1594.0 273.8 L1595.6 275.0 L1597.2 275.9 L1598.7 276.7 L1600.3 277.4 L1601.9 278.1 L1603.4 278.7 L1605.0 279.2 L1606.6 279.6 L1608.1 280.0 L1609.7 280.2 L1611.2 280.4 L1612.8 280.5 L1614.4 280.6 L1615.9 280.7 L1617.5 280.8 L1619.1 280.9 L1620.6 281.0 L1622.2 281.1 L1623.7 281.1 L1625.3 281.2 L1626.9 281.2 L1628.4 281.3 L1630.0 281.3 L1631.6 281.3 L1633.1 281.3 L1634.7 281.3 L1636.3 281.2 L1637.8 281.2 L1639.4 281.1 L1640.9 281.0 L1642.5 280.9 L1644.1 280.8 L1645.6 280.7 L1647.2 280.6 L1648.8 280.5 L1650.3 280.4 L1651.9 280.2 L1653.4 280.1 L1655.0 279.9 L1656.6 279.8 L1658.1 279.7 L1659.7 279.5 L1661.3 279.4 L1662.8 279.2 L1664.4 279.1 L1666.0 278.9 L1667.5 278.8 L1669.1 278.6 L1670.6 278.4 L1672.2 278.2 L1673.8 278.0 L1675.3 277.8 L1676.9 277.6 L1678.5 277.4 L1680.0 277.2 L1681.6 276.9 L1683.1 276.7 L1684.7 276.5 L1686.3 276.2 L1687.8 276.0 L1689.4 275.7 L1691.0 275.5 L1692.5 275.2 L1694.1 275.0 L1695.7 274.7 L1697.2 274.5 L1698.8 274.2 L1700.3 273.9 L1701.9 273.7 L1703.5 273.4 L1705.0 273.1 L1706.6 272.9 L1708.2 272.6 L1709.7 272.3 L1711.3 272.0 L1712.8 271.7 L1714.4 271.4 L1716.0 271.1 L1717.5 270.7 L1719.1 270.4 L1720.7 270.0 L1722.2 269.7 L1723.8 269.3 L1725.4 268.9 L1726.9 268.5 L1728.5 268.1 L1730.0 267.6 L1731.6 267.1 L1733.2 266.6 L1734.7 266.1 L1736.3 265.5 L1737.9 264.9 L1739.4 264.3 L1741.0 263.7 L1742.5 263.1 L1744.1 262.5 L1745.7 261.9 L1747.2 261.3 L1748.8 260.8 L1750.4 260.2 L1751.9 259.6 L1753.5 259.0 L1755.1 258.4 L1756.6 257.8 L1758.2 257.2 L1759.7 256.7 L1761.3 256.1 L1762.9 255.5 L1764.4 255.0 L1766.0 254.5 L1767.6 254.0 L1769.1 253.6 L1770.7 253.2 L1772.2 252.8 L1773.8 252.4 L1775.4 252.0 L1776.9 251.6 L1778.5 251.2 L1780.1 250.9 L1781.6 250.6 L1783.2 250.3 L1784.8 250.2 L1786.3 250.1 L1787.9 250.1 L1789.4 250.2 L1791.0 250.3 L1792.6 250.4 L1794.1 250.5 L1795.7 250.7 L1797.3 250.9 L1798.8 251.1 L1800.4 251.3 L1801.9 251.7 L1803.5 252.3 L1805.1 253.0 L1806.6 253.7 L1808.2 254.5 L1809.8 255.3 L1811.3 256.2 L1812.9 257.0 L1814.5 257.9 L1816.0 258.9 L1817.6 259.9 L1819.1 260.9 L1820.7 262.0 L1822.3 263.2 L1823.8 264.4 L1825.4 265.6 L1827.0 266.9 L1828.5 268.2 L1830.1 269.6 L1831.6 271.1 L1833.2 272.6 L1834.8 274.2 L1836.3 276.1 L1837.9 278.0 L1839.5 279.7 L1841.0 280.9 L1842.6 281.5 L1844.2 281.9 L1845.7 282.2 L1847.3 282.3 L1848.8 282.0 L1850.4 281.3 L1852.0 280.2 L1852.5 290.5 L1879.8 290.5" fill="none" stroke="#22ab3c" stroke-width="1.15" stroke-linejoin="round"/>
<path d="M1561.8 290.5 L1587.0 290.5 L1587.8 255.6 L1589.4 261.5 L1590.9 266.6 L1592.5 270.9 L1594.0 274.3 L1595.6 277.6 L1597.2 279.8 L1598.7 280.2 L1600.3 279.6 L1601.8 278.7 L1603.4 277.7 L1605.0 277.0 L1606.5 276.9 L1608.1 277.1 L1609.6 277.4 L1611.2 277.9 L1612.8 278.4 L1614.3 278.9 L1615.9 279.4 L1617.4 279.8 L1619.0 280.1 L1620.6 280.2 L1622.1 280.2 L1623.7 280.2 L1625.2 280.2 L1626.8 280.1 L1628.4 280.1 L1629.9 280.0 L1631.5 279.9 L1633.0 279.8 L1634.6 279.7 L1636.2 279.6 L1637.7 279.5 L1639.3 279.4 L1640.8 279.3 L1642.4 279.2 L1644.0 279.0 L1645.5 278.8 L1647.1 278.6 L1648.6 278.3 L1650.2 278.0 L1651.8 277.7 L1653.3 277.3 L1654.9 277.0 L1656.4 276.6 L1658.0 276.2 L1659.6 275.8 L1661.1 275.4 L1662.7 274.9 L1664.2 274.5 L1665.8 274.0 L1667.4 273.5 L1668.9 273.0 L1670.5 272.4 L1672.0 271.8 L1673.6 271.2 L1675.2 270.6 L1676.7 269.9 L1678.3 269.3 L1679.8 268.7 L1681.4 268.0 L1683.0 267.2 L1684.5 266.3 L1686.1 265.4 L1687.6 264.5 L1689.2 263.7 L1690.8 263.0 L1692.3 262.5 L1693.9 262.1 L1695.4 262.1 L1697.0 262.1 L1698.6 262.2 L1700.1 262.3 L1701.7 262.5 L1703.2 262.7 L1704.8 262.8 L1706.4 262.9 L1707.9 263.0 L1709.5 263.1 L1711.0 262.6 L1712.6 260.8 L1714.2 258.0 L1715.7 254.8 L1717.3 251.9 L1718.8 249.8 L1720.4 249.1 L1722.0 250.0 L1723.5 252.0 L1725.1 254.6 L1726.6 256.9 L1728.2 258.5 L1729.8 258.6 L1731.3 257.8 L1732.9 256.3 L1734.4 254.6 L1736.0 252.9 L1737.6 251.6 L1739.1 250.8 L1740.7 250.8 L1742.2 250.8 L1743.8 251.0 L1745.4 251.1 L1746.9 251.3 L1748.5 251.5 L1750.0 251.7 L1751.6 251.9 L1753.2 252.1 L1754.7 252.3 L1756.3 252.4 L1757.8 252.6 L1759.4 252.8 L1761.0 253.0 L1762.5 253.3 L1764.1 253.7 L1765.6 254.4 L1767.2 255.3 L1768.8 256.3 L1770.3 257.5 L1771.9 258.6 L1773.4 259.7 L1775.0 260.6 L1776.6 261.5 L1778.1 262.4 L1779.7 263.3 L1781.2 264.2 L1782.8 265.0 L1784.4 265.9 L1785.9 266.8 L1787.5 267.7 L1789.0 268.5 L1790.6 269.4 L1792.2 270.3 L1793.7 271.2 L1795.3 272.1 L1796.8 273.0 L1798.4 274.0 L1800.0 274.9 L1801.5 275.8 L1803.1 276.6 L1804.6 277.5 L1806.2 278.3 L1807.8 279.1 L1809.3 279.9 L1810.9 280.7 L1812.4 281.5 L1814.0 282.2 L1815.6 283.0 L1817.1 283.7 L1818.7 284.4 L1820.2 285.0 L1821.8 285.7 L1823.4 286.2 L1824.9 286.7 L1826.5 287.2 L1828.0 287.8 L1829.6 288.3 L1831.2 288.8 L1832.7 289.2 L1834.3 289.5 L1835.8 289.8 L1837.4 289.9 L1839.0 289.8 L1840.5 289.6 L1842.1 289.3 L1843.6 288.9 L1845.2 288.4 L1846.8 287.5 L1848.3 286.3 L1849.9 284.9 L1851.4 283.4 L1852.5 290.5 L1877.7 290.5" fill="none" stroke="#4b8df0" stroke-width="1.15" stroke-linejoin="round"/>
<path d="M1561.8 290.5 L1587.0 290.5 L1587.8 259.1 L1589.4 263.9 L1590.9 268.1 L1592.5 271.7 L1594.0 274.9 L1595.6 278.0 L1597.2 280.2 L1598.7 280.6 L1600.3 280.1 L1601.8 279.2 L1603.4 278.2 L1605.0 277.6 L1606.5 277.5 L1608.1 277.6 L1609.6 278.0 L1611.2 278.4 L1612.8 278.9 L1614.3 279.4 L1615.9 279.9 L1617.4 280.3 L1619.0 280.5 L1620.6 280.7 L1622.1 280.7 L1623.7 280.6 L1625.2 280.6 L1626.8 280.6 L1628.4 280.5 L1629.9 280.4 L1631.5 280.4 L1633.0 280.3 L1634.6 280.2 L1636.2 280.1 L1637.7 280.0 L1639.3 279.9 L1640.8 279.7 L1642.4 279.6 L1644.0 279.5 L1645.5 279.3 L1647.1 279.1 L1648.6 278.8 L1650.2 278.5 L1651.8 278.2 L1653.3 277.9 L1654.9 277.5 L1656.4 277.1 L1658.0 276.8 L1659.6 276.4 L1661.1 276.0 L1662.7 275.6 L1664.2 275.2 L1665.8 274.7 L1667.4 274.2 L1668.9 273.7 L1670.5 273.1 L1672.0 272.6 L1673.6 272.0 L1675.2 271.4 L1676.7 270.8 L1678.3 270.2 L1679.8 269.5 L1681.4 268.9 L1683.0 268.1 L1684.5 267.3 L1686.1 266.4 L1687.6 265.6 L1689.2 264.8 L1690.8 264.1 L1692.3 263.6 L1693.9 263.3 L1695.4 263.2 L1697.0 263.2 L1698.6 263.3 L1700.1 263.5 L1701.7 263.6 L1703.2 263.8 L1704.8 263.9 L1706.4 264.0 L1707.9 264.1 L1709.5 264.2 L1711.0 263.8 L1712.6 262.0 L1714.2 259.3 L1715.7 256.3 L1717.3 253.5 L1718.8 251.4 L1720.4 250.7 L1722.0 251.6 L1723.5 253.6 L1725.1 256.0 L1726.6 258.3 L1728.2 259.8 L1729.8 260.0 L1731.3 259.5 L1732.9 258.7 L1734.4 257.7 L1736.0 256.7 L1737.6 255.8 L1739.1 255.1 L1740.7 254.8 L1742.2 254.6 L1743.8 254.3 L1745.4 254.1 L1746.9 253.9 L1748.5 253.7 L1750.0 253.6 L1751.6 253.6 L1753.2 253.6 L1754.7 253.6 L1756.3 253.8 L1757.8 254.0 L1759.4 254.2 L1761.0 254.5 L1762.5 254.8 L1764.1 255.1 L1765.6 255.8 L1767.2 256.6 L1768.8 257.6 L1770.3 258.7 L1771.9 259.7 L1773.4 260.6 L1775.0 261.4 L1776.6 262.1 L1778.1 262.7 L1779.7 263.4 L1781.2 264.0 L1782.8 264.6 L1784.4 265.2 L1785.9 265.9 L1787.5 266.6 L1789.0 267.3 L1790.6 268.0 L1792.2 268.8 L1793.7 269.7 L1795.3 270.6 L1796.8 271.6 L1798.4 272.6 L1800.0 273.6 L1801.5 274.6 L1803.1 275.6 L1804.6 276.5 L1806.2 277.5 L1807.8 278.4 L1809.3 279.2 L1810.9 280.1 L1812.4 281.0 L1814.0 281.8 L1815.6 282.7 L1817.1 283.5 L1818.7 284.3 L1820.2 285.0 L1821.8 285.7 L1823.4 286.3 L1824.9 286.9 L1826.5 287.4 L1828.0 287.9 L1829.6 288.4 L1831.2 288.8 L1832.7 289.3 L1834.3 289.6 L1835.8 289.8 L1837.4 289.9 L1839.0 289.8 L1840.5 289.6 L1842.1 289.3 L1843.6 289.0 L1845.2 288.6 L1846.8 288.1 L1848.3 287.6 L1849.9 287.0 L1851.4 286.3 L1852.5 290.5 L1877.7 290.5" fill="none" stroke="#4b8df0" stroke-width="1.15" stroke-linejoin="round"/>
<path d="M1561.8 290.5 L1587.0 290.5 L1587.8 257.0 L1589.4 262.0 L1590.9 266.5 L1592.5 270.3 L1594.0 273.7 L1595.6 277.1 L1597.2 279.4 L1598.7 279.9 L1600.3 279.3 L1601.8 278.3 L1603.4 277.3 L1605.0 276.6 L1606.5 276.5 L1608.1 276.7 L1609.6 277.1 L1611.2 277.5 L1612.8 278.0 L1614.3 278.6 L1615.9 279.1 L1617.4 279.5 L1619.0 279.8 L1620.6 279.9 L1622.1 279.9 L1623.7 279.9 L1625.2 279.9 L1626.8 279.8 L1628.4 279.8 L1629.9 279.7 L1631.5 279.6 L1633.0 279.5 L1634.6 279.4 L1636.2 279.3 L1637.7 279.2 L1639.3 279.1 L1640.8 279.0 L1642.4 278.8 L1644.0 278.7 L1645.5 278.4 L1647.1 278.2 L1648.6 277.9 L1650.2 277.6 L1651.8 277.3 L1653.3 276.9 L1654.9 276.5 L1656.4 276.1 L1658.0 275.7 L1659.6 275.3 L1661.1 274.9 L1662.7 274.5 L1664.2 274.1 L1665.8 273.7 L1667.4 273.3 L1668.9 272.9 L1670.5 272.5 L1672.0 272.1 L1673.6 271.6 L1675.2 271.1 L1676.7 270.6 L1678.3 270.1 L1679.8 269.5 L1681.4 268.9 L1683.0 268.0 L1684.5 267.0 L1686.1 265.9 L1687.6 264.8 L1689.2 263.8 L1690.8 262.9 L1692.3 262.2 L1693.9 261.8 L1695.4 261.7 L1697.0 261.7 L1698.6 261.8 L1700.1 261.9 L1701.7 261.9 L1703.2 262.0 L1704.8 262.1 L1706.4 262.2 L1707.9 262.2 L1709.5 262.3 L1711.0 261.8 L1712.6 259.9 L1714.2 257.0 L1715.7 253.8 L1717.3 250.8 L1718.8 248.6 L1720.4 247.8 L1722.0 248.8 L1723.5 250.9 L1725.1 253.5 L1726.6 255.9 L1728.2 257.5 L1729.8 257.6 L1731.3 256.8 L1732.9 255.3 L1734.4 253.6 L1736.0 251.8 L1737.6 250.4 L1739.1 249.6 L1740.7 249.6 L1742.2 249.6 L1743.8 249.8 L1745.4 249.9 L1746.9 250.1 L1748.5 250.3 L1750.0 250.5 L1751.6 250.8 L1753.2 250.9 L1754.7 251.1 L1756.3 251.3 L1757.8 251.5 L1759.4 251.7 L1761.0 251.9 L1762.5 252.2 L1764.1 252.6 L1765.6 253.3 L1767.2 254.3 L1768.8 255.4 L1770.3 256.6 L1771.9 257.9 L1773.4 259.0 L1775.0 260.1 L1776.6 261.1 L1778.1 262.2 L1779.7 263.3 L1781.2 264.4 L1782.8 265.5 L1784.4 266.6 L1785.9 267.7 L1787.5 268.7 L1789.0 269.7 L1790.6 270.7 L1792.2 271.6 L1793.7 272.5 L1795.3 273.4 L1796.8 274.3 L1798.4 275.2 L1800.0 276.0 L1801.5 276.8 L1803.1 277.6 L1804.6 278.4 L1806.2 279.1 L1807.8 279.9 L1809.3 280.6 L1810.9 281.3 L1812.4 281.9 L1814.0 282.6 L1815.6 283.3 L1817.1 283.9 L1818.7 284.5 L1820.2 285.1 L1821.8 285.6 L1823.4 286.2 L1824.9 286.7 L1826.5 287.2 L1828.0 287.7 L1829.6 288.2 L1831.2 288.7 L1832.7 289.1 L1834.3 289.5 L1835.8 289.7 L1837.4 289.9 L1839.0 289.8 L1840.5 289.6 L1842.1 289.3 L1843.6 288.9 L1845.2 288.4 L1846.8 287.7 L1848.3 286.8 L1849.9 285.8 L1851.4 284.6 L1852.5 290.5 L1877.7 290.5" fill="none" stroke="#4b8df0" stroke-width="1.15" stroke-linejoin="round"/>
<line x1="1541.5" y1="84.0" x2="1898.3" y2="84.0" stroke="#c2c2c2" stroke-width="1.2" />
<path d="M1541.5 83.4 V300.5 H1898.3 V83.4" fill="none" stroke="#2a2a2a" stroke-width="1.7"/>
<rect x="1541.5" y="306.6" width="356.8" height="216.4" fill="#fff"/>
<line x1="1541.5" y1="486.6" x2="1898.3" y2="486.6" stroke="#f0f0f0" stroke-width="1" />
<line x1="1541.5" y1="434.3" x2="1898.3" y2="434.3" stroke="#f0f0f0" stroke-width="1" />
<line x1="1541.5" y1="382.0" x2="1898.3" y2="382.0" stroke="#f0f0f0" stroke-width="1" />
<line x1="1541.5" y1="329.7" x2="1898.3" y2="329.7" stroke="#f0f0f0" stroke-width="1" />
<line x1="1640.1" y1="306.6" x2="1640.1" y2="523.0" stroke="#f0f0f0" stroke-width="1" />
<line x1="1746.3" y1="306.6" x2="1746.3" y2="523.0" stroke="#f0f0f0" stroke-width="1" />
<line x1="1852.5" y1="306.6" x2="1852.5" y2="523.0" stroke="#f0f0f0" stroke-width="1" />
<line x1="1541.5" y1="512.7" x2="1898.3" y2="512.7" stroke="#e5e5e5" stroke-width="1.35" />
<line x1="1538.0" y1="512.7" x2="1541.5" y2="512.7" stroke="#333" stroke-width="1.3" />
<line x1="1541.5" y1="460.4" x2="1898.3" y2="460.4" stroke="#e5e5e5" stroke-width="1.35" />
<line x1="1538.0" y1="460.4" x2="1541.5" y2="460.4" stroke="#333" stroke-width="1.3" />
<line x1="1541.5" y1="408.1" x2="1898.3" y2="408.1" stroke="#e5e5e5" stroke-width="1.35" />
<line x1="1538.0" y1="408.1" x2="1541.5" y2="408.1" stroke="#333" stroke-width="1.3" />
<line x1="1541.5" y1="355.8" x2="1898.3" y2="355.8" stroke="#e5e5e5" stroke-width="1.35" />
<line x1="1538.0" y1="355.8" x2="1541.5" y2="355.8" stroke="#333" stroke-width="1.3" />
<line x1="1587.0" y1="306.6" x2="1587.0" y2="523.0" stroke="#e5e5e5" stroke-width="1.35" />
<line x1="1587.0" y1="523.0" x2="1587.0" y2="526.5" stroke="#333" stroke-width="1.3" />
<line x1="1693.2" y1="306.6" x2="1693.2" y2="523.0" stroke="#e5e5e5" stroke-width="1.35" />
<line x1="1693.2" y1="523.0" x2="1693.2" y2="526.5" stroke="#333" stroke-width="1.3" />
<line x1="1799.4" y1="306.6" x2="1799.4" y2="523.0" stroke="#e5e5e5" stroke-width="1.35" />
<line x1="1799.4" y1="523.0" x2="1799.4" y2="526.5" stroke="#333" stroke-width="1.3" />
<path d="M1553.8 512.7 L1587.0 512.7 L1587.8 484.9 L1589.4 487.6 L1590.9 490.1 L1592.5 492.5 L1594.0 494.6 L1595.6 496.4 L1597.2 497.7 L1598.7 498.8 L1600.3 499.7 L1601.9 500.6 L1603.4 501.3 L1605.0 502.0 L1606.6 502.6 L1608.1 503.1 L1609.7 503.6 L1611.2 504.0 L1612.8 504.4 L1614.4 504.7 L1615.9 505.1 L1617.5 505.4 L1619.1 505.7 L1620.6 506.0 L1622.2 506.2 L1623.7 506.5 L1625.3 506.7 L1626.9 506.9 L1628.4 507.0 L1630.0 507.2 L1631.6 507.3 L1633.1 507.4 L1634.7 507.5 L1636.3 507.6 L1637.8 507.7 L1639.4 507.8 L1640.9 507.8 L1642.5 507.9 L1644.1 508.0 L1645.6 508.1 L1647.2 508.2 L1648.8 508.2 L1650.3 508.3 L1651.9 508.3 L1653.4 508.4 L1655.0 508.4 L1656.6 508.4 L1658.1 508.5 L1659.7 508.5 L1661.3 508.5 L1662.8 508.5 L1664.4 508.5 L1666.0 508.5 L1667.5 508.5 L1669.1 508.5 L1670.6 508.4 L1672.2 508.4 L1673.8 508.3 L1675.3 508.3 L1676.9 508.2 L1678.5 508.2 L1680.0 508.1 L1681.6 508.1 L1683.1 508.0 L1684.7 507.9 L1686.3 507.8 L1687.8 507.8 L1689.4 507.7 L1691.0 507.6 L1692.5 507.5 L1694.1 507.4 L1695.7 507.3 L1697.2 507.3 L1698.8 507.2 L1700.3 507.1 L1701.9 507.0 L1703.5 506.9 L1705.0 506.9 L1706.6 506.8 L1708.2 506.7 L1709.7 506.7 L1711.3 506.6 L1712.8 506.5 L1714.4 506.4 L1716.0 506.4 L1717.5 506.3 L1719.1 506.2 L1720.7 506.1 L1722.2 506.1 L1723.8 506.0 L1725.4 505.9 L1726.9 505.8 L1728.5 505.7 L1730.0 505.7 L1731.6 505.6 L1733.2 505.5 L1734.7 505.4 L1736.3 505.3 L1737.9 505.2 L1739.4 505.1 L1741.0 505.0 L1742.5 504.9 L1744.1 504.8 L1745.7 504.7 L1747.2 504.6 L1748.8 504.5 L1750.4 504.4 L1751.9 504.3 L1753.5 504.2 L1755.1 504.0 L1756.6 503.9 L1758.2 503.8 L1759.7 503.7 L1761.3 503.5 L1762.9 503.4 L1764.4 503.2 L1766.0 503.1 L1767.6 502.9 L1769.1 502.7 L1770.7 502.5 L1772.2 502.3 L1773.8 502.0 L1775.4 501.8 L1776.9 501.5 L1778.5 501.1 L1780.1 500.7 L1781.6 500.2 L1783.2 499.7 L1784.8 499.1 L1786.3 498.5 L1787.9 497.9 L1789.4 497.2 L1791.0 496.5 L1792.6 495.8 L1794.1 494.8 L1795.7 493.8 L1797.3 492.6 L1798.8 491.4 L1800.4 490.0 L1801.9 488.6 L1803.5 487.1 L1805.1 485.5 L1806.6 483.6 L1808.2 481.5 L1809.8 479.3 L1811.3 476.9 L1812.9 474.3 L1814.5 471.6 L1816.0 468.4 L1817.6 464.8 L1819.1 461.0 L1820.7 457.2 L1822.3 453.7 L1823.8 450.3 L1825.4 446.5 L1827.0 442.8 L1828.5 440.0 L1830.1 438.9 L1831.6 439.0 L1833.2 439.2 L1834.8 439.6 L1836.3 439.8 L1837.9 439.8 L1839.5 437.3 L1841.0 432.2 L1842.6 425.6 L1844.2 414.3 L1845.7 400.6 L1847.3 386.6 L1848.8 371.0 L1850.4 354.6 L1852.0 337.0 L1852.5 512.7 L1885.7 512.7" fill="none" stroke="#ea5f5a" stroke-width="1.15" stroke-linejoin="round"/>
<path d="M1553.8 512.7 L1587.0 512.7 L1587.8 485.2 L1589.4 487.8 L1590.9 490.4 L1592.5 492.7 L1594.0 494.8 L1595.6 496.5 L1597.2 497.8 L1598.7 498.9 L1600.3 499.8 L1601.9 500.7 L1603.4 501.5 L1605.0 502.1 L1606.6 502.7 L1608.1 503.2 L1609.7 503.7 L1611.2 504.1 L1612.8 504.5 L1614.4 504.8 L1615.9 505.1 L1617.5 505.5 L1619.1 505.8 L1620.6 506.0 L1622.2 506.3 L1623.7 506.5 L1625.3 506.7 L1626.9 506.9 L1628.4 507.1 L1630.0 507.2 L1631.6 507.3 L1633.1 507.4 L1634.7 507.5 L1636.3 507.6 L1637.8 507.7 L1639.4 507.8 L1640.9 507.9 L1642.5 508.0 L1644.1 508.1 L1645.6 508.1 L1647.2 508.2 L1648.8 508.3 L1650.3 508.3 L1651.9 508.4 L1653.4 508.4 L1655.0 508.5 L1656.6 508.5 L1658.1 508.5 L1659.7 508.5 L1661.3 508.6 L1662.8 508.6 L1664.4 508.6 L1666.0 508.5 L1667.5 508.5 L1669.1 508.5 L1670.6 508.5 L1672.2 508.4 L1673.8 508.4 L1675.3 508.3 L1676.9 508.3 L1678.5 508.2 L1680.0 508.2 L1681.6 508.1 L1683.1 508.0 L1684.7 508.0 L1686.3 507.9 L1687.8 507.8 L1689.4 507.7 L1691.0 507.6 L1692.5 507.6 L1694.1 507.5 L1695.7 507.4 L1697.2 507.3 L1698.8 507.2 L1700.3 507.2 L1701.9 507.1 L1703.5 507.0 L1705.0 506.9 L1706.6 506.9 L1708.2 506.8 L1709.7 506.7 L1711.3 506.6 L1712.8 506.6 L1714.4 506.5 L1716.0 506.4 L1717.5 506.4 L1719.1 506.3 L1720.7 506.2 L1722.2 506.1 L1723.8 506.1 L1725.4 506.0 L1726.9 505.9 L1728.5 505.8 L1730.0 505.7 L1731.6 505.6 L1733.2 505.6 L1734.7 505.5 L1736.3 505.4 L1737.9 505.3 L1739.4 505.2 L1741.0 505.1 L1742.5 505.0 L1744.1 504.9 L1745.7 504.8 L1747.2 504.7 L1748.8 504.6 L1750.4 504.5 L1751.9 504.4 L1753.5 504.2 L1755.1 504.1 L1756.6 504.0 L1758.2 503.9 L1759.7 503.8 L1761.3 503.6 L1762.9 503.5 L1764.4 503.3 L1766.0 503.2 L1767.6 503.0 L1769.1 502.8 L1770.7 502.6 L1772.2 502.4 L1773.8 502.2 L1775.4 501.9 L1776.9 501.6 L1778.5 501.2 L1780.1 500.8 L1781.6 500.3 L1783.2 499.8 L1784.8 499.3 L1786.3 498.7 L1787.9 498.1 L1789.4 497.4 L1791.0 496.7 L1792.6 495.9 L1794.1 495.0 L1795.7 494.0 L1797.3 492.8 L1798.8 491.6 L1800.4 490.3 L1801.9 488.9 L1803.5 487.4 L1805.1 485.7 L1806.6 483.9 L1808.2 481.8 L1809.8 479.6 L1811.3 477.2 L1812.9 474.7 L1814.5 472.0 L1816.0 468.8 L1817.6 465.0 L1819.1 461.1 L1820.7 457.4 L1822.3 454.3 L1823.8 451.8 L1825.4 449.4 L1827.0 447.3 L1828.5 445.7 L1830.1 445.0 L1831.6 445.0 L1833.2 445.0 L1834.8 444.9 L1836.3 444.9 L1837.9 444.8 L1839.5 441.3 L1841.0 434.8 L1842.6 427.0 L1844.2 415.4 L1845.7 401.8 L1847.3 385.3 L1848.8 366.9 L1850.4 362.1 L1852.0 362.7 L1852.5 512.7 L1885.7 512.7" fill="none" stroke="#ea5f5a" stroke-width="1.15" stroke-linejoin="round"/>
<path d="M1553.8 512.7 L1587.0 512.7 L1587.8 485.4 L1589.4 488.1 L1590.9 490.6 L1592.5 492.9 L1594.0 495.0 L1595.6 496.7 L1597.2 498.0 L1598.7 499.0 L1600.3 500.0 L1601.9 500.8 L1603.4 501.6 L1605.0 502.2 L1606.6 502.8 L1608.1 503.3 L1609.7 503.8 L1611.2 504.2 L1612.8 504.5 L1614.4 504.9 L1615.9 505.2 L1617.5 505.5 L1619.1 505.8 L1620.6 506.1 L1622.2 506.4 L1623.7 506.6 L1625.3 506.8 L1626.9 507.0 L1628.4 507.1 L1630.0 507.3 L1631.6 507.4 L1633.1 507.5 L1634.7 507.6 L1636.3 507.7 L1637.8 507.8 L1639.4 507.9 L1640.9 507.9 L1642.5 508.0 L1644.1 508.1 L1645.6 508.2 L1647.2 508.2 L1648.8 508.3 L1650.3 508.4 L1651.9 508.4 L1653.4 508.5 L1655.0 508.5 L1656.6 508.5 L1658.1 508.6 L1659.7 508.6 L1661.3 508.6 L1662.8 508.6 L1664.4 508.6 L1666.0 508.6 L1667.5 508.6 L1669.1 508.5 L1670.6 508.5 L1672.2 508.5 L1673.8 508.4 L1675.3 508.4 L1676.9 508.3 L1678.5 508.3 L1680.0 508.2 L1681.6 508.1 L1683.1 508.1 L1684.7 508.0 L1686.3 507.9 L1687.8 507.9 L1689.4 507.8 L1691.0 507.7 L1692.5 507.6 L1694.1 507.5 L1695.7 507.5 L1697.2 507.4 L1698.8 507.3 L1700.3 507.2 L1701.9 507.1 L1703.5 507.1 L1705.0 507.0 L1706.6 506.9 L1708.2 506.8 L1709.7 506.8 L1711.3 506.7 L1712.8 506.6 L1714.4 506.6 L1716.0 506.5 L1717.5 506.4 L1719.1 506.3 L1720.7 506.3 L1722.2 506.2 L1723.8 506.1 L1725.4 506.0 L1726.9 506.0 L1728.5 505.9 L1730.0 505.8 L1731.6 505.7 L1733.2 505.6 L1734.7 505.5 L1736.3 505.5 L1737.9 505.4 L1739.4 505.3 L1741.0 505.2 L1742.5 505.1 L1744.1 505.0 L1745.7 504.9 L1747.2 504.8 L1748.8 504.7 L1750.4 504.6 L1751.9 504.4 L1753.5 504.3 L1755.1 504.2 L1756.6 504.1 L1758.2 504.0 L1759.7 503.8 L1761.3 503.7 L1762.9 503.6 L1764.4 503.4 L1766.0 503.3 L1767.6 503.1 L1769.1 502.9 L1770.7 502.7 L1772.2 502.5 L1773.8 502.3 L1775.4 502.0 L1776.9 501.7 L1778.5 501.3 L1780.1 500.9 L1781.6 500.5 L1783.2 500.0 L1784.8 499.4 L1786.3 498.8 L1787.9 498.2 L1789.4 497.6 L1791.0 496.9 L1792.6 496.1 L1794.1 495.2 L1795.7 494.2 L1797.3 493.0 L1798.8 491.8 L1800.4 490.5 L1801.9 489.1 L1803.5 487.6 L1805.1 486.0 L1806.6 484.2 L1808.2 482.1 L1809.8 479.9 L1811.3 477.5 L1812.9 475.0 L1814.5 472.4 L1816.0 469.0 L1817.6 464.8 L1819.1 460.6 L1820.7 457.1 L1822.3 455.0 L1823.8 454.4 L1825.4 454.0 L1827.0 453.8 L1828.5 453.6 L1830.1 453.3 L1831.6 453.1 L1833.2 452.9 L1834.8 452.6 L1836.3 452.3 L1837.9 451.7 L1839.5 447.0 L1841.0 438.7 L1842.6 429.5 L1844.2 417.3 L1845.7 403.5 L1847.3 386.7 L1848.8 368.4 L1850.4 364.1 L1852.0 371.3 L1852.5 512.7 L1885.7 512.7" fill="none" stroke="#ea5f5a" stroke-width="1.15" stroke-linejoin="round"/>
<path d="M1559.7 512.7 L1587.0 512.7 L1587.8 479.4 L1589.4 484.5 L1590.9 489.0 L1592.5 492.8 L1594.0 495.8 L1595.6 498.4 L1597.2 500.7 L1598.7 501.9 L1600.3 502.0 L1601.8 501.8 L1603.4 501.5 L1605.0 501.3 L1606.5 501.1 L1608.1 501.0 L1609.6 501.1 L1611.2 501.3 L1612.8 501.6 L1614.3 502.0 L1615.9 502.4 L1617.4 502.8 L1619.0 503.2 L1620.6 503.6 L1622.1 503.9 L1623.7 504.1 L1625.2 504.1 L1626.8 504.1 L1628.4 504.1 L1629.9 504.0 L1631.5 504.0 L1633.0 503.9 L1634.6 503.8 L1636.2 503.8 L1637.7 503.7 L1639.3 503.6 L1640.8 503.5 L1642.4 503.4 L1644.0 503.2 L1645.5 503.1 L1647.1 503.0 L1648.6 502.9 L1650.2 502.7 L1651.8 502.5 L1653.3 502.3 L1654.9 502.1 L1656.4 501.9 L1658.0 501.6 L1659.6 501.4 L1661.1 501.1 L1662.7 500.8 L1664.2 500.5 L1665.8 500.2 L1667.4 500.0 L1668.9 499.6 L1670.5 499.3 L1672.0 498.9 L1673.6 498.5 L1675.2 498.1 L1676.7 497.7 L1678.3 497.3 L1679.8 496.8 L1681.4 496.4 L1683.0 496.0 L1684.5 495.5 L1686.1 495.1 L1687.6 494.7 L1689.2 494.4 L1690.8 494.1 L1692.3 493.8 L1693.9 493.5 L1695.4 493.3 L1697.0 493.0 L1698.6 492.8 L1700.1 492.5 L1701.7 492.2 L1703.2 491.9 L1704.8 491.6 L1706.4 491.2 L1707.9 490.8 L1709.5 490.3 L1711.0 489.5 L1712.6 488.1 L1714.2 486.4 L1715.7 484.7 L1717.3 483.3 L1718.8 482.5 L1720.4 482.4 L1722.0 482.4 L1723.5 482.5 L1725.1 482.6 L1726.6 482.7 L1728.2 482.8 L1729.8 482.7 L1731.3 482.3 L1732.9 481.5 L1734.4 480.5 L1736.0 479.4 L1737.6 478.4 L1739.1 477.6 L1740.7 477.0 L1742.2 476.5 L1743.8 476.1 L1745.4 475.7 L1746.9 475.3 L1748.5 475.0 L1750.0 474.7 L1751.6 474.4 L1753.2 474.1 L1754.7 473.8 L1756.3 473.5 L1757.8 473.2 L1759.4 472.9 L1761.0 472.7 L1762.5 472.5 L1764.1 472.4 L1765.6 472.3 L1767.2 472.4 L1768.8 472.6 L1770.3 472.8 L1771.9 473.1 L1773.4 473.4 L1775.0 473.8 L1776.6 474.3 L1778.1 474.7 L1779.7 475.1 L1781.2 475.5 L1782.8 476.0 L1784.4 476.5 L1785.9 477.0 L1787.5 477.6 L1789.0 478.2 L1790.6 478.8 L1792.2 479.5 L1793.7 480.2 L1795.3 480.9 L1796.8 481.6 L1798.4 482.3 L1800.0 483.0 L1801.5 483.8 L1803.1 484.6 L1804.6 485.4 L1806.2 486.3 L1807.8 487.2 L1809.3 488.1 L1810.9 489.0 L1812.4 490.0 L1814.0 490.9 L1815.6 491.9 L1817.1 492.9 L1818.7 493.8 L1820.2 494.9 L1821.8 495.9 L1823.4 497.0 L1824.9 498.0 L1826.5 499.1 L1828.0 500.2 L1829.6 501.3 L1831.2 502.7 L1832.7 504.2 L1834.3 505.7 L1835.8 506.8 L1837.4 507.3 L1839.0 507.3 L1840.5 507.3 L1842.1 507.3 L1843.6 507.3 L1845.2 507.0 L1846.8 505.7 L1848.3 503.8 L1849.9 501.4 L1851.4 498.7 L1852.5 512.7 L1879.8 512.7" fill="none" stroke="#22ab3c" stroke-width="1.15" stroke-linejoin="round"/>
<path d="M1559.7 512.7 L1587.0 512.7 L1587.8 481.3 L1589.4 486.0 L1590.9 490.1 L1592.5 493.7 L1594.0 496.4 L1595.6 499.0 L1597.2 501.1 L1598.7 502.4 L1600.3 502.4 L1601.8 502.2 L1603.4 502.0 L1605.0 501.7 L1606.5 501.5 L1608.1 501.5 L1609.6 501.5 L1611.2 501.7 L1612.8 502.0 L1614.3 502.4 L1615.9 502.8 L1617.4 503.2 L1619.0 503.6 L1620.6 504.0 L1622.1 504.2 L1623.7 504.4 L1625.2 504.5 L1626.8 504.5 L1628.4 504.4 L1629.9 504.4 L1631.5 504.3 L1633.0 504.3 L1634.6 504.2 L1636.2 504.1 L1637.7 504.0 L1639.3 503.9 L1640.8 503.8 L1642.4 503.7 L1644.0 503.6 L1645.5 503.5 L1647.1 503.4 L1648.6 503.3 L1650.2 503.1 L1651.8 502.9 L1653.3 502.7 L1654.9 502.5 L1656.4 502.3 L1658.0 502.1 L1659.6 501.8 L1661.1 501.6 L1662.7 501.3 L1664.2 501.0 L1665.8 500.7 L1667.4 500.5 L1668.9 500.2 L1670.5 499.8 L1672.0 499.5 L1673.6 499.1 L1675.2 498.7 L1676.7 498.3 L1678.3 497.9 L1679.8 497.5 L1681.4 497.0 L1683.0 496.6 L1684.5 496.2 L1686.1 495.8 L1687.6 495.5 L1689.2 495.1 L1690.8 494.8 L1692.3 494.5 L1693.9 494.3 L1695.4 494.0 L1697.0 493.8 L1698.6 493.6 L1700.1 493.3 L1701.7 493.0 L1703.2 492.8 L1704.8 492.4 L1706.4 492.1 L1707.9 491.6 L1709.5 491.2 L1711.0 490.4 L1712.6 489.1 L1714.2 487.5 L1715.7 485.8 L1717.3 484.5 L1718.8 483.7 L1720.4 483.6 L1722.0 483.6 L1723.5 483.7 L1725.1 483.8 L1726.6 483.9 L1728.2 484.0 L1729.8 483.9 L1731.3 483.5 L1732.9 482.7 L1734.4 481.7 L1736.0 480.7 L1737.6 479.7 L1739.1 479.0 L1740.7 478.4 L1742.2 478.0 L1743.8 477.6 L1745.4 477.2 L1746.9 476.8 L1748.5 476.5 L1750.0 476.2 L1751.6 475.9 L1753.2 475.6 L1754.7 475.3 L1756.3 475.0 L1757.8 474.7 L1759.4 474.5 L1761.0 474.3 L1762.5 474.1 L1764.1 474.0 L1765.6 473.9 L1767.2 474.0 L1768.8 474.2 L1770.3 474.4 L1771.9 474.7 L1773.4 475.0 L1775.0 475.4 L1776.6 475.8 L1778.1 476.2 L1779.7 476.6 L1781.2 477.0 L1782.8 477.4 L1784.4 477.9 L1785.9 478.4 L1787.5 479.0 L1789.0 479.6 L1790.6 480.2 L1792.2 480.8 L1793.7 481.5 L1795.3 482.2 L1796.8 482.8 L1798.4 483.5 L1800.0 484.2 L1801.5 485.0 L1803.1 485.7 L1804.6 486.5 L1806.2 487.4 L1807.8 488.2 L1809.3 489.1 L1810.9 490.0 L1812.4 490.9 L1814.0 491.8 L1815.6 492.7 L1817.1 493.7 L1818.7 494.6 L1820.2 495.6 L1821.8 496.6 L1823.4 497.6 L1824.9 498.6 L1826.5 499.7 L1828.0 500.7 L1829.6 501.8 L1831.2 503.1 L1832.7 504.6 L1834.3 505.9 L1835.8 507.0 L1837.4 507.5 L1839.0 507.5 L1840.5 507.5 L1842.1 507.5 L1843.6 507.5 L1845.2 507.3 L1846.8 506.6 L1848.3 505.4 L1849.9 503.9 L1851.4 502.2 L1852.5 512.7 L1879.8 512.7" fill="none" stroke="#22ab3c" stroke-width="1.15" stroke-linejoin="round"/>
<path d="M1559.7 512.7 L1587.0 512.7 L1587.8 480.3 L1589.4 484.8 L1590.9 488.9 L1592.5 492.4 L1594.0 495.3 L1595.6 497.9 L1597.2 500.3 L1598.7 501.6 L1600.3 501.7 L1601.8 501.5 L1603.4 501.2 L1605.0 500.9 L1606.5 500.7 L1608.1 500.6 L1609.6 500.7 L1611.2 500.9 L1612.8 501.3 L1614.3 501.6 L1615.9 502.1 L1617.4 502.5 L1619.0 502.9 L1620.6 503.3 L1622.1 503.6 L1623.7 503.8 L1625.2 503.9 L1626.8 503.9 L1628.4 503.8 L1629.9 503.8 L1631.5 503.7 L1633.0 503.7 L1634.6 503.6 L1636.2 503.5 L1637.7 503.4 L1639.3 503.3 L1640.8 503.2 L1642.4 503.1 L1644.0 503.0 L1645.5 502.8 L1647.1 502.7 L1648.6 502.6 L1650.2 502.4 L1651.8 502.2 L1653.3 502.0 L1654.9 501.8 L1656.4 501.5 L1658.0 501.3 L1659.6 501.0 L1661.1 500.7 L1662.7 500.5 L1664.2 500.2 L1665.8 499.9 L1667.4 499.6 L1668.9 499.3 L1670.5 498.9 L1672.0 498.5 L1673.6 498.1 L1675.2 497.7 L1676.7 497.3 L1678.3 496.8 L1679.8 496.4 L1681.4 495.9 L1683.0 495.5 L1684.5 495.0 L1686.1 494.6 L1687.6 494.2 L1689.2 493.8 L1690.8 493.5 L1692.3 493.2 L1693.9 492.9 L1695.4 492.7 L1697.0 492.4 L1698.6 492.2 L1700.1 491.9 L1701.7 491.6 L1703.2 491.3 L1704.8 491.0 L1706.4 490.6 L1707.9 490.1 L1709.5 489.6 L1711.0 488.8 L1712.6 487.4 L1714.2 485.6 L1715.7 483.9 L1717.3 482.4 L1718.8 481.5 L1720.4 481.5 L1722.0 481.5 L1723.5 481.6 L1725.1 481.7 L1726.6 481.8 L1728.2 481.9 L1729.8 481.8 L1731.3 481.4 L1732.9 480.5 L1734.4 479.5 L1736.0 478.4 L1737.6 477.3 L1739.1 476.5 L1740.7 475.9 L1742.2 475.5 L1743.8 475.0 L1745.4 474.6 L1746.9 474.2 L1748.5 473.8 L1750.0 473.5 L1751.6 473.2 L1753.2 472.9 L1754.7 472.6 L1756.3 472.3 L1757.8 472.0 L1759.4 471.7 L1761.0 471.5 L1762.5 471.3 L1764.1 471.1 L1765.6 471.1 L1767.2 471.2 L1768.8 471.3 L1770.3 471.6 L1771.9 471.9 L1773.4 472.3 L1775.0 472.7 L1776.6 473.1 L1778.1 473.5 L1779.7 474.0 L1781.2 474.4 L1782.8 474.9 L1784.4 475.4 L1785.9 475.9 L1787.5 476.5 L1789.0 477.2 L1790.6 477.8 L1792.2 478.5 L1793.7 479.2 L1795.3 479.9 L1796.8 480.7 L1798.4 481.4 L1800.0 482.2 L1801.5 482.9 L1803.1 483.8 L1804.6 484.6 L1806.2 485.5 L1807.8 486.4 L1809.3 487.4 L1810.9 488.3 L1812.4 489.3 L1814.0 490.3 L1815.6 491.3 L1817.1 492.3 L1818.7 493.3 L1820.2 494.3 L1821.8 495.4 L1823.4 496.5 L1824.9 497.6 L1826.5 498.7 L1828.0 499.8 L1829.6 501.0 L1831.2 502.4 L1832.7 504.0 L1834.3 505.5 L1835.8 506.6 L1837.4 507.1 L1839.0 507.1 L1840.5 507.1 L1842.1 507.1 L1843.6 507.1 L1845.2 506.8 L1846.8 505.9 L1848.3 504.3 L1849.9 502.3 L1851.4 500.1 L1852.5 512.7 L1879.8 512.7" fill="none" stroke="#22ab3c" stroke-width="1.15" stroke-linejoin="round"/>
<path d="M1561.8 512.7 L1587.0 512.7 L1587.8 470.9 L1589.4 477.8 L1590.9 484.0 L1592.5 488.8 L1594.0 492.4 L1595.6 495.7 L1597.1 498.4 L1598.7 499.8 L1600.2 499.7 L1601.8 498.8 L1603.3 497.7 L1604.9 496.8 L1606.4 496.6 L1608.0 496.6 L1609.5 496.6 L1611.1 496.6 L1612.7 496.6 L1614.2 496.6 L1615.8 496.6 L1617.3 496.6 L1618.9 496.6 L1620.4 496.6 L1622.0 496.6 L1623.5 496.6 L1625.1 496.6 L1626.6 496.5 L1628.2 496.3 L1629.7 496.1 L1631.3 495.7 L1632.9 495.3 L1634.4 494.8 L1636.0 494.4 L1637.5 493.8 L1639.1 493.3 L1640.6 492.8 L1642.2 492.3 L1643.7 491.9 L1645.3 491.3 L1646.8 490.8 L1648.4 490.2 L1649.9 489.6 L1651.5 489.0 L1653.1 488.4 L1654.6 487.7 L1656.2 487.1 L1657.7 486.4 L1659.3 485.8 L1660.8 485.1 L1662.4 484.4 L1663.9 483.7 L1665.5 482.9 L1667.0 482.2 L1668.6 481.4 L1670.1 480.7 L1671.7 480.0 L1673.3 479.4 L1674.8 478.8 L1676.4 478.3 L1677.9 477.8 L1679.5 477.3 L1681.0 476.8 L1682.6 476.3 L1684.1 475.9 L1685.7 475.5 L1687.2 475.1 L1688.8 474.8 L1690.3 474.5 L1691.9 474.3 L1693.4 474.2 L1695.0 474.0 L1696.6 473.9 L1698.1 473.8 L1699.7 473.7 L1701.2 473.6 L1702.8 473.6 L1704.3 473.7 L1705.9 474.4 L1707.4 475.5 L1709.0 476.7 L1710.5 477.6 L1712.1 478.0 L1713.6 477.1 L1715.2 475.0 L1716.8 472.6 L1718.3 470.8 L1719.9 470.3 L1721.4 471.3 L1723.0 473.2 L1724.5 475.5 L1726.1 477.7 L1727.6 479.2 L1729.2 480.0 L1730.7 480.5 L1732.3 480.9 L1733.8 481.3 L1735.4 481.7 L1737.0 482.0 L1738.5 482.4 L1740.1 482.9 L1741.6 483.4 L1743.2 484.0 L1744.7 484.6 L1746.3 485.1 L1747.8 485.7 L1749.4 486.4 L1750.9 487.0 L1752.5 487.6 L1754.0 488.2 L1755.6 488.8 L1757.2 489.5 L1758.7 490.1 L1760.3 490.7 L1761.8 491.3 L1763.4 491.9 L1764.9 492.6 L1766.5 493.2 L1768.0 493.8 L1769.6 494.5 L1771.1 495.1 L1772.7 495.7 L1774.2 496.3 L1775.8 497.0 L1777.4 497.6 L1778.9 498.2 L1780.5 498.7 L1782.0 499.3 L1783.6 499.9 L1785.1 500.5 L1786.7 501.1 L1788.2 501.7 L1789.8 502.3 L1791.3 502.9 L1792.9 503.5 L1794.4 504.0 L1796.0 504.6 L1797.5 505.1 L1799.1 505.5 L1800.7 506.0 L1802.2 506.4 L1803.8 506.8 L1805.3 507.2 L1806.9 507.5 L1808.4 507.9 L1810.0 508.2 L1811.5 508.6 L1813.1 508.9 L1814.6 509.2 L1816.2 509.5 L1817.7 509.8 L1819.3 510.0 L1820.9 510.3 L1822.4 510.6 L1824.0 510.8 L1825.5 511.1 L1827.1 511.3 L1828.6 511.6 L1830.2 511.8 L1831.7 512.1 L1833.3 512.2 L1834.8 512.4 L1836.4 512.5 L1837.9 512.5 L1839.5 512.5 L1841.1 512.4 L1842.6 512.3 L1844.2 512.1 L1845.7 511.9 L1847.3 511.6 L1848.8 511.4 L1850.4 511.0 L1852.5 512.7 L1877.7 512.7" fill="none" stroke="#4b8df0" stroke-width="1.15" stroke-linejoin="round"/>
<path d="M1561.8 512.7 L1587.0 512.7 L1587.8 473.0 L1589.4 479.3 L1590.9 484.8 L1592.5 489.3 L1594.0 492.7 L1595.6 496.0 L1597.1 498.7 L1598.7 500.1 L1600.2 500.0 L1601.8 499.1 L1603.3 498.0 L1604.9 497.1 L1606.4 496.9 L1608.0 496.9 L1609.5 496.9 L1611.1 496.9 L1612.7 496.9 L1614.2 496.9 L1615.8 496.9 L1617.3 496.9 L1618.9 496.9 L1620.4 496.9 L1622.0 496.9 L1623.5 496.9 L1625.1 496.9 L1626.6 496.8 L1628.2 496.7 L1629.7 496.4 L1631.3 496.1 L1632.9 495.7 L1634.4 495.2 L1636.0 494.7 L1637.5 494.2 L1639.1 493.7 L1640.6 493.2 L1642.2 492.7 L1643.7 492.3 L1645.3 491.8 L1646.8 491.2 L1648.4 490.6 L1649.9 490.1 L1651.5 489.5 L1653.1 488.8 L1654.6 488.2 L1656.2 487.6 L1657.7 487.0 L1659.3 486.3 L1660.8 485.7 L1662.4 485.0 L1663.9 484.2 L1665.5 483.5 L1667.0 482.8 L1668.6 482.0 L1670.1 481.3 L1671.7 480.7 L1673.3 480.0 L1674.8 479.5 L1676.4 478.9 L1677.9 478.5 L1679.5 478.0 L1681.0 477.5 L1682.6 477.1 L1684.1 476.6 L1685.7 476.2 L1687.2 475.9 L1688.8 475.6 L1690.3 475.3 L1691.9 475.1 L1693.4 474.9 L1695.0 474.8 L1696.6 474.7 L1698.1 474.6 L1699.7 474.5 L1701.2 474.4 L1702.8 474.4 L1704.3 474.5 L1705.9 475.5 L1707.4 477.0 L1709.0 478.6 L1710.5 479.9 L1712.1 480.4 L1713.6 479.3 L1715.2 476.8 L1716.8 473.9 L1718.3 471.8 L1719.9 471.2 L1721.4 472.2 L1723.0 474.0 L1724.5 476.3 L1726.1 478.4 L1727.6 479.9 L1729.2 480.6 L1730.7 481.1 L1732.3 481.6 L1733.8 482.0 L1735.4 482.3 L1737.0 482.6 L1738.5 483.0 L1740.1 483.5 L1741.6 484.0 L1743.2 484.6 L1744.7 485.1 L1746.3 485.7 L1747.8 486.3 L1749.4 486.9 L1750.9 487.5 L1752.5 488.1 L1754.0 488.7 L1755.6 489.3 L1757.2 489.9 L1758.7 490.5 L1760.3 491.1 L1761.8 491.7 L1763.4 492.3 L1764.9 493.0 L1766.5 493.6 L1768.0 494.2 L1769.6 494.8 L1771.1 495.4 L1772.7 496.1 L1774.2 496.7 L1775.8 497.3 L1777.4 497.9 L1778.9 498.5 L1780.5 499.0 L1782.0 499.6 L1783.6 500.2 L1785.1 500.8 L1786.7 501.4 L1788.2 502.0 L1789.8 502.5 L1791.3 503.1 L1792.9 503.7 L1794.4 504.2 L1796.0 504.7 L1797.5 505.2 L1799.1 505.7 L1800.7 506.1 L1802.2 506.5 L1803.8 506.9 L1805.3 507.3 L1806.9 507.6 L1808.4 508.0 L1810.0 508.3 L1811.5 508.6 L1813.1 509.0 L1814.6 509.3 L1816.2 509.6 L1817.7 509.8 L1819.3 510.1 L1820.9 510.4 L1822.4 510.6 L1824.0 510.8 L1825.5 511.1 L1827.1 511.4 L1828.6 511.6 L1830.2 511.9 L1831.7 512.1 L1833.3 512.3 L1834.8 512.4 L1836.4 512.5 L1837.9 512.5 L1839.5 512.5 L1841.1 512.4 L1842.6 512.4 L1844.2 512.2 L1845.7 512.1 L1847.3 511.9 L1848.8 511.7 L1850.4 511.4 L1852.5 512.7 L1877.7 512.7" fill="none" stroke="#4b8df0" stroke-width="1.15" stroke-linejoin="round"/>
<line x1="1541.5" y1="306.6" x2="1898.3" y2="306.6" stroke="#c2c2c2" stroke-width="1.2" />
<path d="M1541.5 306.0 V523.0 H1898.3 V306.0" fill="none" stroke="#2a2a2a" stroke-width="1.7"/>
<text x="849.4" y="73.0" font-size="37.4" text-anchor="middle" textLength="161.9" lengthAdjust="spacingAndGlyphs" class="t">OCI-AML2</text>
<text x="1266.7" y="74.0" font-size="37.4" text-anchor="middle" textLength="134.6" lengthAdjust="spacingAndGlyphs" class="t">MV-4-11</text>
<text x="1701.0" y="74.0" font-size="37.4" text-anchor="middle" textLength="99.0" lengthAdjust="spacingAndGlyphs" class="t">SKM-1</text>
<text x="1261.2" y="116.5" font-size="26.5" textLength="71.9" lengthAdjust="spacingAndGlyphs" class="t">Day 3</text>
<text x="1262.8" y="343.3" font-size="26.5" textLength="71.9" lengthAdjust="spacingAndGlyphs" class="t">Day 5</text>
<text x="1686.8" y="122.7" font-size="26.5" textLength="71.3" lengthAdjust="spacingAndGlyphs" class="t">Day 3</text>
<text x="1688.8" y="349.6" font-size="26.5" textLength="71.9" lengthAdjust="spacingAndGlyphs" class="t">Day 5</text>
<text x="666.4" y="124.2" font-size="22.9" text-anchor="end" textLength="43.1" lengthAdjust="spacingAndGlyphs" class="t">0.04</text>
<text x="666.6" y="167.2" font-size="22.9" text-anchor="end" textLength="43.3" lengthAdjust="spacingAndGlyphs" class="t">0.03</text>
<text x="666.8" y="209.7" font-size="22.9" text-anchor="end" textLength="43.5" lengthAdjust="spacingAndGlyphs" class="t">0.02</text>
<text x="666.7" y="252.7" font-size="22.9" text-anchor="end" textLength="43.4" lengthAdjust="spacingAndGlyphs" class="t">0.01</text>
<text x="666.5" y="295.2" font-size="22.9" text-anchor="end" textLength="43.2" lengthAdjust="spacingAndGlyphs" class="t">0.00</text>
<text x="666.4" y="348.2" font-size="22.9" text-anchor="end" textLength="43.1" lengthAdjust="spacingAndGlyphs" class="t">0.04</text>
<text x="666.6" y="390.7" font-size="22.9" text-anchor="end" textLength="43.3" lengthAdjust="spacingAndGlyphs" class="t">0.03</text>
<text x="666.8" y="433.7" font-size="22.9" text-anchor="end" textLength="43.5" lengthAdjust="spacingAndGlyphs" class="t">0.02</text>
<text x="666.7" y="476.7" font-size="22.9" text-anchor="end" textLength="43.4" lengthAdjust="spacingAndGlyphs" class="t">0.01</text>
<text x="666.5" y="517.7" font-size="22.9" text-anchor="end" textLength="43.2" lengthAdjust="spacingAndGlyphs" class="t">0.00</text>
<text x="1098.6" y="131.8" font-size="22.9" text-anchor="end" textLength="54.8" lengthAdjust="spacingAndGlyphs" class="t">0.075</text>
<text x="1098.5" y="189.4" font-size="22.9" text-anchor="end" textLength="54.7" lengthAdjust="spacingAndGlyphs" class="t">0.050</text>
<text x="1101.5" y="240.2" font-size="22.9" text-anchor="end" textLength="54.8" lengthAdjust="spacingAndGlyphs" class="t">0.025</text>
<text x="1098.5" y="297.0" font-size="22.9" text-anchor="end" textLength="43.2" lengthAdjust="spacingAndGlyphs" class="t">0.00</text>
<text x="1098.6" y="353.5" font-size="22.9" text-anchor="end" textLength="54.8" lengthAdjust="spacingAndGlyphs" class="t">0.075</text>
<text x="1098.5" y="411.0" font-size="22.9" text-anchor="end" textLength="54.7" lengthAdjust="spacingAndGlyphs" class="t">0.050</text>
<text x="1101.5" y="462.1" font-size="22.9" text-anchor="end" textLength="54.8" lengthAdjust="spacingAndGlyphs" class="t">0.025</text>
<text x="1098.5" y="518.6" font-size="22.9" text-anchor="end" textLength="43.2" lengthAdjust="spacingAndGlyphs" class="t">0.00</text>
<text x="1533.6" y="138.9" font-size="22.9" text-anchor="end" textLength="54.8" lengthAdjust="spacingAndGlyphs" class="t">0.075</text>
<text x="1533.5" y="189.6" font-size="22.9" text-anchor="end" textLength="54.7" lengthAdjust="spacingAndGlyphs" class="t">0.050</text>
<text x="1533.6" y="243.7" font-size="22.9" text-anchor="end" textLength="54.8" lengthAdjust="spacingAndGlyphs" class="t">0.025</text>
<text x="1530.1" y="294.0" font-size="22.9" text-anchor="end" textLength="43.2" lengthAdjust="spacingAndGlyphs" class="t">0.00</text>
<text x="1533.6" y="360.5" font-size="22.9" text-anchor="end" textLength="54.8" lengthAdjust="spacingAndGlyphs" class="t">0.075</text>
<text x="1533.5" y="412.2" font-size="22.9" text-anchor="end" textLength="54.7" lengthAdjust="spacingAndGlyphs" class="t">0.050</text>
<text x="1533.6" y="465.1" font-size="22.9" text-anchor="end" textLength="54.8" lengthAdjust="spacingAndGlyphs" class="t">0.025</text>
<text x="1530.1" y="516.3" font-size="22.9" text-anchor="end" textLength="43.2" lengthAdjust="spacingAndGlyphs" class="t">0.00</text>
<text x="714.6" y="555.0" font-size="25.0" text-anchor="middle" textLength="14.5" lengthAdjust="spacingAndGlyphs" class="t">0</text>
<text x="820.9" y="555.0" font-size="25.0" text-anchor="middle" textLength="27.4" lengthAdjust="spacingAndGlyphs" class="t">40</text>
<text x="926.3" y="555.0" font-size="25.0" text-anchor="middle" textLength="28.1" lengthAdjust="spacingAndGlyphs" class="t">80</text>
<text x="1160.3" y="555.0" font-size="25.0" text-anchor="middle" textLength="14.5" lengthAdjust="spacingAndGlyphs" class="t">0</text>
<text x="1266.7" y="555.0" font-size="25.0" text-anchor="middle" textLength="27.4" lengthAdjust="spacingAndGlyphs" class="t">40</text>
<text x="1372.6" y="555.0" font-size="25.0" text-anchor="middle" textLength="28.1" lengthAdjust="spacingAndGlyphs" class="t">80</text>
<text x="1588.6" y="555.0" font-size="25.0" text-anchor="middle" textLength="14.5" lengthAdjust="spacingAndGlyphs" class="t">0</text>
<text x="1695.5" y="555.0" font-size="25.0" text-anchor="middle" textLength="27.4" lengthAdjust="spacingAndGlyphs" class="t">40</text>
<text x="1800.9" y="555.0" font-size="25.0" text-anchor="middle" textLength="28.1" lengthAdjust="spacingAndGlyphs" class="t">80</text>
<line x1="609.4" y1="515.0" x2="609.4" y2="118.0" stroke="#1a1a1a" stroke-width="2.8" />
<polygon points="609.4,97.8 598.3,124.0 609.4,119.2 620.8,124.0" fill="#1a1a1a"/>
<text transform="translate(599.5 526.5) rotate(-90)" font-size="31.6" textLength="105.0" lengthAdjust="spacingAndGlyphs">Density</text>
<line x1="865.5" y1="577.8" x2="927.0" y2="577.8" stroke="#e9533a" stroke-width="2.4" />
<text x="932.3" y="582.3" font-size="26.0" textLength="72.1" lengthAdjust="spacingAndGlyphs" class="t">DMSO</text>
<line x1="1029.5" y1="577.0" x2="1091.5" y2="577.0" stroke="#22ab3c" stroke-width="2.3" />
<text x="1097.3" y="584.0" font-size="26.0" textLength="222.0" lengthAdjust="spacingAndGlyphs" class="t">Conventional Aza</text>
<line x1="1380.0" y1="577.0" x2="1442.0" y2="577.0" stroke="#3d9bf0" stroke-width="2.3" />
<text x="1446.5" y="584.0" font-size="26.0" textLength="175.3" lengthAdjust="spacingAndGlyphs" class="t">Extended Aza</text>
<line x1="603.0" y1="592.3" x2="1862.0" y2="592.3" stroke="#1a1a1a" stroke-width="2.3" />
<polygon points="1880.0,592.5 1843.0,582.3 1853.5,592.5 1843.0,603.3" fill="#1a1a1a"/>
<text x="665.5" y="622.0" font-size="31.4" textLength="65.1" lengthAdjust="spacingAndGlyphs">Beta</text>
<rect x="138.0" y="742.6" width="176.4" height="575.4" fill="#fff"/>
<line x1="138.0" y1="1313.2" x2="314.4" y2="1313.2" stroke="#ebebeb" stroke-width="1.2" />
<line x1="138.0" y1="1244.4" x2="314.4" y2="1244.4" stroke="#ebebeb" stroke-width="1.2" />
<line x1="138.0" y1="1175.6" x2="314.4" y2="1175.6" stroke="#ebebeb" stroke-width="1.2" />
<line x1="138.0" y1="1106.8" x2="314.4" y2="1106.8" stroke="#ebebeb" stroke-width="1.2" />
<line x1="138.0" y1="1038.0" x2="314.4" y2="1038.0" stroke="#ebebeb" stroke-width="1.2" />
<line x1="138.0" y1="969.2" x2="314.4" y2="969.2" stroke="#ebebeb" stroke-width="1.2" />
<line x1="138.0" y1="900.4" x2="314.4" y2="900.4" stroke="#ebebeb" stroke-width="1.2" />
<line x1="138.0" y1="831.6" x2="314.4" y2="831.6" stroke="#ebebeb" stroke-width="1.2" />
<line x1="138.0" y1="1278.8" x2="314.4" y2="1278.8" stroke="#e5e5e5" stroke-width="1.5" />
<line x1="138.0" y1="1210.0" x2="314.4" y2="1210.0" stroke="#e5e5e5" stroke-width="1.5" />
<line x1="138.0" y1="1141.2" x2="314.4" y2="1141.2" stroke="#e5e5e5" stroke-width="1.5" />
<line x1="138.0" y1="1072.4" x2="314.4" y2="1072.4" stroke="#e5e5e5" stroke-width="1.5" />
<line x1="138.0" y1="1003.6" x2="314.4" y2="1003.6" stroke="#e5e5e5" stroke-width="1.5" />
<line x1="138.0" y1="934.8" x2="314.4" y2="934.8" stroke="#e5e5e5" stroke-width="1.5" />
<line x1="138.0" y1="866.0" x2="314.4" y2="866.0" stroke="#e5e5e5" stroke-width="1.5" />
<line x1="138.0" y1="797.2" x2="314.4" y2="797.2" stroke="#e5e5e5" stroke-width="1.5" />
<line x1="185.4" y1="742.6" x2="185.4" y2="1318.0" stroke="#e5e5e5" stroke-width="1.5" />
<line x1="185.4" y1="1318.0" x2="185.4" y2="1322.0" stroke="#444" stroke-width="1.4" />
<line x1="265.9" y1="742.6" x2="265.9" y2="1318.0" stroke="#e5e5e5" stroke-width="1.5" />
<line x1="265.9" y1="1318.0" x2="265.9" y2="1322.0" stroke="#444" stroke-width="1.4" />
<rect x="149.3" y="982.0" width="36.9" height="90.4" fill="#f40b1e"/>
<rect x="149.3" y="1072.4" width="36.9" height="96.2" fill="#bb0813"/>
<rect x="186.2" y="1036.7" width="36.5" height="35.7" fill="#2b8af5"/>
<rect x="186.2" y="1072.4" width="36.5" height="42.3" fill="#3257be"/>
<rect x="230.2" y="918.0" width="36.5" height="154.4" fill="#f40b1e"/>
<rect x="230.2" y="1072.4" width="36.5" height="211.1" fill="#bb0813"/>
<rect x="266.7" y="887.8" width="36.1" height="184.6" fill="#2b8af5"/>
<rect x="266.7" y="1072.4" width="36.1" height="205.3" fill="#3257be"/>
<rect x="138.0" y="742.6" width="176.4" height="575.4" fill="none" stroke="#555" stroke-width="1.6"/>
<rect x="323.5" y="742.6" width="176.7" height="575.4" fill="#fff"/>
<line x1="323.5" y1="1313.2" x2="500.2" y2="1313.2" stroke="#ebebeb" stroke-width="1.2" />
<line x1="323.5" y1="1244.4" x2="500.2" y2="1244.4" stroke="#ebebeb" stroke-width="1.2" />
<line x1="323.5" y1="1175.6" x2="500.2" y2="1175.6" stroke="#ebebeb" stroke-width="1.2" />
<line x1="323.5" y1="1106.8" x2="500.2" y2="1106.8" stroke="#ebebeb" stroke-width="1.2" />
<line x1="323.5" y1="1038.0" x2="500.2" y2="1038.0" stroke="#ebebeb" stroke-width="1.2" />
<line x1="323.5" y1="969.2" x2="500.2" y2="969.2" stroke="#ebebeb" stroke-width="1.2" />
<line x1="323.5" y1="900.4" x2="500.2" y2="900.4" stroke="#ebebeb" stroke-width="1.2" />
<line x1="323.5" y1="831.6" x2="500.2" y2="831.6" stroke="#ebebeb" stroke-width="1.2" />
<line x1="323.5" y1="1278.8" x2="500.2" y2="1278.8" stroke="#e5e5e5" stroke-width="1.5" />
<line x1="323.5" y1="1210.0" x2="500.2" y2="1210.0" stroke="#e5e5e5" stroke-width="1.5" />
<line x1="323.5" y1="1141.2" x2="500.2" y2="1141.2" stroke="#e5e5e5" stroke-width="1.5" />
<line x1="323.5" y1="1072.4" x2="500.2" y2="1072.4" stroke="#e5e5e5" stroke-width="1.5" />
<line x1="323.5" y1="1003.6" x2="500.2" y2="1003.6" stroke="#e5e5e5" stroke-width="1.5" />
<line x1="323.5" y1="934.8" x2="500.2" y2="934.8" stroke="#e5e5e5" stroke-width="1.5" />
<line x1="323.5" y1="866.0" x2="500.2" y2="866.0" stroke="#e5e5e5" stroke-width="1.5" />
<line x1="323.5" y1="797.2" x2="500.2" y2="797.2" stroke="#e5e5e5" stroke-width="1.5" />
<line x1="371.6" y1="742.6" x2="371.6" y2="1318.0" stroke="#e5e5e5" stroke-width="1.5" />
<line x1="371.6" y1="1318.0" x2="371.6" y2="1322.0" stroke="#444" stroke-width="1.4" />
<line x1="452.0" y1="742.6" x2="452.0" y2="1318.0" stroke="#e5e5e5" stroke-width="1.5" />
<line x1="452.0" y1="1318.0" x2="452.0" y2="1322.0" stroke="#444" stroke-width="1.4" />
<rect x="335.1" y="982.8" width="36.9" height="89.6" fill="#f40b1e"/>
<rect x="335.1" y="1072.4" width="36.9" height="77.6" fill="#bb0813"/>
<rect x="372.0" y="1028.0" width="37.0" height="44.4" fill="#2b8af5"/>
<rect x="372.0" y="1072.4" width="37.0" height="29.0" fill="#3257be"/>
<rect x="416.0" y="1019.7" width="36.5" height="52.7" fill="#f40b1e"/>
<rect x="416.0" y="1072.4" width="36.5" height="35.2" fill="#bb0813"/>
<rect x="452.5" y="969.5" width="36.1" height="102.9" fill="#2b8af5"/>
<rect x="452.5" y="1072.4" width="36.1" height="87.5" fill="#3257be"/>
<rect x="323.5" y="742.6" width="176.7" height="575.4" fill="none" stroke="#555" stroke-width="1.6"/>
<rect x="509.7" y="742.6" width="176.7" height="575.4" fill="#fff"/>
<line x1="509.7" y1="1313.2" x2="686.4" y2="1313.2" stroke="#ebebeb" stroke-width="1.2" />
<line x1="509.7" y1="1244.4" x2="686.4" y2="1244.4" stroke="#ebebeb" stroke-width="1.2" />
<line x1="509.7" y1="1175.6" x2="686.4" y2="1175.6" stroke="#ebebeb" stroke-width="1.2" />
<line x1="509.7" y1="1106.8" x2="686.4" y2="1106.8" stroke="#ebebeb" stroke-width="1.2" />
<line x1="509.7" y1="1038.0" x2="686.4" y2="1038.0" stroke="#ebebeb" stroke-width="1.2" />
<line x1="509.7" y1="969.2" x2="686.4" y2="969.2" stroke="#ebebeb" stroke-width="1.2" />
<line x1="509.7" y1="900.4" x2="686.4" y2="900.4" stroke="#ebebeb" stroke-width="1.2" />
<line x1="509.7" y1="831.6" x2="686.4" y2="831.6" stroke="#ebebeb" stroke-width="1.2" />
<line x1="509.7" y1="1278.8" x2="686.4" y2="1278.8" stroke="#e5e5e5" stroke-width="1.5" />
<line x1="509.7" y1="1210.0" x2="686.4" y2="1210.0" stroke="#e5e5e5" stroke-width="1.5" />
<line x1="509.7" y1="1141.2" x2="686.4" y2="1141.2" stroke="#e5e5e5" stroke-width="1.5" />
<line x1="509.7" y1="1072.4" x2="686.4" y2="1072.4" stroke="#e5e5e5" stroke-width="1.5" />
<line x1="509.7" y1="1003.6" x2="686.4" y2="1003.6" stroke="#e5e5e5" stroke-width="1.5" />
<line x1="509.7" y1="934.8" x2="686.4" y2="934.8" stroke="#e5e5e5" stroke-width="1.5" />
<line x1="509.7" y1="866.0" x2="686.4" y2="866.0" stroke="#e5e5e5" stroke-width="1.5" />
<line x1="509.7" y1="797.2" x2="686.4" y2="797.2" stroke="#e5e5e5" stroke-width="1.5" />
<line x1="557.8" y1="742.6" x2="557.8" y2="1318.0" stroke="#e5e5e5" stroke-width="1.5" />
<line x1="557.8" y1="1318.0" x2="557.8" y2="1322.0" stroke="#444" stroke-width="1.4" />
<line x1="638.3" y1="742.6" x2="638.3" y2="1318.0" stroke="#e5e5e5" stroke-width="1.5" />
<line x1="638.3" y1="1318.0" x2="638.3" y2="1322.0" stroke="#444" stroke-width="1.4" />
<rect x="521.0" y="769.2" width="36.8" height="303.2" fill="#f40b1e"/>
<rect x="521.0" y="1072.4" width="36.8" height="219.4" fill="#bb0813"/>
<rect x="557.8" y="807.7" width="36.9" height="264.7" fill="#2b8af5"/>
<rect x="557.8" y="1072.4" width="36.9" height="202.8" fill="#3257be"/>
<rect x="602.2" y="885.3" width="36.5" height="187.1" fill="#f40b1e"/>
<rect x="602.2" y="1072.4" width="36.5" height="89.1" fill="#bb0813"/>
<rect x="638.7" y="835.0" width="35.7" height="237.4" fill="#2b8af5"/>
<rect x="638.7" y="1072.4" width="35.7" height="172.1" fill="#3257be"/>
<rect x="509.7" y="742.6" width="176.7" height="575.4" fill="none" stroke="#555" stroke-width="1.6"/>
<line x1="132.0" y1="866.0" x2="138.0" y2="866.0" stroke="#444" stroke-width="1.4" />
<text x="129.5" y="872.3" font-size="24.4" text-anchor="end" textLength="54.5" lengthAdjust="spacingAndGlyphs" class="t">3000</text>
<line x1="132.0" y1="934.8" x2="138.0" y2="934.8" stroke="#444" stroke-width="1.4" />
<text x="129.5" y="941.1" font-size="24.4" text-anchor="end" textLength="54.8" lengthAdjust="spacingAndGlyphs" class="t">2000</text>
<line x1="132.0" y1="1003.6" x2="138.0" y2="1003.6" stroke="#444" stroke-width="1.4" />
<text x="129.5" y="1009.9" font-size="24.4" text-anchor="end" textLength="55.4" lengthAdjust="spacingAndGlyphs" class="t">1000</text>
<line x1="132.0" y1="1072.4" x2="138.0" y2="1072.4" stroke="#444" stroke-width="1.4" />
<text x="129.5" y="1078.7" font-size="24.4" text-anchor="end" textLength="14.6" lengthAdjust="spacingAndGlyphs" class="t">0</text>
<line x1="132.0" y1="1141.2" x2="138.0" y2="1141.2" stroke="#444" stroke-width="1.4" />
<text x="129.5" y="1147.5" font-size="24.4" text-anchor="end" textLength="63.0" lengthAdjust="spacingAndGlyphs" class="t">-1000</text>
<line x1="132.0" y1="1210.0" x2="138.0" y2="1210.0" stroke="#444" stroke-width="1.4" />
<text x="129.5" y="1216.3" font-size="24.4" text-anchor="end" textLength="63.0" lengthAdjust="spacingAndGlyphs" class="t">-2000</text>
<line x1="132.0" y1="1278.8" x2="138.0" y2="1278.8" stroke="#444" stroke-width="1.4" />
<text x="129.5" y="1285.1" font-size="24.4" text-anchor="end" textLength="63.0" lengthAdjust="spacingAndGlyphs" class="t">-3000</text>
<text x="139.5" y="729.0" font-size="37.4" textLength="161.8" lengthAdjust="spacingAndGlyphs" class="t">OCI-AML2</text>
<text x="336.4" y="729.0" font-size="37.4" textLength="135.3" lengthAdjust="spacingAndGlyphs" class="t">MV-4-11</text>
<text x="548.0" y="729.0" font-size="37.4" textLength="99.7" lengthAdjust="spacingAndGlyphs" class="t">SKM-1</text>
<text x="141.4" y="1350.2" font-size="31.2" textLength="78.0" lengthAdjust="spacingAndGlyphs" class="t">Day 3</text>
<text x="226.8" y="1350.2" font-size="31.2" textLength="78.4" lengthAdjust="spacingAndGlyphs" class="t">Day 5</text>
<text x="326.4" y="1350.2" font-size="31.2" textLength="78.7" lengthAdjust="spacingAndGlyphs" class="t">Day 3</text>
<text x="415.2" y="1350.2" font-size="31.2" textLength="78.4" lengthAdjust="spacingAndGlyphs" class="t">Day 5</text>
<text x="512.0" y="1350.2" font-size="31.2" textLength="77.6" lengthAdjust="spacingAndGlyphs" class="t">Day 3</text>
<text x="583.2" y="1350.2" font-size="31.2" textLength="73.4" lengthAdjust="spacingAndGlyphs" class="t">Day 5</text>
<text transform="translate(51.2 1376.0) rotate(-90)" font-size="31.8" textLength="715.5" lengthAdjust="spacingAndGlyphs">Number of significant differentially expressed genes</text>
<rect x="715.0" y="989.0" width="26.0" height="26.0" fill="#bb0813"/>
<text x="746.8" y="1005.7" font-size="31.8" textLength="350.6" lengthAdjust="spacingAndGlyphs">Conventional Aza (down)</text>
<rect x="715.0" y="1017.3" width="26.0" height="26.0" fill="#f40b1e"/>
<text x="746.8" y="1035.2" font-size="31.8" textLength="310.9" lengthAdjust="spacingAndGlyphs">Conventional Aza (up)</text>
<rect x="715.0" y="1045.6" width="26.0" height="26.0" fill="#3257be"/>
<text x="745.9" y="1064.7" font-size="31.8" textLength="301.1" lengthAdjust="spacingAndGlyphs">Extended Aza (down)</text>
<rect x="715.0" y="1073.9" width="26.0" height="26.0" fill="#2b8af5"/>
<text x="745.9" y="1094.2" font-size="31.8" textLength="260.7" lengthAdjust="spacingAndGlyphs">Extended Aza (up)</text>
<text x="1463.8" y="667.3" font-size="37.4" text-anchor="middle" textLength="99.8" lengthAdjust="spacingAndGlyphs" class="t">SKM-1</text>
<line x1="1089.5" y1="681.5" x2="1875.7" y2="681.5" stroke="#1a1a1a" stroke-width="3" />
<text x="1112.7" y="722.5" font-size="30.2" textLength="80.9" lengthAdjust="spacingAndGlyphs" class="t">Day 2</text>
<text x="1270.6" y="722.5" font-size="30.2" textLength="79.4" lengthAdjust="spacingAndGlyphs" class="t">Day 3</text>
<text x="1427.1" y="722.5" font-size="30.2" textLength="80.4" lengthAdjust="spacingAndGlyphs" class="t">Day 4</text>
<text x="1584.4" y="722.5" font-size="30.2" textLength="80.0" lengthAdjust="spacingAndGlyphs" class="t">Day 5</text>
<text x="1742.3" y="722.5" font-size="30.2" textLength="79.2" lengthAdjust="spacingAndGlyphs" class="t">Day 7</text>
<line x1="1097.0" y1="738.0" x2="1238.2" y2="738.0" stroke="#1a1a1a" stroke-width="2.6" />
<line x1="1267.3" y1="738.0" x2="1407.4" y2="738.0" stroke="#1a1a1a" stroke-width="2.6" />
<line x1="1421.0" y1="738.0" x2="1562.4" y2="738.0" stroke="#1a1a1a" stroke-width="2.6" />
<line x1="1572.0" y1="738.0" x2="1712.8" y2="738.0" stroke="#1a1a1a" stroke-width="2.6" />
<line x1="1725.3" y1="738.0" x2="1867.2" y2="738.0" stroke="#1a1a1a" stroke-width="2.6" />
<text transform="translate(1113.7 817.3) rotate(-45)" font-size="28.1" textLength="67.4" lengthAdjust="spacingAndGlyphs" class="t">DMSO</text>
<text transform="translate(1168.4 814.6) rotate(-45)" font-size="28.1" textLength="65.0" lengthAdjust="spacingAndGlyphs" class="t">Extn.</text>
<text transform="translate(1220.6 812.4) rotate(-45)" font-size="28.1" textLength="67.3" lengthAdjust="spacingAndGlyphs" class="t">Conv.</text>
<text transform="translate(1270.7 814.8) rotate(-45)" font-size="28.1" textLength="67.4" lengthAdjust="spacingAndGlyphs" class="t">DMSO</text>
<text transform="translate(1325.4 814.6) rotate(-45)" font-size="28.1" textLength="65.0" lengthAdjust="spacingAndGlyphs" class="t">Extn.</text>
<text transform="translate(1377.6 812.4) rotate(-45)" font-size="28.1" textLength="67.3" lengthAdjust="spacingAndGlyphs" class="t">Conv.</text>
<text transform="translate(1427.7 814.8) rotate(-45)" font-size="28.1" textLength="67.4" lengthAdjust="spacingAndGlyphs" class="t">DMSO</text>
<text transform="translate(1482.4 814.6) rotate(-45)" font-size="28.1" textLength="65.0" lengthAdjust="spacingAndGlyphs" class="t">Extn.</text>
<text transform="translate(1534.6 812.4) rotate(-45)" font-size="28.1" textLength="67.3" lengthAdjust="spacingAndGlyphs" class="t">Conv.</text>
<text transform="translate(1584.7 814.8) rotate(-45)" font-size="28.1" textLength="67.4" lengthAdjust="spacingAndGlyphs" class="t">DMSO</text>
<text transform="translate(1639.4 814.6) rotate(-45)" font-size="28.1" textLength="65.0" lengthAdjust="spacingAndGlyphs" class="t">Extn.</text>
<text transform="translate(1691.6 812.4) rotate(-45)" font-size="28.1" textLength="67.3" lengthAdjust="spacingAndGlyphs" class="t">Conv.</text>
<text transform="translate(1741.7 814.8) rotate(-45)" font-size="28.1" textLength="67.4" lengthAdjust="spacingAndGlyphs" class="t">DMSO</text>
<text transform="translate(1796.4 814.6) rotate(-45)" font-size="28.1" textLength="65.0" lengthAdjust="spacingAndGlyphs" class="t">Extn.</text>
<text transform="translate(1848.6 812.4) rotate(-45)" font-size="28.1" textLength="67.3" lengthAdjust="spacingAndGlyphs" class="t">Conv.</text>
<rect x="1088.3" y="822.8" width="790.4" height="45.4" fill="#fefefe"/>
<rect x="1088.3" y="873.6" width="790.4" height="45.4" fill="#fefefe"/>
<rect x="1103.5" y="824.0" width="46.2" height="43.5" fill="#fafafa"/>
<rect x="1103.5" y="851.6" width="46.2" height="19.8" fill="url(#b1)"/>
<rect x="1103.5" y="826.5" width="46.2" height="38.6" fill="url(#b2)"/>
<rect x="1155.0" y="824.0" width="44.8" height="43.5" fill="#fafafa"/>
<rect x="1155.0" y="827.8" width="44.8" height="36.0" fill="url(#b3)"/>
<rect x="1205.3" y="824.0" width="45.3" height="43.5" fill="#fafafa"/>
<rect x="1205.3" y="827.8" width="45.3" height="36.0" fill="url(#b4)"/>
<rect x="1256.0" y="824.0" width="45.4" height="43.5" fill="#fafafa"/>
<rect x="1256.0" y="851.6" width="45.4" height="19.8" fill="url(#b1)"/>
<rect x="1256.0" y="826.5" width="45.4" height="38.6" fill="url(#b5)"/>
<rect x="1307.4" y="824.0" width="44.6" height="43.5" fill="#fafafa"/>
<rect x="1307.4" y="826.8" width="44.6" height="38.0" fill="url(#b6)"/>
<rect x="1358.0" y="824.0" width="45.0" height="43.5" fill="#fafafa"/>
<rect x="1358.0" y="826.8" width="45.0" height="38.0" fill="url(#b7)"/>
<rect x="1407.0" y="824.0" width="46.8" height="43.5" fill="#fafafa"/>
<rect x="1407.0" y="851.6" width="46.8" height="19.8" fill="url(#b1)"/>
<rect x="1407.0" y="827.5" width="46.8" height="36.6" fill="url(#b8)"/>
<rect x="1459.0" y="824.0" width="45.0" height="43.5" fill="#fafafa"/>
<rect x="1459.0" y="826.8" width="45.0" height="38.0" fill="url(#b7)"/>
<rect x="1509.0" y="824.0" width="44.8" height="43.5" fill="#fafafa"/>
<rect x="1509.0" y="826.8" width="44.8" height="38.0" fill="url(#b7)"/>
<rect x="1573.0" y="824.0" width="46.0" height="43.5" fill="#fafafa"/>
<rect x="1573.0" y="851.6" width="46.0" height="19.8" fill="url(#b1)"/>
<rect x="1573.0" y="826.5" width="46.0" height="38.6" fill="url(#b9)"/>
<rect x="1624.7" y="824.0" width="45.3" height="43.5" fill="#fafafa"/>
<rect x="1624.7" y="826.8" width="45.3" height="38.0" fill="url(#b6)"/>
<rect x="1675.5" y="824.0" width="45.2" height="43.5" fill="#fafafa"/>
<rect x="1675.5" y="827.8" width="45.2" height="36.0" fill="url(#b10)"/>
<rect x="1725.6" y="824.0" width="46.7" height="43.5" fill="#fafafa"/>
<rect x="1725.6" y="851.6" width="46.7" height="19.8" fill="url(#b1)"/>
<rect x="1725.6" y="827.5" width="46.7" height="36.6" fill="url(#b8)"/>
<rect x="1777.6" y="824.0" width="44.8" height="43.5" fill="#fafafa"/>
<rect x="1777.6" y="827.8" width="44.8" height="36.0" fill="url(#b11)"/>
<rect x="1828.0" y="824.0" width="46.9" height="43.5" fill="#fafafa"/>
<rect x="1828.0" y="851.6" width="46.9" height="19.8" fill="url(#b1)"/>
<rect x="1828.0" y="828.5" width="46.9" height="34.6" fill="url(#b12)"/>
<rect x="1098.9" y="875.0" width="41.1" height="43.0" fill="#fafafa"/>
<rect x="1098.9" y="877.6" width="41.1" height="33.8" fill="url(#b13)"/>
<rect x="1145.3" y="875.0" width="47.2" height="43.0" fill="#fafafa"/>
<rect x="1145.3" y="877.6" width="47.2" height="33.8" fill="url(#b13)"/>
<rect x="1197.8" y="875.0" width="46.7" height="43.0" fill="#fafafa"/>
<rect x="1197.8" y="879.6" width="46.7" height="33.8" fill="url(#b14)"/>
<rect x="1250.0" y="875.0" width="46.6" height="43.0" fill="#fafafa"/>
<rect x="1250.0" y="876.6" width="46.6" height="33.8" fill="url(#b15)"/>
<rect x="1302.0" y="875.0" width="47.0" height="43.0" fill="#fafafa"/>
<rect x="1302.0" y="876.6" width="47.0" height="33.8" fill="url(#b13)"/>
<rect x="1354.0" y="875.0" width="47.3" height="43.0" fill="#fafafa"/>
<rect x="1354.0" y="877.6" width="47.3" height="33.8" fill="url(#b16)"/>
<rect x="1406.6" y="875.0" width="46.4" height="43.0" fill="#fafafa"/>
<rect x="1406.6" y="876.6" width="46.4" height="33.8" fill="url(#b17)"/>
<rect x="1458.5" y="875.0" width="46.9" height="43.0" fill="#fafafa"/>
<rect x="1458.5" y="875.6" width="46.9" height="33.8" fill="url(#b18)"/>
<rect x="1511.0" y="875.0" width="47.0" height="43.0" fill="#fafafa"/>
<rect x="1511.0" y="873.6" width="47.0" height="33.8" fill="url(#b19)"/>
<rect x="1563.0" y="875.0" width="47.7" height="43.0" fill="#fafafa"/>
<rect x="1563.0" y="877.6" width="47.7" height="33.8" fill="url(#b15)"/>
<rect x="1615.5" y="875.0" width="46.5" height="43.0" fill="#fafafa"/>
<rect x="1615.5" y="874.6" width="46.5" height="33.8" fill="url(#b20)"/>
<rect x="1667.5" y="875.0" width="46.7" height="43.0" fill="#fafafa"/>
<rect x="1667.5" y="874.6" width="46.7" height="33.8" fill="url(#b17)"/>
<rect x="1719.5" y="875.0" width="47.2" height="43.0" fill="#fafafa"/>
<rect x="1719.5" y="877.6" width="47.2" height="33.8" fill="url(#b15)"/>
<rect x="1772.3" y="875.0" width="46.4" height="43.0" fill="#fafafa"/>
<rect x="1772.3" y="873.6" width="46.4" height="33.8" fill="url(#b15)"/>
<rect x="1824.0" y="875.0" width="47.5" height="43.0" fill="#fafafa"/>
<rect x="1824.0" y="879.6" width="47.5" height="33.8" fill="url(#b13)"/>
<rect x="1088.3" y="822.8" width="790.4" height="45.4" fill="none" stroke="#222" stroke-width="1.3"/>
<rect x="1088.3" y="873.6" width="790.4" height="45.4" fill="none" stroke="#222" stroke-width="1.3"/>
<text x="953.4" y="855.3" font-size="29.1" textLength="95.9" lengthAdjust="spacingAndGlyphs" class="t">DNMT1</text>
<text x="953.6" y="900.9" font-size="29.1" textLength="98.2" lengthAdjust="spacingAndGlyphs" class="t">GAPDH</text>
<rect x="253.8" y="1558.4" width="87.1" height="378.6" fill="#000"/>
<rect x="382.8" y="1752.1" width="87.2" height="184.9" fill="#f75822"/>
<rect x="209.6" y="1480.0" width="3.6" height="461.5" fill="#000"/>
<line x1="192.0" y1="1937.0" x2="514.5" y2="1937.0" stroke="#000" stroke-width="4" stroke-linecap="round"/>
<line x1="192.0" y1="1483.8" x2="211.0" y2="1483.8" stroke="#000" stroke-width="4" stroke-linecap="round"/>
<text x="186.3" y="1497.0" font-size="34.5" text-anchor="end" font-weight="bold" textLength="57.1" lengthAdjust="spacingAndGlyphs" fill="#000">250</text>
<line x1="192.0" y1="1574.2" x2="211.0" y2="1574.2" stroke="#000" stroke-width="4" stroke-linecap="round"/>
<text x="186.3" y="1587.4" font-size="34.5" text-anchor="end" font-weight="bold" textLength="57.1" lengthAdjust="spacingAndGlyphs" fill="#000">200</text>
<line x1="192.0" y1="1664.6" x2="211.0" y2="1664.6" stroke="#000" stroke-width="4" stroke-linecap="round"/>
<text x="186.2" y="1677.8" font-size="34.5" text-anchor="end" font-weight="bold" textLength="55.2" lengthAdjust="spacingAndGlyphs" fill="#000">150</text>
<line x1="192.0" y1="1755.4" x2="211.0" y2="1755.4" stroke="#000" stroke-width="4" stroke-linecap="round"/>
<text x="186.2" y="1768.6" font-size="34.5" text-anchor="end" font-weight="bold" textLength="53.8" lengthAdjust="spacingAndGlyphs" fill="#000">100</text>
<line x1="192.0" y1="1846.3" x2="211.0" y2="1846.3" stroke="#000" stroke-width="4" stroke-linecap="round"/>
<text x="186.2" y="1859.5" font-size="34.5" text-anchor="end" font-weight="bold" textLength="36.9" lengthAdjust="spacingAndGlyphs" fill="#000">50</text>
<line x1="192.0" y1="1937.0" x2="211.0" y2="1937.0" stroke="#000" stroke-width="4" stroke-linecap="round"/>
<text x="186.2" y="1950.2" font-size="34.5" text-anchor="end" font-weight="bold" textLength="18.7" lengthAdjust="spacingAndGlyphs" fill="#000">0</text>
<rect x="359.0" y="1937.0" width="3.6" height="20.0" fill="#000"/>
<text x="267.1" y="1991.8" font-size="31.8" textLength="168.6" lengthAdjust="spacingAndGlyphs">PBMC-DNA</text>
<text transform="translate(107.8 1950.3) rotate(-90)" font-size="31.8" textLength="377.4" lengthAdjust="spacingAndGlyphs">Incorporation of Aza (AUC)</text>
<rect x="403.0" y="1502.9" width="47.8" height="23.6" fill="#000"/>
<rect x="403.0" y="1564.2" width="47.8" height="23.7" fill="#f75822"/>
<text x="476.5" y="1525.7" font-size="30.2" textLength="131.0" lengthAdjust="spacingAndGlyphs" class="t">Extended</text>
<text x="476.7" y="1587.5" font-size="30.2" textLength="180.6" lengthAdjust="spacingAndGlyphs" class="t">Conventional</text>
<text x="1302.6" y="1458.0" font-size="37.4" text-anchor="middle" textLength="145.0" lengthAdjust="spacingAndGlyphs" class="t">24 hours</text>
<line x1="864.5" y1="1469.1" x2="1884.8" y2="1472.6" stroke="#1a1a1a" stroke-width="3" />
<text x="928.4" y="1508.3" font-size="30.2" textLength="113.4" lengthAdjust="spacingAndGlyphs" class="t">MV-4-11</text>
<line x1="901.8" y1="1522.5" x2="1059.0" y2="1522.5" stroke="#1a1a1a" stroke-width="2.6" />
<text x="1233.8" y="1508.3" font-size="30.2" textLength="83.2" lengthAdjust="spacingAndGlyphs" class="t">SKM-1</text>
<line x1="1204.8" y1="1522.5" x2="1362.7" y2="1522.5" stroke="#1a1a1a" stroke-width="2.6" />
<text x="1591.3" y="1508.5" font-size="30.2" textLength="117.7" lengthAdjust="spacingAndGlyphs" class="t">AML-193</text>
<line x1="1493.0" y1="1523.0" x2="1806.8" y2="1523.0" stroke="#1a1a1a" stroke-width="2.6" />
<text x="1639.4" y="1557.6" font-size="30.2" textLength="178.1" lengthAdjust="spacingAndGlyphs" class="t">200 nM ISRIB</text>
<line x1="1647.5" y1="1569.3" x2="1805.0" y2="1569.3" stroke="#1a1a1a" stroke-width="2.6" />
<text transform="translate(919.7 1651.3) rotate(-45)" font-size="29.1" textLength="67.9" lengthAdjust="spacingAndGlyphs" class="t">DMSO</text>
<text transform="translate(976.2 1645.3) rotate(-45)" font-size="29.1" textLength="86.4" lengthAdjust="spacingAndGlyphs" class="t">0.2 µM</text>
<text transform="translate(1029.1 1642.4) rotate(-45)" font-size="29.1" textLength="59.2" lengthAdjust="spacingAndGlyphs" class="t">1 µM</text>
<text transform="translate(1223.2 1653.8) rotate(-45)" font-size="29.1" textLength="67.9" lengthAdjust="spacingAndGlyphs" class="t">DMSO</text>
<text transform="translate(1280.2 1649.3) rotate(-45)" font-size="29.1" textLength="86.4" lengthAdjust="spacingAndGlyphs" class="t">0.2 µM</text>
<text transform="translate(1334.6 1646.4) rotate(-45)" font-size="29.1" textLength="59.2" lengthAdjust="spacingAndGlyphs" class="t">1 µM</text>
<text transform="translate(1512.2 1653.3) rotate(-45)" font-size="29.1" textLength="67.9" lengthAdjust="spacingAndGlyphs" class="t">DMSO</text>
<text transform="translate(1565.7 1649.8) rotate(-45)" font-size="29.1" textLength="86.4" lengthAdjust="spacingAndGlyphs" class="t">0.2 µM</text>
<text transform="translate(1618.6 1648.4) rotate(-45)" font-size="29.1" textLength="59.2" lengthAdjust="spacingAndGlyphs" class="t">1 µM</text>
<text transform="translate(1672.2 1653.3) rotate(-45)" font-size="29.1" textLength="67.9" lengthAdjust="spacingAndGlyphs" class="t">DMSO</text>
<text transform="translate(1726.2 1649.8) rotate(-45)" font-size="29.1" textLength="86.4" lengthAdjust="spacingAndGlyphs" class="t">0.2 µM</text>
<text transform="translate(1779.1 1648.4) rotate(-45)" font-size="29.1" textLength="59.2" lengthAdjust="spacingAndGlyphs" class="t">1 µM</text>
<rect x="897.8" y="1656.8" width="163.2" height="48.8" fill="#fefefe"/>
<rect x="904.0" y="1660.2" width="47.9" height="42.1" fill="#fafafa"/>
<rect x="904.0" y="1665.0" width="47.9" height="41.0" fill="url(#b21)"/>
<rect x="955.6" y="1660.2" width="47.3" height="42.1" fill="#fafafa"/>
<rect x="955.6" y="1665.5" width="47.3" height="41.0" fill="url(#b21)"/>
<rect x="1006.5" y="1660.2" width="47.3" height="42.1" fill="#fafafa"/>
<rect x="1006.5" y="1663.0" width="47.3" height="41.0" fill="url(#b21)"/>
<rect x="897.8" y="1656.8" width="163.2" height="48.8" fill="none" stroke="#1c1c1c" stroke-width="2.7"/>
<rect x="897.8" y="1713.2" width="163.2" height="48.3" fill="#fefefe"/>
<rect x="904.0" y="1716.6" width="47.9" height="41.6" fill="#fafafa"/>
<rect x="904.0" y="1724.5" width="47.9" height="35.0" fill="url(#b22)"/>
<rect x="955.6" y="1716.6" width="47.3" height="41.6" fill="#fafafa"/>
<rect x="955.6" y="1724.0" width="47.3" height="35.0" fill="url(#b23)"/>
<rect x="1006.5" y="1716.6" width="47.3" height="41.6" fill="#fafafa"/>
<rect x="1006.5" y="1720.0" width="47.3" height="39.0" fill="url(#b24)"/>
<rect x="897.8" y="1713.2" width="163.2" height="48.3" fill="none" stroke="#1c1c1c" stroke-width="2.7"/>
<rect x="897.8" y="1769.6" width="163.2" height="48.3" fill="#fefefe"/>
<rect x="904.0" y="1773.0" width="47.9" height="41.6" fill="#fafafa"/>
<rect x="955.6" y="1773.0" width="47.3" height="41.6" fill="#fafafa"/>
<rect x="955.6" y="1772.7" width="47.3" height="44.0" fill="url(#b25)"/>
<rect x="1006.5" y="1773.0" width="47.3" height="41.6" fill="#fafafa"/>
<rect x="1006.5" y="1771.5" width="47.3" height="46.0" fill="url(#b21)"/>
<rect x="897.8" y="1769.6" width="163.2" height="48.3" fill="none" stroke="#1c1c1c" stroke-width="2.7"/>
<rect x="897.8" y="1826.0" width="163.2" height="48.2" fill="#fefefe"/>
<rect x="904.0" y="1829.4" width="47.9" height="41.5" fill="#fafafa"/>
<rect x="904.0" y="1825.0" width="47.9" height="22.0" fill="url(#b26)"/>
<rect x="904.0" y="1837.0" width="47.9" height="32.0" fill="url(#b27)"/>
<rect x="955.6" y="1829.4" width="47.3" height="41.5" fill="#fafafa"/>
<rect x="955.6" y="1826.0" width="47.3" height="24.0" fill="url(#b28)"/>
<rect x="955.6" y="1841.5" width="47.3" height="22.0" fill="url(#b29)"/>
<rect x="1006.5" y="1829.4" width="47.3" height="41.5" fill="#fafafa"/>
<rect x="1006.5" y="1825.0" width="47.3" height="26.0" fill="url(#b30)"/>
<rect x="1006.5" y="1839.2" width="47.3" height="26.6" fill="url(#b31)"/>
<rect x="897.8" y="1826.0" width="163.2" height="48.2" fill="none" stroke="#1c1c1c" stroke-width="2.7"/>
<rect x="897.8" y="1881.9" width="163.2" height="47.8" fill="#fefefe"/>
<rect x="904.0" y="1885.3" width="47.9" height="41.1" fill="#fafafa"/>
<rect x="904.0" y="1895.0" width="47.9" height="31.0" fill="url(#b32)"/>
<rect x="955.6" y="1885.3" width="47.3" height="41.1" fill="#fafafa"/>
<rect x="955.6" y="1895.0" width="47.3" height="31.0" fill="url(#b14)"/>
<rect x="1006.5" y="1885.3" width="47.3" height="41.1" fill="#fafafa"/>
<rect x="1006.5" y="1895.0" width="47.3" height="31.0" fill="url(#b32)"/>
<rect x="897.8" y="1881.9" width="163.2" height="47.8" fill="none" stroke="#1c1c1c" stroke-width="2.7"/>
<text x="887.9" y="1699.7" font-size="29.1" text-anchor="end" textLength="78.6" lengthAdjust="spacingAndGlyphs" class="t">eIF2α</text>
<text x="887.9" y="1754.5" font-size="29.1" text-anchor="end" textLength="106.9" lengthAdjust="spacingAndGlyphs" class="t">p-eIF2α</text>
<text x="887.9" y="1808.0" font-size="29.1" text-anchor="end" textLength="65.9" lengthAdjust="spacingAndGlyphs" class="t">ATF4</text>
<text x="886.2" y="1862.8" font-size="29.1" text-anchor="end" textLength="94.4" lengthAdjust="spacingAndGlyphs" class="t">DNMT1</text>
<text x="889.1" y="1917.0" font-size="29.1" text-anchor="end" textLength="98.7" lengthAdjust="spacingAndGlyphs" class="t">Tubulin</text>
<rect x="1201.1" y="1664.0" width="163.8" height="47.7" fill="#fefefe"/>
<rect x="1208.1" y="1667.7" width="45.5" height="40.3" fill="#fafafa"/>
<rect x="1208.1" y="1676.9" width="45.5" height="28.2" fill="url(#b15)"/>
<rect x="1257.0" y="1667.7" width="46.0" height="40.3" fill="#fafafa"/>
<rect x="1257.0" y="1676.4" width="46.0" height="28.2" fill="url(#b33)"/>
<rect x="1307.1" y="1667.7" width="45.7" height="40.3" fill="#fafafa"/>
<rect x="1307.1" y="1677.9" width="45.7" height="30.2" fill="url(#b34)"/>
<rect x="1201.1" y="1664.0" width="163.8" height="47.7" fill="none" stroke="#1c1c1c" stroke-width="3.4"/>
<rect x="1201.1" y="1720.2" width="163.8" height="47.9" fill="#fefefe"/>
<rect x="1208.1" y="1723.9" width="45.5" height="40.5" fill="#fafafa"/>
<rect x="1208.1" y="1734.2" width="45.5" height="14.7" fill="url(#b35)"/>
<rect x="1257.0" y="1723.9" width="46.0" height="40.5" fill="#fafafa"/>
<rect x="1257.0" y="1729.9" width="46.0" height="21.8" fill="url(#b36)"/>
<rect x="1307.1" y="1723.9" width="45.7" height="40.5" fill="#fafafa"/>
<rect x="1307.1" y="1730.9" width="45.7" height="21.8" fill="url(#b37)"/>
<rect x="1201.1" y="1720.2" width="163.8" height="47.9" fill="none" stroke="#1c1c1c" stroke-width="3.4"/>
<rect x="1201.1" y="1773.7" width="163.8" height="48.2" fill="#fefefe"/>
<rect x="1208.1" y="1777.4" width="45.5" height="40.8" fill="#fafafa"/>
<rect x="1257.0" y="1777.4" width="46.0" height="40.8" fill="#fafafa"/>
<rect x="1257.0" y="1778.7" width="46.0" height="30.0" fill="url(#b38)"/>
<rect x="1307.1" y="1777.4" width="45.7" height="40.8" fill="#fafafa"/>
<rect x="1307.1" y="1779.2" width="45.7" height="32.0" fill="url(#b39)"/>
<rect x="1201.1" y="1773.7" width="163.8" height="48.2" fill="none" stroke="#1c1c1c" stroke-width="3.4"/>
<rect x="1201.1" y="1832.7" width="163.8" height="48.6" fill="#fefefe"/>
<rect x="1208.1" y="1836.4" width="45.5" height="41.2" fill="#fafafa"/>
<rect x="1208.1" y="1838.1" width="45.5" height="31.0" fill="url(#b40)"/>
<rect x="1257.0" y="1836.4" width="46.0" height="41.2" fill="#fafafa"/>
<rect x="1257.0" y="1842.8" width="46.0" height="27.4" fill="url(#b41)"/>
<rect x="1307.1" y="1836.4" width="45.7" height="41.2" fill="#fafafa"/>
<rect x="1307.1" y="1837.0" width="45.7" height="36.0" fill="url(#b42)"/>
<rect x="1201.1" y="1832.7" width="163.8" height="48.6" fill="none" stroke="#1c1c1c" stroke-width="3.4"/>
<rect x="1201.1" y="1888.3" width="163.8" height="47.9" fill="#fefefe"/>
<rect x="1208.1" y="1892.0" width="45.5" height="40.5" fill="#fafafa"/>
<rect x="1208.1" y="1896.7" width="45.5" height="21.6" fill="url(#b43)"/>
<rect x="1257.0" y="1892.0" width="46.0" height="40.5" fill="#fafafa"/>
<rect x="1257.0" y="1896.4" width="46.0" height="21.6" fill="url(#b43)"/>
<rect x="1307.1" y="1892.0" width="45.7" height="40.5" fill="#fafafa"/>
<rect x="1307.1" y="1895.7" width="45.7" height="21.6" fill="url(#b43)"/>
<rect x="1201.1" y="1888.3" width="163.8" height="47.9" fill="none" stroke="#1c1c1c" stroke-width="3.4"/>
<text x="1193.3" y="1697.9" font-size="29.1" text-anchor="end" textLength="78.5" lengthAdjust="spacingAndGlyphs" class="t">eIF2α</text>
<text x="1193.3" y="1751.7" font-size="29.1" text-anchor="end" textLength="106.9" lengthAdjust="spacingAndGlyphs" class="t">p-eIF2α</text>
<text x="1193.3" y="1807.0" font-size="29.1" text-anchor="end" textLength="65.7" lengthAdjust="spacingAndGlyphs" class="t">ATF4</text>
<text x="1191.8" y="1862.0" font-size="29.1" text-anchor="end" textLength="95.4" lengthAdjust="spacingAndGlyphs" class="t">DNMT1</text>
<text x="1194.6" y="1914.8" font-size="29.1" text-anchor="end" textLength="102.2" lengthAdjust="spacingAndGlyphs" class="t">β-Actin</text>
<rect x="1492.7" y="1658.9" width="322.7" height="48.9" fill="#fefefe"/>
<rect x="1508.2" y="1662.2" width="46.1" height="42.3" fill="#fafafa"/>
<rect x="1508.2" y="1665.9" width="46.1" height="31.4" fill="url(#b44)"/>
<rect x="1559.1" y="1662.2" width="46.1" height="42.3" fill="#fafafa"/>
<rect x="1559.1" y="1666.3" width="46.1" height="31.4" fill="url(#b44)"/>
<rect x="1610.0" y="1662.2" width="45.6" height="42.3" fill="#fafafa"/>
<rect x="1610.0" y="1666.9" width="45.6" height="29.4" fill="url(#b45)"/>
<rect x="1660.7" y="1662.2" width="45.8" height="42.3" fill="#fafafa"/>
<rect x="1660.7" y="1665.3" width="45.8" height="31.4" fill="url(#b44)"/>
<rect x="1711.0" y="1662.2" width="46.4" height="42.3" fill="#fafafa"/>
<rect x="1711.0" y="1668.4" width="46.4" height="26.4" fill="url(#b46)"/>
<rect x="1761.9" y="1662.2" width="46.4" height="42.3" fill="#fafafa"/>
<rect x="1761.9" y="1667.4" width="46.4" height="26.4" fill="url(#b47)"/>
<rect x="1492.7" y="1658.9" width="322.7" height="48.9" fill="none" stroke="#1c1c1c" stroke-width="2.6"/>
<rect x="1492.7" y="1715.8" width="322.7" height="48.1" fill="#fefefe"/>
<rect x="1508.2" y="1719.1" width="46.1" height="41.5" fill="#fafafa"/>
<rect x="1508.2" y="1730.8" width="46.1" height="25.6" fill="url(#b48)"/>
<rect x="1559.1" y="1719.1" width="46.1" height="41.5" fill="#fafafa"/>
<rect x="1559.1" y="1729.8" width="46.1" height="27.6" fill="url(#b49)"/>
<rect x="1610.0" y="1719.1" width="45.6" height="41.5" fill="#fafafa"/>
<rect x="1610.0" y="1729.8" width="45.6" height="27.6" fill="url(#b50)"/>
<rect x="1660.7" y="1719.1" width="45.8" height="41.5" fill="#fafafa"/>
<rect x="1660.7" y="1730.2" width="45.8" height="25.6" fill="url(#b51)"/>
<rect x="1711.0" y="1719.1" width="46.4" height="41.5" fill="#fafafa"/>
<rect x="1711.0" y="1729.6" width="46.4" height="27.4" fill="url(#b52)"/>
<rect x="1761.9" y="1719.1" width="46.4" height="41.5" fill="#fafafa"/>
<rect x="1761.9" y="1728.1" width="46.4" height="30.4" fill="url(#b53)"/>
<rect x="1492.7" y="1715.8" width="322.7" height="48.1" fill="none" stroke="#1c1c1c" stroke-width="2.6"/>
<rect x="1492.7" y="1771.8" width="322.7" height="48.4" fill="#fefefe"/>
<rect x="1508.2" y="1775.1" width="46.1" height="41.8" fill="#fafafa"/>
<rect x="1559.1" y="1775.1" width="46.1" height="41.8" fill="#fafafa"/>
<rect x="1559.1" y="1788.6" width="46.1" height="25.4" fill="url(#b54)"/>
<rect x="1610.0" y="1775.1" width="45.6" height="41.8" fill="#fafafa"/>
<rect x="1610.0" y="1788.7" width="45.6" height="25.2" fill="url(#b39)"/>
<rect x="1660.7" y="1775.1" width="45.8" height="41.8" fill="#fafafa"/>
<rect x="1711.0" y="1775.1" width="46.4" height="41.8" fill="#fafafa"/>
<rect x="1761.9" y="1775.1" width="46.4" height="41.8" fill="#fafafa"/>
<rect x="1761.9" y="1782.8" width="46.4" height="33.0" fill="url(#b55)"/>
<rect x="1492.7" y="1771.8" width="322.7" height="48.4" fill="none" stroke="#1c1c1c" stroke-width="2.6"/>
<rect x="1492.7" y="1825.8" width="322.7" height="48.3" fill="#fefefe"/>
<rect x="1508.2" y="1829.1" width="46.1" height="41.7" fill="#fafafa"/>
<rect x="1508.2" y="1837.4" width="46.1" height="23.8" fill="url(#b56)"/>
<rect x="1559.1" y="1829.1" width="46.1" height="41.7" fill="#fafafa"/>
<rect x="1559.1" y="1838.8" width="46.1" height="22.0" fill="url(#b57)"/>
<rect x="1610.0" y="1829.1" width="45.6" height="41.7" fill="#fafafa"/>
<rect x="1610.0" y="1839.7" width="45.6" height="21.0" fill="url(#b58)"/>
<rect x="1660.7" y="1829.1" width="45.8" height="41.7" fill="#fafafa"/>
<rect x="1660.7" y="1837.4" width="45.8" height="23.8" fill="url(#b59)"/>
<rect x="1711.0" y="1829.1" width="46.4" height="41.7" fill="#fafafa"/>
<rect x="1711.0" y="1839.3" width="46.4" height="21.0" fill="url(#b60)"/>
<rect x="1761.9" y="1829.1" width="46.4" height="41.7" fill="#fafafa"/>
<rect x="1761.9" y="1838.3" width="46.4" height="21.0" fill="url(#b61)"/>
<rect x="1492.7" y="1825.8" width="322.7" height="48.3" fill="none" stroke="#1c1c1c" stroke-width="2.6"/>
<rect x="1492.7" y="1884.2" width="322.7" height="47.7" fill="#fefefe"/>
<rect x="1508.2" y="1887.5" width="46.1" height="41.1" fill="#fafafa"/>
<rect x="1508.2" y="1900.6" width="46.1" height="24.0" fill="url(#b62)"/>
<rect x="1559.1" y="1887.5" width="46.1" height="41.1" fill="#fafafa"/>
<rect x="1559.1" y="1899.6" width="46.1" height="24.0" fill="url(#b62)"/>
<rect x="1610.0" y="1887.5" width="45.6" height="41.1" fill="#fafafa"/>
<rect x="1610.0" y="1900.7" width="45.6" height="23.0" fill="url(#b63)"/>
<rect x="1660.7" y="1887.5" width="45.8" height="41.1" fill="#fafafa"/>
<rect x="1660.7" y="1899.0" width="45.8" height="22.0" fill="url(#b29)"/>
<rect x="1711.0" y="1887.5" width="46.4" height="41.1" fill="#fafafa"/>
<rect x="1711.0" y="1899.8" width="46.4" height="24.0" fill="url(#b62)"/>
<rect x="1761.9" y="1887.5" width="46.4" height="41.1" fill="#fafafa"/>
<rect x="1761.9" y="1899.2" width="46.4" height="24.0" fill="url(#b64)"/>
<rect x="1492.7" y="1884.2" width="322.7" height="47.7" fill="none" stroke="#1c1c1c" stroke-width="2.6"/>
<text x="1485.7" y="1698.0" font-size="29.1" text-anchor="end" textLength="79.9" lengthAdjust="spacingAndGlyphs" class="t">eIF2α</text>
<text x="1485.7" y="1752.6" font-size="29.1" text-anchor="end" textLength="108.4" lengthAdjust="spacingAndGlyphs" class="t">p-eIF2α</text>
<text x="1485.7" y="1806.5" font-size="29.1" text-anchor="end" textLength="66.7" lengthAdjust="spacingAndGlyphs" class="t">ATF4</text>
<text x="1483.0" y="1861.0" font-size="29.1" text-anchor="end" textLength="94.7" lengthAdjust="spacingAndGlyphs" class="t">DNMT1</text>
<text x="1487.1" y="1914.3" font-size="29.1" text-anchor="end" textLength="98.6" lengthAdjust="spacingAndGlyphs" class="t">GAPDH</text>
<text x="970.8" y="2016.4" font-size="29.1" text-anchor="middle" textLength="116.9" lengthAdjust="spacingAndGlyphs" class="t">AML-193</text>
<line x1="603.9" y1="2032.8" x2="1390.6" y2="2032.8" stroke="#1a1a1a" stroke-width="2.9" />
<text x="628.7" y="2074.0" font-size="30.2" textLength="121.4" lengthAdjust="spacingAndGlyphs" class="t">24 hours</text>
<text x="787.8" y="2074.0" font-size="30.2" textLength="119.2" lengthAdjust="spacingAndGlyphs" class="t">48 hours</text>
<text x="943.1" y="2074.0" font-size="30.2" textLength="121.4" lengthAdjust="spacingAndGlyphs" class="t">72 hours</text>
<text x="1100.2" y="2074.0" font-size="30.2" textLength="121.1" lengthAdjust="spacingAndGlyphs" class="t">96 hours</text>
<text x="1258.7" y="2074.0" font-size="30.2" textLength="89.5" lengthAdjust="spacingAndGlyphs" class="t">7 days</text>
<line x1="612.1" y1="2088.7" x2="753.1" y2="2088.7" stroke="#1a1a1a" stroke-width="2" />
<line x1="781.3" y1="2088.7" x2="923.5" y2="2088.7" stroke="#1a1a1a" stroke-width="2" />
<line x1="935.9" y1="2088.7" x2="1076.3" y2="2088.7" stroke="#1a1a1a" stroke-width="2" />
<line x1="1086.9" y1="2088.7" x2="1229.0" y2="2088.7" stroke="#1a1a1a" stroke-width="2" />
<line x1="1240.8" y1="2088.7" x2="1382.4" y2="2088.7" stroke="#1a1a1a" stroke-width="2" />
<text transform="translate(629.7 2168.7) rotate(-45)" font-size="28.1" textLength="67.4" lengthAdjust="spacingAndGlyphs" class="t">DMSO</text>
<text transform="translate(684.4 2164.2) rotate(-45)" font-size="28.1" textLength="65.0" lengthAdjust="spacingAndGlyphs" class="t">Extn.</text>
<text transform="translate(736.6 2165.9) rotate(-45)" font-size="28.1" textLength="67.3" lengthAdjust="spacingAndGlyphs" class="t">Conv.</text>
<text transform="translate(786.9 2164.8) rotate(-45)" font-size="28.1" textLength="67.4" lengthAdjust="spacingAndGlyphs" class="t">DMSO</text>
<text transform="translate(841.6 2162.1) rotate(-45)" font-size="28.1" textLength="65.0" lengthAdjust="spacingAndGlyphs" class="t">Extn.</text>
<text transform="translate(893.8 2163.9) rotate(-45)" font-size="28.1" textLength="67.3" lengthAdjust="spacingAndGlyphs" class="t">Conv.</text>
<text transform="translate(944.1 2164.8) rotate(-45)" font-size="28.1" textLength="67.4" lengthAdjust="spacingAndGlyphs" class="t">DMSO</text>
<text transform="translate(998.8 2162.1) rotate(-45)" font-size="28.1" textLength="65.0" lengthAdjust="spacingAndGlyphs" class="t">Extn.</text>
<text transform="translate(1051.0 2163.9) rotate(-45)" font-size="28.1" textLength="67.3" lengthAdjust="spacingAndGlyphs" class="t">Conv.</text>
<text transform="translate(1101.3 2164.8) rotate(-45)" font-size="28.1" textLength="67.4" lengthAdjust="spacingAndGlyphs" class="t">DMSO</text>
<text transform="translate(1156.0 2162.1) rotate(-45)" font-size="28.1" textLength="65.0" lengthAdjust="spacingAndGlyphs" class="t">Extn.</text>
<text transform="translate(1208.2 2163.9) rotate(-45)" font-size="28.1" textLength="67.3" lengthAdjust="spacingAndGlyphs" class="t">Conv.</text>
<text transform="translate(1258.5 2164.8) rotate(-45)" font-size="28.1" textLength="67.4" lengthAdjust="spacingAndGlyphs" class="t">DMSO</text>
<text transform="translate(1313.2 2162.1) rotate(-45)" font-size="28.1" textLength="65.0" lengthAdjust="spacingAndGlyphs" class="t">Extn.</text>
<text transform="translate(1365.4 2163.9) rotate(-45)" font-size="28.1" textLength="67.3" lengthAdjust="spacingAndGlyphs" class="t">Conv.</text>
<rect x="603.3" y="2173.0" width="790.0" height="30.7" fill="#fefefe"/>
<rect x="609.4" y="2174.5" width="47.0" height="27.7" fill="#fafafa"/>
<rect x="609.4" y="2175.2" width="47.0" height="25.6" fill="url(#b65)"/>
<rect x="661.6" y="2174.5" width="47.0" height="27.7" fill="#fafafa"/>
<rect x="661.6" y="2173.4" width="47.0" height="30.4" fill="url(#b53)"/>
<rect x="713.8" y="2174.5" width="47.0" height="27.7" fill="#fafafa"/>
<rect x="713.8" y="2170.8" width="47.0" height="30.4" fill="url(#b32)"/>
<rect x="766.1" y="2174.5" width="47.0" height="27.7" fill="#fafafa"/>
<rect x="766.1" y="2177.2" width="47.0" height="21.7" fill="url(#b66)"/>
<rect x="818.3" y="2174.5" width="47.0" height="27.7" fill="#fafafa"/>
<rect x="818.3" y="2172.7" width="47.0" height="27.2" fill="url(#b67)"/>
<rect x="870.5" y="2174.5" width="47.0" height="27.7" fill="#fafafa"/>
<rect x="870.5" y="2173.9" width="47.0" height="27.2" fill="url(#b45)"/>
<rect x="922.7" y="2174.5" width="47.0" height="27.7" fill="#fafafa"/>
<rect x="922.7" y="2174.8" width="47.0" height="24.4" fill="url(#b68)"/>
<rect x="974.9" y="2174.5" width="47.0" height="27.7" fill="#fafafa"/>
<rect x="974.9" y="2172.8" width="47.0" height="28.4" fill="url(#b69)"/>
<rect x="1027.2" y="2174.5" width="47.0" height="27.7" fill="#fafafa"/>
<rect x="1027.2" y="2174.7" width="47.0" height="24.2" fill="url(#b70)"/>
<rect x="1079.4" y="2174.5" width="47.0" height="27.7" fill="#fafafa"/>
<rect x="1079.4" y="2176.8" width="47.0" height="24.4" fill="url(#b71)"/>
<rect x="1131.6" y="2174.5" width="47.0" height="27.7" fill="#fafafa"/>
<rect x="1131.6" y="2172.4" width="47.0" height="25.2" fill="url(#b72)"/>
<rect x="1183.8" y="2174.5" width="47.0" height="27.7" fill="#fafafa"/>
<rect x="1183.8" y="2174.7" width="47.0" height="23.2" fill="url(#b73)"/>
<rect x="1236.0" y="2174.5" width="47.0" height="27.7" fill="#fafafa"/>
<rect x="1236.0" y="2176.3" width="47.0" height="23.4" fill="url(#b74)"/>
<rect x="1288.3" y="2174.5" width="47.0" height="27.7" fill="#fafafa"/>
<rect x="1288.3" y="2175.1" width="47.0" height="23.4" fill="url(#b75)"/>
<rect x="1340.5" y="2174.5" width="47.0" height="27.7" fill="#fafafa"/>
<rect x="1340.5" y="2176.9" width="47.0" height="25.6" fill="url(#b68)"/>
<rect x="603.3" y="2173.0" width="790.0" height="30.7" fill="none" stroke="#3a3a3a" stroke-width="1.1"/>
<rect x="603.3" y="2209.3" width="791.2" height="38.5" fill="#fefefe"/>
<rect x="614.2" y="2211.0" width="47.0" height="35.0" fill="#fafafa"/>
<rect x="614.2" y="2210.2" width="47.0" height="32.9" fill="url(#b76)"/>
<rect x="666.2" y="2211.0" width="47.0" height="35.0" fill="#fafafa"/>
<rect x="666.2" y="2211.6" width="47.0" height="32.9" fill="url(#b77)"/>
<rect x="717.8" y="2211.0" width="47.0" height="35.0" fill="#fafafa"/>
<rect x="717.8" y="2209.6" width="47.0" height="32.9" fill="url(#b78)"/>
<rect x="770.3" y="2211.0" width="47.0" height="35.0" fill="#fafafa"/>
<rect x="770.3" y="2208.1" width="47.0" height="31.9" fill="url(#b79)"/>
<rect x="821.8" y="2211.0" width="47.0" height="35.0" fill="#fafafa"/>
<rect x="821.8" y="2209.1" width="47.0" height="32.9" fill="url(#b80)"/>
<rect x="873.1" y="2211.0" width="47.0" height="35.0" fill="#fafafa"/>
<rect x="873.1" y="2210.1" width="47.0" height="32.9" fill="url(#b77)"/>
<rect x="925.1" y="2211.0" width="47.0" height="35.0" fill="#fafafa"/>
<rect x="925.1" y="2209.1" width="47.0" height="31.9" fill="url(#b44)"/>
<rect x="977.1" y="2211.0" width="47.0" height="35.0" fill="#fafafa"/>
<rect x="977.1" y="2209.6" width="47.0" height="31.9" fill="url(#b81)"/>
<rect x="1029.1" y="2211.0" width="47.0" height="35.0" fill="#fafafa"/>
<rect x="1029.1" y="2208.9" width="47.0" height="30.9" fill="url(#b82)"/>
<rect x="1080.4" y="2211.0" width="47.0" height="35.0" fill="#fafafa"/>
<rect x="1080.4" y="2211.1" width="47.0" height="33.9" fill="url(#b83)"/>
<rect x="1132.4" y="2211.0" width="47.0" height="35.0" fill="#fafafa"/>
<rect x="1132.4" y="2208.1" width="47.0" height="31.9" fill="url(#b84)"/>
<rect x="1184.5" y="2211.0" width="47.0" height="35.0" fill="#fafafa"/>
<rect x="1184.5" y="2208.1" width="47.0" height="30.9" fill="url(#b85)"/>
<rect x="1236.0" y="2211.0" width="47.0" height="35.0" fill="#fafafa"/>
<rect x="1236.0" y="2211.6" width="47.0" height="32.9" fill="url(#b80)"/>
<rect x="1287.8" y="2211.0" width="47.0" height="35.0" fill="#fafafa"/>
<rect x="1287.8" y="2210.1" width="47.0" height="31.9" fill="url(#b44)"/>
<rect x="1339.8" y="2211.0" width="47.0" height="35.0" fill="#fafafa"/>
<rect x="1339.8" y="2211.6" width="47.0" height="34.9" fill="url(#b86)"/>
<rect x="603.3" y="2209.3" width="791.2" height="38.5" fill="none" stroke="#1c1c1c" stroke-width="1.6"/>
<rect x="603.3" y="2253.8" width="791.2" height="44.8" fill="#fefefe"/>
<rect x="614.2" y="2256.0" width="47.0" height="40.5" fill="#fafafa"/>
<rect x="666.2" y="2256.0" width="47.0" height="40.5" fill="#fafafa"/>
<rect x="666.2" y="2264.2" width="47.0" height="26.6" fill="url(#b57)"/>
<rect x="717.8" y="2256.0" width="47.0" height="40.5" fill="#fafafa"/>
<rect x="717.8" y="2259.0" width="47.0" height="37.0" fill="url(#b87)"/>
<rect x="770.3" y="2256.0" width="47.0" height="40.5" fill="#fafafa"/>
<rect x="821.8" y="2256.0" width="47.0" height="40.5" fill="#fafafa"/>
<rect x="821.8" y="2263.5" width="47.0" height="30.0" fill="url(#b88)"/>
<rect x="873.1" y="2256.0" width="47.0" height="40.5" fill="#fafafa"/>
<rect x="873.1" y="2262.5" width="47.0" height="29.0" fill="url(#b89)"/>
<rect x="925.1" y="2256.0" width="47.0" height="40.5" fill="#fafafa"/>
<rect x="977.1" y="2256.0" width="47.0" height="40.5" fill="#fafafa"/>
<rect x="977.1" y="2264.3" width="47.0" height="27.8" fill="url(#b31)"/>
<rect x="1029.1" y="2256.0" width="47.0" height="40.5" fill="#fafafa"/>
<rect x="1080.4" y="2256.0" width="47.0" height="40.5" fill="#fafafa"/>
<rect x="1132.4" y="2256.0" width="47.0" height="40.5" fill="#fafafa"/>
<rect x="1134.9" y="2260.6" width="47.0" height="25.6" fill="url(#b3)"/>
<rect x="1184.5" y="2256.0" width="47.0" height="40.5" fill="#fafafa"/>
<rect x="1236.0" y="2256.0" width="47.0" height="40.5" fill="#fafafa"/>
<rect x="1287.8" y="2256.0" width="47.0" height="40.5" fill="#fafafa"/>
<rect x="1339.8" y="2256.0" width="47.0" height="40.5" fill="#fafafa"/>
<rect x="603.3" y="2253.8" width="791.2" height="44.8" fill="none" stroke="#1c1c1c" stroke-width="1.6"/>
<rect x="603.3" y="2303.4" width="791.2" height="46.0" fill="#fefefe"/>
<rect x="614.2" y="2305.5" width="47.0" height="42.0" fill="#fafafa"/>
<rect x="666.2" y="2305.5" width="47.0" height="42.0" fill="#fafafa"/>
<rect x="717.8" y="2305.5" width="47.0" height="42.0" fill="#fafafa"/>
<rect x="770.3" y="2305.5" width="47.0" height="42.0" fill="#fafafa"/>
<rect x="821.8" y="2305.5" width="47.0" height="42.0" fill="#fafafa"/>
<rect x="873.1" y="2305.5" width="47.0" height="42.0" fill="#fafafa"/>
<rect x="925.1" y="2305.5" width="47.0" height="42.0" fill="#fafafa"/>
<rect x="977.1" y="2305.5" width="47.0" height="42.0" fill="#fafafa"/>
<rect x="1029.1" y="2305.5" width="47.0" height="42.0" fill="#fafafa"/>
<rect x="1080.4" y="2305.5" width="47.0" height="42.0" fill="#fafafa"/>
<rect x="1132.4" y="2305.5" width="47.0" height="42.0" fill="#fafafa"/>
<rect x="1184.5" y="2305.5" width="47.0" height="42.0" fill="#fafafa"/>
<rect x="1236.0" y="2305.5" width="47.0" height="42.0" fill="#fafafa"/>
<rect x="1287.8" y="2305.5" width="47.0" height="42.0" fill="#fafafa"/>
<rect x="1339.8" y="2305.5" width="47.0" height="42.0" fill="#fafafa"/>
<rect x="716.3" y="2308.9" width="47.4" height="27.8" fill="url(#b90)"/>
<rect x="603.3" y="2303.4" width="791.2" height="46.0" fill="none" stroke="#1c1c1c" stroke-width="1.6"/>
<text x="566.6" y="2195.6" font-size="29.1" text-anchor="end" textLength="109.2" lengthAdjust="spacingAndGlyphs" class="t">p-eIF2α</text>
<text x="566.6" y="2247.3" font-size="29.1" text-anchor="end" textLength="79.1" lengthAdjust="spacingAndGlyphs" class="t">eIF2α</text>
<text x="566.6" y="2287.3" font-size="29.1" text-anchor="end" textLength="67.3" lengthAdjust="spacingAndGlyphs" class="t">ATF4</text>
<text x="567.2" y="2338.4" font-size="29.1" text-anchor="end" textLength="79.9" lengthAdjust="spacingAndGlyphs" class="t">CHOP</text>
</svg>
</body>
</html>
